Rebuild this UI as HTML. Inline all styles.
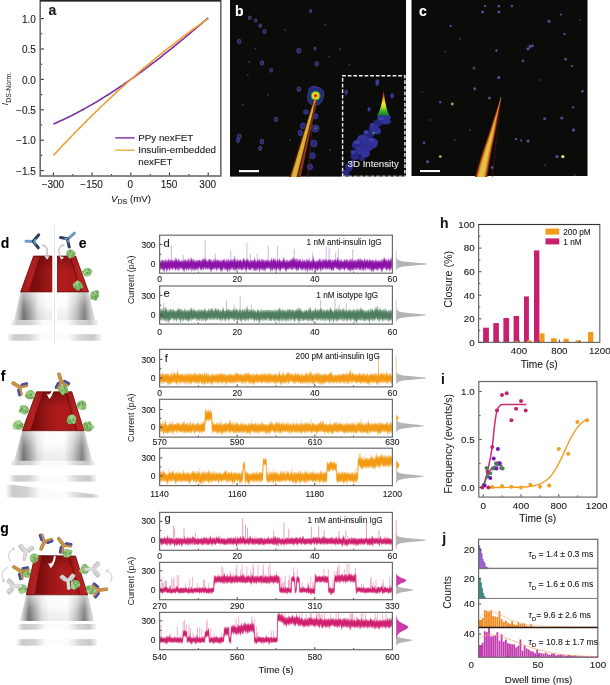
<!DOCTYPE html>
<html><head><meta charset="utf-8"><style>
html,body{margin:0;padding:0;background:#fff;}
svg{display:block;font-family:"Liberation Sans", sans-serif;filter:blur(0.35px);}
</style></head><body>
<svg width="610" height="685" viewBox="0 0 610 685">
<rect width="610" height="685" fill="#fff"/>
<polyline points="53.4,124.0 54.7,123.4 56.0,122.9 57.3,122.3 58.6,121.7 59.9,121.1 61.1,120.6 62.4,120.0 63.7,119.4 65.0,118.8 66.3,118.1 67.6,117.5 68.9,116.9 70.2,116.3 71.5,115.6 72.8,115.0 74.0,114.3 75.3,113.6 76.6,113.0 77.9,112.3 79.2,111.6 80.5,110.9 81.8,110.2 83.1,109.5 84.4,108.8 85.7,108.1 86.9,107.4 88.2,106.6 89.5,105.9 90.8,105.2 92.1,104.4 93.4,103.7 94.7,102.9 96.0,102.2 97.3,101.4 98.6,100.6 99.8,99.8 101.1,99.0 102.4,98.2 103.7,97.4 105.0,96.6 106.3,95.8 107.6,95.0 108.9,94.2 110.2,93.4 111.5,92.5 112.7,91.7 114.0,90.8 115.3,90.0 116.6,89.1 117.9,88.3 119.2,87.4 120.5,86.5 121.8,85.7 123.1,84.8 124.4,83.9 125.6,83.0 126.9,82.1 128.2,81.2 129.5,80.3 130.8,79.4 132.1,78.5 133.4,77.6 134.7,76.6 136.0,75.7 137.2,74.8 138.5,73.8 139.8,72.9 141.1,72.0 142.4,71.0 143.7,70.1 145.0,69.1 146.3,68.1 147.6,67.2 148.9,66.2 150.2,65.2 151.4,64.2 152.7,63.2 154.0,62.3 155.3,61.3 156.6,60.3 157.9,59.3 159.2,58.3 160.5,57.3 161.8,56.3 163.1,55.2 164.3,54.2 165.6,53.2 166.9,52.2 168.2,51.1 169.5,50.1 170.8,49.1 172.1,48.0 173.4,47.0 174.7,46.0 176.0,44.9 177.2,43.9 178.5,42.8 179.8,41.7 181.1,40.7 182.4,39.6 183.7,38.6 185.0,37.5 186.3,36.4 187.6,35.3 188.9,34.3 190.1,33.2 191.4,32.1 192.7,31.0 194.0,29.9 195.3,28.8 196.6,27.7 197.9,26.6 199.2,25.6 200.5,24.5 201.8,23.3 203.0,22.2 204.3,21.1 205.6,20.0 206.9,18.9 208.2,17.8" fill="none" stroke="#7b2ca6" stroke-width="1.6"/>
<polyline points="53.4,155.4 54.7,154.0 56.0,152.6 57.3,151.2 58.6,149.9 59.9,148.5 61.1,147.1 62.4,145.8 63.7,144.4 65.0,143.0 66.3,141.7 67.6,140.3 68.9,139.0 70.2,137.6 71.5,136.3 72.8,135.0 74.0,133.6 75.3,132.3 76.6,131.0 77.9,129.7 79.2,128.4 80.5,127.1 81.8,125.8 83.1,124.5 84.4,123.2 85.7,121.9 86.9,120.6 88.2,119.3 89.5,118.0 90.8,116.8 92.1,115.5 93.4,114.2 94.7,113.0 96.0,111.7 97.3,110.5 98.6,109.2 99.8,108.0 101.1,106.7 102.4,105.5 103.7,104.3 105.0,103.0 106.3,101.8 107.6,100.6 108.9,99.4 110.2,98.2 111.5,97.0 112.7,95.8 114.0,94.6 115.3,93.4 116.6,92.2 117.9,91.0 119.2,89.8 120.5,88.7 121.8,87.5 123.1,86.3 124.4,85.2 125.6,84.0 126.9,82.8 128.2,81.7 129.5,80.5 130.8,79.4 132.1,78.3 133.4,77.1 134.7,76.0 136.0,74.9 137.2,73.8 138.5,72.6 139.8,71.5 141.1,70.4 142.4,69.3 143.7,68.2 145.0,67.1 146.3,66.0 147.6,64.9 148.9,63.9 150.2,62.8 151.4,61.7 152.7,60.6 154.0,59.6 155.3,58.5 156.6,57.4 157.9,56.4 159.2,55.3 160.5,54.3 161.8,53.3 163.1,52.2 164.3,51.2 165.6,50.2 166.9,49.1 168.2,48.1 169.5,47.1 170.8,46.1 172.1,45.1 173.4,44.1 174.7,43.1 176.0,42.1 177.2,41.1 178.5,40.1 179.8,39.1 181.1,38.2 182.4,37.2 183.7,36.2 185.0,35.2 186.3,34.3 187.6,33.3 188.9,32.4 190.1,31.4 191.4,30.5 192.7,29.5 194.0,28.6 195.3,27.7 196.6,26.8 197.9,25.8 199.2,24.9 200.5,24.0 201.8,23.1 203.0,22.2 204.3,21.3 205.6,20.4 206.9,19.5 208.2,18.6" fill="none" stroke="#eaa030" stroke-width="1.6"/>
<rect x="40.2" y="0.6" width="180.6" height="175.4" fill="none" stroke="#6a6a6a" stroke-width="1.6" />
<line x1="40.2" y1="0.6" x2="220.8" y2="0.6" stroke="#222" stroke-width="1.6" />
<line x1="41" y1="170.6" x2="43.8" y2="170.6" stroke="#333" stroke-width="1.1" />
<text x="35.8" y="174.7" font-size="10" text-anchor="end" font-weight="normal" fill="#1a1a1a" stroke="#1a1a1a" stroke-width="0.1" >−1.5</text>
<line x1="41" y1="155.4" x2="42.2" y2="155.4" stroke="#333" stroke-width="1.1" />
<line x1="41" y1="140.2" x2="43.8" y2="140.2" stroke="#333" stroke-width="1.1" />
<text x="35.8" y="144.3" font-size="10" text-anchor="end" font-weight="normal" fill="#1a1a1a" stroke="#1a1a1a" stroke-width="0.1" >−1.0</text>
<line x1="41" y1="125" x2="42.2" y2="125" stroke="#333" stroke-width="1.1" />
<line x1="41" y1="109.8" x2="43.8" y2="109.8" stroke="#333" stroke-width="1.1" />
<text x="35.8" y="113.9" font-size="10" text-anchor="end" font-weight="normal" fill="#1a1a1a" stroke="#1a1a1a" stroke-width="0.1" >−0.5</text>
<line x1="41" y1="94.6" x2="42.2" y2="94.6" stroke="#333" stroke-width="1.1" />
<line x1="41" y1="79.4" x2="43.8" y2="79.4" stroke="#333" stroke-width="1.1" />
<text x="35.8" y="83.5" font-size="10" text-anchor="end" font-weight="normal" fill="#1a1a1a" stroke="#1a1a1a" stroke-width="0.1" >0.0</text>
<line x1="41" y1="64.2" x2="42.2" y2="64.2" stroke="#333" stroke-width="1.1" />
<line x1="41" y1="49" x2="43.8" y2="49" stroke="#333" stroke-width="1.1" />
<text x="35.8" y="53.1" font-size="10" text-anchor="end" font-weight="normal" fill="#1a1a1a" stroke="#1a1a1a" stroke-width="0.1" >0.5</text>
<line x1="41" y1="33.8" x2="42.2" y2="33.8" stroke="#333" stroke-width="1.1" />
<line x1="41" y1="18.6" x2="43.8" y2="18.6" stroke="#333" stroke-width="1.1" />
<text x="35.8" y="22.7" font-size="10" text-anchor="end" font-weight="normal" fill="#1a1a1a" stroke="#1a1a1a" stroke-width="0.1" >1.0</text>
<line x1="53.4" y1="175.2" x2="53.4" y2="172.4" stroke="#333" stroke-width="1.1" />
<text x="52.9" y="188.2" font-size="10" text-anchor="middle" font-weight="normal" fill="#1a1a1a" stroke="#1a1a1a" stroke-width="0.1" >−300</text>
<line x1="72.8" y1="175.2" x2="72.8" y2="174" stroke="#333" stroke-width="1.1" />
<line x1="92.1" y1="175.2" x2="92.1" y2="172.4" stroke="#333" stroke-width="1.1" />
<text x="91.6" y="188.2" font-size="10" text-anchor="middle" font-weight="normal" fill="#1a1a1a" stroke="#1a1a1a" stroke-width="0.1" >−150</text>
<line x1="111.5" y1="175.2" x2="111.5" y2="174" stroke="#333" stroke-width="1.1" />
<line x1="130.8" y1="175.2" x2="130.8" y2="172.4" stroke="#333" stroke-width="1.1" />
<text x="130.3" y="188.2" font-size="10" text-anchor="middle" font-weight="normal" fill="#1a1a1a" stroke="#1a1a1a" stroke-width="0.1" >0</text>
<line x1="150.2" y1="175.2" x2="150.2" y2="174" stroke="#333" stroke-width="1.1" />
<line x1="169.5" y1="175.2" x2="169.5" y2="172.4" stroke="#333" stroke-width="1.1" />
<text x="169" y="188.2" font-size="10" text-anchor="middle" font-weight="normal" fill="#1a1a1a" stroke="#1a1a1a" stroke-width="0.1" >150</text>
<line x1="188.9" y1="175.2" x2="188.9" y2="174" stroke="#333" stroke-width="1.1" />
<line x1="208.2" y1="175.2" x2="208.2" y2="172.4" stroke="#333" stroke-width="1.1" />
<text x="207.7" y="188.2" font-size="10" text-anchor="middle" font-weight="normal" fill="#1a1a1a" stroke="#1a1a1a" stroke-width="0.1" >300</text>
<text x="131" y="202" font-size="9.7" text-anchor="middle" font-weight="normal" fill="#1a1a1a" stroke="#1a1a1a" stroke-width="0.1" ><tspan font-style="italic">V</tspan><tspan font-size="7" dy="2">DS</tspan><tspan dy="-2"> (mV)</tspan></text>
<g transform="translate(7.6,88.6) rotate(-90)"><text x="0" y="0" font-size="9.7" text-anchor="middle" fill="#1a1a1a"><tspan font-style="italic">I</tspan><tspan font-size="7" dy="3.3">DS-Norm.</tspan></text></g>
<text x="48.6" y="14.8" font-size="14" text-anchor="start" font-weight="bold" fill="#1a1a1a" stroke="#1a1a1a" stroke-width="0.1" >a</text>
<line x1="115.3" y1="137.9" x2="134.5" y2="137.9" stroke="#7b2ca6" stroke-width="1.4" />
<line x1="115.3" y1="150.2" x2="134.5" y2="150.2" stroke="#eda334" stroke-width="1.3" />
<text x="138.2" y="141.2" font-size="9.8" text-anchor="start" font-weight="normal" fill="#1a1a1a" stroke="#1a1a1a" stroke-width="0.1" >PPy nexFET</text>
<text x="138.2" y="153.4" font-size="9.8" text-anchor="start" font-weight="normal" fill="#1a1a1a" stroke="#1a1a1a" stroke-width="0.1" >Insulin-embedded</text>
<text x="138.2" y="165.3" font-size="9.8" text-anchor="start" font-weight="normal" fill="#1a1a1a" stroke="#1a1a1a" stroke-width="0.1" >nexFET</text>
<defs><linearGradient id="cone3d" x1="0" y1="1" x2="0" y2="0"><stop offset="0" stop-color="#107a30"/><stop offset="0.18" stop-color="#38b030"/><stop offset="0.35" stop-color="#c8e020"/><stop offset="0.5" stop-color="#f6e81a"/><stop offset="0.68" stop-color="#f49018"/><stop offset="0.85" stop-color="#e82838"/><stop offset="1" stop-color="#e0308a"/></linearGradient><radialGradient id="bdot"><stop offset="0" stop-color="#6a6aa6"/><stop offset="0.5" stop-color="#424282"/><stop offset="1" stop-color="#222244" stop-opacity="0"/></radialGradient><radialGradient id="bdot2"><stop offset="0" stop-color="#4a4ab8"/><stop offset="0.7" stop-color="#3a3aa8"/><stop offset="1" stop-color="#2a2a80" stop-opacity="0"/></radialGradient><filter id="blur04" x="-20%" y="-20%" width="140%" height="140%"><feGaussianBlur stdDeviation="0.5"/></filter><filter id="blur08" x="-30%" y="-30%" width="160%" height="160%"><feGaussianBlur stdDeviation="0.8"/></filter></defs>
<rect x="230" y="0" width="176" height="176.6" fill="#0b0b09" stroke="none" stroke-width="1" />
<rect x="411.5" y="0" width="176" height="176" fill="#0b0b09" stroke="none" stroke-width="1" />
<ellipse cx="249.7" cy="17.8" rx="1.4" ry="1.8" fill="#24245e" stroke="#5656a6" stroke-width="0.7"/>
<ellipse cx="255.7" cy="20.5" rx="1.4" ry="1.7" fill="#24245e" stroke="#5656a6" stroke-width="0.7"/>
<ellipse cx="260.2" cy="25.7" rx="1.4" ry="1.8" fill="#24245e" stroke="#5656a6" stroke-width="0.7"/>
<ellipse cx="264.6" cy="31.5" rx="1.6" ry="2.1" fill="#24245e" stroke="#5656a6" stroke-width="0.7"/>
<ellipse cx="239.2" cy="41.5" rx="1.8" ry="2.3" fill="#24245e" stroke="#5656a6" stroke-width="0.7"/>
<ellipse cx="298.8" cy="50.7" rx="2.0" ry="2.5" fill="#24245e" stroke="#5656a6" stroke-width="0.7"/>
<ellipse cx="310.6" cy="11" rx="1.2" ry="1.5" fill="#24245e" stroke="#5656a6" stroke-width="0.7"/>
<ellipse cx="262" cy="63" rx="1.7" ry="2.2" fill="#24245e" stroke="#5656a6" stroke-width="0.7"/>
<ellipse cx="271.2" cy="70.3" rx="1.4" ry="1.8" fill="#24245e" stroke="#5656a6" stroke-width="0.7"/>
<ellipse cx="316.6" cy="63.8" rx="1.8" ry="2.3" fill="#24245e" stroke="#5656a6" stroke-width="0.7"/>
<ellipse cx="315" cy="48.6" rx="1.2" ry="1.5" fill="#24245e" stroke="#5656a6" stroke-width="0.7"/>
<ellipse cx="298.8" cy="89.2" rx="1.8" ry="2.3" fill="#24245e" stroke="#5656a6" stroke-width="0.7"/>
<ellipse cx="275.9" cy="119.4" rx="1.7" ry="2.2" fill="#24245e" stroke="#5656a6" stroke-width="0.7"/>
<ellipse cx="239.2" cy="136.5" rx="1.9" ry="2.4" fill="#24245e" stroke="#5656a6" stroke-width="0.7"/>
<ellipse cx="237.9" cy="140.4" rx="1.6" ry="2.1" fill="#24245e" stroke="#5656a6" stroke-width="0.7"/>
<ellipse cx="262" cy="141.7" rx="1.9" ry="2.4" fill="#24245e" stroke="#5656a6" stroke-width="0.7"/>
<ellipse cx="260.2" cy="148.3" rx="1.6" ry="2.1" fill="#24245e" stroke="#5656a6" stroke-width="0.7"/>
<ellipse cx="346.2" cy="91.8" rx="1.3" ry="1.6" fill="#24245e" stroke="#5656a6" stroke-width="0.7"/>
<ellipse cx="377.4" cy="81.3" rx="1.4" ry="1.8" fill="#24245e" stroke="#5656a6" stroke-width="0.7"/>
<circle cx="255.5" cy="48.6" r="0.9" fill="#3a3a5a"/>
<circle cx="248.9" cy="61.9" r="0.9" fill="#3a3a5a"/>
<circle cx="247.8" cy="74.8" r="0.9" fill="#3a3a5a"/>
<circle cx="329.2" cy="56.4" r="0.9" fill="#3a3a5a"/>
<circle cx="339.7" cy="49.2" r="0.9" fill="#3a3a5a"/>
<circle cx="349.5" cy="64.6" r="0.9" fill="#3a3a5a"/>
<circle cx="285" cy="30" r="0.9" fill="#3a3a5a"/>
<circle cx="325" cy="25" r="0.9" fill="#3a3a5a"/>
<circle cx="290" cy="140" r="0.9" fill="#3a3a5a"/>
<circle cx="243" cy="105" r="0.9" fill="#3a3a5a"/>
<circle cx="330" cy="150" r="0.9" fill="#3a3a5a"/>
<circle cx="268" cy="95" r="0.9" fill="#3a3a5a"/>
<ellipse cx="314.6" cy="116.3" rx="3.40" ry="2.72" fill="#28287a" stroke="#4444a8" stroke-width="0.7"/>
<ellipse cx="315.3" cy="128.5" rx="3.82" ry="3.57" fill="#28287a" stroke="#4444a8" stroke-width="0.7"/>
<ellipse cx="314" cy="143.4" rx="3.06" ry="3.40" fill="#28287a" stroke="#4444a8" stroke-width="0.7"/>
<ellipse cx="312.6" cy="155.7" rx="2.72" ry="3.06" fill="#28287a" stroke="#4444a8" stroke-width="0.7"/>
<ellipse cx="303" cy="125.8" rx="2.55" ry="2.98" fill="#28287a" stroke="#4444a8" stroke-width="0.7"/>
<ellipse cx="300.4" cy="133" rx="2.21" ry="3.06" fill="#28287a" stroke="#4444a8" stroke-width="0.7"/>
<ellipse cx="310" cy="167" rx="2.55" ry="2.98" fill="#28287a" stroke="#4444a8" stroke-width="0.7"/>
<ellipse cx="306" cy="112" rx="2.55" ry="2.12" fill="#28287a" stroke="#4444a8" stroke-width="0.7"/>
<circle cx="315.6" cy="128.3" r="1.1" fill="#3a9a40"/>
<path d="M309,92 C308,86 314,85.5 318,87.5 C323,88 325,93 323,98 C322,103 318,106 313,105 C308,104 306,98 309,92 Z" fill="#28287a" stroke="#4848b0" stroke-width="0.8"/>
<circle cx="315.6" cy="95.8" r="5" fill="#2aa040"/>
<circle cx="315.6" cy="95.8" r="3.7" fill="#e8e020"/>
<circle cx="315.6" cy="95.8" r="2.0" fill="#f08020"/>
<circle cx="315.6" cy="95.8" r="1.3" fill="#e8102a"/>
<path d="M289.0,177 L313.8,99.2 L317.0,100.6 L300.8,177 Z" fill="#4a1408"/>
<path d="M298.0,177 L316.2,100.4 L316.9,101 L300.6,177 Z" fill="#8a3a20"/>
<path d="M290.8,177 L314.3,99.6 L315.8,100.2 L296.8,177 Z" fill="#c89a28"/>
<path d="M292.0,177 L314.6,100.4 L315.4,100.8 L295.8,177 Z" fill="#dcb436"/>
<line x1="314.2" y1="103" x2="307.8" y2="177" stroke="#6a1a10" stroke-width="0.7"/>
<g filter="url(#blur04)"><ellipse cx="384" cy="117.5" rx="7.0" ry="3.6" fill="#32329a"/><ellipse cx="378" cy="123" rx="5" ry="3.5" fill="#282882"/><ellipse cx="374" cy="128" rx="5" ry="4" fill="#2e2e92"/><ellipse cx="369" cy="134" rx="5.5" ry="4" fill="#26267e"/><ellipse cx="363" cy="139" rx="6" ry="4.5" fill="#303096"/><ellipse cx="358" cy="145" rx="6" ry="5" fill="#2c2c8e"/><ellipse cx="360" cy="151" rx="5" ry="4" fill="#32329a"/><ellipse cx="355" cy="156" rx="4.5" ry="4" fill="#282884"/><ellipse cx="362" cy="158.5" rx="3" ry="2.5" fill="#282882"/><ellipse cx="349" cy="167" rx="4" ry="4.5" fill="#2a2a8a"/><ellipse cx="346" cy="173" rx="3.5" ry="3.5" fill="#282882"/><ellipse cx="353" cy="162" rx="2.5" ry="2.5" fill="#26267e"/><ellipse cx="366" cy="132" rx="2.5" ry="1.8" fill="#4040aa"/><ellipse cx="357" cy="142" rx="3" ry="2" fill="#3c3ca6"/><ellipse cx="381" cy="119" rx="3" ry="1.6" fill="#4242ae"/><ellipse cx="353" cy="152" rx="2.5" ry="2" fill="#3a3aa2"/><ellipse cx="372" cy="124.5" rx="2" ry="1.5" fill="#3e3eaa"/><ellipse cx="372" cy="143" rx="6" ry="5.5" fill="#303096"/><ellipse cx="367" cy="147" rx="6" ry="5" fill="#2e2e92"/><ellipse cx="386" cy="121.5" rx="5" ry="3" fill="#32329a"/><ellipse cx="377" cy="131" rx="4" ry="3.5" fill="#303096"/><ellipse cx="365" cy="153.5" rx="5" ry="4" fill="#32329c"/><ellipse cx="371" cy="140" rx="2.5" ry="2" fill="#4040aa"/></g>
<circle cx="373.5" cy="133" r="1.3" fill="#2a9a40"/>
<path d="M376.8,115.6 C380.6,111 382.6,100 383.6,90.4 C384.6,100 386.6,111 389.6,115.6 Z" fill="url(#cone3d)"/>
<ellipse cx="377.2" cy="83.2" rx="1.8" ry="2.6" fill="#3838aa"/>
<ellipse cx="392.1" cy="95.8" rx="1.8" ry="2.6" fill="#3838aa"/>
<ellipse cx="369" cy="109.3" rx="1.5" ry="2.2" fill="#3838aa"/>
<ellipse cx="346" cy="93.6" rx="1.1" ry="1.7" fill="#3838aa"/>
<path d="M342.6,177 L342.6,75.8 L404.9,75.8 L404.9,177" fill="none" stroke="#f2f2f2" stroke-width="1.4" stroke-dasharray="3.7,1.9"/>
<line x1="342.6" y1="176.2" x2="405.5" y2="176.2" stroke="#f2f2f2" stroke-width="0.9" stroke-dasharray="3.7,1.9"/>
<text x="347.6" y="167" font-size="9.7" text-anchor="start" font-weight="normal" fill="#e4e4e4" stroke="#e4e4e4" stroke-width="0.1" >3D Intensity</text>
<rect x="239" y="170" width="20" height="2.2" fill="#f4f4f4" stroke="none" stroke-width="1" />
<text x="235" y="15.5" font-size="14" text-anchor="start" font-weight="bold" fill="#ffffff" stroke="#ffffff" stroke-width="0.1" >b</text>
<circle cx="485" cy="5.9" r="1.8" fill="url(#bdot)"/>
<circle cx="498.8" cy="6.2" r="2.0" fill="url(#bdot)"/>
<circle cx="511.9" cy="6.2" r="1.9" fill="url(#bdot)"/>
<circle cx="482.6" cy="12" r="2.1" fill="url(#bdot)"/>
<circle cx="498.8" cy="12" r="2.1" fill="url(#bdot)"/>
<circle cx="450.6" cy="25.8" r="1.7" fill="url(#bdot)"/>
<circle cx="560.8" cy="14.5" r="1.6" fill="url(#bdot)"/>
<circle cx="549" cy="21.3" r="2.3" fill="url(#bdot)"/>
<circle cx="564.5" cy="34.1" r="1.8" fill="url(#bdot)"/>
<circle cx="496.4" cy="50.6" r="1.8" fill="url(#bdot)"/>
<circle cx="530.1" cy="46.5" r="2.4" fill="url(#bdot)"/>
<circle cx="532.5" cy="45.8" r="2.0" fill="url(#bdot)"/>
<circle cx="528" cy="48.9" r="2.3" fill="url(#bdot)"/>
<circle cx="522.9" cy="60.9" r="2.0" fill="url(#bdot)"/>
<circle cx="565.6" cy="59.2" r="2.1" fill="url(#bdot)"/>
<circle cx="572.1" cy="66.1" r="1.7" fill="url(#bdot)"/>
<circle cx="474" cy="68.2" r="2.1" fill="url(#bdot)"/>
<circle cx="498.8" cy="77.5" r="2.3" fill="url(#bdot)"/>
<circle cx="582.4" cy="91.2" r="2.0" fill="url(#bdot)"/>
<circle cx="474.7" cy="88.8" r="2.2" fill="url(#bdot)"/>
<circle cx="489.5" cy="98.1" r="2.1" fill="url(#bdot)"/>
<circle cx="573.2" cy="107.4" r="1.7" fill="url(#bdot)"/>
<circle cx="561.8" cy="118.1" r="2.2" fill="url(#bdot)"/>
<circle cx="544.6" cy="118.8" r="2.1" fill="url(#bdot)"/>
<circle cx="516" cy="139.1" r="1.8" fill="url(#bdot)"/>
<circle cx="521.2" cy="140.4" r="1.6" fill="url(#bdot)"/>
<circle cx="528.1" cy="141.1" r="2.3" fill="url(#bdot)"/>
<circle cx="424.1" cy="142.9" r="2.0" fill="url(#bdot)"/>
<circle cx="427.5" cy="161.8" r="2.2" fill="url(#bdot)"/>
<circle cx="557" cy="156.6" r="2.3" fill="url(#bdot)"/>
<circle cx="492.3" cy="167.6" r="2.2" fill="url(#bdot)"/>
<circle cx="573.5" cy="130.1" r="2.3" fill="url(#bdot)"/>
<circle cx="440.3" cy="102.2" r="1.9" fill="url(#bdot)"/>
<circle cx="444.8" cy="51.6" r="1.0" fill="#33334a"/>
<circle cx="460.2" cy="38.9" r="1.0" fill="#33334a"/>
<circle cx="422.4" cy="92.3" r="1.0" fill="#33334a"/>
<circle cx="473.8" cy="68.6" r="1.0" fill="#33334a"/>
<circle cx="580" cy="20" r="1.0" fill="#33334a"/>
<circle cx="540" cy="80" r="1.0" fill="#33334a"/>
<circle cx="430" cy="120" r="1.0" fill="#33334a"/>
<circle cx="470" cy="130" r="1.0" fill="#33334a"/>
<circle cx="545" cy="165" r="1.0" fill="#33334a"/>
<circle cx="575" cy="175" r="1.0" fill="#33334a"/>
<circle cx="455" cy="140" r="1.0" fill="#33334a"/>
<circle cx="562.8" cy="156.6" r="1.7" fill="#d8d860"/>
<circle cx="562.8" cy="156.6" r="0.8" fill="#f4f4b0"/>
<circle cx="452.3" cy="104" r="1.4" fill="#80b860"/>
<circle cx="440.3" cy="156.6" r="1.4" fill="#a0c060"/>
<path d="M475.0,177.0 L479.0,163.0 L483.1,150.0 L487.6,137.0 L491.9,123.8 L495.8,112.0 L499.2,101.9 L501.0,97.0 L501.2,97.0 L500.7,101.9 L499.0,112.0 L497.0,123.8 L494.6,137.0 L491.9,150.0 L489.6,163.0 L487.2,177.0 Z" fill="#6a1a08"/>
<path d="M476.0,177.0 L479.9,163.0 L483.9,150.0 L488.4,137.0 L492.6,123.8 L496.4,112.0 L499.7,101.9 L501.0,97.0 L501.2,97.0 L500.2,101.9 L498.4,112.0 L496.3,123.8 L493.8,137.0 L491.1,150.0 L488.7,163.0 L486.2,177.0 Z" fill="#c0561a"/>
<path d="M477.3,177.0 L481.1,163.0 L485.0,150.0 L489.3,137.0 L493.5,123.8 L497.2,112.0 L499.8,101.9 L501.0,97.0 L501.2,97.0 L500.1,101.9 L497.6,112.0 L495.4,123.8 L492.9,137.0 L490.0,150.0 L487.5,163.0 L484.9,177.0 Z" fill="#d6a432"/>
<path d="M478.6,177.0 L482.3,163.0 L486.1,150.0 L490.3,137.0 L494.3,123.8 L497.2,112.0 L499.8,101.9 L501.0,97.0 L501.2,97.0 L500.1,101.9 L497.5,112.0 L494.6,123.8 L491.9,137.0 L488.9,150.0 L486.3,163.0 L483.6,177.0 Z" fill="#e6c248"/>
<path d="M492.5,177 C495,152 497.5,126 500.4,104" fill="none" stroke="#5a1a10" stroke-width="0.6"/>
<rect x="420" y="170" width="20" height="2.1" fill="#f4f4f4" stroke="none" stroke-width="1" />
<text x="419" y="15.5" font-size="14" text-anchor="start" font-weight="bold" fill="#ffffff" stroke="#ffffff" stroke-width="0.1" >c</text>
<line x1="264.9" y1="262.2" x2="264.9" y2="260.1" stroke="#d9a6e4" stroke-width="0.6" />
<line x1="374.8" y1="262.2" x2="374.8" y2="260.3" stroke="#d9a6e4" stroke-width="0.6" />
<line x1="277.8" y1="262.2" x2="277.8" y2="260" stroke="#d9a6e4" stroke-width="0.6" />
<line x1="202.6" y1="262.2" x2="202.6" y2="260.2" stroke="#d9a6e4" stroke-width="0.6" />
<line x1="306.2" y1="262.2" x2="306.2" y2="259.5" stroke="#d9a6e4" stroke-width="0.6" />
<line x1="181.5" y1="262.2" x2="181.5" y2="260.8" stroke="#d9a6e4" stroke-width="0.6" />
<line x1="171.4" y1="262.2" x2="171.4" y2="245.8" stroke="#c490d4" stroke-width="0.7" />
<line x1="183.2" y1="262.2" x2="183.2" y2="254.7" stroke="#c490d4" stroke-width="0.7" />
<line x1="205.2" y1="262.2" x2="205.2" y2="239.9" stroke="#c490d4" stroke-width="0.7" />
<line x1="215.1" y1="262.2" x2="215.1" y2="253.7" stroke="#c490d4" stroke-width="0.7" />
<line x1="230.8" y1="262.2" x2="230.8" y2="250.7" stroke="#c490d4" stroke-width="0.7" />
<line x1="246.9" y1="262.2" x2="246.9" y2="242.9" stroke="#c490d4" stroke-width="0.7" />
<line x1="250.5" y1="262.2" x2="250.5" y2="253.7" stroke="#c490d4" stroke-width="0.7" />
<line x1="257.3" y1="262.2" x2="257.3" y2="253.7" stroke="#c490d4" stroke-width="0.7" />
<line x1="268.2" y1="262.2" x2="268.2" y2="245.8" stroke="#c490d4" stroke-width="0.7" />
<line x1="277.4" y1="262.2" x2="277.4" y2="245.8" stroke="#c490d4" stroke-width="0.7" />
<line x1="294.3" y1="262.2" x2="294.3" y2="248.8" stroke="#c490d4" stroke-width="0.7" />
<line x1="312.4" y1="262.2" x2="312.4" y2="252.7" stroke="#c490d4" stroke-width="0.7" />
<line x1="326.2" y1="262.2" x2="326.2" y2="246.8" stroke="#c490d4" stroke-width="0.7" />
<line x1="329.1" y1="262.2" x2="329.1" y2="247.8" stroke="#c490d4" stroke-width="0.7" />
<line x1="335.6" y1="262.2" x2="335.6" y2="252.7" stroke="#c490d4" stroke-width="0.7" />
<line x1="338.3" y1="262.2" x2="338.3" y2="248.8" stroke="#c490d4" stroke-width="0.7" />
<line x1="352.7" y1="262.2" x2="352.7" y2="249.3" stroke="#c490d4" stroke-width="0.7" />
<polygon points="160.2,261.6 160.7,260.9 161.2,260.7 161.7,259.8 162.2,261.5 162.7,259.6 163.2,260.5 163.7,260.7 164.2,260.2 164.7,260.9 165.2,261.1 165.7,259.1 166.2,261.0 166.7,261.7 167.2,259.6 167.7,260.9 168.2,261.0 168.7,258.3 169.2,261.1 169.7,260.1 170.2,260.5 170.7,260.1 171.2,259.6 171.7,260.2 172.2,260.9 172.7,259.5 173.2,260.9 173.7,260.5 174.2,261.1 174.7,259.4 175.2,261.5 175.7,257.4 176.2,259.4 176.7,258.6 177.2,260.5 177.7,261.3 178.2,260.4 178.7,258.7 179.2,261.0 179.7,260.1 180.2,261.1 180.7,261.1 181.2,261.0 181.7,260.8 182.2,260.3 182.7,261.2 183.2,261.6 183.7,260.1 184.2,259.5 184.7,261.0 185.2,259.8 185.7,259.3 186.2,261.0 186.7,261.1 187.2,259.7 187.7,261.4 188.2,258.2 188.7,261.2 189.2,261.7 189.7,259.3 190.2,259.5 190.7,261.5 191.2,257.2 191.7,259.8 192.2,259.3 192.7,260.7 193.2,259.2 193.7,260.4 194.2,261.4 194.7,259.3 195.2,261.3 195.7,261.5 196.2,261.0 196.7,259.9 197.2,260.6 197.7,259.9 198.2,260.5 198.7,260.4 199.2,259.9 199.7,259.7 200.2,260.3 200.7,260.9 201.2,260.2 201.7,260.8 202.2,260.1 202.7,258.8 203.2,261.2 203.7,257.9 204.2,259.2 204.7,259.7 205.2,258.4 205.7,258.8 206.2,260.8 206.7,260.2 207.2,260.8 207.7,261.9 208.2,259.0 208.7,261.4 209.2,258.8 209.7,259.0 210.2,259.7 210.7,259.6 211.2,259.6 211.7,261.1 212.2,260.5 212.7,261.7 213.2,260.6 213.7,259.4 214.2,261.0 214.7,261.3 215.2,258.6 215.7,260.6 216.2,260.1 216.7,261.1 217.2,258.7 217.7,261.2 218.2,259.8 218.7,260.4 219.2,260.0 219.7,260.6 220.2,260.9 220.7,261.2 221.2,259.5 221.7,261.2 222.2,260.6 222.7,260.3 223.2,259.7 223.7,259.8 224.2,258.8 224.7,261.6 225.2,261.2 225.7,261.1 226.2,259.2 226.7,260.4 227.2,260.9 227.7,260.3 228.2,258.2 228.7,260.9 229.2,260.0 229.7,261.2 230.2,260.9 230.7,259.7 231.2,260.2 231.7,259.4 232.2,259.5 232.7,260.3 233.2,260.7 233.7,259.1 234.2,260.1 234.7,256.1 235.2,262.1 235.7,259.4 236.2,260.6 236.7,261.0 237.2,258.8 237.7,260.7 238.2,261.9 238.7,259.6 239.2,260.7 239.7,259.9 240.2,259.6 240.7,259.7 241.2,260.6 241.7,261.1 242.2,261.1 242.7,260.3 243.2,258.6 243.7,258.0 244.2,260.2 244.7,259.0 245.2,261.6 245.7,260.4 246.2,259.9 246.7,259.8 247.2,258.5 247.7,260.1 248.2,259.3 248.7,261.0 249.2,261.3 249.7,260.7 250.2,260.4 250.7,260.3 251.2,260.8 251.7,260.5 252.2,260.3 252.7,260.3 253.2,260.5 253.7,260.2 254.2,261.3 254.7,257.3 255.2,260.2 255.7,261.1 256.2,260.4 256.7,261.8 257.2,260.8 257.7,259.8 258.2,259.5 258.7,260.4 259.2,259.8 259.7,258.5 260.2,261.2 260.7,261.5 261.2,259.6 261.7,259.5 262.2,260.9 262.7,259.1 263.2,260.1 263.7,260.0 264.2,260.0 264.7,262.0 265.2,260.3 265.7,261.0 266.2,259.5 266.7,261.4 267.2,259.7 267.7,260.9 268.2,260.8 268.7,260.0 269.2,261.4 269.7,260.8 270.2,260.2 270.7,261.5 271.2,259.4 271.7,257.9 272.2,260.7 272.7,260.9 273.2,258.6 273.7,258.6 274.2,259.1 274.7,260.8 275.2,258.7 275.7,259.6 276.2,261.8 276.7,261.6 277.2,259.7 277.7,259.5 278.2,259.8 278.7,261.5 279.2,260.0 279.7,258.1 280.2,261.2 280.7,260.5 281.2,261.5 281.7,260.9 282.2,259.9 282.7,262.1 283.2,260.4 283.7,257.0 284.2,259.0 284.7,261.2 285.2,260.3 285.7,261.2 286.2,261.5 286.7,259.4 287.2,259.8 287.7,261.2 288.2,261.0 288.7,261.5 289.2,260.0 289.7,260.5 290.2,260.4 290.7,259.5 291.2,259.0 291.7,260.3 292.2,258.8 292.7,258.7 293.2,257.1 293.7,258.9 294.2,261.0 294.7,257.9 295.2,259.3 295.7,260.1 296.2,258.5 296.7,260.8 297.2,258.5 297.7,260.8 298.2,262.0 298.7,259.1 299.2,260.0 299.7,259.7 300.2,258.9 300.7,260.2 301.2,261.3 301.7,261.4 302.2,261.7 302.7,258.8 303.2,260.8 303.7,261.4 304.2,259.6 304.7,260.7 305.2,261.5 305.7,261.5 306.2,259.4 306.7,261.1 307.2,259.1 307.7,261.6 308.2,259.9 308.7,261.1 309.2,258.1 309.7,261.6 310.2,261.3 310.7,261.8 311.2,260.4 311.7,260.6 312.2,261.1 312.7,261.6 313.2,256.2 313.7,259.6 314.2,260.0 314.7,261.3 315.2,261.5 315.7,261.2 316.2,260.8 316.7,261.1 317.2,260.9 317.7,259.9 318.2,260.7 318.7,261.3 319.2,258.4 319.7,260.0 320.2,258.4 320.7,261.6 321.2,260.7 321.7,260.4 322.2,259.0 322.7,260.7 323.2,261.8 323.7,258.8 324.2,259.5 324.7,260.8 325.2,259.4 325.7,259.6 326.2,259.4 326.7,260.8 327.2,259.7 327.7,261.5 328.2,260.0 328.7,259.3 329.2,259.3 329.7,259.9 330.2,260.3 330.7,258.8 331.2,262.7 331.7,260.3 332.2,260.0 332.7,259.7 333.2,261.9 333.7,259.9 334.2,260.0 334.7,259.5 335.2,260.2 335.7,259.6 336.2,260.6 336.7,260.6 337.2,259.6 337.7,257.3 338.2,260.1 338.7,261.4 339.2,259.3 339.7,261.6 340.2,261.0 340.7,260.3 341.2,258.8 341.7,261.3 342.2,261.2 342.7,261.0 343.2,261.5 343.7,260.8 344.2,259.2 344.7,260.1 345.2,261.1 345.7,259.6 346.2,260.0 346.7,259.7 347.2,259.2 347.7,260.2 348.2,261.5 348.7,261.1 349.2,259.7 349.7,259.5 350.2,261.5 350.7,259.1 351.2,259.3 351.7,261.0 352.2,258.5 352.7,261.5 353.2,260.7 353.7,260.8 354.2,259.7 354.7,260.7 355.2,259.7 355.7,260.4 356.2,262.0 356.7,259.5 357.2,259.8 357.7,261.0 358.2,258.2 358.7,260.1 359.2,259.2 359.7,260.9 360.2,258.1 360.7,261.2 361.2,259.0 361.7,260.0 362.2,260.1 362.7,260.3 363.2,261.2 363.7,260.4 364.2,260.4 364.7,258.0 365.2,260.4 365.7,260.7 366.2,259.9 366.7,260.4 367.2,258.9 367.7,259.5 368.2,261.3 368.7,261.0 369.2,260.2 369.7,258.7 370.2,260.2 370.7,260.0 371.2,260.5 371.7,260.9 372.2,259.9 372.7,260.0 373.2,259.9 373.7,260.9 374.2,261.6 374.7,260.6 375.2,261.9 375.7,259.1 376.2,261.9 376.7,259.7 377.2,261.3 377.7,260.9 378.2,260.5 378.7,260.2 379.2,261.8 379.7,261.1 380.2,260.4 380.7,260.2 381.2,261.2 381.7,259.4 382.2,260.6 382.7,260.0 383.2,258.6 383.7,261.0 384.2,256.9 384.7,259.3 385.2,259.1 385.7,259.2 386.2,261.9 386.7,259.1 387.2,260.8 387.7,260.3 388.2,260.2 388.7,258.4 389.2,260.7 389.7,260.8 390.2,258.3 390.7,261.1 391.2,259.9 391.7,257.3 391.7,267.9 391.2,269.6 390.7,269.4 390.2,268.4 389.7,271.6 389.2,270.2 388.7,268.7 388.2,268.7 387.7,269.2 387.2,270.3 386.7,270.3 386.2,270.4 385.7,268.7 385.2,268.3 384.7,268.8 384.2,268.0 383.7,269.0 383.2,268.1 382.7,270.7 382.2,271.0 381.7,272.4 381.2,270.4 380.7,269.4 380.2,268.5 379.7,268.1 379.2,269.2 378.7,269.1 378.2,269.6 377.7,271.2 377.2,269.0 376.7,269.8 376.2,270.3 375.7,268.7 375.2,269.2 374.7,269.4 374.2,269.8 373.7,270.9 373.2,271.7 372.7,271.1 372.2,268.8 371.7,272.2 371.2,269.4 370.7,268.0 370.2,270.7 369.7,268.5 369.2,269.4 368.7,268.9 368.2,269.6 367.7,268.8 367.2,269.5 366.7,268.4 366.2,268.0 365.7,269.0 365.2,271.0 364.7,268.5 364.2,268.3 363.7,271.2 363.2,269.4 362.7,268.0 362.2,271.1 361.7,267.7 361.2,268.8 360.7,270.5 360.2,269.5 359.7,268.9 359.2,270.5 358.7,269.7 358.2,267.9 357.7,268.6 357.2,269.5 356.7,270.1 356.2,269.2 355.7,269.6 355.2,268.1 354.7,269.9 354.2,269.2 353.7,269.4 353.2,270.1 352.7,270.3 352.2,270.8 351.7,268.8 351.2,270.7 350.7,268.9 350.2,271.8 349.7,270.1 349.2,270.2 348.7,270.3 348.2,269.8 347.7,269.5 347.2,269.6 346.7,269.1 346.2,268.0 345.7,268.8 345.2,269.1 344.7,270.2 344.2,270.9 343.7,268.4 343.2,269.1 342.7,268.6 342.2,269.5 341.7,268.7 341.2,269.2 340.7,268.7 340.2,270.5 339.7,271.2 339.2,268.6 338.7,269.6 338.2,269.5 337.7,269.7 337.2,268.4 336.7,268.7 336.2,268.9 335.7,268.1 335.2,268.1 334.7,267.6 334.2,268.5 333.7,270.2 333.2,271.2 332.7,269.2 332.2,269.6 331.7,269.7 331.2,271.3 330.7,268.8 330.2,268.5 329.7,269.9 329.2,269.1 328.7,268.8 328.2,268.6 327.7,269.0 327.2,269.8 326.7,267.9 326.2,269.4 325.7,269.2 325.2,269.4 324.7,267.9 324.2,268.6 323.7,267.9 323.2,269.8 322.7,269.9 322.2,270.1 321.7,267.6 321.2,269.3 320.7,271.4 320.2,270.1 319.7,268.3 319.2,268.7 318.7,269.7 318.2,269.0 317.7,271.0 317.2,270.6 316.7,269.9 316.2,268.4 315.7,272.4 315.2,269.3 314.7,269.8 314.2,268.3 313.7,269.5 313.2,268.3 312.7,268.7 312.2,271.4 311.7,269.4 311.2,268.8 310.7,270.7 310.2,269.1 309.7,269.4 309.2,271.1 308.7,268.2 308.2,268.4 307.7,270.8 307.2,272.4 306.7,269.1 306.2,268.9 305.7,269.0 305.2,271.5 304.7,268.2 304.2,268.7 303.7,269.5 303.2,269.3 302.7,268.8 302.2,270.9 301.7,270.2 301.2,268.5 300.7,269.5 300.2,268.9 299.7,267.8 299.2,268.0 298.7,269.4 298.2,271.1 297.7,269.3 297.2,269.6 296.7,271.3 296.2,269.3 295.7,269.1 295.2,269.1 294.7,268.5 294.2,268.7 293.7,268.8 293.2,269.5 292.7,269.2 292.2,269.0 291.7,270.3 291.2,269.7 290.7,268.8 290.2,268.4 289.7,269.0 289.2,267.7 288.7,269.9 288.2,268.4 287.7,269.1 287.2,269.0 286.7,271.5 286.2,270.0 285.7,271.1 285.2,270.7 284.7,268.6 284.2,268.7 283.7,267.5 283.2,269.3 282.7,269.3 282.2,268.2 281.7,268.7 281.2,268.3 280.7,270.6 280.2,271.5 279.7,267.4 279.2,271.3 278.7,269.8 278.2,268.2 277.7,269.1 277.2,268.0 276.7,270.1 276.2,271.5 275.7,267.5 275.2,270.8 274.7,270.2 274.2,268.6 273.7,269.0 273.2,268.3 272.7,270.9 272.2,270.7 271.7,268.2 271.2,269.9 270.7,272.4 270.2,267.8 269.7,268.9 269.2,268.6 268.7,268.4 268.2,268.7 267.7,268.6 267.2,267.7 266.7,269.1 266.2,268.7 265.7,268.8 265.2,271.4 264.7,270.7 264.2,269.4 263.7,270.7 263.2,269.0 262.7,270.6 262.2,268.9 261.7,270.2 261.2,268.1 260.7,269.1 260.2,270.2 259.7,270.6 259.2,271.9 258.7,267.7 258.2,268.4 257.7,270.1 257.2,269.4 256.7,268.9 256.2,270.9 255.7,270.2 255.2,270.4 254.7,270.4 254.2,270.4 253.7,270.7 253.2,268.7 252.7,268.0 252.2,269.1 251.7,268.3 251.2,269.7 250.7,270.7 250.2,269.6 249.7,269.8 249.2,270.0 248.7,269.9 248.2,268.8 247.7,267.7 247.2,269.5 246.7,269.2 246.2,272.3 245.7,268.9 245.2,270.6 244.7,268.7 244.2,267.1 243.7,269.3 243.2,269.7 242.7,270.0 242.2,269.0 241.7,270.8 241.2,269.4 240.7,269.1 240.2,269.4 239.7,268.5 239.2,269.9 238.7,268.4 238.2,269.9 237.7,268.2 237.2,269.4 236.7,269.5 236.2,270.2 235.7,268.7 235.2,271.3 234.7,268.2 234.2,270.3 233.7,270.6 233.2,269.4 232.7,267.9 232.2,269.5 231.7,268.1 231.2,269.4 230.7,269.0 230.2,270.4 229.7,269.4 229.2,271.5 228.7,268.3 228.2,269.8 227.7,271.9 227.2,271.5 226.7,269.2 226.2,269.3 225.7,270.3 225.2,268.8 224.7,270.0 224.2,267.8 223.7,268.9 223.2,267.9 222.7,270.5 222.2,271.1 221.7,271.6 221.2,269.6 220.7,271.7 220.2,268.9 219.7,268.5 219.2,269.5 218.7,267.7 218.2,269.7 217.7,268.5 217.2,269.1 216.7,271.3 216.2,268.8 215.7,268.3 215.2,269.4 214.7,268.7 214.2,269.2 213.7,270.0 213.2,268.7 212.7,269.2 212.2,269.3 211.7,270.3 211.2,271.9 210.7,268.3 210.2,271.8 209.7,268.2 209.2,268.9 208.7,269.1 208.2,268.4 207.7,269.8 207.2,268.4 206.7,268.8 206.2,268.6 205.7,269.8 205.2,268.9 204.7,268.1 204.2,268.7 203.7,269.6 203.2,270.0 202.7,269.5 202.2,268.2 201.7,269.1 201.2,271.1 200.7,268.7 200.2,269.9 199.7,267.8 199.2,267.8 198.7,268.0 198.2,270.0 197.7,268.7 197.2,270.5 196.7,268.7 196.2,269.1 195.7,270.1 195.2,270.3 194.7,268.5 194.2,271.1 193.7,269.4 193.2,269.8 192.7,268.6 192.2,270.7 191.7,271.5 191.2,267.6 190.7,269.8 190.2,268.1 189.7,269.3 189.2,269.5 188.7,270.3 188.2,270.4 187.7,268.8 187.2,268.7 186.7,269.6 186.2,270.7 185.7,268.0 185.2,269.6 184.7,269.4 184.2,271.8 183.7,268.3 183.2,271.1 182.7,268.8 182.2,270.2 181.7,268.3 181.2,268.3 180.7,268.2 180.2,268.4 179.7,269.7 179.2,270.1 178.7,267.6 178.2,271.2 177.7,270.2 177.2,268.8 176.7,268.4 176.2,270.1 175.7,270.5 175.2,270.2 174.7,268.3 174.2,269.0 173.7,268.4 173.2,268.5 172.7,269.7 172.2,270.1 171.7,268.6 171.2,268.8 170.7,268.1 170.2,269.9 169.7,269.1 169.2,271.3 168.7,267.9 168.2,269.5 167.7,269.8 167.2,270.2 166.7,272.1 166.2,268.9 165.7,268.2 165.2,269.4 164.7,269.7 164.2,272.1 163.7,270.5 163.2,270.8 162.7,269.6 162.2,269.6 161.7,269.0 161.2,269.3 160.7,269.4 160.2,269.9" fill="#8a12a8" stroke="#8a12a8" stroke-width="0.3" opacity="0.7"/>
<polygon points="160.2,263.3 160.7,262.6 161.2,262.4 161.7,261.7 162.2,263.1 162.7,261.6 163.2,262.5 163.7,262.7 164.2,262.6 164.7,262.7 165.2,262.8 165.7,261.0 166.2,262.6 166.7,263.8 167.2,261.7 167.7,262.7 168.2,262.7 168.7,260.2 169.2,263.1 169.7,261.9 170.2,262.4 170.7,261.7 171.2,261.5 171.7,261.9 172.2,262.7 172.7,261.5 173.2,262.4 173.7,262.1 174.2,262.7 174.7,261.2 175.2,263.3 175.7,260.0 176.2,261.5 176.7,260.6 177.2,262.2 177.7,263.1 178.2,262.6 178.7,260.5 179.2,262.8 179.7,262.0 180.2,262.6 180.7,262.5 181.2,262.5 181.7,262.3 182.2,262.3 182.7,262.7 183.2,263.5 183.7,261.8 184.2,262.0 184.7,262.6 185.2,261.8 185.7,261.0 186.2,262.9 186.7,262.8 187.2,261.5 187.7,262.9 188.2,260.6 188.7,263.0 189.2,263.3 189.7,261.3 190.2,261.2 190.7,263.2 191.2,259.3 191.7,262.1 192.2,261.6 192.7,262.3 193.2,261.3 193.7,262.2 194.2,263.3 194.7,261.1 195.2,263.1 195.7,263.2 196.2,262.6 196.7,261.7 197.2,262.6 197.7,261.7 198.2,262.4 198.7,261.9 199.2,261.5 199.7,261.3 200.2,262.3 200.7,262.5 201.2,262.4 201.7,262.4 202.2,261.7 202.7,260.9 203.2,262.9 203.7,260.2 204.2,261.1 204.7,261.3 205.2,260.5 205.7,261.0 206.2,262.3 206.7,261.9 207.2,262.4 207.7,263.5 208.2,260.9 208.7,262.9 209.2,260.8 209.7,260.9 210.2,262.2 210.7,261.3 211.2,262.1 211.7,263.0 212.2,262.3 212.7,263.2 213.2,262.2 213.7,261.6 214.2,262.7 214.7,262.8 215.2,260.8 215.7,262.2 216.2,261.9 216.7,263.2 217.2,260.8 217.7,262.6 218.2,261.8 218.7,261.9 219.2,261.9 219.7,262.2 220.2,262.5 220.7,263.3 221.2,261.5 221.7,263.3 222.2,262.7 222.7,262.4 223.2,261.3 223.7,261.6 224.2,260.6 224.7,263.3 225.2,262.7 225.7,262.9 226.2,261.2 226.7,262.1 227.2,263.0 227.7,262.6 228.2,260.5 228.7,262.4 229.2,262.3 229.7,262.8 230.2,262.8 230.7,261.6 231.2,262.1 231.7,261.1 232.2,261.5 232.7,261.9 233.2,262.4 233.7,261.4 234.2,262.2 234.7,258.5 235.2,263.9 235.7,261.3 236.2,262.5 236.7,262.7 237.2,260.9 237.7,262.2 238.2,263.5 238.7,261.4 239.2,262.5 239.7,261.6 240.2,261.6 240.7,261.6 241.2,262.4 241.7,263.1 242.2,262.7 242.7,262.2 243.2,260.8 243.7,260.3 244.2,261.6 244.7,260.9 245.2,263.4 245.7,262.1 246.2,262.4 246.7,261.7 247.2,260.7 247.7,261.6 248.2,261.2 248.7,262.8 249.2,263.1 249.7,262.5 250.2,262.3 250.7,262.4 251.2,262.6 251.7,262.0 252.2,262.1 252.7,261.9 253.2,262.1 253.7,262.3 254.2,263.2 254.7,259.9 255.2,262.2 255.7,262.9 256.2,262.5 256.7,263.2 257.2,262.5 257.7,261.8 258.2,261.2 258.7,261.9 259.2,262.2 259.7,260.9 260.2,263.0 260.7,263.0 261.2,261.3 261.7,261.6 262.2,262.5 262.7,261.4 263.2,261.9 263.7,262.2 264.2,261.9 264.7,263.7 265.2,262.5 265.7,262.5 266.2,261.3 266.7,262.9 267.2,261.3 267.7,262.5 268.2,262.4 268.7,261.7 269.2,262.8 269.7,262.4 270.2,261.7 270.7,263.6 271.2,261.5 271.7,260.0 272.2,262.7 272.7,262.9 273.2,260.5 273.7,260.6 274.2,261.0 274.7,262.7 275.2,261.1 275.7,261.1 276.2,263.7 276.7,263.3 277.2,261.4 277.7,261.4 278.2,261.5 278.7,263.2 279.2,262.3 279.7,260.0 280.2,263.3 280.7,262.5 281.2,262.8 281.7,262.5 282.2,261.5 282.7,263.5 283.2,262.2 283.7,259.1 284.2,261.0 284.7,262.7 285.2,262.4 285.7,263.2 286.2,263.2 286.7,261.8 287.2,261.7 287.7,262.8 288.2,262.5 288.7,263.2 289.2,261.6 289.7,262.2 290.2,262.0 290.7,261.3 291.2,261.1 291.7,262.3 292.2,260.8 292.7,260.8 293.2,259.6 293.7,260.9 294.2,262.5 294.7,260.0 295.2,261.2 295.7,261.9 296.2,260.7 296.7,262.9 297.2,260.7 297.7,262.5 298.2,263.9 298.7,261.1 299.2,261.6 299.7,261.3 300.2,260.9 300.7,262.1 301.2,262.7 301.7,263.2 302.2,263.5 302.7,260.8 303.2,262.5 303.7,263.0 304.2,261.4 304.7,262.2 305.2,263.5 305.7,263.0 306.2,261.3 306.7,262.7 307.2,261.7 307.7,263.4 308.2,261.6 308.7,262.5 309.2,260.7 309.7,263.2 310.2,262.8 310.7,263.6 311.2,262.1 311.7,262.3 312.2,263.2 312.7,263.0 313.2,258.7 313.7,261.6 314.2,261.7 314.7,263.0 315.2,263.1 315.7,263.4 316.2,262.3 316.7,262.8 317.2,262.9 317.7,262.2 318.2,262.4 318.7,263.0 319.2,260.4 319.7,261.6 320.2,260.8 320.7,263.5 321.2,262.4 321.7,261.9 322.2,261.2 322.7,262.6 323.2,263.4 323.7,260.6 324.2,261.3 324.7,262.2 325.2,261.4 325.7,261.5 326.2,261.4 326.7,262.2 327.2,261.7 327.7,263.0 328.2,261.7 328.7,261.2 329.2,261.3 329.7,261.9 330.2,261.9 330.7,260.8 331.2,264.4 331.7,262.2 332.2,261.9 332.7,261.6 333.2,263.8 333.7,262.0 334.2,261.7 334.7,261.1 335.2,261.8 335.7,261.3 336.2,262.2 336.7,262.2 337.2,261.4 337.7,259.8 338.2,262.0 338.7,263.0 339.2,261.2 339.7,263.6 340.2,262.9 340.7,262.0 341.2,260.9 341.7,262.7 342.2,262.8 342.7,262.5 343.2,263.0 343.7,262.3 344.2,261.6 344.7,262.1 345.2,262.7 345.7,261.4 346.2,261.6 346.7,261.6 347.2,261.3 347.7,262.1 348.2,263.1 348.7,262.9 349.2,261.8 349.7,261.6 350.2,263.6 350.7,261.1 351.2,261.6 351.7,262.6 352.2,261.0 352.7,263.2 353.2,262.6 353.7,262.5 354.2,261.6 354.7,262.5 355.2,261.4 355.7,262.3 356.2,263.4 356.7,261.7 357.2,261.8 357.7,262.5 358.2,260.1 358.7,262.0 359.2,261.5 359.7,262.5 360.2,260.4 360.7,263.1 361.2,261.0 361.7,261.6 362.2,262.3 362.7,261.8 363.2,262.8 363.7,262.6 364.2,262.0 364.7,260.1 365.2,262.5 365.7,262.4 366.2,261.5 366.7,262.0 367.2,261.0 367.7,261.4 368.2,263.0 368.7,262.6 369.2,262.0 369.7,260.7 370.2,262.3 370.7,261.6 371.2,262.2 371.7,263.2 372.2,261.6 372.7,262.2 373.2,262.3 373.7,262.9 374.2,263.3 374.7,262.4 375.2,263.3 375.7,261.0 376.2,263.6 376.7,261.7 377.2,262.9 377.7,262.9 378.2,262.3 378.7,261.9 379.2,263.3 379.7,262.5 380.2,262.0 380.7,262.1 381.2,263.0 381.7,262.0 382.2,262.7 382.7,262.2 383.2,260.5 383.7,262.6 384.2,259.1 384.7,261.2 385.2,260.9 385.7,261.1 386.2,263.6 386.7,261.3 387.2,262.7 387.7,262.1 388.2,261.9 388.7,260.5 389.2,262.6 389.7,263.0 390.2,260.3 390.7,262.7 391.2,261.9 391.7,259.4 391.7,265.8 391.2,267.7 390.7,267.7 390.2,266.4 389.7,269.4 389.2,268.3 388.7,266.7 388.2,267.0 387.7,267.4 387.2,268.4 386.7,268.1 386.2,268.7 385.7,266.8 385.2,266.4 384.7,266.9 384.2,265.8 383.7,267.4 383.2,266.2 382.7,268.6 382.2,268.9 381.7,269.8 381.2,268.6 380.7,267.6 380.2,266.8 379.7,266.7 379.2,267.8 378.7,267.3 378.2,267.8 377.7,269.1 377.2,267.5 376.7,267.8 376.2,268.6 375.7,266.8 375.2,267.7 374.7,267.7 374.2,268.2 373.7,268.9 373.2,269.4 372.7,268.9 372.2,267.0 371.7,270.0 371.2,267.6 370.7,266.4 370.2,268.6 369.7,266.5 369.2,267.6 368.7,267.3 368.2,268.0 367.7,267.0 367.2,267.3 366.7,266.8 366.2,266.4 365.7,267.4 365.2,268.9 364.7,266.4 364.2,266.7 363.7,269.0 363.2,267.8 362.7,266.4 362.2,268.9 361.7,266.2 361.2,266.9 360.7,268.7 360.2,267.2 359.7,267.3 359.2,268.2 358.7,267.8 358.2,266.0 357.7,267.1 357.2,267.6 356.7,268.0 356.2,267.7 355.7,267.7 355.2,266.5 354.7,268.1 354.2,267.3 353.7,267.7 353.2,268.2 352.7,268.5 352.2,268.3 351.7,267.3 351.2,268.4 350.7,267.0 350.2,269.8 349.7,268.0 349.2,268.1 348.7,268.5 348.2,268.2 347.7,267.6 347.2,267.5 346.7,267.2 346.2,266.4 345.7,266.9 345.2,267.5 344.7,268.2 344.2,268.6 343.7,266.9 343.2,267.6 342.7,267.1 342.2,267.9 341.7,267.2 341.2,267.1 340.7,267.0 340.2,268.6 339.7,269.3 339.2,266.7 338.7,268.0 338.2,267.7 337.7,267.2 337.2,266.7 336.7,267.1 336.2,267.2 335.7,266.4 335.2,266.5 334.7,266.0 334.2,266.8 333.7,268.1 333.2,269.4 332.7,267.3 332.2,267.7 331.7,267.8 331.2,269.6 330.7,266.8 330.2,266.9 329.7,267.9 329.2,267.2 328.7,266.9 328.2,266.8 327.7,267.5 327.2,267.8 326.7,266.5 326.2,267.4 325.7,267.3 325.2,267.4 324.7,266.5 324.2,266.8 323.7,266.1 323.2,268.2 322.7,268.1 322.2,267.9 321.7,266.2 321.2,267.6 320.7,269.4 320.2,267.8 319.7,266.7 319.2,266.6 318.7,268.1 318.2,267.3 317.7,268.8 317.2,268.7 316.7,268.2 316.2,266.9 315.7,270.2 315.2,267.8 314.7,268.1 314.2,266.6 313.7,267.5 313.2,265.9 312.7,267.3 312.2,269.3 311.7,267.7 311.2,267.1 310.7,268.9 310.2,267.5 309.7,267.8 309.2,268.5 308.7,266.8 308.2,266.7 307.7,269.0 307.2,269.7 306.7,267.5 306.2,267.0 305.7,267.5 305.2,269.5 304.7,266.7 304.2,266.9 303.7,267.8 303.2,267.6 302.7,266.8 302.2,269.0 301.7,268.5 301.2,267.0 300.7,267.6 300.2,266.9 299.7,266.2 299.2,266.4 298.7,267.3 298.2,269.3 297.7,267.6 297.2,267.4 296.7,269.2 296.2,267.2 295.7,267.3 295.2,267.1 294.7,266.4 294.2,267.1 293.7,266.8 293.2,267.0 292.7,267.1 292.2,266.9 291.7,268.3 291.2,267.6 290.7,267.0 290.2,266.8 289.7,267.3 289.2,266.2 288.7,268.2 288.2,266.9 287.7,267.5 287.2,267.2 286.7,269.1 286.2,268.3 285.7,269.2 285.2,268.6 284.7,267.2 284.2,266.8 283.7,265.4 283.2,267.5 282.7,267.9 282.2,266.5 281.7,267.1 281.2,266.9 280.7,268.6 280.2,269.5 279.7,265.5 279.2,269.0 278.7,268.2 278.2,266.5 277.7,267.2 277.2,266.4 276.7,268.4 276.2,269.6 275.7,265.9 275.2,268.4 274.7,268.3 274.2,266.7 273.7,266.9 273.2,266.4 272.7,268.9 272.2,268.7 271.7,266.2 271.2,267.8 270.7,270.2 270.2,266.3 269.7,267.3 269.2,267.1 268.7,266.8 268.2,267.1 267.7,267.1 267.2,266.1 266.7,267.6 266.2,266.9 265.7,267.3 265.2,269.2 264.7,268.9 264.2,267.5 263.7,268.6 263.2,267.3 262.7,268.3 262.2,267.3 261.7,268.1 261.2,266.4 260.7,267.6 260.2,268.4 259.7,268.2 259.2,269.4 258.7,266.2 258.2,266.6 257.7,268.0 257.2,267.7 256.7,267.5 256.2,268.8 255.7,268.4 255.2,268.4 254.7,267.8 254.2,268.6 253.7,268.6 253.2,267.1 252.7,266.5 252.2,267.3 251.7,266.7 251.2,267.9 250.7,268.6 250.2,267.8 249.7,268.0 249.2,268.2 248.7,268.1 248.2,266.9 247.7,266.2 247.2,267.3 246.7,267.3 246.2,269.8 245.7,267.2 245.2,268.8 244.7,266.7 244.2,265.8 243.7,267.0 243.2,267.5 242.7,268.1 242.2,267.4 241.7,268.9 241.2,267.6 240.7,267.2 240.2,267.5 239.7,266.8 239.2,268.1 238.7,266.6 238.2,268.3 237.7,266.7 237.2,267.3 236.7,267.8 236.2,268.3 235.7,266.8 235.2,269.5 234.7,265.8 234.2,268.3 233.7,268.3 233.2,267.6 232.7,266.4 232.2,267.5 231.7,266.3 231.2,267.5 230.7,267.1 230.2,268.5 229.7,267.8 229.2,269.2 228.7,266.8 228.2,267.5 227.7,269.6 227.2,269.4 226.7,267.4 226.2,267.3 225.7,268.5 225.2,267.3 224.7,268.3 224.2,266.0 223.7,267.1 223.2,266.2 222.7,268.4 222.2,269.0 221.7,269.5 221.2,267.6 220.7,269.6 220.2,267.3 219.7,266.9 219.2,267.6 218.7,266.2 218.2,267.7 217.7,267.0 217.2,267.0 216.7,269.3 216.2,267.0 215.7,266.8 215.2,267.3 214.7,267.2 214.2,267.5 213.7,267.9 213.2,267.1 212.7,267.7 212.2,267.6 211.7,268.5 211.2,269.4 210.7,266.5 210.2,269.4 209.7,266.4 209.2,266.9 208.7,267.5 208.2,266.5 207.7,268.2 207.2,266.9 206.7,267.1 206.2,267.0 205.7,267.6 205.2,266.8 204.7,266.4 204.2,266.8 203.7,267.3 203.2,268.3 202.7,267.3 202.2,266.5 201.7,267.4 201.2,268.9 200.7,267.2 200.2,268.0 199.7,266.2 199.2,266.3 198.7,266.5 198.2,268.1 197.7,267.0 197.2,268.5 196.7,267.0 196.2,267.5 195.7,268.4 195.2,268.5 194.7,266.6 194.2,269.1 193.7,267.6 193.2,267.7 192.7,267.0 192.2,268.4 191.7,269.1 191.2,265.5 190.7,268.1 190.2,266.4 189.7,267.3 189.2,268.0 188.7,268.5 188.2,268.0 187.7,267.3 187.2,266.9 186.7,267.9 186.2,268.8 185.7,266.2 185.2,267.6 184.7,267.7 184.2,269.3 183.7,266.7 183.2,269.2 182.7,267.3 182.2,268.2 181.7,266.8 181.2,266.9 180.7,266.8 180.2,266.9 179.7,267.7 179.2,268.3 178.7,265.8 178.2,269.0 177.7,268.4 177.2,267.2 176.7,266.4 176.2,268.0 175.7,267.9 175.2,268.5 174.7,266.5 174.2,267.4 173.7,266.8 173.2,267.0 172.7,267.7 172.2,268.3 171.7,266.9 171.2,267.0 170.7,266.5 170.2,268.0 169.7,267.3 169.2,269.2 168.7,266.0 168.2,267.8 167.7,268.0 167.2,268.1 166.7,270.1 166.2,267.3 165.7,266.4 165.2,267.7 164.7,267.9 164.2,269.7 163.7,268.5 163.2,268.7 162.7,267.6 162.2,267.9 161.7,267.1 161.2,267.6 160.7,267.7 160.2,268.3" fill="#8a12a8" stroke="#8a12a8" stroke-width="0.3"/>
<rect x="159.6" y="235.2" width="232.8" height="38" fill="none" stroke="#6a6a6a" stroke-width="1.2" />
<line x1="160.1" y1="244.4" x2="162.4" y2="244.4" stroke="#333" stroke-width="0.9" />
<line x1="160.1" y1="264.2" x2="162.4" y2="264.2" stroke="#333" stroke-width="0.9" />
<line x1="160.1" y1="254.3" x2="161.4" y2="254.3" stroke="#333" stroke-width="0.9" />
<text x="155.6" y="247.5" font-size="8.5" text-anchor="end" font-weight="normal" fill="#1a1a1a" stroke="#1a1a1a" stroke-width="0.1" >300</text>
<text x="155.6" y="267.3" font-size="8.5" text-anchor="end" font-weight="normal" fill="#1a1a1a" stroke="#1a1a1a" stroke-width="0.1" >0</text>
<line x1="198.4" y1="272.7" x2="198.4" y2="271.6" stroke="#333" stroke-width="0.9" />
<line x1="237.2" y1="272.7" x2="237.2" y2="270.6" stroke="#333" stroke-width="0.9" />
<line x1="276" y1="272.7" x2="276" y2="271.6" stroke="#333" stroke-width="0.9" />
<line x1="314.8" y1="272.7" x2="314.8" y2="270.6" stroke="#333" stroke-width="0.9" />
<line x1="353.6" y1="272.7" x2="353.6" y2="271.6" stroke="#333" stroke-width="0.9" />
<text x="159.6" y="282.3" font-size="8.6" text-anchor="middle" font-weight="normal" fill="#1a1a1a" stroke="#1a1a1a" stroke-width="0.1" >0</text>
<text x="237.2" y="282.3" font-size="8.6" text-anchor="middle" font-weight="normal" fill="#1a1a1a" stroke="#1a1a1a" stroke-width="0.1" >20</text>
<text x="314.8" y="282.3" font-size="8.6" text-anchor="middle" font-weight="normal" fill="#1a1a1a" stroke="#1a1a1a" stroke-width="0.1" >40</text>
<text x="392.4" y="282.3" font-size="8.6" text-anchor="middle" font-weight="normal" fill="#1a1a1a" stroke="#1a1a1a" stroke-width="0.1" >60</text>
<path d="M396.2,258.0 L396.6,258.0 L396.7,258.4 L396.9,258.8 L397.1,259.1 L397.4,259.5 L397.8,259.9 L398.5,260.2 L399.5,260.6 L401.1,261.0 L403.4,261.4 L406.5,261.8 L410.4,262.1 L414.8,262.5 L419.4,262.9 L423.4,263.2 L426.2,263.6 L427.2,264.0 L426.2,264.4 L423.4,264.8 L419.4,265.1 L414.8,265.5 L410.4,265.9 L406.5,266.2 L403.4,266.6 L401.1,267.0 L399.5,267.4 L398.5,267.8 L397.8,268.1 L397.4,268.5 L397.1,268.9 L396.9,269.2 L396.7,269.6 L396.6,270.0 L396.2,270.0 Z" fill="#b4b4b4"/>
<line x1="396.2" y1="250" x2="396.2" y2="270" stroke="#c8c8c8" stroke-width="0.8" />
<text x="163.4" y="247.2" font-size="11.2" text-anchor="start" font-weight="normal" fill="#1a1a1a" stroke="#1a1a1a" stroke-width="0.1" >d</text>
<text x="306.6" y="245.2" font-size="8.2" text-anchor="start" font-weight="normal" fill="#1a1a1a" stroke="#1a1a1a" stroke-width="0.1" >1 nM anti-insulin IgG</text>
<line x1="270.1" y1="313" x2="270.1" y2="310.7" stroke="#a9c4b2" stroke-width="0.6" />
<line x1="314.7" y1="313" x2="314.7" y2="312" stroke="#a9c4b2" stroke-width="0.6" />
<line x1="162.1" y1="313" x2="162.1" y2="311.4" stroke="#a9c4b2" stroke-width="0.6" />
<line x1="223.4" y1="313" x2="223.4" y2="310.3" stroke="#a9c4b2" stroke-width="0.6" />
<line x1="320.4" y1="313" x2="320.4" y2="310.8" stroke="#a9c4b2" stroke-width="0.6" />
<line x1="289.5" y1="313" x2="289.5" y2="310.7" stroke="#a9c4b2" stroke-width="0.6" />
<line x1="226.5" y1="313" x2="226.5" y2="300.7" stroke="#9ab8a4" stroke-width="0.7" />
<line x1="240.2" y1="313" x2="240.2" y2="295.8" stroke="#9ab8a4" stroke-width="0.7" />
<line x1="234.3" y1="313" x2="234.3" y2="304.7" stroke="#9ab8a4" stroke-width="0.7" />
<line x1="163.9" y1="313" x2="163.9" y2="302.7" stroke="#9ab8a4" stroke-width="0.7" />
<line x1="251.4" y1="313" x2="251.4" y2="304.7" stroke="#9ab8a4" stroke-width="0.7" />
<line x1="320.6" y1="313" x2="320.6" y2="300.3" stroke="#9ab8a4" stroke-width="0.7" />
<line x1="335" y1="313" x2="335" y2="297.8" stroke="#9ab8a4" stroke-width="0.7" />
<line x1="346.2" y1="313" x2="346.2" y2="302.7" stroke="#9ab8a4" stroke-width="0.7" />
<line x1="339" y1="313" x2="339" y2="304.7" stroke="#9ab8a4" stroke-width="0.7" />
<polygon points="160.2,309.4 160.7,308.8 161.2,311.9 161.7,308.7 162.2,310.7 162.7,309.5 163.2,307.5 163.7,311.4 164.2,311.5 164.7,309.8 165.2,307.5 165.7,307.5 166.2,310.2 166.7,307.8 167.2,310.6 167.7,311.8 168.2,309.3 168.7,311.0 169.2,310.5 169.7,310.4 170.2,309.2 170.7,308.8 171.2,311.7 171.7,309.1 172.2,309.7 172.7,310.4 173.2,309.6 173.7,309.6 174.2,311.0 174.7,310.6 175.2,310.6 175.7,311.2 176.2,310.6 176.7,310.5 177.2,309.4 177.7,310.6 178.2,307.7 178.7,309.5 179.2,308.9 179.7,310.1 180.2,308.3 180.7,308.9 181.2,310.3 181.7,309.7 182.2,310.1 182.7,310.3 183.2,311.2 183.7,310.4 184.2,311.3 184.7,308.3 185.2,309.9 185.7,311.4 186.2,309.7 186.7,311.2 187.2,310.3 187.7,310.2 188.2,311.1 188.7,309.5 189.2,309.9 189.7,310.3 190.2,311.6 190.7,308.3 191.2,309.8 191.7,307.6 192.2,310.3 192.7,310.7 193.2,308.9 193.7,311.1 194.2,309.2 194.7,310.2 195.2,310.9 195.7,310.0 196.2,310.3 196.7,311.7 197.2,310.2 197.7,310.5 198.2,311.8 198.7,309.3 199.2,309.2 199.7,310.7 200.2,310.3 200.7,310.7 201.2,309.4 201.7,310.1 202.2,310.1 202.7,311.2 203.2,310.0 203.7,310.8 204.2,308.4 204.7,311.4 205.2,308.8 205.7,309.8 206.2,311.2 206.7,311.0 207.2,311.0 207.7,310.6 208.2,310.9 208.7,308.2 209.2,310.8 209.7,311.1 210.2,309.2 210.7,309.1 211.2,311.0 211.7,308.3 212.2,309.9 212.7,308.1 213.2,310.5 213.7,310.9 214.2,311.0 214.7,310.6 215.2,308.0 215.7,308.8 216.2,308.2 216.7,310.6 217.2,310.1 217.7,310.2 218.2,308.7 218.7,309.0 219.2,310.3 219.7,311.5 220.2,311.1 220.7,309.9 221.2,310.7 221.7,311.0 222.2,309.7 222.7,310.3 223.2,306.9 223.7,311.1 224.2,311.0 224.7,310.9 225.2,311.3 225.7,311.1 226.2,308.7 226.7,309.8 227.2,310.3 227.7,309.8 228.2,309.0 228.7,309.2 229.2,309.9 229.7,309.8 230.2,310.2 230.7,310.3 231.2,310.2 231.7,310.3 232.2,311.2 232.7,310.2 233.2,308.7 233.7,308.7 234.2,309.6 234.7,310.9 235.2,309.6 235.7,310.3 236.2,308.7 236.7,308.5 237.2,310.1 237.7,310.3 238.2,310.5 238.7,311.9 239.2,308.6 239.7,310.8 240.2,312.1 240.7,309.1 241.2,310.5 241.7,310.7 242.2,310.8 242.7,308.6 243.2,311.1 243.7,310.4 244.2,310.4 244.7,309.0 245.2,308.5 245.7,311.2 246.2,310.8 246.7,308.7 247.2,306.1 247.7,310.6 248.2,309.3 248.7,311.6 249.2,310.8 249.7,308.9 250.2,310.3 250.7,310.7 251.2,309.7 251.7,310.6 252.2,310.1 252.7,310.2 253.2,309.3 253.7,310.6 254.2,310.5 254.7,310.2 255.2,310.5 255.7,311.0 256.2,311.2 256.7,312.4 257.2,309.9 257.7,309.8 258.2,309.8 258.7,310.2 259.2,310.2 259.7,311.6 260.2,312.0 260.7,310.4 261.2,310.8 261.7,308.8 262.2,311.6 262.7,311.0 263.2,310.5 263.7,309.9 264.2,310.8 264.7,310.5 265.2,310.0 265.7,310.0 266.2,310.7 266.7,309.7 267.2,310.0 267.7,310.2 268.2,309.8 268.7,311.3 269.2,310.3 269.7,310.8 270.2,310.6 270.7,309.8 271.2,310.3 271.7,311.1 272.2,310.4 272.7,310.3 273.2,310.8 273.7,311.3 274.2,309.8 274.7,310.4 275.2,311.3 275.7,309.2 276.2,311.0 276.7,311.4 277.2,309.7 277.7,310.1 278.2,309.6 278.7,310.2 279.2,307.8 279.7,308.0 280.2,309.8 280.7,309.6 281.2,310.2 281.7,310.7 282.2,310.5 282.7,308.9 283.2,310.4 283.7,310.5 284.2,310.2 284.7,310.1 285.2,310.8 285.7,310.6 286.2,311.3 286.7,310.2 287.2,310.4 287.7,309.2 288.2,308.9 288.7,311.9 289.2,309.4 289.7,308.8 290.2,309.7 290.7,310.7 291.2,309.6 291.7,311.1 292.2,310.0 292.7,309.8 293.2,309.8 293.7,310.0 294.2,311.5 294.7,310.3 295.2,310.2 295.7,311.0 296.2,308.9 296.7,310.3 297.2,308.7 297.7,310.8 298.2,309.6 298.7,307.3 299.2,309.4 299.7,308.7 300.2,309.4 300.7,308.2 301.2,310.8 301.7,310.3 302.2,311.4 302.7,311.2 303.2,311.0 303.7,312.1 304.2,311.4 304.7,309.9 305.2,311.0 305.7,310.4 306.2,309.8 306.7,310.2 307.2,310.4 307.7,310.9 308.2,311.1 308.7,309.0 309.2,308.2 309.7,311.6 310.2,307.1 310.7,307.9 311.2,310.9 311.7,311.8 312.2,310.3 312.7,311.3 313.2,310.5 313.7,309.9 314.2,310.0 314.7,310.9 315.2,309.0 315.7,307.9 316.2,310.5 316.7,311.5 317.2,309.6 317.7,310.1 318.2,309.9 318.7,309.6 319.2,311.5 319.7,309.3 320.2,309.2 320.7,309.0 321.2,307.9 321.7,308.7 322.2,311.5 322.7,310.7 323.2,308.9 323.7,310.9 324.2,310.1 324.7,310.3 325.2,310.8 325.7,310.3 326.2,310.7 326.7,309.7 327.2,310.1 327.7,309.3 328.2,310.2 328.7,310.5 329.2,310.3 329.7,310.6 330.2,307.5 330.7,307.9 331.2,309.4 331.7,309.5 332.2,311.2 332.7,310.4 333.2,311.1 333.7,313.0 334.2,310.3 334.7,308.9 335.2,309.9 335.7,311.5 336.2,308.1 336.7,309.9 337.2,309.8 337.7,309.9 338.2,312.1 338.7,308.1 339.2,310.9 339.7,309.7 340.2,309.3 340.7,310.1 341.2,309.5 341.7,312.5 342.2,310.2 342.7,308.5 343.2,310.5 343.7,308.3 344.2,309.0 344.7,311.2 345.2,310.9 345.7,310.6 346.2,311.2 346.7,308.8 347.2,311.4 347.7,310.8 348.2,309.8 348.7,310.9 349.2,310.4 349.7,308.8 350.2,309.8 350.7,310.5 351.2,311.0 351.7,310.2 352.2,310.2 352.7,310.7 353.2,309.9 353.7,308.5 354.2,310.9 354.7,310.7 355.2,309.9 355.7,309.9 356.2,310.4 356.7,309.9 357.2,308.2 357.7,310.7 358.2,311.5 358.7,308.8 359.2,310.0 359.7,310.0 360.2,310.2 360.7,307.3 361.2,310.2 361.7,308.9 362.2,309.0 362.7,309.6 363.2,310.0 363.7,310.8 364.2,310.5 364.7,310.7 365.2,310.8 365.7,311.6 366.2,311.0 366.7,310.3 367.2,311.3 367.7,310.9 368.2,309.0 368.7,310.2 369.2,310.4 369.7,312.1 370.2,310.9 370.7,308.2 371.2,309.6 371.7,311.4 372.2,308.3 372.7,310.4 373.2,310.2 373.7,311.0 374.2,310.3 374.7,309.8 375.2,307.8 375.7,310.9 376.2,306.5 376.7,310.4 377.2,311.4 377.7,305.8 378.2,310.2 378.7,310.4 379.2,309.7 379.7,309.8 380.2,307.7 380.7,310.3 381.2,309.9 381.7,310.1 382.2,311.2 382.7,309.7 383.2,310.9 383.7,309.0 384.2,309.6 384.7,311.4 385.2,308.3 385.7,311.5 386.2,309.8 386.7,310.0 387.2,311.9 387.7,311.2 388.2,310.7 388.7,310.4 389.2,310.8 389.7,311.1 390.2,311.0 390.7,309.6 391.2,310.8 391.7,310.6 391.7,319.9 391.2,320.4 390.7,320.0 390.2,320.3 389.7,320.1 389.2,321.8 388.7,321.4 388.2,319.6 387.7,319.0 387.2,321.0 386.7,319.6 386.2,318.9 385.7,320.1 385.2,320.4 384.7,320.3 384.2,318.6 383.7,319.8 383.2,320.9 382.7,319.6 382.2,321.7 381.7,319.1 381.2,319.0 380.7,319.4 380.2,319.0 379.7,321.3 379.2,322.1 378.7,319.0 378.2,319.4 377.7,320.5 377.2,320.4 376.7,318.0 376.2,318.5 375.7,319.3 375.2,318.9 374.7,321.0 374.2,320.5 373.7,319.7 373.2,319.2 372.7,321.9 372.2,318.6 371.7,320.2 371.2,319.7 370.7,320.2 370.2,318.6 369.7,323.3 369.2,318.5 368.7,320.5 368.2,320.9 367.7,319.5 367.2,320.3 366.7,319.8 366.2,319.4 365.7,321.2 365.2,320.1 364.7,321.5 364.2,320.8 363.7,320.7 363.2,320.0 362.7,320.5 362.2,318.5 361.7,320.1 361.2,320.6 360.7,320.1 360.2,320.5 359.7,320.1 359.2,319.8 358.7,319.5 358.2,320.3 357.7,319.8 357.2,321.0 356.7,322.6 356.2,323.3 355.7,318.9 355.2,321.5 354.7,321.9 354.2,320.5 353.7,318.7 353.2,320.4 352.7,318.5 352.2,319.8 351.7,319.3 351.2,320.5 350.7,321.7 350.2,318.8 349.7,320.3 349.2,320.1 348.7,318.3 348.2,319.9 347.7,321.2 347.2,318.9 346.7,320.9 346.2,320.9 345.7,318.2 345.2,320.1 344.7,320.8 344.2,319.8 343.7,319.0 343.2,321.4 342.7,318.8 342.2,318.8 341.7,321.1 341.2,319.3 340.7,319.6 340.2,319.4 339.7,318.5 339.2,320.3 338.7,319.5 338.2,320.4 337.7,320.4 337.2,321.2 336.7,321.7 336.2,319.5 335.7,320.5 335.2,319.3 334.7,319.5 334.2,319.1 333.7,323.3 333.2,320.2 332.7,319.3 332.2,319.5 331.7,319.5 331.2,321.4 330.7,318.7 330.2,319.4 329.7,323.0 329.2,320.9 328.7,320.3 328.2,318.7 327.7,319.7 327.2,320.5 326.7,318.5 326.2,319.9 325.7,321.4 325.2,320.6 324.7,319.4 324.2,318.5 323.7,320.8 323.2,319.8 322.7,321.0 322.2,319.1 321.7,320.1 321.2,318.8 320.7,319.6 320.2,321.1 319.7,319.4 319.2,319.6 318.7,319.2 318.2,320.4 317.7,320.2 317.2,319.4 316.7,321.0 316.2,319.4 315.7,318.9 315.2,319.3 314.7,319.2 314.2,319.6 313.7,319.6 313.2,322.2 312.7,321.6 312.2,319.5 311.7,321.0 311.2,319.6 310.7,321.4 310.2,319.5 309.7,320.5 309.2,318.5 308.7,320.2 308.2,321.2 307.7,320.3 307.2,320.9 306.7,320.3 306.2,318.8 305.7,320.1 305.2,320.1 304.7,320.2 304.2,319.6 303.7,320.9 303.2,319.5 302.7,321.0 302.2,320.9 301.7,318.5 301.2,318.8 300.7,321.3 300.2,318.9 299.7,321.0 299.2,321.3 298.7,323.3 298.2,318.8 297.7,320.4 297.2,319.9 296.7,319.3 296.2,318.1 295.7,319.3 295.2,321.3 294.7,321.7 294.2,321.3 293.7,318.6 293.2,320.4 292.7,319.1 292.2,318.7 291.7,320.3 291.2,318.8 290.7,321.6 290.2,319.6 289.7,318.7 289.2,319.3 288.7,321.3 288.2,318.6 287.7,320.0 287.2,321.6 286.7,318.7 286.2,320.6 285.7,318.7 285.2,322.3 284.7,319.8 284.2,319.4 283.7,320.7 283.2,318.0 282.7,318.7 282.2,322.2 281.7,320.2 281.2,320.7 280.7,319.5 280.2,318.8 279.7,322.7 279.2,319.0 278.7,321.4 278.2,320.0 277.7,320.4 277.2,319.9 276.7,321.4 276.2,320.0 275.7,318.8 275.2,320.3 274.7,321.9 274.2,319.3 273.7,320.7 273.2,319.4 272.7,319.2 272.2,319.0 271.7,321.3 271.2,320.7 270.7,319.1 270.2,321.1 269.7,320.5 269.2,320.3 268.7,320.9 268.2,317.8 267.7,318.6 267.2,319.3 266.7,320.3 266.2,320.4 265.7,320.7 265.2,320.1 264.7,320.2 264.2,319.6 263.7,318.0 263.2,321.4 262.7,320.1 262.2,320.4 261.7,320.3 261.2,318.8 260.7,318.8 260.2,322.1 259.7,319.3 259.2,322.9 258.7,323.0 258.2,318.4 257.7,319.5 257.2,320.0 256.7,321.3 256.2,320.2 255.7,319.6 255.2,319.4 254.7,321.9 254.2,321.1 253.7,319.3 253.2,319.7 252.7,318.2 252.2,320.0 251.7,319.5 251.2,318.6 250.7,319.7 250.2,319.3 249.7,319.0 249.2,319.1 248.7,319.4 248.2,321.1 247.7,320.2 247.2,319.6 246.7,318.7 246.2,321.0 245.7,318.9 245.2,321.7 244.7,320.3 244.2,320.0 243.7,319.6 243.2,320.0 242.7,319.1 242.2,319.4 241.7,321.8 241.2,322.2 240.7,318.8 240.2,321.1 239.7,319.3 239.2,318.8 238.7,320.5 238.2,319.8 237.7,319.4 237.2,322.4 236.7,318.5 236.2,319.7 235.7,319.9 235.2,318.9 234.7,318.9 234.2,321.4 233.7,320.3 233.2,319.1 232.7,318.8 232.2,319.8 231.7,318.9 231.2,318.6 230.7,318.8 230.2,319.3 229.7,320.1 229.2,319.0 228.7,321.1 228.2,319.7 227.7,319.3 227.2,319.0 226.7,318.7 226.2,319.6 225.7,321.7 225.2,319.7 224.7,318.7 224.2,320.7 223.7,319.0 223.2,318.2 222.7,320.6 222.2,320.0 221.7,319.1 221.2,319.6 220.7,321.2 220.2,320.2 219.7,319.3 219.2,319.4 218.7,318.8 218.2,319.4 217.7,319.8 217.2,319.6 216.7,318.5 216.2,320.2 215.7,319.5 215.2,318.5 214.7,318.6 214.2,319.5 213.7,320.6 213.2,318.8 212.7,318.2 212.2,319.7 211.7,318.3 211.2,319.8 210.7,318.9 210.2,319.7 209.7,319.8 209.2,319.6 208.7,318.9 208.2,318.4 207.7,319.6 207.2,319.4 206.7,320.8 206.2,320.2 205.7,321.6 205.2,319.4 204.7,319.7 204.2,318.4 203.7,321.2 203.2,320.1 202.7,319.5 202.2,318.6 201.7,321.4 201.2,318.5 200.7,319.7 200.2,318.7 199.7,320.9 199.2,319.7 198.7,319.0 198.2,320.7 197.7,319.8 197.2,320.4 196.7,321.0 196.2,318.5 195.7,318.6 195.2,318.8 194.7,319.5 194.2,319.3 193.7,319.3 193.2,319.2 192.7,319.6 192.2,319.8 191.7,318.2 191.2,321.1 190.7,319.2 190.2,319.0 189.7,319.8 189.2,321.1 188.7,320.8 188.2,322.1 187.7,319.0 187.2,320.7 186.7,320.3 186.2,319.4 185.7,320.6 185.2,319.9 184.7,319.2 184.2,319.4 183.7,319.9 183.2,320.9 182.7,321.4 182.2,318.4 181.7,319.1 181.2,319.9 180.7,322.7 180.2,321.8 179.7,319.0 179.2,320.0 178.7,318.6 178.2,319.0 177.7,319.5 177.2,319.4 176.7,321.8 176.2,319.2 175.7,319.8 175.2,319.2 174.7,319.4 174.2,321.1 173.7,320.0 173.2,319.8 172.7,318.3 172.2,318.9 171.7,318.9 171.2,319.5 170.7,319.5 170.2,320.3 169.7,319.9 169.2,321.6 168.7,318.8 168.2,323.3 167.7,319.8 167.2,319.2 166.7,322.0 166.2,319.6 165.7,320.7 165.2,321.3 164.7,320.1 164.2,320.1 163.7,319.7 163.2,320.7 162.7,319.3 162.2,318.7 161.7,320.6 161.2,320.2 160.7,319.4 160.2,320.2" fill="#4f7d5f" stroke="#4f7d5f" stroke-width="0.3" opacity="0.7"/>
<polygon points="160.2,311.5 160.7,310.9 161.2,313.5 161.7,311.1 162.2,312.3 162.7,311.4 163.2,310.2 163.7,313.0 164.2,313.2 164.7,311.8 165.2,310.2 165.7,310.1 166.2,312.1 166.7,310.6 167.2,312.3 167.7,313.4 168.2,312.1 168.7,312.5 169.2,312.7 169.7,312.3 170.2,311.4 170.7,310.9 171.2,313.2 171.7,311.1 172.2,311.5 172.7,312.0 173.2,311.6 173.7,311.7 174.2,313.0 174.7,312.4 175.2,312.3 175.7,312.9 176.2,312.3 176.7,312.8 177.2,311.4 177.7,312.3 178.2,310.0 178.7,311.3 179.2,311.1 179.7,311.9 180.2,311.0 180.7,311.6 181.2,312.3 181.7,311.6 182.2,311.8 182.7,312.5 183.2,313.1 183.7,312.3 184.2,312.9 184.7,310.5 185.2,311.9 185.7,313.2 186.2,311.6 186.7,313.0 187.2,312.4 187.7,311.9 188.2,313.3 188.7,311.8 189.2,312.2 189.7,312.2 190.2,313.1 190.7,310.5 191.2,312.0 191.7,309.7 192.2,312.2 192.7,312.5 193.2,311.0 193.7,312.7 194.2,311.2 194.7,312.0 195.2,312.5 195.7,311.7 196.2,311.9 196.7,313.5 197.2,312.2 197.7,312.4 198.2,313.6 198.7,311.2 199.2,311.3 199.7,312.8 200.2,312.0 200.7,312.5 201.2,311.2 201.7,312.4 202.2,311.8 202.7,312.9 203.2,312.0 203.7,312.9 204.2,310.4 204.7,313.1 205.2,310.9 205.7,312.1 206.2,313.0 206.7,312.9 207.2,312.7 207.7,312.4 208.2,312.4 208.7,310.3 209.2,312.6 209.7,312.8 210.2,311.3 210.7,311.1 211.2,312.7 211.7,310.3 212.2,311.9 212.7,310.2 213.2,312.2 213.7,312.8 214.2,312.7 214.7,312.2 215.2,310.1 215.7,310.9 216.2,310.6 216.7,312.2 217.2,312.0 217.7,312.1 218.2,310.8 218.7,311.0 219.2,312.1 219.7,313.1 220.2,313.0 220.7,312.1 221.2,312.5 221.7,312.6 222.2,311.8 222.7,312.3 223.2,309.2 223.7,312.7 224.2,312.9 224.7,312.4 225.2,313.0 225.7,313.2 226.2,310.9 226.7,311.6 227.2,312.1 227.7,311.7 228.2,311.1 228.7,311.6 229.2,311.7 229.7,311.9 230.2,312.0 230.7,312.0 231.2,311.9 231.7,312.0 232.2,312.9 232.7,311.9 233.2,310.8 233.7,311.0 234.2,311.9 234.7,312.5 235.2,311.5 235.7,312.2 236.2,310.9 236.7,310.5 237.2,312.6 237.7,312.1 238.2,312.4 238.7,313.6 239.2,310.7 239.7,312.5 240.2,313.9 240.7,311.0 241.2,312.9 241.7,312.9 242.2,312.6 242.7,310.7 243.2,312.9 243.7,312.2 244.2,312.3 244.7,311.3 245.2,311.2 245.7,312.7 246.2,312.8 246.7,310.7 247.2,308.8 247.7,312.5 248.2,311.7 248.7,313.1 249.2,312.5 249.7,311.0 250.2,312.1 250.7,312.5 251.2,311.5 251.7,312.4 252.2,312.1 252.7,311.8 253.2,311.4 253.7,312.4 254.2,312.6 254.7,312.5 255.2,312.3 255.7,312.8 256.2,313.0 256.7,314.2 257.2,311.9 257.7,311.7 258.2,311.5 258.7,312.8 259.2,312.8 259.7,313.1 260.2,314.0 260.7,312.1 261.2,312.4 261.7,311.1 262.2,313.3 262.7,312.8 263.2,312.7 263.7,311.5 264.2,312.6 264.7,312.5 265.2,312.0 265.7,312.2 266.2,312.6 266.7,311.8 267.2,311.9 267.7,311.9 268.2,311.4 268.7,313.3 269.2,312.3 269.7,312.7 270.2,312.7 270.7,311.7 271.2,312.4 271.7,313.2 272.2,312.1 272.7,312.0 273.2,312.5 273.7,313.2 274.2,311.7 274.7,312.7 275.2,313.1 275.7,311.2 276.2,312.8 276.7,313.4 277.2,311.8 277.7,312.2 278.2,311.7 278.7,312.4 279.2,310.0 279.7,310.9 280.2,311.6 280.7,311.6 281.2,312.3 281.7,312.6 282.2,312.8 282.7,310.8 283.2,311.9 283.7,312.6 284.2,312.0 284.7,312.0 285.2,313.1 285.7,312.2 286.2,313.2 286.7,311.9 287.2,312.6 287.7,311.4 288.2,310.8 288.7,313.8 289.2,311.4 289.7,310.8 290.2,311.7 290.7,312.9 291.2,311.5 291.7,312.9 292.2,311.7 292.7,311.7 293.2,311.9 293.7,311.7 294.2,313.5 294.7,312.6 295.2,312.4 295.7,312.6 296.2,310.7 296.7,312.1 297.2,310.9 297.7,312.7 298.2,311.5 298.7,310.5 299.2,311.8 299.7,311.2 300.2,311.3 300.7,310.8 301.2,312.4 301.7,311.9 302.2,313.3 302.7,313.1 303.2,312.7 303.7,313.8 304.2,313.1 304.7,311.9 305.2,312.8 305.7,312.4 306.2,311.6 306.7,312.3 307.2,312.5 307.7,312.8 308.2,313.1 308.7,311.2 309.2,310.2 309.7,313.4 310.2,309.6 310.7,310.6 311.2,312.6 311.7,313.7 312.2,312.1 312.7,313.3 313.2,312.9 313.7,311.8 314.2,311.9 314.7,312.5 315.2,311.0 315.7,310.1 316.2,312.3 316.7,313.4 317.2,311.5 317.7,312.1 318.2,312.0 318.7,311.6 319.2,313.1 319.7,311.3 320.2,311.6 320.7,311.1 321.2,310.1 321.7,311.0 322.2,313.0 322.7,312.7 323.2,311.1 323.7,312.9 324.2,311.8 324.7,312.1 325.2,312.7 325.7,312.5 326.2,312.6 326.7,311.4 327.2,312.1 327.7,311.4 328.2,311.9 328.7,312.5 329.2,312.4 329.7,313.0 330.2,309.9 330.7,310.1 331.2,311.8 331.7,311.5 332.2,312.8 332.7,312.2 333.2,312.9 333.7,315.1 334.2,312.1 334.7,311.0 335.2,311.8 335.7,313.3 336.2,310.4 336.7,312.2 337.2,312.0 337.7,312.0 338.2,313.7 338.7,310.4 339.2,312.8 339.7,311.4 340.2,311.3 340.7,312.0 341.2,311.4 341.7,314.2 342.2,312.0 342.7,310.6 343.2,312.7 343.7,310.4 344.2,311.2 344.7,313.1 345.2,312.8 345.7,312.1 346.2,313.2 346.7,311.2 347.2,312.9 347.7,312.9 348.2,311.8 348.7,312.4 349.2,312.3 349.7,311.1 350.2,311.6 350.7,312.7 351.2,312.9 351.7,312.0 352.2,312.1 352.7,312.2 353.2,312.0 353.7,310.6 354.2,312.8 354.7,313.0 355.2,312.2 355.7,311.7 356.2,312.9 356.7,312.5 357.2,310.7 357.7,312.5 358.2,313.3 358.7,310.9 359.2,312.0 359.7,312.0 360.2,312.2 360.7,309.8 361.2,312.3 361.7,311.1 362.2,310.9 362.7,311.8 363.2,312.0 363.7,312.8 364.2,312.5 364.7,312.9 365.2,312.7 365.7,313.5 366.2,312.7 366.7,312.2 367.2,313.1 367.7,312.6 368.2,311.4 368.7,312.3 369.2,312.0 369.7,314.3 370.2,312.4 370.7,310.6 371.2,311.6 371.7,313.2 372.2,310.3 372.7,312.7 373.2,312.0 373.7,312.7 374.2,312.3 374.7,312.1 375.2,310.0 375.7,312.6 376.2,308.9 376.7,311.9 377.2,313.2 377.7,308.7 378.2,312.1 378.7,312.1 379.2,312.2 379.7,312.1 380.2,310.0 380.7,312.1 381.2,311.7 381.7,311.9 382.2,313.3 382.7,311.7 383.2,312.9 383.7,311.1 384.2,311.4 384.7,313.2 385.2,310.7 385.7,313.2 386.2,311.7 386.7,311.9 387.2,313.7 387.7,312.8 388.2,312.5 388.7,312.6 389.2,313.0 389.7,312.9 390.2,312.9 390.7,311.7 391.2,312.8 391.7,312.5 391.7,318.1 391.2,318.5 390.7,317.9 390.2,318.4 389.7,318.3 389.2,319.6 388.7,319.2 388.2,317.8 387.7,317.5 387.2,319.2 386.7,317.7 386.2,317.1 385.7,318.4 385.2,318.0 384.7,318.5 384.2,316.8 383.7,317.7 383.2,318.9 382.7,317.6 382.2,319.6 381.7,317.3 381.2,317.2 380.7,317.5 380.2,316.8 379.7,319.0 379.2,319.7 378.7,317.3 378.2,317.6 377.7,317.5 377.2,318.6 376.7,316.5 376.2,316.1 375.7,317.6 375.2,316.7 374.7,318.8 374.2,318.4 373.7,318.0 373.2,317.4 372.7,319.6 372.2,316.5 371.7,318.4 371.2,317.6 370.7,317.8 370.2,317.1 369.7,321.1 369.2,316.9 368.7,318.5 368.2,318.6 367.7,317.8 367.2,318.5 366.7,317.9 366.2,317.7 365.7,319.3 365.2,318.3 364.7,319.3 364.2,318.7 363.7,318.7 363.2,318.0 362.7,318.3 362.2,316.6 361.7,317.9 361.2,318.6 360.7,317.5 360.2,318.4 359.7,318.1 359.2,317.8 358.7,317.4 358.2,318.5 357.7,318.0 357.2,318.4 356.7,320.0 356.2,320.7 355.7,317.1 355.2,319.2 354.7,319.6 354.2,318.6 353.7,316.7 353.2,318.3 352.7,316.9 352.2,317.9 351.7,317.5 351.2,318.6 350.7,319.5 350.2,317.0 349.7,318.0 349.2,318.1 348.7,316.9 348.2,317.9 347.7,319.1 347.2,317.4 346.7,318.5 346.2,318.9 345.7,316.7 345.2,318.2 344.7,318.9 344.2,317.6 343.7,316.8 343.2,319.2 342.7,316.7 342.2,317.1 341.7,319.3 341.2,317.3 340.7,317.7 340.2,317.4 339.7,316.7 339.2,318.4 338.7,317.2 338.2,318.8 337.7,318.3 337.2,318.9 336.7,319.3 336.2,317.2 335.7,318.7 335.2,317.5 334.7,317.4 334.2,317.4 333.7,321.2 333.2,318.3 332.7,317.5 332.2,317.9 331.7,317.5 331.2,319.0 330.7,316.6 330.2,317.0 329.7,320.5 329.2,318.8 328.7,318.3 328.2,317.0 327.7,317.7 327.2,318.4 326.7,316.7 326.2,318.1 325.7,319.2 325.2,318.6 324.7,317.6 324.2,316.8 323.7,318.8 323.2,317.6 322.7,318.9 322.2,317.6 321.7,317.9 321.2,316.6 320.7,317.5 320.2,318.7 319.7,317.4 319.2,318.0 318.7,317.3 318.2,318.3 317.7,318.2 317.2,317.5 316.7,319.1 316.2,317.6 315.7,316.7 315.2,317.2 314.7,317.5 314.2,317.7 313.7,317.6 313.2,319.8 312.7,319.6 312.2,317.7 311.7,319.2 311.2,317.9 310.7,318.7 310.2,317.1 309.7,318.7 309.2,316.4 308.7,318.0 308.2,319.2 307.7,318.4 307.2,318.8 306.7,318.3 306.2,317.0 305.7,318.2 305.2,318.3 304.7,318.1 304.2,318.0 303.7,319.2 303.2,317.8 302.7,319.0 302.2,319.0 301.7,316.9 301.2,317.2 300.7,318.6 300.2,317.0 299.7,318.5 299.2,318.9 298.7,320.1 298.2,317.0 297.7,318.5 297.2,317.7 296.7,317.5 296.2,316.3 295.7,317.6 295.2,319.0 294.7,319.4 294.2,319.3 293.7,316.9 293.2,318.3 292.7,317.2 292.2,317.0 291.7,318.5 291.2,317.0 290.7,319.4 290.2,317.7 289.7,316.8 289.2,317.3 288.7,319.4 288.2,316.7 287.7,317.9 287.2,319.4 286.7,317.0 286.2,318.8 285.7,317.1 285.2,320.0 284.7,317.8 284.2,317.6 283.7,318.7 283.2,316.5 282.7,316.8 282.2,319.8 281.7,318.3 281.2,318.6 280.7,317.5 280.2,317.0 279.7,319.8 279.2,316.7 278.7,319.1 278.2,317.9 277.7,318.4 277.2,317.8 276.7,319.4 276.2,318.2 275.7,316.9 275.2,318.5 274.7,319.6 274.2,317.4 273.7,318.8 273.2,317.7 272.7,317.4 272.2,317.3 271.7,319.3 271.2,318.6 270.7,317.2 270.2,319.0 269.7,318.6 269.2,318.3 268.7,319.0 268.2,316.2 267.7,316.9 267.2,317.4 266.7,318.2 266.2,318.5 265.7,318.5 265.2,318.0 264.7,318.3 264.2,317.9 263.7,316.4 263.2,319.2 262.7,318.3 262.2,318.6 261.7,318.0 261.2,317.2 260.7,317.1 260.2,320.1 259.7,317.7 259.2,320.3 258.7,320.5 258.2,316.7 257.7,317.5 257.2,318.0 256.7,319.5 256.2,318.4 255.7,317.9 255.2,317.6 254.7,319.6 254.2,318.9 253.7,317.6 253.2,317.6 252.7,316.6 252.2,318.0 251.7,317.7 251.2,316.8 250.7,317.9 250.2,317.5 249.7,317.0 249.2,317.5 248.7,317.8 248.2,318.7 247.7,318.3 247.2,316.9 246.7,316.7 246.2,319.0 245.7,317.3 245.2,319.1 244.7,318.1 244.2,318.0 243.7,317.8 243.2,318.2 242.7,317.0 242.2,317.7 241.7,319.6 241.2,319.9 240.7,316.8 240.2,319.3 239.7,317.6 239.2,316.8 238.7,318.8 238.2,318.0 237.7,317.6 237.2,320.0 236.7,316.5 236.2,317.5 235.7,318.0 235.2,317.0 234.7,317.3 234.2,319.0 233.7,318.0 233.2,317.1 232.7,317.1 232.2,318.1 231.7,317.2 231.2,316.9 230.7,317.1 230.2,317.5 229.7,318.0 229.2,317.2 228.7,318.7 228.2,317.5 227.7,317.4 227.2,317.3 226.7,316.9 226.2,317.5 225.7,319.6 225.2,318.0 224.7,317.1 224.2,318.8 223.7,317.4 223.2,316.0 222.7,318.5 222.2,318.0 221.7,317.5 221.2,317.9 220.7,318.9 220.2,318.4 219.7,317.7 219.2,317.5 218.7,316.9 218.2,317.2 217.7,317.8 217.2,317.7 216.7,316.9 216.2,317.8 215.7,317.4 215.2,316.4 214.7,317.0 214.2,317.8 213.7,318.7 213.2,317.1 212.7,316.2 212.2,317.7 211.7,316.3 211.2,318.0 210.7,316.9 210.2,317.6 209.7,318.0 209.2,317.8 208.7,316.8 208.2,316.9 207.7,317.8 207.2,317.7 206.7,318.8 206.2,318.4 205.7,319.2 205.2,317.3 204.7,318.0 204.2,316.4 203.7,319.1 203.2,318.0 202.7,317.9 202.2,316.9 201.7,319.2 201.2,316.7 200.7,317.9 200.2,317.0 199.7,318.9 199.2,317.6 198.7,317.0 198.2,318.9 197.7,318.0 197.2,318.4 196.7,319.1 196.2,316.9 195.7,316.8 195.2,317.2 194.7,317.6 194.2,317.3 193.7,317.6 193.2,317.2 192.7,317.9 192.2,317.9 191.7,316.1 191.2,318.8 190.7,317.0 190.2,317.5 189.7,317.9 189.2,318.8 188.7,318.6 188.2,319.9 187.7,317.2 187.2,318.6 186.7,318.5 186.2,317.5 185.7,318.7 185.2,317.9 184.7,317.0 184.2,317.8 183.7,318.0 183.2,319.0 182.7,319.2 182.2,316.8 181.7,317.2 181.2,318.0 180.7,319.9 180.2,319.1 179.7,317.2 179.2,317.8 178.7,316.8 178.2,316.8 177.7,317.7 177.2,317.4 176.7,319.5 176.2,317.5 175.7,318.1 175.2,317.5 174.7,317.7 174.2,319.0 173.7,317.9 173.2,317.8 172.7,316.7 172.2,317.1 171.7,316.9 171.2,317.9 170.7,317.3 170.2,318.1 169.7,318.0 169.2,319.4 168.7,317.3 168.2,320.5 167.7,318.2 167.2,317.5 166.7,319.1 166.2,317.7 165.7,318.0 165.2,318.5 164.7,318.0 164.2,318.4 163.7,318.0 163.2,318.1 162.7,317.4 162.2,317.1 161.7,318.2 161.2,318.5 160.7,317.3 160.2,318.0" fill="#4f7d5f" stroke="#4f7d5f" stroke-width="0.3"/>
<rect x="159.6" y="286" width="232.8" height="38.1" fill="none" stroke="#6a6a6a" stroke-width="1.2" />
<line x1="160.1" y1="295.4" x2="162.4" y2="295.4" stroke="#333" stroke-width="0.9" />
<line x1="160.1" y1="315" x2="162.4" y2="315" stroke="#333" stroke-width="0.9" />
<line x1="160.1" y1="305.2" x2="161.4" y2="305.2" stroke="#333" stroke-width="0.9" />
<text x="155.6" y="298.5" font-size="8.5" text-anchor="end" font-weight="normal" fill="#1a1a1a" stroke="#1a1a1a" stroke-width="0.1" >300</text>
<text x="155.6" y="318.1" font-size="8.5" text-anchor="end" font-weight="normal" fill="#1a1a1a" stroke="#1a1a1a" stroke-width="0.1" >0</text>
<line x1="198.4" y1="323.6" x2="198.4" y2="322.5" stroke="#333" stroke-width="0.9" />
<line x1="237.2" y1="323.6" x2="237.2" y2="321.5" stroke="#333" stroke-width="0.9" />
<line x1="276" y1="323.6" x2="276" y2="322.5" stroke="#333" stroke-width="0.9" />
<line x1="314.8" y1="323.6" x2="314.8" y2="321.5" stroke="#333" stroke-width="0.9" />
<line x1="353.6" y1="323.6" x2="353.6" y2="322.5" stroke="#333" stroke-width="0.9" />
<text x="159.6" y="335.2" font-size="8.6" text-anchor="middle" font-weight="normal" fill="#1a1a1a" stroke="#1a1a1a" stroke-width="0.1" >0</text>
<text x="237.2" y="335.2" font-size="8.6" text-anchor="middle" font-weight="normal" fill="#1a1a1a" stroke="#1a1a1a" stroke-width="0.1" >20</text>
<text x="314.8" y="335.2" font-size="8.6" text-anchor="middle" font-weight="normal" fill="#1a1a1a" stroke="#1a1a1a" stroke-width="0.1" >40</text>
<text x="392.4" y="335.2" font-size="8.6" text-anchor="middle" font-weight="normal" fill="#1a1a1a" stroke="#1a1a1a" stroke-width="0.1" >60</text>
<path d="M396.2,308.5 L396.6,308.5 L396.7,308.9 L396.8,309.3 L397.0,309.7 L397.3,310.1 L397.6,310.5 L398.1,310.9 L398.9,311.3 L400.1,311.8 L402.0,312.2 L404.8,312.6 L408.4,313.0 L412.9,313.4 L417.7,313.8 L422.0,314.2 L425.1,314.6 L426.2,315.0 L425.1,315.4 L422.0,315.8 L417.7,316.2 L412.9,316.6 L408.4,317.0 L404.8,317.4 L402.0,317.8 L400.1,318.2 L398.9,318.7 L398.1,319.1 L397.6,319.5 L397.3,319.9 L397.0,320.3 L396.8,320.7 L396.7,321.1 L396.6,321.5 L396.2,321.5 Z" fill="#b4b4b4"/>
<line x1="396.2" y1="300" x2="396.2" y2="322" stroke="#c8c8c8" stroke-width="0.8" />
<text x="163.4" y="297" font-size="11.2" text-anchor="start" font-weight="normal" fill="#1a1a1a" stroke="#1a1a1a" stroke-width="0.1" >e</text>
<text x="316.3" y="298" font-size="8.2" text-anchor="start" font-weight="normal" fill="#1a1a1a" stroke="#1a1a1a" stroke-width="0.1" >1 nM isotype IgG</text>
<g transform="translate(133.8,279.8) rotate(-90)"><text x="0" y="0" font-size="8.8" text-anchor="middle" fill="#1a1a1a">Current (pA)</text></g>
<line x1="219.9" y1="376" x2="219.9" y2="374.9" stroke="#f8c67a" stroke-width="0.6" />
<line x1="318.9" y1="376" x2="318.9" y2="374.6" stroke="#f8c67a" stroke-width="0.6" />
<line x1="202.8" y1="376" x2="202.8" y2="375.7" stroke="#f8c67a" stroke-width="0.6" />
<line x1="193.9" y1="376" x2="193.9" y2="375.7" stroke="#f8c67a" stroke-width="0.6" />
<line x1="330.5" y1="376" x2="330.5" y2="375.9" stroke="#f8c67a" stroke-width="0.6" />
<line x1="283.3" y1="376" x2="283.3" y2="375.7" stroke="#f8c67a" stroke-width="0.6" />
<line x1="378.5" y1="376" x2="378.5" y2="355.9" stroke="#f0a030" stroke-width="0.7" />
<polygon points="160.2,374.9 160.7,373.5 161.2,374.8 161.7,374.5 162.2,373.4 162.7,372.9 163.2,375.2 163.7,373.6 164.2,374.9 164.7,375.0 165.2,373.7 165.7,374.8 166.2,373.2 166.7,375.2 167.2,374.3 167.7,373.3 168.2,375.8 168.7,373.5 169.2,375.0 169.7,375.2 170.2,374.4 170.7,374.6 171.2,375.1 171.7,372.0 172.2,375.2 172.7,375.3 173.2,374.6 173.7,371.4 174.2,373.0 174.7,372.8 175.2,372.9 175.7,374.4 176.2,375.0 176.7,372.8 177.2,374.1 177.7,369.8 178.2,373.6 178.7,374.5 179.2,374.6 179.7,374.3 180.2,373.9 180.7,374.3 181.2,374.0 181.7,374.2 182.2,375.0 182.7,373.1 183.2,374.9 183.7,375.5 184.2,374.5 184.7,374.1 185.2,373.5 185.7,375.6 186.2,375.0 186.7,374.4 187.2,375.1 187.7,372.6 188.2,374.3 188.7,374.7 189.2,374.2 189.7,373.5 190.2,373.0 190.7,374.9 191.2,373.5 191.7,375.0 192.2,374.2 192.7,374.9 193.2,375.2 193.7,373.1 194.2,374.4 194.7,372.1 195.2,375.1 195.7,374.4 196.2,373.4 196.7,374.4 197.2,373.8 197.7,375.5 198.2,374.1 198.7,375.1 199.2,373.8 199.7,373.5 200.2,373.0 200.7,373.9 201.2,375.2 201.7,374.2 202.2,373.5 202.7,373.5 203.2,375.1 203.7,375.3 204.2,374.8 204.7,372.0 205.2,375.1 205.7,375.9 206.2,372.4 206.7,374.0 207.2,376.2 207.7,373.5 208.2,373.8 208.7,374.0 209.2,375.1 209.7,375.9 210.2,375.7 210.7,375.9 211.2,373.1 211.7,376.1 212.2,376.0 212.7,373.4 213.2,375.5 213.7,374.5 214.2,374.7 214.7,374.0 215.2,373.9 215.7,375.4 216.2,375.7 216.7,373.6 217.2,374.8 217.7,373.2 218.2,375.0 218.7,374.3 219.2,373.5 219.7,374.7 220.2,373.4 220.7,372.8 221.2,374.5 221.7,374.1 222.2,374.3 222.7,372.5 223.2,374.8 223.7,374.6 224.2,375.1 224.7,375.2 225.2,373.1 225.7,375.5 226.2,375.5 226.7,374.8 227.2,374.1 227.7,375.6 228.2,374.9 228.7,375.2 229.2,373.2 229.7,374.6 230.2,374.1 230.7,375.2 231.2,374.3 231.7,374.4 232.2,374.4 232.7,375.1 233.2,374.8 233.7,374.7 234.2,375.0 234.7,375.4 235.2,373.4 235.7,372.3 236.2,373.9 236.7,373.5 237.2,373.3 237.7,372.7 238.2,373.9 238.7,373.5 239.2,374.7 239.7,374.2 240.2,375.1 240.7,373.2 241.2,374.4 241.7,374.5 242.2,374.2 242.7,375.4 243.2,373.9 243.7,375.4 244.2,373.9 244.7,373.6 245.2,373.2 245.7,374.0 246.2,374.1 246.7,373.7 247.2,373.2 247.7,373.8 248.2,372.7 248.7,372.5 249.2,375.0 249.7,374.6 250.2,375.3 250.7,373.6 251.2,375.3 251.7,374.4 252.2,375.4 252.7,375.3 253.2,372.8 253.7,375.7 254.2,374.5 254.7,375.1 255.2,374.5 255.7,375.1 256.2,373.0 256.7,373.7 257.2,374.9 257.7,373.9 258.2,374.5 258.7,375.1 259.2,374.0 259.7,374.7 260.2,375.1 260.7,374.5 261.2,373.7 261.7,375.4 262.2,373.1 262.7,373.6 263.2,375.2 263.7,373.7 264.2,375.4 264.7,373.0 265.2,374.4 265.7,373.5 266.2,375.4 266.7,373.4 267.2,374.9 267.7,373.5 268.2,374.4 268.7,373.7 269.2,372.3 269.7,375.0 270.2,374.5 270.7,373.7 271.2,374.3 271.7,373.9 272.2,375.0 272.7,374.8 273.2,374.8 273.7,374.2 274.2,374.0 274.7,374.8 275.2,374.0 275.7,373.2 276.2,374.4 276.7,374.7 277.2,375.3 277.7,375.4 278.2,372.9 278.7,374.0 279.2,374.2 279.7,371.1 280.2,375.0 280.7,374.9 281.2,375.4 281.7,373.8 282.2,374.7 282.7,374.8 283.2,371.2 283.7,375.9 284.2,374.9 284.7,374.6 285.2,374.6 285.7,375.1 286.2,373.9 286.7,373.4 287.2,372.6 287.7,372.8 288.2,374.8 288.7,372.0 289.2,372.7 289.7,373.6 290.2,373.9 290.7,374.6 291.2,374.4 291.7,373.0 292.2,374.6 292.7,374.5 293.2,374.3 293.7,375.5 294.2,373.5 294.7,374.0 295.2,375.7 295.7,372.4 296.2,373.7 296.7,374.9 297.2,373.8 297.7,375.4 298.2,372.7 298.7,376.2 299.2,374.8 299.7,373.6 300.2,375.7 300.7,376.9 301.2,373.5 301.7,375.3 302.2,374.7 302.7,374.3 303.2,375.3 303.7,374.6 304.2,375.7 304.7,374.6 305.2,374.4 305.7,373.3 306.2,372.1 306.7,374.0 307.2,373.8 307.7,375.3 308.2,374.3 308.7,374.7 309.2,371.4 309.7,374.2 310.2,373.9 310.7,372.2 311.2,371.2 311.7,375.7 312.2,374.8 312.7,374.9 313.2,373.6 313.7,374.0 314.2,376.1 314.7,375.1 315.2,373.1 315.7,373.6 316.2,373.1 316.7,374.6 317.2,373.4 317.7,374.5 318.2,371.7 318.7,375.3 319.2,375.5 319.7,373.4 320.2,374.7 320.7,375.4 321.2,373.8 321.7,374.1 322.2,375.1 322.7,374.6 323.2,374.7 323.7,374.4 324.2,374.2 324.7,372.7 325.2,374.0 325.7,374.3 326.2,374.5 326.7,375.3 327.2,374.7 327.7,374.1 328.2,374.0 328.7,375.0 329.2,373.1 329.7,373.2 330.2,373.2 330.7,372.8 331.2,371.6 331.7,372.8 332.2,374.4 332.7,374.9 333.2,375.9 333.7,375.4 334.2,375.3 334.7,375.4 335.2,375.0 335.7,374.4 336.2,374.6 336.7,376.0 337.2,375.1 337.7,374.6 338.2,374.6 338.7,374.0 339.2,374.7 339.7,374.7 340.2,374.6 340.7,374.9 341.2,374.3 341.7,374.2 342.2,373.8 342.7,374.4 343.2,374.1 343.7,373.4 344.2,373.6 344.7,374.6 345.2,375.0 345.7,373.7 346.2,374.9 346.7,372.1 347.2,375.4 347.7,373.7 348.2,374.2 348.7,374.5 349.2,371.5 349.7,372.9 350.2,375.1 350.7,369.5 351.2,375.2 351.7,374.5 352.2,372.4 352.7,372.4 353.2,374.0 353.7,374.5 354.2,373.6 354.7,373.9 355.2,375.1 355.7,373.7 356.2,374.1 356.7,374.7 357.2,374.3 357.7,374.6 358.2,374.6 358.7,374.3 359.2,373.7 359.7,372.4 360.2,375.3 360.7,373.7 361.2,375.0 361.7,374.5 362.2,373.9 362.7,373.6 363.2,374.5 363.7,373.0 364.2,373.8 364.7,375.2 365.2,374.6 365.7,375.0 366.2,373.9 366.7,375.9 367.2,372.8 367.7,374.5 368.2,375.0 368.7,375.7 369.2,374.2 369.7,375.4 370.2,373.2 370.7,375.1 371.2,374.5 371.7,374.2 372.2,374.4 372.7,373.6 373.2,375.4 373.7,373.0 374.2,375.1 374.7,374.4 375.2,373.7 375.7,372.8 376.2,374.4 376.7,374.1 377.2,375.7 377.7,374.3 378.2,372.1 378.7,373.9 379.2,375.3 379.7,374.8 380.2,373.7 380.7,373.2 381.2,373.7 381.7,372.2 382.2,373.8 382.7,374.2 383.2,374.0 383.7,373.0 384.2,373.0 384.7,374.4 385.2,374.1 385.7,374.8 386.2,374.5 386.7,371.3 387.2,372.8 387.7,374.8 388.2,374.4 388.7,374.4 389.2,374.6 389.7,375.2 390.2,373.1 390.7,374.3 391.2,373.9 391.7,375.3 391.7,384.1 391.2,383.7 390.7,383.3 390.2,382.1 389.7,381.8 389.2,381.8 388.7,382.5 388.2,382.0 387.7,383.4 387.2,383.4 386.7,382.6 386.2,382.5 385.7,383.7 385.2,382.3 384.7,381.9 384.2,381.9 383.7,383.1 383.2,381.0 382.7,383.3 382.2,381.2 381.7,382.5 381.2,382.2 380.7,382.6 380.2,383.4 379.7,382.5 379.2,383.4 378.7,382.6 378.2,383.3 377.7,384.6 377.2,382.9 376.7,384.7 376.2,382.4 375.7,383.1 375.2,382.5 374.7,382.6 374.2,382.2 373.7,381.6 373.2,383.7 372.7,380.9 372.2,383.5 371.7,382.8 371.2,382.3 370.7,381.9 370.2,382.0 369.7,384.8 369.2,383.0 368.7,381.9 368.2,385.1 367.7,382.7 367.2,384.2 366.7,382.8 366.2,383.5 365.7,382.2 365.2,382.2 364.7,382.4 364.2,383.4 363.7,381.4 363.2,383.3 362.7,383.4 362.2,382.3 361.7,383.3 361.2,381.8 360.7,384.0 360.2,383.1 359.7,383.0 359.2,382.0 358.7,382.7 358.2,382.2 357.7,383.1 357.2,381.9 356.7,382.8 356.2,383.7 355.7,382.6 355.2,382.2 354.7,381.7 354.2,382.3 353.7,381.6 353.2,382.1 352.7,382.1 352.2,382.8 351.7,383.6 351.2,381.7 350.7,381.9 350.2,383.1 349.7,381.2 349.2,381.0 348.7,382.8 348.2,383.7 347.7,382.6 347.2,384.5 346.7,381.8 346.2,382.3 345.7,381.5 345.2,383.0 344.7,383.9 344.2,381.7 343.7,381.9 343.2,383.8 342.7,381.7 342.2,381.8 341.7,382.8 341.2,382.2 340.7,382.2 340.2,383.5 339.7,383.3 339.2,383.6 338.7,381.8 338.2,382.4 337.7,382.4 337.2,381.8 336.7,383.7 336.2,382.0 335.7,382.6 335.2,382.7 334.7,382.1 334.2,382.2 333.7,383.9 333.2,382.6 332.7,383.5 332.2,382.0 331.7,382.1 331.2,382.4 330.7,381.9 330.2,384.9 329.7,382.1 329.2,382.0 328.7,383.3 328.2,382.9 327.7,381.3 327.2,382.2 326.7,382.5 326.2,381.9 325.7,383.3 325.2,382.9 324.7,382.9 324.2,383.4 323.7,384.4 323.2,383.2 322.7,383.3 322.2,383.3 321.7,384.6 321.2,382.9 320.7,384.9 320.2,381.6 319.7,382.7 319.2,383.9 318.7,381.8 318.2,384.2 317.7,382.1 317.2,382.3 316.7,382.5 316.2,382.7 315.7,382.4 315.2,381.4 314.7,382.6 314.2,385.3 313.7,382.8 313.2,382.9 312.7,384.3 312.2,382.9 311.7,383.1 311.2,382.3 310.7,383.6 310.2,383.5 309.7,381.3 309.2,381.2 308.7,384.5 308.2,381.9 307.7,383.2 307.2,383.1 306.7,382.0 306.2,384.0 305.7,381.8 305.2,383.4 304.7,382.4 304.2,383.2 303.7,382.4 303.2,383.0 302.7,383.9 302.2,383.8 301.7,382.7 301.2,382.5 300.7,383.4 300.2,384.2 299.7,381.8 299.2,382.1 298.7,383.1 298.2,382.0 297.7,383.0 297.2,381.6 296.7,382.1 296.2,382.0 295.7,381.5 295.2,383.9 294.7,382.1 294.2,384.1 293.7,383.2 293.2,382.5 292.7,381.7 292.2,381.7 291.7,381.9 291.2,382.1 290.7,381.3 290.2,381.4 289.7,382.1 289.2,382.6 288.7,383.4 288.2,384.0 287.7,382.3 287.2,382.2 286.7,381.7 286.2,382.9 285.7,383.9 285.2,382.5 284.7,383.0 284.2,383.0 283.7,383.3 283.2,381.8 282.7,384.3 282.2,383.1 281.7,382.3 281.2,383.9 280.7,382.9 280.2,385.9 279.7,381.3 279.2,382.5 278.7,382.6 278.2,382.3 277.7,382.6 277.2,383.0 276.7,383.8 276.2,382.2 275.7,381.9 275.2,384.9 274.7,383.5 274.2,382.7 273.7,382.7 273.2,381.8 272.7,382.8 272.2,382.8 271.7,381.6 271.2,383.1 270.7,382.0 270.2,382.9 269.7,383.8 269.2,382.6 268.7,383.0 268.2,382.5 267.7,383.4 267.2,382.4 266.7,383.5 266.2,383.3 265.7,381.1 265.2,381.7 264.7,383.2 264.2,382.7 263.7,381.4 263.2,382.2 262.7,382.4 262.2,383.0 261.7,384.1 261.2,381.8 260.7,382.3 260.2,381.7 259.7,382.2 259.2,381.8 258.7,383.5 258.2,382.4 257.7,382.8 257.2,381.7 256.7,383.1 256.2,381.9 255.7,383.3 255.2,381.7 254.7,381.8 254.2,385.1 253.7,384.2 253.2,382.3 252.7,384.5 252.2,383.4 251.7,381.8 251.2,383.4 250.7,383.2 250.2,383.1 249.7,383.3 249.2,384.5 248.7,382.2 248.2,382.3 247.7,381.5 247.2,382.3 246.7,381.3 246.2,381.9 245.7,382.9 245.2,384.4 244.7,381.7 244.2,383.2 243.7,382.2 243.2,382.1 242.7,383.7 242.2,384.0 241.7,383.5 241.2,381.8 240.7,382.1 240.2,382.0 239.7,382.3 239.2,382.7 238.7,381.2 238.2,382.2 237.7,382.7 237.2,382.5 236.7,382.5 236.2,382.3 235.7,381.9 235.2,382.6 234.7,383.5 234.2,381.9 233.7,383.8 233.2,381.5 232.7,382.9 232.2,382.3 231.7,383.5 231.2,381.9 230.7,383.3 230.2,382.3 229.7,383.0 229.2,382.9 228.7,383.3 228.2,381.8 227.7,383.1 227.2,382.3 226.7,383.9 226.2,382.2 225.7,385.6 225.2,381.3 224.7,382.2 224.2,382.1 223.7,382.1 223.2,382.8 222.7,383.2 222.2,382.6 221.7,384.4 221.2,382.9 220.7,382.9 220.2,382.0 219.7,382.0 219.2,382.5 218.7,381.5 218.2,384.8 217.7,382.3 217.2,383.3 216.7,381.3 216.2,383.0 215.7,383.3 215.2,382.7 214.7,381.5 214.2,381.4 213.7,381.7 213.2,383.3 212.7,383.8 212.2,385.1 211.7,382.8 211.2,383.5 210.7,384.4 210.2,382.1 209.7,382.8 209.2,382.6 208.7,383.5 208.2,382.7 207.7,383.4 207.2,383.8 206.7,382.8 206.2,380.6 205.7,383.8 205.2,383.3 204.7,382.9 204.2,385.9 203.7,382.2 203.2,384.1 202.7,382.1 202.2,384.5 201.7,384.2 201.2,382.3 200.7,381.7 200.2,381.9 199.7,381.9 199.2,384.0 198.7,382.4 198.2,383.7 197.7,383.1 197.2,382.8 196.7,383.5 196.2,384.3 195.7,381.8 195.2,383.0 194.7,382.6 194.2,382.5 193.7,383.2 193.2,382.5 192.7,381.8 192.2,381.9 191.7,383.5 191.2,384.3 190.7,384.1 190.2,382.0 189.7,382.5 189.2,384.1 188.7,384.1 188.2,381.8 187.7,383.4 187.2,383.2 186.7,381.6 186.2,381.6 185.7,385.3 185.2,382.6 184.7,383.6 184.2,381.5 183.7,381.9 183.2,383.1 182.7,382.6 182.2,382.4 181.7,382.7 181.2,382.4 180.7,382.1 180.2,384.4 179.7,383.1 179.2,381.5 178.7,382.4 178.2,383.3 177.7,381.4 177.2,384.1 176.7,384.1 176.2,384.9 175.7,382.0 175.2,382.8 174.7,383.2 174.2,381.3 173.7,383.2 173.2,382.3 172.7,381.9 172.2,382.5 171.7,383.9 171.2,382.0 170.7,383.7 170.2,383.7 169.7,384.7 169.2,384.6 168.7,383.3 168.2,384.4 167.7,384.3 167.2,382.4 166.7,382.7 166.2,382.0 165.7,382.3 165.2,382.8 164.7,381.8 164.2,382.4 163.7,382.3 163.2,384.0 162.7,382.0 162.2,381.8 161.7,384.1 161.2,381.6 160.7,383.1 160.2,382.4" fill="#f39a12" stroke="#f39a12" stroke-width="0.3" opacity="0.7"/>
<polygon points="160.2,376.4 160.7,375.4 161.2,376.2 161.7,376.4 162.2,375.1 162.7,374.7 163.2,377.0 163.7,375.3 164.2,376.4 164.7,376.4 165.2,375.5 165.7,376.3 166.2,374.9 166.7,376.7 167.2,375.9 167.7,375.5 168.2,377.5 168.7,375.4 169.2,376.9 169.7,377.1 170.2,376.3 170.7,376.4 171.2,376.5 171.7,374.4 172.2,376.6 172.7,376.6 173.2,376.2 173.7,373.8 174.2,374.6 174.7,374.9 175.2,374.9 175.7,375.9 176.2,377.0 176.7,375.1 177.2,376.1 177.7,372.1 178.2,375.5 178.7,376.0 179.2,376.0 179.7,376.0 180.2,376.0 180.7,375.8 181.2,375.6 181.7,375.9 182.2,376.5 182.7,375.0 183.2,376.6 183.7,376.8 184.2,375.9 184.7,376.0 185.2,375.3 185.7,377.5 186.2,376.3 186.7,375.8 187.2,376.7 187.7,374.8 188.2,375.8 188.7,376.6 189.2,376.2 189.7,375.3 190.2,374.8 190.7,376.7 191.2,375.6 191.7,376.7 192.2,375.8 192.7,376.3 193.2,376.7 193.7,375.1 194.2,376.0 194.7,374.2 195.2,376.7 195.7,375.9 196.2,375.6 196.7,376.2 197.2,375.6 197.7,377.0 198.2,376.0 198.7,376.6 199.2,375.9 199.7,375.1 200.2,374.7 200.7,375.5 201.2,376.6 201.7,376.2 202.2,375.7 202.7,375.2 203.2,376.9 203.7,376.7 204.2,377.0 204.7,374.2 205.2,376.7 205.7,377.5 206.2,374.0 206.7,375.7 207.2,377.7 207.7,375.5 208.2,375.6 208.7,375.9 209.2,376.6 209.7,377.3 210.2,377.0 210.7,377.6 211.2,375.2 211.7,377.4 212.2,377.8 212.7,375.5 213.2,377.0 213.7,376.0 214.2,376.0 214.7,375.5 215.2,375.7 215.7,377.0 216.2,377.1 216.7,375.2 217.2,376.5 217.7,375.0 218.2,377.0 218.7,375.7 219.2,375.3 219.7,376.2 220.2,375.1 220.7,374.8 221.2,376.2 221.7,376.2 222.2,375.9 222.7,374.7 223.2,376.4 223.7,376.1 224.2,376.5 224.7,376.6 225.2,374.8 225.7,377.5 226.2,376.9 226.7,376.6 227.2,375.8 227.7,377.1 228.2,376.3 228.7,376.8 229.2,375.1 229.7,376.3 230.2,375.7 230.7,376.8 231.2,375.8 231.7,376.2 232.2,376.0 232.7,376.7 233.2,376.2 233.7,376.5 234.2,376.3 234.7,377.0 235.2,375.2 235.7,374.2 236.2,375.6 236.7,375.3 237.2,375.1 237.7,374.7 238.2,375.6 238.7,375.0 239.2,376.3 239.7,375.9 240.2,376.4 240.7,375.0 241.2,375.9 241.7,376.3 242.2,376.2 242.7,377.0 243.2,375.6 243.7,376.8 244.2,375.8 244.7,375.2 245.2,375.4 245.7,375.8 246.2,375.7 246.7,375.2 247.2,375.0 247.7,375.3 248.2,374.6 248.7,374.5 249.2,376.9 249.7,376.3 250.2,376.9 250.7,375.5 251.2,376.9 251.7,375.8 252.2,377.0 252.7,377.1 253.2,374.7 253.7,377.4 254.2,376.7 254.7,376.5 255.2,376.0 255.7,376.7 256.2,374.8 256.7,375.6 257.2,376.2 257.7,375.7 258.2,376.1 258.7,376.8 259.2,375.5 259.7,376.2 260.2,376.4 260.7,376.0 261.2,375.3 261.7,377.2 262.2,375.0 262.7,375.4 263.2,376.6 263.7,375.2 264.2,376.9 264.7,375.0 265.2,375.9 265.7,375.0 266.2,377.0 266.7,375.5 267.2,376.4 267.7,375.5 268.2,376.0 268.7,375.6 269.2,374.4 269.7,376.8 270.2,376.2 270.7,375.4 271.2,376.1 271.7,375.4 272.2,376.6 272.7,376.4 273.2,376.2 273.7,375.9 274.2,375.8 274.7,376.6 275.2,376.2 275.7,374.9 276.2,375.9 276.7,376.5 277.2,376.8 277.7,376.8 278.2,374.8 278.7,375.7 279.2,375.8 279.7,373.2 280.2,377.2 280.7,376.5 281.2,377.1 281.7,375.5 282.2,376.4 282.7,376.7 283.2,373.4 283.7,377.4 284.2,376.5 284.7,376.3 285.2,376.1 285.7,376.9 286.2,375.7 286.7,375.0 287.2,374.5 287.7,374.7 288.2,376.6 288.7,374.3 289.2,374.7 289.7,375.3 290.2,375.4 290.7,375.9 291.2,376.0 291.7,374.8 292.2,376.0 292.7,375.9 293.2,376.0 293.7,377.0 294.2,375.6 294.7,375.6 295.2,377.4 295.7,374.2 296.2,375.4 296.7,376.3 297.2,375.3 297.7,376.9 298.2,374.6 298.7,377.6 299.2,376.3 299.7,375.3 300.2,377.4 300.7,378.2 301.2,375.3 301.7,376.8 302.2,376.5 302.7,376.2 303.2,376.8 303.7,376.1 304.2,377.2 304.7,376.2 305.2,376.2 305.7,375.0 306.2,374.4 306.7,375.6 307.2,375.6 307.7,376.9 308.2,375.9 308.7,376.7 309.2,373.4 309.7,375.6 310.2,375.8 310.7,374.5 311.2,373.4 311.7,377.2 312.2,376.4 312.7,376.8 313.2,375.5 313.7,375.7 314.2,377.9 314.7,376.6 315.2,374.7 315.7,375.4 316.2,375.0 316.7,376.2 317.2,375.2 317.7,376.0 318.2,374.2 318.7,376.6 319.2,377.2 319.7,375.3 320.2,376.1 320.7,377.3 321.2,375.6 321.7,376.2 322.2,376.7 322.7,376.3 323.2,376.4 323.7,376.4 324.2,376.0 324.7,374.7 325.2,375.8 325.7,376.1 326.2,376.0 326.7,376.8 327.2,376.2 327.7,375.6 328.2,375.8 328.7,376.7 329.2,374.9 329.7,375.0 330.2,375.5 330.7,374.7 331.2,373.7 331.7,374.7 332.2,375.9 332.7,376.6 333.2,377.2 333.7,377.1 334.2,376.7 334.7,376.8 335.2,376.6 335.7,376.1 336.2,376.1 336.7,377.5 337.2,376.5 337.7,376.1 338.2,376.2 338.7,375.6 339.2,376.5 339.7,376.4 340.2,376.4 340.7,376.4 341.2,375.9 341.7,375.9 342.2,375.4 342.7,375.9 343.2,376.1 343.7,375.1 344.2,375.2 344.7,376.4 345.2,376.6 345.7,375.3 346.2,376.4 346.7,374.1 347.2,377.2 347.7,375.5 348.2,376.1 348.7,376.2 349.2,373.4 349.7,374.5 350.2,376.7 350.7,372.0 351.2,376.5 351.7,376.3 352.2,374.4 352.7,374.3 353.2,375.6 353.7,375.9 354.2,375.4 354.7,375.5 355.2,376.6 355.7,375.5 356.2,376.0 356.7,376.4 357.2,375.8 357.7,376.3 358.2,376.2 358.7,375.9 359.2,375.3 359.7,374.5 360.2,376.9 360.7,375.8 361.2,376.3 361.7,376.3 362.2,375.6 362.7,375.6 363.2,376.3 363.7,374.7 364.2,375.7 364.7,376.7 365.2,376.1 365.7,376.4 366.2,375.8 366.7,377.3 367.2,375.1 367.7,376.2 368.2,377.0 368.7,376.9 369.2,376.0 369.7,377.2 370.2,375.0 370.7,376.4 371.2,376.0 371.7,375.9 372.2,376.3 372.7,375.1 373.2,377.0 373.7,374.8 374.2,376.6 374.7,376.0 375.2,375.5 375.7,374.8 376.2,376.0 376.7,376.2 377.2,377.2 377.7,376.4 378.2,374.4 378.7,375.6 379.2,376.9 379.7,376.4 380.2,375.7 380.7,375.1 381.2,375.4 381.7,374.2 382.2,375.3 382.7,376.0 383.2,375.4 383.7,375.0 384.2,374.8 384.7,375.9 385.2,375.8 385.7,376.6 386.2,376.1 386.7,373.6 387.2,374.9 387.7,376.5 388.2,375.9 388.7,376.0 389.2,376.1 389.7,376.5 390.2,374.9 390.7,376.1 391.2,375.9 391.7,377.1 391.7,382.3 391.2,381.8 390.7,381.5 390.2,380.3 389.7,380.5 389.2,380.4 388.7,380.8 388.2,380.5 387.7,381.7 387.2,381.3 386.7,380.3 386.2,380.9 385.7,381.9 385.2,380.7 384.7,380.4 384.2,380.1 383.7,381.1 383.2,379.6 382.7,381.5 382.2,379.8 381.7,380.4 381.2,380.5 380.7,380.7 380.2,381.5 379.7,381.0 379.2,381.8 378.7,380.8 378.2,381.1 377.7,382.6 377.2,381.5 376.7,382.6 376.2,380.8 375.7,381.0 375.2,380.7 374.7,380.9 374.2,380.8 373.7,379.9 373.2,382.0 372.7,379.5 372.2,381.7 371.7,381.0 371.2,380.7 370.7,380.5 370.2,380.3 369.7,382.9 369.2,381.3 368.7,380.7 368.2,383.1 367.7,381.1 367.2,381.9 366.7,381.4 366.2,381.6 365.7,380.8 365.2,380.7 364.7,381.0 364.2,381.5 363.7,379.7 363.2,381.6 362.7,381.5 362.2,380.6 361.7,381.6 361.2,380.4 360.7,381.9 360.2,381.6 359.7,380.9 359.2,380.4 358.7,381.0 358.2,380.7 357.7,381.4 357.2,380.4 356.7,381.2 356.2,381.7 355.7,380.9 355.2,380.8 354.7,380.2 354.2,380.5 353.7,380.2 353.2,380.5 352.7,380.1 352.2,380.7 351.7,381.8 351.2,380.4 350.7,379.4 350.2,381.5 349.7,379.5 349.2,379.1 348.7,381.2 348.2,381.8 347.7,380.9 347.2,382.7 346.7,379.9 346.2,380.8 345.7,380.0 345.2,381.4 344.7,382.1 344.2,380.1 343.7,380.2 343.2,381.9 342.7,380.2 342.2,380.2 341.7,381.0 341.2,380.6 340.7,380.8 340.2,381.7 339.7,381.5 339.2,381.8 338.7,380.3 338.2,380.8 337.7,380.8 337.2,380.5 336.7,382.2 336.2,380.5 335.7,380.9 335.2,381.2 334.7,380.8 334.2,380.8 333.7,382.2 333.2,381.2 332.7,381.8 332.2,380.5 331.7,380.3 331.2,380.2 330.7,380.1 330.2,382.6 329.7,380.3 329.2,380.2 328.7,381.6 328.2,381.1 327.7,379.9 327.2,380.7 326.7,381.1 326.2,380.4 325.7,381.5 325.2,381.1 324.7,380.9 324.2,381.5 323.7,382.4 323.2,381.5 322.7,381.5 322.2,381.7 321.7,382.5 321.2,381.1 320.7,383.0 320.2,380.2 319.7,380.9 319.2,382.2 318.7,380.5 318.2,381.7 317.7,380.6 317.2,380.5 316.7,380.9 316.2,380.8 315.7,380.7 315.2,379.7 314.7,381.1 314.2,383.4 313.7,381.0 313.2,381.0 312.7,382.4 312.2,381.3 311.7,381.6 311.2,380.0 310.7,381.3 310.2,381.6 309.7,379.9 309.2,379.3 308.7,382.5 308.2,380.4 307.7,381.7 307.2,381.3 306.7,380.4 306.2,381.6 305.7,380.1 305.2,381.6 304.7,380.9 304.2,381.7 303.7,380.8 303.2,381.4 302.7,382.0 302.2,382.0 301.7,381.2 301.2,380.7 300.7,382.1 300.2,382.5 299.7,380.2 299.2,380.7 298.7,381.7 298.2,380.2 297.7,381.4 297.2,380.0 296.7,380.7 296.2,380.4 295.7,379.7 295.2,382.3 294.7,380.4 294.2,382.0 293.7,381.7 293.2,380.9 292.7,380.3 292.2,380.3 291.7,380.1 291.2,380.6 290.7,380.0 290.2,379.9 289.7,380.4 289.2,380.6 288.7,381.1 288.2,382.2 287.7,380.4 287.2,380.3 286.7,380.0 286.2,381.1 285.7,382.1 285.2,380.9 284.7,381.3 284.2,381.4 283.7,381.8 283.2,379.7 282.7,382.4 282.2,381.4 281.7,380.6 281.2,382.2 280.7,381.3 280.2,383.7 279.7,379.2 279.2,380.8 278.7,380.9 278.2,380.4 277.7,381.2 277.2,381.4 276.7,382.0 276.2,380.6 275.7,380.2 275.2,382.7 274.7,381.8 274.2,381.0 273.7,381.0 273.2,380.4 272.7,381.2 272.2,381.2 271.7,380.0 271.2,381.4 270.7,380.3 270.2,381.3 269.7,382.1 269.2,380.5 268.7,381.1 268.2,380.8 267.7,381.4 267.2,380.9 266.7,381.5 266.2,381.7 265.7,379.6 265.2,380.2 264.7,381.1 264.2,381.3 263.7,379.8 263.2,380.8 262.7,380.7 262.2,381.0 261.7,382.3 261.2,380.2 260.7,380.7 260.2,380.4 259.7,380.7 259.2,380.2 258.7,381.8 258.2,380.9 257.7,381.0 257.2,380.3 256.7,381.2 256.2,380.2 255.7,381.6 255.2,380.3 254.7,380.5 254.2,383.0 253.7,382.5 253.2,380.4 252.7,382.7 252.2,381.8 251.7,380.3 251.2,381.8 250.7,381.3 250.2,381.6 249.7,381.6 249.2,382.6 248.7,380.2 248.2,380.4 247.7,379.9 247.2,380.5 246.7,379.8 246.2,380.4 245.7,381.1 245.2,382.2 244.7,380.1 244.2,381.3 243.7,380.8 243.2,380.5 242.7,382.0 242.2,382.0 241.7,381.7 241.2,380.3 240.7,380.3 240.2,380.6 239.7,380.7 239.2,381.1 238.7,379.7 238.2,380.5 237.7,380.7 237.2,380.6 236.7,380.7 236.2,380.6 235.7,380.0 235.2,380.7 234.7,381.9 234.2,380.5 233.7,382.0 233.2,380.1 232.7,381.4 232.2,380.7 231.7,381.7 231.2,380.4 230.7,381.7 230.2,380.7 229.7,381.3 229.2,380.9 228.7,381.7 228.2,380.4 227.7,381.6 227.2,380.7 226.7,382.1 226.2,380.8 225.7,383.6 225.2,379.6 224.7,380.8 224.2,380.7 223.7,380.6 223.2,381.2 222.7,381.1 222.2,380.9 221.7,382.3 221.2,381.2 220.7,380.9 220.2,380.3 219.7,380.6 219.2,380.7 218.7,380.0 218.2,382.8 217.7,380.5 217.2,381.6 216.7,379.8 216.2,381.6 215.7,381.7 215.2,380.9 214.7,380.0 214.2,380.0 213.7,380.3 213.2,381.7 212.7,381.7 212.2,383.3 211.7,381.4 211.2,381.4 210.7,382.7 210.2,380.8 209.7,381.5 209.2,381.1 208.7,381.6 208.2,381.0 207.7,381.5 207.2,382.2 206.7,381.0 206.2,379.0 205.7,382.2 205.2,381.6 204.7,380.7 204.2,383.7 203.7,380.8 203.2,382.3 202.7,380.4 202.2,382.3 201.7,382.2 201.2,380.9 200.7,380.2 200.2,380.1 199.7,380.2 199.2,381.9 198.7,381.0 198.2,381.8 197.7,381.6 197.2,381.0 196.7,381.7 196.2,382.1 195.7,380.4 195.2,381.4 194.7,380.5 194.2,380.9 193.7,381.2 193.2,381.1 192.7,380.4 192.2,380.4 191.7,381.8 191.2,382.2 190.7,382.2 190.2,380.2 189.7,380.7 189.2,382.1 188.7,382.2 188.2,380.3 187.7,381.2 187.2,381.6 186.7,380.2 186.2,380.3 185.7,383.4 185.2,380.8 184.7,381.7 184.2,380.1 183.7,380.6 183.2,381.5 182.7,380.7 182.2,380.9 181.7,381.0 181.2,380.7 180.7,380.6 180.2,382.3 179.7,381.4 179.2,380.1 178.7,380.8 178.2,381.3 177.7,379.1 177.2,382.1 176.7,381.9 176.2,382.9 175.7,380.5 175.2,380.8 174.7,381.2 174.2,379.6 173.7,380.8 173.2,380.8 172.7,380.6 172.2,381.0 171.7,381.5 171.2,380.6 170.7,381.9 170.2,381.8 169.7,382.8 169.2,382.7 168.7,381.3 168.2,382.7 167.7,382.1 167.2,380.8 166.7,381.2 166.2,380.2 165.7,380.8 165.2,381.0 164.7,380.4 164.2,380.9 163.7,380.5 163.2,382.3 162.7,380.2 162.2,380.1 161.7,382.2 161.2,380.3 160.7,381.2 160.2,380.9" fill="#f39a12" stroke="#f39a12" stroke-width="0.3"/>
<rect x="159.6" y="349.4" width="232.8" height="37.5" fill="none" stroke="#6a6a6a" stroke-width="1.2" />
<line x1="160.1" y1="359.4" x2="162.4" y2="359.4" stroke="#333" stroke-width="0.9" />
<line x1="160.1" y1="378" x2="162.4" y2="378" stroke="#333" stroke-width="0.9" />
<line x1="160.1" y1="368.7" x2="161.4" y2="368.7" stroke="#333" stroke-width="0.9" />
<text x="155.6" y="362.5" font-size="8.5" text-anchor="end" font-weight="normal" fill="#1a1a1a" stroke="#1a1a1a" stroke-width="0.1" >300</text>
<text x="155.6" y="381.1" font-size="8.5" text-anchor="end" font-weight="normal" fill="#1a1a1a" stroke="#1a1a1a" stroke-width="0.1" >0</text>
<line x1="198.4" y1="386.4" x2="198.4" y2="385.3" stroke="#333" stroke-width="0.9" />
<line x1="237.2" y1="386.4" x2="237.2" y2="384.3" stroke="#333" stroke-width="0.9" />
<line x1="276" y1="386.4" x2="276" y2="385.3" stroke="#333" stroke-width="0.9" />
<line x1="314.8" y1="386.4" x2="314.8" y2="384.3" stroke="#333" stroke-width="0.9" />
<line x1="353.6" y1="386.4" x2="353.6" y2="385.3" stroke="#333" stroke-width="0.9" />
<text x="159.6" y="396.4" font-size="8.6" text-anchor="middle" font-weight="normal" fill="#1a1a1a" stroke="#1a1a1a" stroke-width="0.1" >0</text>
<text x="237.2" y="396.4" font-size="8.6" text-anchor="middle" font-weight="normal" fill="#1a1a1a" stroke="#1a1a1a" stroke-width="0.1" >20</text>
<text x="314.8" y="396.4" font-size="8.6" text-anchor="middle" font-weight="normal" fill="#1a1a1a" stroke="#1a1a1a" stroke-width="0.1" >40</text>
<text x="392.4" y="396.4" font-size="8.6" text-anchor="middle" font-weight="normal" fill="#1a1a1a" stroke="#1a1a1a" stroke-width="0.1" >60</text>
<path d="M396.2,372.0 L396.6,372.0 L396.7,372.4 L396.9,372.8 L397.1,373.1 L397.4,373.5 L397.8,373.9 L398.5,374.2 L399.5,374.6 L401.0,375.0 L403.2,375.4 L406.2,375.8 L410.0,376.1 L414.3,376.5 L418.7,376.9 L422.6,377.2 L425.2,377.6 L426.2,378.0 L425.2,378.4 L422.6,378.8 L418.7,379.1 L414.3,379.5 L410.0,379.9 L406.2,380.2 L403.2,380.6 L401.0,381.0 L399.5,381.4 L398.5,381.8 L397.8,382.1 L397.4,382.5 L397.1,382.9 L396.9,383.2 L396.7,383.6 L396.6,384.0 L396.2,384.0 Z" fill="#b4b4b4"/>
<line x1="396.2" y1="356.6" x2="396.2" y2="380" stroke="#f5c070" stroke-width="0.8" />
<text x="164.8" y="362.4" font-size="11.2" text-anchor="start" font-weight="normal" fill="#1a1a1a" stroke="#1a1a1a" stroke-width="0.1" >f</text>
<text x="295.6" y="358.6" font-size="8.2" text-anchor="start" font-weight="normal" fill="#1a1a1a" stroke="#1a1a1a" stroke-width="0.1" >200 pM anti-insulin IgG</text>
<line x1="184.5" y1="425.3" x2="184.5" y2="420.3" stroke="#f8c67a" stroke-width="0.6" />
<line x1="311.4" y1="425.3" x2="311.4" y2="418.8" stroke="#f8c67a" stroke-width="0.6" />
<line x1="222.7" y1="425.3" x2="222.7" y2="423.3" stroke="#f8c67a" stroke-width="0.6" />
<line x1="330.5" y1="425.3" x2="330.5" y2="420.6" stroke="#f8c67a" stroke-width="0.6" />
<line x1="230.1" y1="425.3" x2="230.1" y2="420.5" stroke="#f8c67a" stroke-width="0.6" />
<line x1="251.9" y1="425.3" x2="251.9" y2="419.9" stroke="#f8c67a" stroke-width="0.6" />
<line x1="187.2" y1="425.3" x2="187.2" y2="423.5" stroke="#f8c67a" stroke-width="0.6" />
<line x1="369.5" y1="425.3" x2="369.5" y2="422.6" stroke="#f8c67a" stroke-width="0.6" />
<line x1="220.2" y1="425.3" x2="220.2" y2="419.7" stroke="#f8c67a" stroke-width="0.6" />
<line x1="306.7" y1="425.3" x2="306.7" y2="423.9" stroke="#f8c67a" stroke-width="0.6" />
<line x1="288" y1="425.3" x2="288" y2="420.6" stroke="#f8c67a" stroke-width="0.6" />
<line x1="198" y1="425.3" x2="198" y2="420.7" stroke="#f8c67a" stroke-width="0.6" />
<line x1="188.2" y1="425.3" x2="188.2" y2="422.7" stroke="#f8c67a" stroke-width="0.6" />
<line x1="179" y1="425.3" x2="179" y2="423.6" stroke="#f8c67a" stroke-width="0.6" />
<line x1="387.3" y1="425.3" x2="387.3" y2="422.3" stroke="#f8c67a" stroke-width="0.6" />
<line x1="390.2" y1="425.3" x2="390.2" y2="422.1" stroke="#f8c67a" stroke-width="0.6" />
<line x1="301" y1="425.3" x2="301" y2="419.2" stroke="#f8c67a" stroke-width="0.6" />
<line x1="319.5" y1="425.3" x2="319.5" y2="424.2" stroke="#f8c67a" stroke-width="0.6" />
<line x1="296.7" y1="425.3" x2="296.7" y2="420.8" stroke="#f8c67a" stroke-width="0.6" />
<line x1="201.8" y1="425.3" x2="201.8" y2="424.3" stroke="#f8c67a" stroke-width="0.6" />
<line x1="363.3" y1="425.3" x2="363.3" y2="421.6" stroke="#f8c67a" stroke-width="0.6" />
<line x1="204.7" y1="425.3" x2="204.7" y2="422" stroke="#f8c67a" stroke-width="0.6" />
<line x1="210.4" y1="412.8" x2="210.4" y2="407.3" stroke="#f8c67a" stroke-width="0.6" />
<line x1="276.1" y1="425.3" x2="276.1" y2="424.3" stroke="#f8c67a" stroke-width="0.6" />
<line x1="350.1" y1="425.3" x2="350.1" y2="424.3" stroke="#f8c67a" stroke-width="0.6" />
<line x1="224.9" y1="425.3" x2="224.9" y2="424.7" stroke="#f8c67a" stroke-width="0.6" />
<line x1="332" y1="425.3" x2="332" y2="424.2" stroke="#f8c67a" stroke-width="0.6" />
<line x1="282" y1="425.3" x2="282" y2="424.3" stroke="#f8c67a" stroke-width="0.6" />
<line x1="271.4" y1="425.3" x2="271.4" y2="420.5" stroke="#f8c67a" stroke-width="0.6" />
<line x1="284.1" y1="425.3" x2="284.1" y2="422" stroke="#f8c67a" stroke-width="0.6" />
<line x1="272.5" y1="425.3" x2="272.5" y2="422.1" stroke="#f8c67a" stroke-width="0.6" />
<line x1="298.2" y1="425.3" x2="298.2" y2="424.3" stroke="#f8c67a" stroke-width="0.6" />
<line x1="270.1" y1="425.3" x2="270.1" y2="423.4" stroke="#f8c67a" stroke-width="0.6" />
<line x1="361.1" y1="425.3" x2="361.1" y2="418.8" stroke="#f8c67a" stroke-width="0.6" />
<line x1="175.1" y1="425.3" x2="175.1" y2="424" stroke="#f8c67a" stroke-width="0.6" />
<line x1="323.4" y1="425.3" x2="323.4" y2="421.2" stroke="#f8c67a" stroke-width="0.6" />
<line x1="164" y1="425.3" x2="164" y2="420.3" stroke="#f8c67a" stroke-width="0.6" />
<line x1="379.3" y1="425.3" x2="379.3" y2="422.2" stroke="#f8c67a" stroke-width="0.6" />
<line x1="240.5" y1="425.3" x2="240.5" y2="421.2" stroke="#f8c67a" stroke-width="0.6" />
<line x1="378.2" y1="425.3" x2="378.2" y2="423.2" stroke="#f8c67a" stroke-width="0.6" />
<polygon points="160.2,422.8 160.7,422.3 161.2,424.8 161.7,424.1 162.2,424.2 162.7,421.9 163.2,425.7 163.7,425.3 164.2,424.6 164.7,422.8 165.2,422.3 165.7,419.5 166.2,425.0 166.7,424.6 167.2,425.0 167.7,425.5 168.2,425.0 168.7,424.0 169.2,424.6 169.7,421.7 170.2,423.2 170.7,424.2 171.2,423.9 171.7,424.1 172.2,421.6 172.7,423.7 173.2,424.2 173.7,424.6 174.2,424.3 174.7,424.1 175.2,423.9 175.7,424.4 176.2,423.4 176.7,422.9 177.2,423.2 177.7,422.9 178.2,423.9 178.7,422.4 179.2,423.2 179.7,424.3 180.2,425.1 180.7,424.8 181.2,423.2 181.7,424.5 182.2,424.6 182.7,421.8 183.2,423.4 183.7,421.7 184.2,425.0 184.7,423.4 185.2,423.9 185.7,424.0 186.2,424.0 186.7,423.6 187.2,422.6 187.7,424.8 188.2,425.3 188.7,424.6 189.2,424.3 189.7,425.5 190.2,421.0 190.7,422.7 191.2,424.7 191.7,425.4 192.2,424.2 192.7,422.4 193.2,422.9 193.7,425.0 194.2,425.7 194.7,423.2 195.2,424.9 195.7,424.0 196.2,425.0 196.7,423.2 197.2,424.5 197.7,423.2 198.2,424.3 198.7,422.8 199.2,424.4 199.7,424.6 200.2,424.7 200.7,424.4 201.2,422.3 201.7,424.6 202.2,423.6 202.7,422.4 203.2,424.4 203.7,421.3 204.2,423.6 204.7,424.1 205.2,410.9 205.7,409.0 206.2,409.7 206.7,411.7 207.2,411.8 207.7,411.4 208.2,409.6 208.7,411.4 209.2,410.6 209.7,411.9 210.2,410.8 210.7,411.1 211.2,412.1 211.7,411.4 212.2,423.1 212.7,422.6 213.2,421.8 213.7,424.6 214.2,424.1 214.7,423.5 215.2,424.5 215.7,424.3 216.2,424.4 216.7,422.4 217.2,422.4 217.7,425.0 218.2,423.3 218.7,422.9 219.2,424.0 219.7,425.0 220.2,423.4 220.7,423.3 221.2,421.9 221.7,424.2 222.2,425.3 222.7,425.0 223.2,424.0 223.7,424.2 224.2,423.9 224.7,424.3 225.2,422.1 225.7,423.6 226.2,425.2 226.7,422.9 227.2,423.2 227.7,423.4 228.2,423.2 228.7,423.9 229.2,421.4 229.7,423.8 230.2,420.1 230.7,423.2 231.2,424.4 231.7,423.7 232.2,422.2 232.7,424.0 233.2,423.5 233.7,424.9 234.2,425.1 234.7,423.1 235.2,424.9 235.7,422.0 236.2,424.0 236.7,424.1 237.2,422.4 237.7,421.7 238.2,424.9 238.7,424.2 239.2,424.2 239.7,425.0 240.2,424.3 240.7,424.2 241.2,423.4 241.7,424.1 242.2,424.9 242.7,422.9 243.2,423.9 243.7,423.3 244.2,425.3 244.7,424.4 245.2,423.6 245.7,424.1 246.2,423.8 246.7,424.1 247.2,425.8 247.7,425.0 248.2,424.7 248.7,423.1 249.2,424.5 249.7,423.4 250.2,424.3 250.7,423.3 251.2,424.1 251.7,422.8 252.2,424.8 252.7,424.4 253.2,423.8 253.7,423.9 254.2,424.8 254.7,423.6 255.2,422.1 255.7,424.6 256.2,424.7 256.7,425.1 257.2,422.3 257.7,424.4 258.2,424.4 258.7,424.5 259.2,424.4 259.7,423.7 260.2,424.9 260.7,423.4 261.2,423.9 261.7,423.8 262.2,421.6 262.7,423.5 263.2,424.1 263.7,423.8 264.2,424.5 264.7,424.4 265.2,424.6 265.7,424.3 266.2,423.9 266.7,425.2 267.2,424.9 267.7,424.2 268.2,424.5 268.7,425.1 269.2,425.0 269.7,422.0 270.2,423.2 270.7,423.7 271.2,422.3 271.7,423.5 272.2,424.6 272.7,424.0 273.2,424.3 273.7,423.2 274.2,424.3 274.7,424.7 275.2,423.3 275.7,423.6 276.2,421.9 276.7,422.2 277.2,423.5 277.7,422.2 278.2,424.0 278.7,423.4 279.2,421.8 279.7,423.2 280.2,425.6 280.7,423.8 281.2,423.5 281.7,422.5 282.2,424.1 282.7,424.2 283.2,422.2 283.7,424.8 284.2,424.4 284.7,424.9 285.2,424.3 285.7,424.0 286.2,423.9 286.7,422.2 287.2,423.4 287.7,425.3 288.2,424.4 288.7,423.9 289.2,425.6 289.7,423.4 290.2,423.4 290.7,423.7 291.2,424.3 291.7,425.5 292.2,423.5 292.7,425.6 293.2,421.9 293.7,424.1 294.2,424.8 294.7,424.4 295.2,425.0 295.7,423.0 296.2,423.2 296.7,424.4 297.2,423.9 297.7,424.6 298.2,423.6 298.7,424.6 299.2,424.9 299.7,423.8 300.2,423.2 300.7,423.5 301.2,423.9 301.7,423.5 302.2,422.8 302.7,423.8 303.2,423.6 303.7,424.6 304.2,423.9 304.7,422.9 305.2,423.2 305.7,424.8 306.2,421.8 306.7,423.1 307.2,424.0 307.7,423.9 308.2,423.7 308.7,422.9 309.2,424.6 309.7,422.6 310.2,423.5 310.7,423.8 311.2,425.4 311.7,424.9 312.2,424.2 312.7,422.8 313.2,424.0 313.7,422.8 314.2,423.2 314.7,424.9 315.2,424.5 315.7,423.9 316.2,424.9 316.7,425.0 317.2,424.2 317.7,423.3 318.2,425.1 318.7,423.2 319.2,422.7 319.7,422.5 320.2,423.9 320.7,420.5 321.2,425.0 321.7,423.8 322.2,421.3 322.7,421.3 323.2,423.4 323.7,422.8 324.2,424.7 324.7,423.7 325.2,424.2 325.7,423.9 326.2,424.3 326.7,423.3 327.2,424.4 327.7,425.5 328.2,424.0 328.7,424.2 329.2,423.3 329.7,424.6 330.2,424.2 330.7,424.8 331.2,425.7 331.7,423.6 332.2,425.6 332.7,424.6 333.2,424.4 333.7,422.3 334.2,423.0 334.7,423.9 335.2,424.5 335.7,421.9 336.2,421.7 336.7,423.6 337.2,425.1 337.7,424.5 338.2,423.0 338.7,424.2 339.2,423.9 339.7,421.8 340.2,424.1 340.7,424.0 341.2,423.7 341.7,423.3 342.2,423.3 342.7,424.5 343.2,424.9 343.7,424.4 344.2,424.0 344.7,424.3 345.2,423.6 345.7,425.6 346.2,424.0 346.7,423.0 347.2,422.6 347.7,424.9 348.2,423.8 348.7,423.3 349.2,423.2 349.7,424.1 350.2,425.6 350.7,424.2 351.2,423.3 351.7,423.2 352.2,423.5 352.7,424.2 353.2,422.6 353.7,422.7 354.2,423.2 354.7,424.9 355.2,424.7 355.7,425.2 356.2,425.2 356.7,424.0 357.2,421.8 357.7,424.8 358.2,424.8 358.7,422.3 359.2,423.1 359.7,422.2 360.2,423.6 360.7,425.4 361.2,421.4 361.7,423.8 362.2,424.2 362.7,423.7 363.2,424.6 363.7,424.6 364.2,423.7 364.7,425.6 365.2,424.8 365.7,422.9 366.2,423.5 366.7,423.2 367.2,425.2 367.7,422.6 368.2,420.3 368.7,422.7 369.2,423.6 369.7,423.9 370.2,424.4 370.7,425.0 371.2,423.6 371.7,423.2 372.2,423.2 372.7,424.6 373.2,424.1 373.7,423.9 374.2,422.1 374.7,423.8 375.2,423.8 375.7,423.2 376.2,423.3 376.7,424.1 377.2,423.8 377.7,424.0 378.2,423.6 378.7,425.4 379.2,424.3 379.7,421.8 380.2,424.9 380.7,422.8 381.2,423.1 381.7,423.3 382.2,422.7 382.7,423.3 383.2,424.4 383.7,423.7 384.2,424.0 384.7,424.1 385.2,424.2 385.7,423.8 386.2,423.0 386.7,423.2 387.2,422.6 387.7,422.1 388.2,423.9 388.7,425.1 389.2,423.9 389.7,424.3 390.2,422.5 390.7,421.8 391.2,423.4 391.7,424.5 391.7,432.5 391.2,432.6 390.7,433.0 390.2,431.6 389.7,431.8 389.2,433.9 388.7,433.0 388.2,432.0 387.7,434.7 387.2,430.7 386.7,432.3 386.2,430.3 385.7,432.4 385.2,432.1 384.7,432.0 384.2,431.8 383.7,430.6 383.2,432.5 382.7,430.9 382.2,431.5 381.7,431.4 381.2,432.8 380.7,433.5 380.2,434.3 379.7,433.8 379.2,432.8 378.7,433.4 378.2,432.0 377.7,434.9 377.2,431.8 376.7,431.8 376.2,431.6 375.7,431.9 375.2,432.4 374.7,431.1 374.2,432.1 373.7,430.9 373.2,432.4 372.7,432.0 372.2,430.8 371.7,431.3 371.2,433.2 370.7,432.2 370.2,431.2 369.7,431.8 369.2,434.6 368.7,431.3 368.2,430.1 367.7,433.6 367.2,433.9 366.7,433.5 366.2,431.9 365.7,433.1 365.2,431.8 364.7,432.6 364.2,432.3 363.7,432.0 363.2,432.8 362.7,434.2 362.2,431.2 361.7,432.2 361.2,432.4 360.7,433.1 360.2,432.8 359.7,431.5 359.2,430.9 358.7,431.3 358.2,432.9 357.7,431.1 357.2,430.9 356.7,433.6 356.2,433.9 355.7,432.7 355.2,432.6 354.7,433.0 354.2,431.0 353.7,432.9 353.2,432.6 352.7,432.6 352.2,431.8 351.7,432.1 351.2,433.6 350.7,432.0 350.2,432.3 349.7,432.7 349.2,431.7 348.7,432.6 348.2,432.1 347.7,433.0 347.2,433.5 346.7,431.8 346.2,431.2 345.7,433.1 345.2,432.3 344.7,434.0 344.2,432.0 343.7,432.7 343.2,432.5 342.7,431.8 342.2,432.1 341.7,431.8 341.2,431.2 340.7,430.8 340.2,431.2 339.7,432.1 339.2,431.2 338.7,433.3 338.2,430.8 337.7,432.2 337.2,432.1 336.7,432.2 336.2,432.4 335.7,431.3 335.2,431.8 334.7,431.1 334.2,431.1 333.7,433.1 333.2,433.1 332.7,434.1 332.2,432.5 331.7,431.7 331.2,433.9 330.7,432.5 330.2,432.3 329.7,431.6 329.2,430.8 328.7,434.0 328.2,432.5 327.7,433.6 327.2,432.3 326.7,431.9 326.2,431.8 325.7,432.3 325.2,432.2 324.7,434.0 324.2,432.2 323.7,430.9 323.2,432.3 322.7,432.0 322.2,431.7 321.7,431.1 321.2,431.7 320.7,432.4 320.2,430.6 319.7,431.7 319.2,431.3 318.7,432.1 318.2,432.4 317.7,432.4 317.2,431.8 316.7,434.7 316.2,433.5 315.7,431.4 315.2,431.5 314.7,432.2 314.2,431.1 313.7,432.0 313.2,432.5 312.7,432.0 312.2,432.3 311.7,433.7 311.2,431.8 310.7,432.6 310.2,431.8 309.7,431.6 309.2,431.9 308.7,430.6 308.2,432.0 307.7,433.1 307.2,431.8 306.7,431.6 306.2,432.1 305.7,432.8 305.2,432.1 304.7,433.5 304.2,430.3 303.7,432.2 303.2,431.7 302.7,431.9 302.2,432.3 301.7,433.6 301.2,433.7 300.7,431.8 300.2,432.6 299.7,431.9 299.2,433.0 298.7,431.2 298.2,432.5 297.7,431.8 297.2,433.5 296.7,432.8 296.2,431.2 295.7,433.1 295.2,431.9 294.7,432.1 294.2,431.9 293.7,431.4 293.2,430.8 292.7,432.7 292.2,432.3 291.7,434.1 291.2,432.1 290.7,430.9 290.2,431.7 289.7,431.3 289.2,434.4 288.7,430.9 288.2,432.1 287.7,432.5 287.2,431.5 286.7,431.2 286.2,431.9 285.7,432.0 285.2,432.1 284.7,432.6 284.2,431.1 283.7,431.6 283.2,431.2 282.7,432.6 282.2,432.9 281.7,431.4 281.2,431.4 280.7,432.9 280.2,433.9 279.7,432.2 279.2,432.2 278.7,431.7 278.2,434.0 277.7,430.6 277.2,432.0 276.7,431.8 276.2,431.4 275.7,433.7 275.2,433.4 274.7,431.7 274.2,432.1 273.7,431.8 273.2,431.9 272.7,431.3 272.2,430.8 271.7,431.5 271.2,431.5 270.7,431.8 270.2,432.6 269.7,433.8 269.2,433.6 268.7,432.2 268.2,434.2 267.7,431.5 267.2,431.6 266.7,432.7 266.2,435.1 265.7,431.9 265.2,432.9 264.7,431.4 264.2,432.5 263.7,431.6 263.2,432.2 262.7,432.3 262.2,431.3 261.7,432.1 261.2,431.2 260.7,432.2 260.2,433.3 259.7,430.7 259.2,431.3 258.7,432.9 258.2,434.0 257.7,433.7 257.2,432.1 256.7,432.5 256.2,432.1 255.7,433.1 255.2,430.9 254.7,431.9 254.2,433.5 253.7,431.9 253.2,432.0 252.7,431.1 252.2,431.4 251.7,431.8 251.2,431.6 250.7,432.3 250.2,435.0 249.7,431.1 249.2,434.3 248.7,432.2 248.2,433.2 247.7,433.7 247.2,433.1 246.7,431.4 246.2,433.0 245.7,430.7 245.2,433.8 244.7,432.8 244.2,432.3 243.7,431.9 243.2,431.4 242.7,433.6 242.2,432.9 241.7,432.1 241.2,431.7 240.7,432.0 240.2,432.4 239.7,431.9 239.2,433.2 238.7,432.3 238.2,432.6 237.7,433.0 237.2,431.8 236.7,433.0 236.2,432.2 235.7,432.6 235.2,433.5 234.7,432.1 234.2,433.2 233.7,433.3 233.2,432.6 232.7,432.5 232.2,431.4 231.7,431.2 231.2,431.7 230.7,433.5 230.2,432.6 229.7,431.4 229.2,432.3 228.7,432.6 228.2,430.9 227.7,430.9 227.2,431.3 226.7,431.9 226.2,432.8 225.7,431.0 225.2,433.8 224.7,431.8 224.2,432.3 223.7,433.1 223.2,431.8 222.7,432.2 222.2,434.7 221.7,432.3 221.2,434.9 220.7,431.7 220.2,433.3 219.7,431.9 219.2,430.9 218.7,433.8 218.2,431.7 217.7,433.4 217.2,431.6 216.7,433.4 216.2,431.9 215.7,432.2 215.2,431.5 214.7,432.1 214.2,431.8 213.7,432.5 213.2,431.6 212.7,430.8 212.2,433.6 211.7,419.2 211.2,420.2 210.7,419.7 210.2,419.1 209.7,419.9 209.2,421.1 208.7,421.4 208.2,419.7 207.7,420.4 207.2,419.3 206.7,421.6 206.2,422.6 205.7,420.2 205.2,419.8 204.7,432.2 204.2,431.4 203.7,431.6 203.2,431.9 202.7,430.7 202.2,433.3 201.7,433.4 201.2,432.0 200.7,431.9 200.2,431.3 199.7,433.8 199.2,431.4 198.7,432.2 198.2,430.8 197.7,431.9 197.2,431.3 196.7,431.9 196.2,432.0 195.7,431.1 195.2,432.5 194.7,432.1 194.2,434.5 193.7,431.6 193.2,431.3 192.7,430.6 192.2,431.4 191.7,432.3 191.2,433.7 190.7,431.8 190.2,431.5 189.7,433.6 189.2,431.3 188.7,431.5 188.2,432.8 187.7,432.3 187.2,433.1 186.7,432.5 186.2,432.4 185.7,431.7 185.2,432.6 184.7,433.7 184.2,432.6 183.7,432.4 183.2,432.0 182.7,432.8 182.2,431.6 181.7,432.4 181.2,432.7 180.7,432.2 180.2,431.8 179.7,431.9 179.2,431.4 178.7,431.4 178.2,430.9 177.7,430.1 177.2,433.2 176.7,432.3 176.2,431.8 175.7,430.9 175.2,430.8 174.7,431.7 174.2,432.1 173.7,431.6 173.2,435.0 172.7,431.7 172.2,431.6 171.7,431.3 171.2,433.6 170.7,430.9 170.2,432.0 169.7,433.0 169.2,432.5 168.7,432.6 168.2,432.4 167.7,434.2 167.2,432.7 166.7,431.9 166.2,433.3 165.7,432.6 165.2,432.1 164.7,433.2 164.2,432.1 163.7,435.6 163.2,433.1 162.7,431.0 162.2,431.5 161.7,431.4 161.2,432.4 160.7,430.3 160.2,431.5" fill="#f39a12" stroke="#f39a12" stroke-width="0.3" opacity="0.7"/>
<polygon points="160.2,424.6 160.7,423.9 161.2,426.3 161.7,425.6 162.2,425.7 162.7,423.7 163.2,427.2 163.7,427.4 164.2,426.1 164.7,424.9 165.2,424.2 165.7,422.1 166.2,426.7 166.7,426.1 167.2,426.5 167.7,427.2 168.2,426.5 168.7,425.7 169.2,426.2 169.7,424.0 170.2,425.0 170.7,425.5 171.2,425.9 171.7,425.5 172.2,423.6 172.7,425.3 173.2,426.4 173.7,426.0 174.2,425.9 174.7,425.6 175.2,425.3 175.7,425.7 176.2,425.1 176.7,424.8 177.2,425.2 177.7,424.3 178.2,425.3 178.7,424.2 179.2,424.8 179.7,425.8 180.2,426.5 180.7,426.3 181.2,425.1 181.7,426.1 182.2,426.0 182.7,424.0 183.2,425.2 183.7,423.8 184.2,426.5 184.7,425.5 185.2,425.7 185.7,425.6 186.2,425.7 186.7,425.3 187.2,424.7 187.7,426.3 188.2,426.8 188.7,426.0 189.2,425.7 189.7,427.1 190.2,423.1 190.7,424.5 191.2,426.5 191.7,426.7 192.2,425.6 192.7,424.0 193.2,424.6 193.7,426.3 194.2,427.5 194.7,425.0 195.2,426.4 195.7,425.4 196.2,426.4 196.7,425.0 197.2,425.9 197.7,425.0 198.2,425.6 198.7,424.7 199.2,425.8 199.7,426.4 200.2,426.0 200.7,425.9 201.2,424.3 201.7,426.3 202.2,425.6 202.7,424.1 203.2,425.9 203.7,423.4 204.2,425.2 204.7,425.7 205.2,412.7 205.7,411.2 206.2,412.3 206.7,413.7 207.2,413.3 207.7,413.2 208.2,411.6 208.7,413.4 209.2,412.7 209.7,413.5 210.2,412.4 210.7,412.9 211.2,413.7 211.7,413.0 212.2,425.2 212.7,424.3 213.2,423.8 213.7,426.2 214.2,425.6 214.7,425.2 215.2,425.9 215.7,425.9 216.2,425.9 216.7,424.6 217.2,424.2 217.7,426.7 218.2,425.0 218.7,425.1 219.2,425.4 219.7,426.4 220.2,425.4 220.7,425.0 221.2,424.5 221.7,425.8 222.2,427.1 222.7,426.4 223.2,425.5 223.7,426.0 224.2,425.6 224.7,425.8 225.2,424.4 225.7,425.1 226.2,426.7 226.7,424.7 227.2,424.8 227.7,424.9 228.2,424.7 228.7,425.6 229.2,423.5 229.7,425.3 230.2,422.6 230.7,425.2 231.2,425.8 231.7,425.2 232.2,424.0 232.7,425.7 233.2,425.3 233.7,426.6 234.2,426.7 234.7,424.9 235.2,426.6 235.7,424.1 236.2,425.6 236.7,425.9 237.2,424.3 237.7,424.0 238.2,426.5 238.7,425.8 239.2,426.0 239.7,426.4 240.2,425.9 240.7,425.8 241.2,425.1 241.7,425.7 242.2,426.5 242.7,425.0 243.2,425.4 243.7,425.0 244.2,426.7 244.7,426.1 245.2,425.7 245.7,425.4 246.2,425.7 246.7,425.6 247.2,427.3 247.7,426.8 248.2,426.4 248.7,425.0 249.2,426.4 249.7,425.0 250.2,426.4 250.7,425.1 251.2,425.6 251.7,424.6 252.2,426.1 252.7,425.7 253.2,425.5 253.7,425.5 254.2,426.6 254.7,425.3 255.2,423.9 255.7,426.3 256.2,426.2 256.7,426.6 257.2,424.3 257.7,426.3 258.2,426.4 258.7,426.2 259.2,425.8 259.7,425.1 260.2,426.6 260.7,425.1 261.2,425.4 261.7,425.4 262.2,423.5 262.7,425.2 263.2,425.7 263.7,425.4 264.2,426.1 264.7,425.8 265.2,426.3 265.7,425.8 266.2,426.1 266.7,426.7 267.2,426.2 267.7,425.7 268.2,426.4 268.7,426.5 269.2,426.7 269.7,424.3 270.2,425.1 270.7,425.3 271.2,424.2 271.7,425.1 272.2,425.8 272.7,425.5 273.2,425.8 273.7,424.9 274.2,425.9 274.7,426.1 275.2,425.3 275.7,425.7 276.2,423.8 276.7,424.1 277.2,425.2 277.7,423.9 278.2,426.0 278.7,425.0 279.2,423.9 279.7,425.0 280.2,427.3 280.7,425.6 281.2,425.1 281.7,424.3 282.2,425.9 282.7,425.9 283.2,424.0 283.7,426.1 284.2,425.7 284.7,426.4 285.2,425.9 285.7,425.6 286.2,425.5 286.7,424.0 287.2,425.0 287.7,426.7 288.2,425.9 288.7,425.3 289.2,427.3 289.7,425.0 290.2,425.1 290.7,425.1 291.2,425.8 291.7,427.2 292.2,425.3 292.7,427.0 293.2,423.7 293.7,425.6 294.2,426.2 294.7,425.9 295.2,426.4 295.7,425.0 296.2,424.8 296.7,426.1 297.2,425.8 297.7,426.0 298.2,425.4 298.7,425.9 299.2,426.5 299.7,425.5 300.2,425.1 300.7,425.2 301.2,425.9 301.7,425.5 302.2,424.7 302.7,425.4 303.2,425.2 303.7,426.1 304.2,425.2 304.7,425.0 305.2,425.0 305.7,426.4 306.2,423.9 306.7,424.8 307.2,425.6 307.7,425.8 308.2,425.3 308.7,424.4 309.2,426.0 309.7,424.4 310.2,425.2 310.7,425.5 311.2,426.7 311.7,426.7 312.2,425.8 312.7,424.6 313.2,425.7 313.7,424.7 314.2,424.8 314.7,426.4 315.2,425.9 315.7,425.4 316.2,426.6 316.7,427.0 317.2,425.7 317.7,425.1 318.2,426.6 318.7,425.0 319.2,424.4 319.7,424.3 320.2,425.2 320.7,422.9 321.2,426.4 321.7,425.2 322.2,423.4 322.7,423.4 323.2,425.2 323.7,424.4 324.2,426.2 324.7,425.8 325.2,425.8 325.7,425.6 326.2,425.8 326.7,425.0 327.2,426.0 327.7,427.1 328.2,425.7 328.7,426.2 329.2,424.8 329.7,426.0 330.2,425.8 330.7,426.3 331.2,427.3 331.7,425.2 332.2,427.0 332.7,426.5 333.2,426.2 333.7,424.5 334.2,424.6 334.7,425.4 335.2,426.0 335.7,423.7 336.2,423.8 336.7,425.3 337.2,426.5 337.7,426.0 338.2,424.6 338.7,426.0 339.2,425.3 339.7,423.9 340.2,425.5 340.7,425.4 341.2,425.2 341.7,425.0 342.2,425.0 342.7,425.9 343.2,426.4 343.7,426.1 344.2,425.6 344.7,426.2 345.2,425.3 345.7,427.1 346.2,425.5 346.7,424.8 347.2,424.8 347.7,426.5 348.2,425.5 348.7,425.2 349.2,424.9 349.7,425.8 350.2,427.0 350.7,425.7 351.2,425.4 351.7,425.0 352.2,425.2 352.7,425.9 353.2,424.6 353.7,424.8 354.2,424.8 354.7,426.5 355.2,426.3 355.7,426.7 356.2,427.0 356.7,426.0 357.2,423.6 357.7,426.0 358.2,426.4 358.7,424.1 359.2,424.7 359.7,424.1 360.2,425.4 360.7,426.9 361.2,423.6 361.7,425.5 362.2,425.6 362.7,425.8 363.2,426.2 363.7,426.1 364.2,425.5 364.7,427.0 365.2,426.2 365.7,424.9 366.2,425.1 366.7,425.3 367.2,426.9 367.7,424.8 368.2,422.3 368.7,424.4 369.2,425.8 369.7,425.4 370.2,425.7 370.7,426.4 371.2,425.5 371.7,424.8 372.2,424.7 372.7,426.1 373.2,425.8 373.7,425.3 374.2,424.1 374.7,425.2 375.2,425.5 375.7,424.9 376.2,425.0 376.7,425.7 377.2,425.4 377.7,426.2 378.2,425.3 378.7,427.0 379.2,426.0 379.7,424.2 380.2,426.8 380.7,424.9 381.2,425.0 381.7,424.9 382.2,424.4 382.7,424.8 383.2,426.0 383.7,425.1 384.2,425.6 384.7,425.6 385.2,425.8 385.7,425.5 386.2,424.4 386.7,425.1 387.2,424.2 387.7,424.6 388.2,425.5 388.7,426.7 389.2,425.9 389.7,425.8 390.2,424.4 390.7,424.1 391.2,425.3 391.7,426.1 391.7,430.9 391.2,430.8 390.7,430.7 390.2,429.8 389.7,430.3 389.2,431.9 388.7,431.4 388.2,430.4 387.7,432.2 387.2,429.1 386.7,430.5 386.2,428.8 385.7,430.7 385.2,430.6 384.7,430.4 384.2,430.3 383.7,429.2 383.2,430.9 382.7,429.4 382.2,429.7 381.7,429.8 381.2,430.8 380.7,431.3 380.2,432.4 379.7,431.4 379.2,431.1 378.7,431.8 378.2,430.3 377.7,432.7 377.2,430.2 376.7,430.2 376.2,429.9 375.7,430.1 375.2,430.7 374.7,429.6 374.2,430.1 373.7,429.5 373.2,430.7 372.7,430.5 372.2,429.3 371.7,429.7 371.2,431.3 370.7,430.8 370.2,429.8 369.7,430.2 369.2,432.4 368.7,429.5 368.2,428.1 367.7,431.4 367.2,432.2 366.7,431.4 366.2,430.2 365.7,431.1 365.2,430.4 364.7,431.2 364.2,430.6 363.7,430.5 363.2,431.2 362.7,432.1 362.2,429.8 361.7,430.5 361.2,430.2 360.7,431.5 360.2,431.0 359.7,429.6 359.2,429.4 358.7,429.5 358.2,431.3 357.7,429.8 357.2,429.1 356.7,431.7 356.2,432.2 355.7,431.2 355.2,431.0 354.7,431.4 354.2,429.5 353.7,430.9 353.2,430.6 352.7,430.9 352.2,430.2 351.7,430.3 351.2,431.6 350.7,430.5 350.2,431.0 349.7,431.0 349.2,430.0 348.7,430.8 348.2,430.5 347.7,431.4 347.2,431.4 346.7,430.1 346.2,429.7 345.7,431.6 345.2,430.5 344.7,432.1 344.2,430.4 343.7,431.0 343.2,431.0 342.7,430.3 342.2,430.4 341.7,430.1 341.2,429.7 340.7,429.5 340.2,429.8 339.7,430.1 339.2,429.8 338.7,431.5 338.2,429.3 337.7,430.7 337.2,430.7 336.7,430.5 336.2,430.2 335.7,429.4 335.2,430.4 334.7,429.7 334.2,429.5 333.7,430.9 333.2,431.4 332.7,432.2 332.2,431.1 331.7,430.1 331.2,432.3 330.7,430.9 330.2,430.7 329.7,430.2 329.2,429.3 328.7,432.1 328.2,430.8 327.7,432.0 327.2,430.7 326.7,430.2 326.2,430.3 325.7,430.6 325.2,430.6 324.7,432.0 324.2,430.7 323.7,429.3 323.2,430.5 322.7,429.9 322.2,429.6 321.7,429.6 321.2,430.4 320.7,430.0 320.2,429.2 319.7,429.9 319.2,429.6 318.7,430.3 318.2,431.0 317.7,430.5 317.2,430.3 316.7,432.8 316.2,431.8 315.7,429.9 315.2,430.1 314.7,430.7 314.2,429.5 313.7,430.2 313.2,430.8 312.7,430.1 312.2,430.7 311.7,432.0 311.2,430.5 310.7,430.8 310.2,430.1 309.7,429.8 309.2,430.4 308.7,429.1 308.2,430.4 307.7,431.3 307.2,430.3 306.7,429.9 306.2,430.1 305.7,431.2 305.2,430.3 304.7,431.4 304.2,429.0 303.7,430.7 303.2,430.1 302.7,430.3 302.2,430.4 301.7,431.6 301.2,431.7 300.7,430.2 300.2,430.7 299.7,430.3 299.2,431.4 298.7,429.9 298.2,430.7 297.7,430.3 297.2,431.6 296.7,431.1 296.2,429.6 295.7,431.1 295.2,430.5 294.7,430.6 294.2,430.5 293.7,429.9 293.2,429.0 292.7,431.3 292.2,430.6 291.7,432.4 291.2,430.5 290.7,429.4 290.2,430.1 289.7,429.8 289.2,432.6 288.7,429.5 288.2,430.5 287.7,431.1 287.2,429.9 286.7,429.4 286.2,430.3 285.7,430.4 285.2,430.5 284.7,431.1 284.2,429.7 283.7,430.3 283.2,429.4 282.7,430.9 282.2,431.1 281.7,429.6 281.2,429.8 280.7,431.1 280.2,432.3 279.7,430.4 279.2,430.1 278.7,430.0 278.2,432.0 277.7,428.9 277.2,430.3 276.7,429.8 276.2,429.5 275.7,431.7 275.2,431.4 274.7,430.3 274.2,430.5 273.7,430.1 273.2,430.4 272.7,429.8 272.2,429.6 271.7,429.9 271.2,429.7 270.7,430.2 270.2,430.7 269.7,431.4 269.2,431.9 268.7,430.8 268.2,432.2 267.7,430.1 267.2,430.3 266.7,431.2 266.2,432.8 265.7,430.4 265.2,431.2 264.7,430.0 264.2,430.9 263.7,430.0 263.2,430.6 262.7,430.5 262.2,429.3 261.7,430.5 261.2,429.8 260.7,430.5 260.2,431.6 259.7,429.3 259.2,430.0 258.7,431.2 258.2,432.1 257.7,431.8 257.2,430.1 256.7,431.1 256.2,430.6 255.7,431.4 255.2,429.1 254.7,430.2 254.2,431.8 253.7,430.3 253.2,430.4 252.7,429.8 252.2,430.1 251.7,430.0 251.2,430.1 250.7,430.5 250.2,432.8 249.7,429.6 249.2,432.3 248.7,430.4 248.2,431.5 247.7,432.0 247.2,431.6 246.7,430.0 246.2,431.2 245.7,429.4 245.2,431.7 244.7,431.1 244.2,430.9 243.7,430.1 243.2,429.9 242.7,431.5 242.2,431.3 241.7,430.5 241.2,430.1 240.7,430.5 240.2,430.8 239.7,430.5 239.2,431.4 238.7,430.7 238.2,431.1 237.7,430.7 237.2,430.0 236.7,431.2 236.2,430.6 235.7,430.5 235.2,431.8 234.7,430.3 234.2,431.6 233.7,431.6 233.2,430.8 232.7,430.8 232.2,429.6 231.7,429.7 231.2,430.2 230.7,431.4 230.2,430.1 229.7,429.8 229.2,430.1 228.7,430.8 228.2,429.4 227.7,429.4 227.2,429.7 226.7,430.1 226.2,431.3 225.7,429.6 225.2,431.5 224.7,430.3 224.2,430.6 223.7,431.3 223.2,430.3 222.7,430.8 222.2,432.8 221.7,430.6 221.2,432.3 220.7,430.0 220.2,431.4 219.7,430.5 219.2,429.5 218.7,431.6 218.2,430.0 217.7,431.8 217.2,429.8 216.7,431.2 216.2,430.4 215.7,430.6 215.2,430.1 214.7,430.4 214.2,430.2 213.7,430.9 213.2,429.6 212.7,429.2 212.2,431.5 211.7,417.7 211.2,418.6 210.7,418.0 210.2,417.4 209.7,418.3 209.2,419.0 208.7,419.4 208.2,417.6 207.7,418.6 207.2,417.8 206.7,419.6 206.2,420.0 205.7,418.0 205.2,418.0 204.7,430.6 204.2,429.9 203.7,429.5 203.2,430.4 202.7,429.0 202.2,431.4 201.7,431.6 201.2,430.0 200.7,430.4 200.2,430.0 199.7,432.0 199.2,430.0 198.7,430.4 198.2,429.5 197.7,430.1 197.2,430.0 196.7,430.2 196.2,430.6 195.7,429.6 195.2,431.0 194.7,430.4 194.2,432.8 193.7,430.3 193.2,429.6 192.7,429.0 192.2,430.0 191.7,430.9 191.2,431.9 190.7,430.0 190.2,429.4 189.7,432.0 189.2,429.9 188.7,430.2 188.2,431.3 187.7,430.8 187.2,431.0 186.7,430.7 186.2,430.7 185.7,430.2 185.2,430.9 184.7,431.7 184.2,431.1 183.7,430.2 183.2,430.3 182.7,430.6 182.2,430.2 181.7,430.8 181.2,430.8 180.7,430.7 180.2,430.5 179.7,430.4 179.2,429.7 178.7,429.6 178.2,429.5 177.7,428.7 177.2,431.2 176.7,430.4 176.2,430.1 175.7,429.6 175.2,429.4 174.7,430.2 174.2,430.5 173.7,430.2 173.2,432.8 172.7,430.1 172.2,429.6 171.7,429.9 171.2,431.7 170.7,429.6 170.2,430.2 169.7,430.8 169.2,431.0 168.7,430.9 168.2,430.9 167.7,432.4 167.2,431.1 166.7,430.5 166.2,431.6 165.7,430.0 165.2,430.1 164.7,431.1 164.2,430.6 163.7,433.5 163.2,431.6 162.7,429.2 162.2,430.0 161.7,429.9 161.2,430.9 160.7,428.7 160.2,429.8" fill="#f39a12" stroke="#f39a12" stroke-width="0.3"/>
<rect x="159.6" y="399.3" width="232.8" height="37.8" fill="none" stroke="#6a6a6a" stroke-width="1.2" />
<line x1="160.1" y1="409.5" x2="162.4" y2="409.5" stroke="#333" stroke-width="0.9" />
<line x1="160.1" y1="427.3" x2="162.4" y2="427.3" stroke="#333" stroke-width="0.9" />
<line x1="160.1" y1="418.4" x2="161.4" y2="418.4" stroke="#333" stroke-width="0.9" />
<text x="155.6" y="412.6" font-size="8.5" text-anchor="end" font-weight="normal" fill="#1a1a1a" stroke="#1a1a1a" stroke-width="0.1" >300</text>
<text x="155.6" y="430.4" font-size="8.5" text-anchor="end" font-weight="normal" fill="#1a1a1a" stroke="#1a1a1a" stroke-width="0.1" >0</text>
<line x1="198.4" y1="436.6" x2="198.4" y2="435.5" stroke="#333" stroke-width="0.9" />
<line x1="237.2" y1="436.6" x2="237.2" y2="434.5" stroke="#333" stroke-width="0.9" />
<line x1="276" y1="436.6" x2="276" y2="435.5" stroke="#333" stroke-width="0.9" />
<line x1="314.8" y1="436.6" x2="314.8" y2="434.5" stroke="#333" stroke-width="0.9" />
<line x1="353.6" y1="436.6" x2="353.6" y2="435.5" stroke="#333" stroke-width="0.9" />
<text x="159.6" y="445.4" font-size="8.6" text-anchor="middle" font-weight="normal" fill="#1a1a1a" stroke="#1a1a1a" stroke-width="0.1" >570</text>
<text x="237.2" y="445.4" font-size="8.6" text-anchor="middle" font-weight="normal" fill="#1a1a1a" stroke="#1a1a1a" stroke-width="0.1" >590</text>
<text x="314.8" y="445.4" font-size="8.6" text-anchor="middle" font-weight="normal" fill="#1a1a1a" stroke="#1a1a1a" stroke-width="0.1" >610</text>
<text x="392.4" y="445.4" font-size="8.6" text-anchor="middle" font-weight="normal" fill="#1a1a1a" stroke="#1a1a1a" stroke-width="0.1" >630</text>
<path d="M396.2,418.8 L396.6,418.8 L396.7,419.2 L396.8,419.7 L397.0,420.1 L397.2,420.6 L397.5,421.0 L397.9,421.4 L398.5,421.9 L399.4,422.3 L400.9,422.7 L403.2,423.2 L406.4,423.6 L410.6,424.1 L415.3,424.5 L419.8,424.9 L423.0,425.4 L424.2,425.8 L423.0,426.2 L419.8,426.7 L415.3,427.1 L410.6,427.6 L406.4,428.0 L403.2,428.4 L400.9,428.9 L399.4,429.3 L398.5,429.7 L397.9,430.2 L397.5,430.6 L397.2,431.1 L397.0,431.5 L396.8,431.9 L396.7,432.4 L396.6,432.8 L396.2,432.8 Z" fill="#b4b4b4"/>
<path d="M396.2,414.0 L396.3,414.0 L396.4,414.2 L396.5,414.5 L396.5,414.8 L396.7,415.0 L396.8,415.2 L397.0,415.5 L397.2,415.8 L397.4,416.0 L397.6,416.2 L397.8,416.5 L398.0,416.8 L398.3,417.0 L398.4,417.2 L398.6,417.5 L398.7,417.8 L398.7,418.0 L398.7,418.2 L398.6,418.5 L398.4,418.8 L398.3,419.0 L398.0,419.2 L397.8,419.5 L397.6,419.8 L397.4,420.0 L397.2,420.2 L397.0,420.5 L396.8,420.8 L396.7,421.0 L396.5,421.2 L396.5,421.5 L396.4,421.8 L396.3,422.0 L396.2,422.0 Z" fill="#f5a630"/>
<line x1="384.3" y1="457.7" x2="384.3" y2="457.2" stroke="#f8c67a" stroke-width="0.6" />
<line x1="330.9" y1="463.1" x2="330.9" y2="461.8" stroke="#f8c67a" stroke-width="0.6" />
<line x1="389.2" y1="457.7" x2="389.2" y2="457.2" stroke="#f8c67a" stroke-width="0.6" />
<line x1="364.3" y1="459.5" x2="364.3" y2="455" stroke="#f8c67a" stroke-width="0.6" />
<line x1="359.2" y1="459.5" x2="359.2" y2="453.1" stroke="#f8c67a" stroke-width="0.6" />
<line x1="215.4" y1="474" x2="215.4" y2="471.5" stroke="#f8c67a" stroke-width="0.6" />
<line x1="324.5" y1="474" x2="324.5" y2="471.9" stroke="#f8c67a" stroke-width="0.6" />
<line x1="220.9" y1="474" x2="220.9" y2="472.2" stroke="#f8c67a" stroke-width="0.6" />
<line x1="359.3" y1="459.5" x2="359.3" y2="453.8" stroke="#f8c67a" stroke-width="0.6" />
<line x1="345.3" y1="474" x2="345.3" y2="472.2" stroke="#f8c67a" stroke-width="0.6" />
<line x1="374.9" y1="459.5" x2="374.9" y2="456" stroke="#f8c67a" stroke-width="0.6" />
<line x1="213.5" y1="474" x2="213.5" y2="470.8" stroke="#f8c67a" stroke-width="0.6" />
<line x1="257.3" y1="474" x2="257.3" y2="473.1" stroke="#f8c67a" stroke-width="0.6" />
<line x1="291.1" y1="474" x2="291.1" y2="471.4" stroke="#f8c67a" stroke-width="0.6" />
<line x1="292.2" y1="474" x2="292.2" y2="468" stroke="#f8c67a" stroke-width="0.6" />
<line x1="309.9" y1="474" x2="309.9" y2="471.1" stroke="#f8c67a" stroke-width="0.6" />
<line x1="360.6" y1="459.5" x2="360.6" y2="453.1" stroke="#f8c67a" stroke-width="0.6" />
<line x1="273.7" y1="474" x2="273.7" y2="467.9" stroke="#f8c67a" stroke-width="0.6" />
<line x1="164" y1="474" x2="164" y2="472.7" stroke="#f8c67a" stroke-width="0.6" />
<line x1="199.7" y1="474" x2="199.7" y2="467.9" stroke="#f8c67a" stroke-width="0.6" />
<line x1="320.3" y1="474" x2="320.3" y2="469.2" stroke="#f8c67a" stroke-width="0.6" />
<line x1="226.3" y1="474" x2="226.3" y2="470.6" stroke="#f8c67a" stroke-width="0.6" />
<line x1="366.1" y1="459.5" x2="366.1" y2="458.5" stroke="#f8c67a" stroke-width="0.6" />
<line x1="186.7" y1="474" x2="186.7" y2="473.3" stroke="#f8c67a" stroke-width="0.6" />
<line x1="268.7" y1="474" x2="268.7" y2="468.5" stroke="#f8c67a" stroke-width="0.6" />
<line x1="288.8" y1="474" x2="288.8" y2="471.2" stroke="#f8c67a" stroke-width="0.6" />
<line x1="276.5" y1="474" x2="276.5" y2="472.5" stroke="#f8c67a" stroke-width="0.6" />
<line x1="380.3" y1="457.7" x2="380.3" y2="455.2" stroke="#f8c67a" stroke-width="0.6" />
<line x1="214.4" y1="474" x2="214.4" y2="471.7" stroke="#f8c67a" stroke-width="0.6" />
<line x1="351.6" y1="474" x2="351.6" y2="471.7" stroke="#f8c67a" stroke-width="0.6" />
<line x1="370.2" y1="459.5" x2="370.2" y2="457.1" stroke="#f8c67a" stroke-width="0.6" />
<line x1="262.4" y1="474" x2="262.4" y2="473.1" stroke="#f8c67a" stroke-width="0.6" />
<line x1="370.9" y1="459.5" x2="370.9" y2="454.3" stroke="#f8c67a" stroke-width="0.6" />
<line x1="270.1" y1="474" x2="270.1" y2="472.9" stroke="#f8c67a" stroke-width="0.6" />
<line x1="274.3" y1="474" x2="274.3" y2="471.3" stroke="#f8c67a" stroke-width="0.6" />
<line x1="355.2" y1="474" x2="355.2" y2="468" stroke="#f8c67a" stroke-width="0.6" />
<line x1="332.1" y1="463.1" x2="332.1" y2="461" stroke="#f8c67a" stroke-width="0.6" />
<line x1="169.2" y1="474" x2="169.2" y2="468.2" stroke="#f8c67a" stroke-width="0.6" />
<line x1="379.5" y1="457.7" x2="379.5" y2="456.3" stroke="#f8c67a" stroke-width="0.6" />
<line x1="276" y1="474" x2="276" y2="470.7" stroke="#f8c67a" stroke-width="0.6" />
<polygon points="160.2,470.0 160.7,474.1 161.2,472.2 161.7,472.1 162.2,471.3 162.7,473.7 163.2,470.5 163.7,471.2 164.2,471.4 164.7,473.5 165.2,473.7 165.7,473.1 166.2,474.8 166.7,473.7 167.2,474.3 167.7,474.4 168.2,473.6 168.7,472.9 169.2,471.7 169.7,473.1 170.2,472.7 170.7,472.9 171.2,473.1 171.7,472.0 172.2,471.3 172.7,471.8 173.2,470.8 173.7,472.9 174.2,473.5 174.7,473.8 175.2,473.4 175.7,472.5 176.2,473.4 176.7,471.6 177.2,472.7 177.7,473.8 178.2,473.5 178.7,471.8 179.2,474.2 179.7,472.2 180.2,473.4 180.7,472.4 181.2,473.4 181.7,474.3 182.2,473.3 182.7,474.3 183.2,469.8 183.7,473.4 184.2,472.8 184.7,472.6 185.2,474.4 185.7,473.3 186.2,472.7 186.7,472.2 187.2,472.9 187.7,474.0 188.2,472.1 188.7,472.5 189.2,472.7 189.7,474.1 190.2,475.0 190.7,473.7 191.2,472.6 191.7,473.0 192.2,471.5 192.7,470.8 193.2,472.9 193.7,471.3 194.2,472.3 194.7,472.0 195.2,473.4 195.7,471.2 196.2,475.0 196.7,472.9 197.2,473.3 197.7,470.8 198.2,473.3 198.7,471.1 199.2,473.4 199.7,472.4 200.2,475.1 200.7,474.1 201.2,473.3 201.7,471.8 202.2,473.6 202.7,473.7 203.2,470.5 203.7,472.7 204.2,474.6 204.7,471.5 205.2,473.8 205.7,472.0 206.2,472.1 206.7,473.6 207.2,472.5 207.7,473.0 208.2,470.4 208.7,473.8 209.2,469.8 209.7,473.1 210.2,474.0 210.7,473.2 211.2,471.8 211.7,472.9 212.2,472.8 212.7,474.3 213.2,473.5 213.7,472.8 214.2,472.4 214.7,473.4 215.2,473.6 215.7,473.9 216.2,472.9 216.7,472.9 217.2,472.8 217.7,472.6 218.2,473.2 218.7,473.9 219.2,472.7 219.7,472.3 220.2,473.8 220.7,472.7 221.2,474.5 221.7,473.9 222.2,473.8 222.7,473.0 223.2,473.6 223.7,472.7 224.2,471.8 224.7,472.3 225.2,470.1 225.7,473.0 226.2,470.7 226.7,473.7 227.2,474.5 227.7,473.0 228.2,472.4 228.7,471.8 229.2,472.3 229.7,473.7 230.2,472.1 230.7,473.9 231.2,472.3 231.7,471.3 232.2,474.5 232.7,473.2 233.2,473.4 233.7,472.1 234.2,472.0 234.7,473.9 235.2,472.2 235.7,473.3 236.2,473.0 236.7,473.2 237.2,472.7 237.7,473.1 238.2,473.2 238.7,473.3 239.2,472.2 239.7,473.2 240.2,473.9 240.7,473.9 241.2,474.6 241.7,470.4 242.2,471.7 242.7,473.6 243.2,463.4 243.7,463.9 244.2,460.9 244.7,464.2 245.2,472.9 245.7,474.2 246.2,471.3 246.7,472.6 247.2,474.1 247.7,471.6 248.2,474.1 248.7,473.1 249.2,474.4 249.7,474.0 250.2,473.3 250.7,474.4 251.2,473.2 251.7,473.7 252.2,472.5 252.7,473.9 253.2,473.8 253.7,472.3 254.2,472.8 254.7,473.1 255.2,472.5 255.7,474.4 256.2,473.9 256.7,471.2 257.2,474.5 257.7,473.7 258.2,474.2 258.7,472.7 259.2,472.7 259.7,471.7 260.2,471.8 260.7,473.1 261.2,472.3 261.7,472.8 262.2,472.8 262.7,471.8 263.2,460.1 263.7,458.0 264.2,459.2 264.7,459.9 265.2,457.9 265.7,459.0 266.2,458.6 266.7,473.1 267.2,472.0 267.7,474.0 268.2,474.8 268.7,474.9 269.2,474.6 269.7,473.0 270.2,471.3 270.7,472.0 271.2,473.1 271.7,473.2 272.2,471.5 272.7,473.3 273.2,473.5 273.7,472.2 274.2,473.4 274.7,472.5 275.2,473.5 275.7,472.8 276.2,471.6 276.7,473.5 277.2,474.6 277.7,473.0 278.2,472.7 278.7,474.0 279.2,474.3 279.7,474.1 280.2,473.5 280.7,470.5 281.2,473.8 281.7,473.8 282.2,470.8 282.7,472.7 283.2,472.5 283.7,473.8 284.2,470.8 284.7,473.2 285.2,474.1 285.7,473.0 286.2,473.3 286.7,474.1 287.2,470.4 287.7,473.2 288.2,471.9 288.7,473.1 289.2,474.0 289.7,473.4 290.2,473.6 290.7,474.2 291.2,470.7 291.7,472.2 292.2,473.0 292.7,473.8 293.2,473.0 293.7,474.5 294.2,471.8 294.7,472.5 295.2,474.0 295.7,472.1 296.2,473.4 296.7,472.9 297.2,472.1 297.7,473.9 298.2,473.4 298.7,470.5 299.2,472.4 299.7,475.3 300.2,471.4 300.7,471.1 301.2,472.8 301.7,474.2 302.2,472.2 302.7,472.9 303.2,473.6 303.7,474.0 304.2,472.2 304.7,472.5 305.2,471.0 305.7,474.4 306.2,473.7 306.7,471.1 307.2,472.3 307.7,473.4 308.2,473.9 308.7,473.1 309.2,474.3 309.7,473.3 310.2,472.4 310.7,472.5 311.2,472.9 311.7,472.7 312.2,471.9 312.7,472.8 313.2,473.7 313.7,470.4 314.2,473.2 314.7,473.5 315.2,473.2 315.7,473.8 316.2,473.0 316.7,472.4 317.2,473.5 317.7,473.7 318.2,472.6 318.7,473.0 319.2,473.5 319.7,473.8 320.2,472.1 320.7,473.5 321.2,471.6 321.7,470.9 322.2,473.2 322.7,473.1 323.2,472.4 323.7,473.6 324.2,473.3 324.7,472.5 325.2,472.2 325.7,471.9 326.2,474.3 326.7,474.1 327.2,461.2 327.7,463.3 328.2,463.1 328.7,463.5 329.2,463.5 329.7,462.5 330.2,461.8 330.7,462.1 331.2,462.1 331.7,461.5 332.2,462.3 332.7,463.6 333.2,462.9 333.7,461.9 334.2,461.5 334.7,463.1 335.2,463.3 335.7,464.0 336.2,462.5 336.7,474.1 337.2,474.3 337.7,473.7 338.2,471.1 338.7,473.6 339.2,474.2 339.7,472.4 340.2,472.1 340.7,474.5 341.2,474.3 341.7,472.5 342.2,471.2 342.7,472.4 343.2,474.0 343.7,472.9 344.2,471.7 344.7,473.2 345.2,472.8 345.7,472.2 346.2,474.0 346.7,473.9 347.2,471.8 347.7,473.5 348.2,473.0 348.7,472.5 349.2,473.0 349.7,474.0 350.2,472.6 350.7,473.7 351.2,474.4 351.7,473.2 352.2,474.0 352.7,471.8 353.2,474.4 353.7,474.2 354.2,472.5 354.7,474.3 355.2,474.8 355.7,472.3 356.2,473.8 356.7,472.1 357.2,472.0 357.7,472.1 358.2,457.7 358.7,459.8 359.2,457.2 359.7,459.0 360.2,456.9 360.7,459.1 361.2,457.0 361.7,459.4 362.2,457.2 362.7,458.8 363.2,458.8 363.7,459.2 364.2,459.9 364.7,459.4 365.2,458.0 365.7,458.0 366.2,459.3 366.7,457.9 367.2,459.2 367.7,457.8 368.2,458.8 368.7,459.4 369.2,458.5 369.7,458.8 370.2,458.2 370.7,457.4 371.2,459.1 371.7,455.1 372.2,459.2 372.7,456.4 373.2,458.3 373.7,458.1 374.2,458.2 374.7,459.2 375.2,457.8 375.7,458.9 376.2,452.9 376.7,455.5 377.2,457.2 377.7,456.4 378.2,455.7 378.7,457.3 379.2,456.9 379.7,456.0 380.2,455.5 380.7,455.7 381.2,457.1 381.7,454.9 382.2,454.3 382.7,455.3 383.2,456.2 383.7,456.9 384.2,457.1 384.7,455.5 385.2,455.3 385.7,456.9 386.2,455.5 386.7,457.1 387.2,457.1 387.7,456.6 388.2,457.8 388.7,454.2 389.2,457.3 389.7,455.8 390.2,457.0 390.7,455.3 391.2,456.5 391.7,456.3 391.7,465.2 391.2,466.2 390.7,466.6 390.2,464.4 389.7,466.5 389.2,465.6 388.7,466.0 388.2,468.1 387.7,464.8 387.2,466.2 386.7,465.2 386.2,466.3 385.7,467.3 385.2,465.5 384.7,466.2 384.2,467.1 383.7,466.7 383.2,467.0 382.7,465.5 382.2,465.7 381.7,464.0 381.2,465.0 380.7,466.6 380.2,467.8 379.7,466.8 379.2,466.3 378.7,468.4 378.2,465.5 377.7,467.3 377.2,464.9 376.7,466.3 376.2,467.1 375.7,468.5 375.2,466.7 374.7,468.0 374.2,469.2 373.7,468.7 373.2,467.7 372.7,467.2 372.2,467.8 371.7,468.4 371.2,467.9 370.7,466.3 370.2,465.8 369.7,468.0 369.2,466.5 368.7,467.5 368.2,468.2 367.7,467.0 367.2,467.6 366.7,466.5 366.2,468.5 365.7,468.6 365.2,467.2 364.7,467.1 364.2,467.3 363.7,466.5 363.2,468.7 362.7,469.9 362.2,468.6 361.7,468.4 361.2,467.9 360.7,468.5 360.2,466.9 359.7,466.3 359.2,465.3 358.7,466.6 358.2,466.1 357.7,480.3 357.2,480.7 356.7,481.4 356.2,482.6 355.7,479.5 355.2,481.1 354.7,482.9 354.2,480.9 353.7,482.2 353.2,483.0 352.7,480.0 352.2,482.0 351.7,481.2 351.2,480.8 350.7,481.9 350.2,481.3 349.7,482.2 349.2,480.1 348.7,481.1 348.2,479.7 347.7,480.5 347.2,484.1 346.7,481.9 346.2,480.7 345.7,481.5 345.2,482.4 344.7,481.8 344.2,482.2 343.7,483.9 343.2,482.6 342.7,482.5 342.2,480.0 341.7,481.2 341.2,480.9 340.7,482.1 340.2,482.1 339.7,482.3 339.2,481.5 338.7,482.0 338.2,482.1 337.7,483.0 337.2,481.4 336.7,481.8 336.2,470.2 335.7,471.0 335.2,470.2 334.7,470.2 334.2,468.9 333.7,470.6 333.2,470.8 332.7,470.1 332.2,470.9 331.7,469.8 331.2,469.6 330.7,468.8 330.2,470.4 329.7,471.2 329.2,472.2 328.7,472.4 328.2,470.5 327.7,470.4 327.2,470.2 326.7,482.3 326.2,480.9 325.7,482.3 325.2,482.1 324.7,481.5 324.2,482.0 323.7,483.7 323.2,480.4 322.7,481.5 322.2,481.6 321.7,480.9 321.2,481.8 320.7,482.2 320.2,480.5 319.7,483.9 319.2,481.4 318.7,480.8 318.2,480.4 317.7,482.1 317.2,481.1 316.7,479.6 316.2,481.7 315.7,481.3 315.2,482.6 314.7,481.7 314.2,480.0 313.7,482.0 313.2,480.8 312.7,482.4 312.2,481.6 311.7,480.1 311.2,481.5 310.7,480.1 310.2,479.8 309.7,481.4 309.2,481.0 308.7,480.1 308.2,481.9 307.7,480.2 307.2,482.9 306.7,480.6 306.2,481.7 305.7,483.6 305.2,480.7 304.7,483.4 304.2,480.1 303.7,481.4 303.2,481.8 302.7,481.2 302.2,481.5 301.7,481.5 301.2,481.0 300.7,483.4 300.2,481.9 299.7,483.3 299.2,480.9 298.7,481.4 298.2,481.3 297.7,480.6 297.2,481.7 296.7,483.4 296.2,482.2 295.7,484.8 295.2,482.9 294.7,480.7 294.2,481.4 293.7,483.2 293.2,482.7 292.7,482.9 292.2,482.1 291.7,480.3 291.2,480.2 290.7,481.3 290.2,481.9 289.7,481.0 289.2,481.6 288.7,480.6 288.2,480.9 287.7,480.2 287.2,480.1 286.7,480.4 286.2,481.5 285.7,480.2 285.2,482.3 284.7,480.8 284.2,480.7 283.7,480.8 283.2,481.2 282.7,481.9 282.2,480.5 281.7,481.5 281.2,481.6 280.7,481.8 280.2,481.5 279.7,481.0 279.2,482.5 278.7,480.9 278.2,482.1 277.7,480.2 277.2,481.9 276.7,480.2 276.2,479.7 275.7,483.7 275.2,482.4 274.7,480.3 274.2,480.9 273.7,481.4 273.2,483.7 272.7,480.8 272.2,482.4 271.7,481.4 271.2,480.3 270.7,482.2 270.2,482.1 269.7,481.7 269.2,482.2 268.7,482.4 268.2,481.8 267.7,483.1 267.2,480.8 266.7,481.3 266.2,464.4 265.7,465.8 265.2,464.2 264.7,464.9 264.2,465.0 263.7,464.5 263.2,465.0 262.7,481.4 262.2,481.4 261.7,479.7 261.2,482.1 260.7,482.5 260.2,480.7 259.7,482.9 259.2,480.7 258.7,480.7 258.2,480.9 257.7,480.3 257.2,482.2 256.7,480.2 256.2,481.8 255.7,481.8 255.2,480.3 254.7,480.9 254.2,481.6 253.7,480.4 253.2,482.9 252.7,481.2 252.2,480.3 251.7,480.3 251.2,480.8 250.7,481.6 250.2,481.3 249.7,480.4 249.2,484.8 248.7,484.3 248.2,483.0 247.7,482.9 247.2,481.7 246.7,481.8 246.2,481.1 245.7,480.9 245.2,484.8 244.7,469.5 244.2,467.6 243.7,469.0 243.2,467.6 242.7,481.2 242.2,481.6 241.7,481.2 241.2,483.2 240.7,482.2 240.2,483.2 239.7,483.9 239.2,480.2 238.7,480.2 238.2,480.4 237.7,482.0 237.2,481.0 236.7,480.2 236.2,480.2 235.7,480.7 235.2,481.3 234.7,483.5 234.2,483.6 233.7,480.2 233.2,480.8 232.7,484.5 232.2,482.6 231.7,480.3 231.2,481.6 230.7,481.7 230.2,481.2 229.7,481.1 229.2,480.8 228.7,482.2 228.2,481.0 227.7,480.3 227.2,482.5 226.7,482.0 226.2,482.3 225.7,479.9 225.2,480.1 224.7,480.6 224.2,480.5 223.7,480.5 223.2,480.6 222.7,481.6 222.2,480.3 221.7,482.2 221.2,481.4 220.7,481.3 220.2,480.7 219.7,479.9 219.2,481.1 218.7,484.0 218.2,482.1 217.7,480.5 217.2,480.3 216.7,481.4 216.2,480.5 215.7,481.3 215.2,481.6 214.7,480.7 214.2,480.8 213.7,480.8 213.2,481.2 212.7,481.4 212.2,480.7 211.7,483.0 211.2,480.0 210.7,480.5 210.2,482.1 209.7,481.0 209.2,482.0 208.7,484.0 208.2,481.4 207.7,481.8 207.2,481.1 206.7,481.0 206.2,481.0 205.7,481.1 205.2,481.3 204.7,480.6 204.2,483.3 203.7,481.3 203.2,481.7 202.7,480.5 202.2,484.8 201.7,481.3 201.2,482.9 200.7,482.8 200.2,484.8 199.7,480.9 199.2,483.2 198.7,481.2 198.2,480.6 197.7,482.3 197.2,480.9 196.7,480.1 196.2,483.6 195.7,480.1 195.2,482.3 194.7,481.6 194.2,481.4 193.7,481.4 193.2,482.1 192.7,480.2 192.2,479.8 191.7,480.5 191.2,480.9 190.7,481.1 190.2,482.8 189.7,481.5 189.2,484.3 188.7,481.3 188.2,482.7 187.7,481.4 187.2,480.9 186.7,481.6 186.2,481.2 185.7,481.5 185.2,481.1 184.7,481.9 184.2,481.0 183.7,481.3 183.2,480.8 182.7,482.1 182.2,480.6 181.7,482.6 181.2,481.6 180.7,480.9 180.2,481.8 179.7,481.1 179.2,480.9 178.7,481.5 178.2,482.0 177.7,481.2 177.2,480.8 176.7,482.5 176.2,482.4 175.7,482.4 175.2,483.8 174.7,481.1 174.2,480.8 173.7,481.1 173.2,479.8 172.7,480.8 172.2,480.7 171.7,479.9 171.2,482.4 170.7,479.9 170.2,481.7 169.7,480.8 169.2,480.4 168.7,480.9 168.2,481.9 167.7,484.5 167.2,482.5 166.7,481.6 166.2,482.4 165.7,480.7 165.2,480.7 164.7,482.0 164.2,480.3 163.7,481.4 163.2,480.8 162.7,480.7 162.2,480.2 161.7,481.4 161.2,482.0 160.7,481.7 160.2,481.6" fill="#f39a12" stroke="#f39a12" stroke-width="0.3" opacity="0.7"/>
<polygon points="160.2,472.4 160.7,475.6 161.2,474.2 161.7,473.9 162.2,473.1 162.7,475.1 163.2,472.6 163.7,473.2 164.2,473.2 164.7,475.2 165.2,475.1 165.7,474.6 166.2,476.3 166.7,475.3 167.2,475.9 167.7,476.4 168.2,475.2 168.7,474.5 169.2,473.4 169.7,474.7 170.2,474.5 170.7,474.3 171.2,475.0 171.7,473.6 172.2,473.2 172.7,473.6 173.2,472.6 173.7,474.5 174.2,474.9 174.7,475.2 175.2,475.5 175.7,474.5 176.2,475.2 176.7,473.8 177.2,474.3 177.7,475.2 178.2,475.2 178.7,473.7 179.2,475.6 179.7,474.0 180.2,475.1 180.7,474.1 181.2,475.1 181.7,476.0 182.2,474.8 182.7,475.8 183.2,472.0 183.7,475.0 184.2,474.4 184.7,474.4 185.2,475.7 185.7,475.0 186.2,474.4 186.7,474.1 187.2,474.5 187.7,475.5 188.2,474.2 188.7,474.3 189.2,475.0 189.7,475.6 190.2,476.6 190.7,475.2 191.2,474.2 191.7,474.5 192.2,473.1 192.7,472.7 193.2,474.7 193.7,473.4 194.2,474.1 194.7,473.9 195.2,475.2 195.7,473.0 196.2,476.7 196.7,474.3 197.2,474.8 197.7,473.1 198.2,474.7 198.7,473.1 199.2,475.4 199.7,474.1 200.2,477.0 200.7,475.8 201.2,475.2 201.7,473.7 202.2,475.9 202.7,475.1 203.2,472.8 203.7,474.4 204.2,476.4 204.7,473.3 205.2,475.3 205.7,473.9 206.2,473.9 206.7,475.1 207.2,474.2 207.7,474.8 208.2,472.6 208.7,475.9 209.2,472.3 209.7,474.7 210.2,475.6 210.7,474.7 211.2,473.4 211.7,474.9 212.2,474.4 212.7,475.7 213.2,475.1 213.7,474.4 214.2,474.1 214.7,474.9 215.2,475.2 215.7,475.4 216.2,474.4 216.7,474.6 217.2,474.3 217.7,474.2 218.2,475.0 218.7,476.0 219.2,474.4 219.7,473.8 220.2,475.2 220.7,474.4 221.2,475.9 221.7,475.6 222.2,475.1 222.7,474.7 223.2,475.0 223.7,474.2 224.2,473.6 224.7,473.9 225.2,472.1 225.7,474.4 226.2,473.0 226.7,475.4 227.2,476.1 227.7,474.5 228.2,474.1 228.7,473.9 229.2,474.0 229.7,475.1 230.2,473.9 230.7,475.4 231.2,474.2 231.7,473.1 232.2,476.1 232.7,475.4 233.2,474.9 233.7,473.7 234.2,474.3 234.7,475.8 235.2,474.0 235.7,474.8 236.2,474.4 236.7,474.6 237.2,474.4 237.7,474.9 238.2,474.6 238.7,474.7 239.2,473.8 239.7,475.4 240.2,475.7 240.7,475.6 241.2,476.4 241.7,472.6 242.2,473.7 242.7,475.1 243.2,464.2 243.7,464.9 244.2,462.2 244.7,465.3 245.2,475.3 245.7,475.5 246.2,473.2 246.7,474.4 247.2,475.6 247.7,473.8 248.2,475.9 248.7,475.3 249.2,476.5 249.7,475.3 250.2,474.9 250.7,475.9 251.2,474.7 251.7,475.0 252.2,474.1 252.7,475.4 253.2,475.6 253.7,473.9 254.2,474.5 254.7,474.6 255.2,474.1 255.7,475.8 256.2,475.5 256.7,473.0 257.2,476.0 257.7,475.0 258.2,475.6 258.7,474.3 259.2,474.3 259.7,473.9 260.2,473.6 260.7,475.0 261.2,474.3 261.7,474.2 262.2,474.5 262.7,473.7 263.2,461.1 263.7,459.3 264.2,460.3 264.7,460.9 265.2,459.1 265.7,460.4 266.2,459.8 266.7,474.8 267.2,473.7 267.7,475.8 268.2,476.2 268.7,476.4 269.2,476.1 269.7,474.8 270.2,473.5 270.7,474.0 271.2,474.5 271.7,474.9 272.2,473.7 272.7,474.8 273.2,475.6 273.7,474.0 274.2,474.9 274.7,474.1 275.2,475.3 275.7,475.0 276.2,473.3 276.7,474.8 277.2,476.1 277.7,474.4 278.2,474.6 278.7,475.4 279.2,475.9 279.7,475.5 280.2,475.1 280.7,472.7 281.2,475.3 281.7,475.3 282.2,472.8 282.7,474.5 283.2,474.2 283.7,475.2 284.2,472.8 284.7,474.7 285.2,475.7 285.7,474.4 286.2,475.0 286.7,475.4 287.2,472.4 287.7,474.6 288.2,473.7 288.7,474.6 289.2,475.5 289.7,474.9 290.2,475.3 290.7,475.6 291.2,472.6 291.7,473.9 292.2,474.8 292.7,475.7 293.2,475.0 293.7,476.2 294.2,473.7 294.7,474.1 295.2,475.8 295.7,474.7 296.2,475.2 296.7,475.0 297.2,474.0 297.7,475.3 298.2,475.0 298.7,472.7 299.2,474.1 299.7,476.9 300.2,473.5 300.7,473.5 301.2,474.4 301.7,475.7 302.2,474.1 302.7,474.6 303.2,475.2 303.7,475.5 304.2,473.8 304.7,474.7 305.2,472.9 305.7,476.3 306.2,475.3 306.7,473.0 307.2,474.4 307.7,474.7 308.2,475.5 308.7,474.5 309.2,475.6 309.7,474.9 310.2,473.9 310.7,474.0 311.2,474.7 311.7,474.2 312.2,473.9 312.7,474.7 313.2,475.1 313.7,472.7 314.2,474.5 314.7,475.1 315.2,475.1 315.7,475.3 316.2,474.7 316.7,473.9 317.2,475.0 317.7,475.4 318.2,474.1 318.7,474.5 319.2,475.1 319.7,475.8 320.2,473.8 320.7,475.3 321.2,473.6 321.7,472.9 322.2,474.9 322.7,474.8 323.2,474.0 323.7,475.7 324.2,475.0 324.7,474.3 325.2,474.2 325.7,473.9 326.2,475.6 326.7,475.8 327.2,463.0 327.7,464.7 328.2,464.6 328.7,465.2 329.2,465.3 329.7,464.3 330.2,463.5 330.7,463.5 331.2,463.6 331.7,463.1 332.2,464.0 332.7,464.9 333.2,464.5 333.7,463.6 334.2,463.0 334.7,464.5 335.2,464.7 335.7,465.4 336.2,464.0 336.7,475.7 337.2,475.7 337.7,475.6 338.2,473.3 338.7,475.3 339.2,475.7 339.7,474.4 340.2,474.1 340.7,476.1 341.2,475.6 341.7,474.3 342.2,472.9 342.7,474.4 343.2,475.7 343.7,475.1 344.2,473.8 344.7,474.9 345.2,474.7 345.7,474.0 346.2,475.3 346.7,475.5 347.2,474.2 347.7,474.9 348.2,474.3 348.7,474.2 349.2,474.4 349.7,475.7 350.2,474.4 350.7,475.3 351.2,475.7 351.7,474.8 352.2,475.6 352.7,473.5 353.2,476.1 353.7,475.8 354.2,474.2 354.7,476.0 355.2,476.0 355.7,473.7 356.2,475.5 356.7,474.0 357.2,473.7 357.7,473.8 358.2,459.4 358.7,461.1 359.2,458.8 359.7,460.4 360.2,458.9 360.7,461.0 361.2,459.2 361.7,461.2 362.2,459.5 362.7,461.0 363.2,460.8 363.7,460.6 364.2,461.4 364.7,460.9 365.2,459.8 365.7,460.1 366.2,461.1 366.7,459.6 367.2,460.9 367.7,459.6 368.2,460.7 368.7,461.0 369.2,460.1 369.7,460.7 370.2,459.7 370.7,459.2 371.2,460.8 371.7,457.8 372.2,460.9 372.7,458.5 373.2,460.1 373.7,460.2 374.2,460.4 374.7,461.0 375.2,459.6 375.7,460.8 376.2,455.7 376.7,457.7 377.2,458.7 377.7,458.5 378.2,457.7 378.7,459.5 379.2,458.8 379.7,458.1 380.2,458.0 380.7,457.9 381.2,458.7 381.7,456.7 382.2,456.6 382.7,457.3 383.2,458.4 383.7,458.9 384.2,459.1 384.7,457.7 385.2,457.4 385.7,459.0 386.2,457.7 386.7,458.8 387.2,458.9 387.7,458.2 388.2,459.8 388.7,456.6 389.2,458.9 389.7,457.9 390.2,458.5 390.7,457.6 391.2,458.4 391.7,458.1 391.7,463.4 391.2,464.2 390.7,464.4 390.2,463.0 389.7,464.3 389.2,463.9 388.7,463.7 388.2,466.0 387.7,463.2 387.2,464.4 386.7,463.6 386.2,464.2 385.7,465.2 385.2,463.5 384.7,464.1 384.2,465.1 383.7,464.8 383.2,464.9 382.7,463.5 382.2,463.4 381.7,462.2 381.2,463.4 380.7,464.4 380.2,465.3 379.7,464.6 379.2,464.4 378.7,466.2 378.2,463.6 377.7,465.1 377.2,463.3 376.7,464.2 376.2,464.2 375.7,466.6 375.2,464.9 374.7,466.3 374.2,467.0 373.7,466.5 373.2,465.8 372.7,465.1 372.2,466.1 371.7,465.8 371.2,466.2 370.7,464.5 370.2,464.3 369.7,466.2 369.2,464.9 368.7,465.9 368.2,466.4 367.7,465.1 367.2,466.0 366.7,464.8 366.2,466.7 365.7,466.5 365.2,465.4 364.7,465.6 364.2,465.8 363.7,465.0 363.2,466.7 362.7,467.7 362.2,466.3 361.7,466.6 361.2,465.7 360.7,466.6 360.2,464.9 359.7,464.8 359.2,463.7 358.7,465.2 358.2,464.4 357.7,478.6 357.2,478.9 356.7,479.5 356.2,480.8 355.7,478.1 355.2,479.8 354.7,481.2 354.2,479.2 353.7,480.6 353.2,481.3 352.7,478.4 352.2,480.4 351.7,479.6 351.2,479.5 350.7,480.3 350.2,479.6 349.7,480.6 349.2,478.7 348.7,479.4 348.2,478.4 347.7,479.1 347.2,481.6 346.7,480.3 346.2,479.4 345.7,479.7 345.2,480.5 344.7,480.1 344.2,480.1 343.7,481.7 343.2,480.9 342.7,480.5 342.2,478.3 341.7,479.5 341.2,479.6 340.7,480.6 340.2,480.1 339.7,480.3 339.2,480.0 338.7,480.3 338.2,479.9 337.7,481.2 337.2,480.0 336.7,480.3 336.2,468.6 335.7,469.6 335.2,468.8 334.7,468.7 334.2,467.4 333.7,468.8 333.2,469.2 332.7,468.8 332.2,469.1 331.7,468.1 331.2,468.1 330.7,467.5 330.2,468.7 329.7,469.5 329.2,470.5 328.7,470.6 328.2,469.1 327.7,469.0 327.2,468.4 326.7,480.7 326.2,479.5 325.7,480.2 325.2,480.1 324.7,479.7 324.2,480.2 323.7,481.7 323.2,478.8 322.7,479.8 322.2,479.9 321.7,478.9 321.2,479.7 320.7,480.4 320.2,478.8 319.7,481.9 319.2,479.8 318.7,479.3 318.2,478.8 317.7,480.4 317.2,479.5 316.7,478.2 316.2,480.0 315.7,479.8 315.2,480.8 314.7,480.1 314.2,478.6 313.7,479.7 313.2,479.4 312.7,480.5 312.2,479.7 311.7,478.6 311.2,479.8 310.7,478.6 310.2,478.3 309.7,479.8 309.2,479.6 308.7,478.7 308.2,480.3 307.7,478.8 307.2,480.8 306.7,478.7 306.2,480.1 305.7,481.8 305.2,478.8 304.7,481.2 304.2,478.6 303.7,479.9 303.2,480.2 302.7,479.6 302.2,479.6 301.7,480.0 301.2,479.4 300.7,480.9 300.2,479.8 299.7,481.7 299.2,479.2 298.7,479.2 298.2,479.7 297.7,479.3 297.2,479.8 296.7,481.3 296.2,480.4 295.7,482.3 295.2,481.2 294.7,479.0 294.2,479.4 293.7,481.5 293.2,480.8 292.7,481.1 292.2,480.3 291.7,478.7 291.2,478.3 290.7,479.9 290.2,480.2 289.7,479.5 289.2,480.1 288.7,479.1 288.2,479.1 287.7,478.8 287.2,478.2 286.7,479.2 286.2,479.9 285.7,478.7 285.2,480.6 284.7,479.3 284.2,478.7 283.7,479.4 283.2,479.4 282.7,480.0 282.2,478.6 281.7,480.0 281.2,480.0 280.7,479.5 280.2,479.9 279.7,479.6 279.2,480.9 278.7,479.6 278.2,480.2 277.7,478.8 277.2,480.4 276.7,478.9 276.2,478.1 275.7,481.5 275.2,480.6 274.7,478.8 274.2,479.4 273.7,479.5 273.2,481.7 272.7,479.3 272.2,480.2 271.7,479.8 271.2,478.9 270.7,480.1 270.2,479.9 269.7,480.0 269.2,480.7 268.7,480.9 268.2,480.4 267.7,481.3 267.2,479.0 266.7,479.7 266.2,463.2 265.7,464.4 265.2,463.0 264.7,463.9 264.2,463.8 263.7,463.2 263.2,464.0 262.7,479.5 262.2,479.7 261.7,478.3 261.2,480.1 260.7,480.6 260.2,478.9 259.7,480.7 259.2,479.1 258.7,479.1 258.2,479.6 257.7,479.0 257.2,480.7 256.7,478.4 256.2,480.2 255.7,480.3 255.2,478.8 254.7,479.3 254.2,479.8 253.7,478.8 253.2,481.1 252.7,479.7 252.2,478.7 251.7,479.0 251.2,479.3 250.7,480.2 250.2,479.7 249.7,479.1 249.2,482.7 248.7,482.0 248.2,481.2 247.7,480.6 247.2,480.2 246.7,480.0 246.2,479.1 245.7,479.5 245.2,482.4 244.7,468.4 244.2,466.2 243.7,468.0 243.2,466.7 242.7,479.7 242.2,479.6 241.7,479.1 241.2,481.5 240.7,480.6 240.2,481.4 239.7,481.8 239.2,478.6 238.7,478.8 238.2,479.0 237.7,480.2 237.2,479.3 236.7,478.8 236.2,478.8 235.7,479.2 235.2,479.5 234.7,481.6 234.2,481.3 233.7,478.6 233.2,479.3 232.7,482.2 232.2,481.0 231.7,478.5 231.2,479.7 230.7,480.1 230.2,479.4 229.7,479.6 229.2,479.1 228.7,480.1 228.2,479.3 227.7,478.8 227.2,480.9 226.7,480.3 226.2,480.0 225.7,478.5 225.2,478.1 224.7,478.9 224.2,478.7 223.7,478.9 223.2,479.2 222.7,479.9 222.2,479.0 221.7,480.5 221.2,480.0 220.7,479.6 220.2,479.3 219.7,478.4 219.2,479.4 218.7,482.0 218.2,480.3 217.7,478.9 217.2,478.8 216.7,479.7 216.2,479.0 215.7,479.8 215.2,480.0 214.7,479.3 214.2,479.2 213.7,479.2 213.2,479.7 212.7,480.0 212.2,479.1 211.7,480.9 211.2,478.3 210.7,479.1 210.2,480.5 209.7,479.4 209.2,479.6 208.7,482.0 208.2,479.2 207.7,480.1 207.2,479.4 206.7,479.5 206.2,479.2 205.7,479.3 205.2,479.8 204.7,478.8 204.2,481.6 203.7,479.6 203.2,479.4 202.7,479.1 202.2,482.6 201.7,479.4 201.2,481.0 200.7,481.0 200.2,482.9 199.7,479.2 199.2,481.3 198.7,479.2 198.2,479.1 197.7,480.0 197.2,479.4 196.7,478.6 196.2,481.9 195.7,478.3 195.2,480.6 194.7,479.7 194.2,479.6 193.7,479.4 193.2,480.3 192.7,478.3 192.2,478.2 191.7,479.0 191.2,479.2 190.7,479.6 190.2,481.3 189.7,480.0 189.2,482.0 188.7,479.6 188.2,480.6 187.7,479.9 187.2,479.3 186.7,479.7 186.2,479.5 185.7,479.8 185.2,479.8 184.7,480.0 184.2,479.4 183.7,479.7 183.2,478.6 182.7,480.5 182.2,479.2 181.7,480.9 181.2,480.0 180.7,479.2 180.2,480.1 179.7,479.3 179.2,479.6 178.7,479.6 178.2,480.3 177.7,479.7 177.2,479.2 176.7,480.3 176.2,480.6 175.7,480.4 175.2,481.7 174.7,479.6 174.2,479.3 173.7,479.5 173.2,478.0 172.7,479.0 172.2,478.8 171.7,478.3 171.2,480.6 170.7,478.5 170.2,479.9 169.7,479.3 169.2,478.7 168.7,479.3 168.2,480.3 167.7,482.5 167.2,480.8 166.7,480.0 166.2,480.9 165.7,479.1 165.2,479.3 164.7,480.3 164.2,478.6 163.7,479.3 163.2,478.7 162.7,479.3 162.2,478.4 161.7,479.6 161.2,480.1 160.7,480.1 160.2,479.3" fill="#f39a12" stroke="#f39a12" stroke-width="0.3"/>
<rect x="159.6" y="448.2" width="232.8" height="37.4" fill="none" stroke="#6a6a6a" stroke-width="1.2" />
<line x1="160.1" y1="457.9" x2="162.4" y2="457.9" stroke="#333" stroke-width="0.9" />
<line x1="160.1" y1="476" x2="162.4" y2="476" stroke="#333" stroke-width="0.9" />
<line x1="160.1" y1="466.9" x2="161.4" y2="466.9" stroke="#333" stroke-width="0.9" />
<text x="155.6" y="461" font-size="8.5" text-anchor="end" font-weight="normal" fill="#1a1a1a" stroke="#1a1a1a" stroke-width="0.1" >300</text>
<text x="155.6" y="479.1" font-size="8.5" text-anchor="end" font-weight="normal" fill="#1a1a1a" stroke="#1a1a1a" stroke-width="0.1" >0</text>
<line x1="198.4" y1="485.1" x2="198.4" y2="484" stroke="#333" stroke-width="0.9" />
<line x1="237.2" y1="485.1" x2="237.2" y2="483" stroke="#333" stroke-width="0.9" />
<line x1="276" y1="485.1" x2="276" y2="484" stroke="#333" stroke-width="0.9" />
<line x1="314.8" y1="485.1" x2="314.8" y2="483" stroke="#333" stroke-width="0.9" />
<line x1="353.6" y1="485.1" x2="353.6" y2="484" stroke="#333" stroke-width="0.9" />
<text x="159.6" y="496.7" font-size="8.6" text-anchor="middle" font-weight="normal" fill="#1a1a1a" stroke="#1a1a1a" stroke-width="0.1" >1140</text>
<text x="237.2" y="496.7" font-size="8.6" text-anchor="middle" font-weight="normal" fill="#1a1a1a" stroke="#1a1a1a" stroke-width="0.1" >1160</text>
<text x="314.8" y="496.7" font-size="8.6" text-anchor="middle" font-weight="normal" fill="#1a1a1a" stroke="#1a1a1a" stroke-width="0.1" >1180</text>
<text x="392.4" y="496.7" font-size="8.6" text-anchor="middle" font-weight="normal" fill="#1a1a1a" stroke="#1a1a1a" stroke-width="0.1" >1200</text>
<path d="M396.2,469.4 L396.6,469.4 L396.7,469.8 L396.8,470.3 L397.0,470.7 L397.2,471.1 L397.5,471.6 L397.9,472.0 L398.5,472.5 L399.4,472.9 L400.9,473.3 L403.2,473.8 L406.4,474.2 L410.6,474.6 L415.3,475.1 L419.8,475.5 L423.0,476.0 L424.2,476.4 L423.0,476.8 L419.8,477.3 L415.3,477.7 L410.6,478.1 L406.4,478.6 L403.2,479.0 L400.9,479.5 L399.4,479.9 L398.5,480.3 L397.9,480.8 L397.5,481.2 L397.2,481.6 L397.0,482.1 L396.8,482.5 L396.7,483.0 L396.6,483.4 L396.2,483.4 Z" fill="#b4b4b4"/>
<path d="M396.2,459.2 L396.3,459.2 L396.4,459.6 L396.5,459.9 L396.5,460.3 L396.7,460.7 L396.8,461.1 L397.0,461.4 L397.2,461.8 L397.5,462.2 L397.8,462.6 L398.1,462.9 L398.4,463.3 L398.7,463.7 L399.0,464.1 L399.2,464.4 L399.4,464.8 L399.4,465.2 L399.4,465.6 L399.2,465.9 L399.0,466.3 L398.7,466.7 L398.4,467.1 L398.1,467.4 L397.8,467.8 L397.5,468.2 L397.2,468.6 L397.0,468.9 L396.8,469.3 L396.7,469.7 L396.5,470.1 L396.5,470.4 L396.4,470.8 L396.3,471.2 L396.2,471.2 Z" fill="#f39a20"/>
<g transform="translate(133.8,417.7) rotate(-90)"><text x="0" y="0" font-size="8.8" text-anchor="middle" fill="#1a1a1a">Current (pA)</text></g>
<line x1="243.8" y1="538" x2="243.8" y2="536.6" stroke="#e486b2" stroke-width="0.6" />
<line x1="256.7" y1="538" x2="256.7" y2="536.7" stroke="#e486b2" stroke-width="0.6" />
<line x1="254.9" y1="538" x2="254.9" y2="536.1" stroke="#e486b2" stroke-width="0.6" />
<line x1="219.9" y1="538" x2="219.9" y2="536.2" stroke="#e486b2" stroke-width="0.6" />
<line x1="162" y1="538" x2="162" y2="537.2" stroke="#e486b2" stroke-width="0.6" />
<line x1="237.6" y1="538" x2="237.6" y2="537.7" stroke="#e486b2" stroke-width="0.6" />
<line x1="332.7" y1="538" x2="332.7" y2="537.2" stroke="#e486b2" stroke-width="0.6" />
<line x1="343.3" y1="538" x2="343.3" y2="535.1" stroke="#e486b2" stroke-width="0.6" />
<line x1="218.6" y1="538" x2="218.6" y2="535.3" stroke="#e486b2" stroke-width="0.6" />
<line x1="347.6" y1="538" x2="347.6" y2="536" stroke="#e486b2" stroke-width="0.6" />
<line x1="173.7" y1="538" x2="173.7" y2="525.8" stroke="#dc7aa6" stroke-width="0.7" />
<line x1="174.3" y1="538" x2="174.3" y2="528.7" stroke="#dc7aa6" stroke-width="0.7" />
<line x1="184" y1="538" x2="184" y2="527.7" stroke="#dc7aa6" stroke-width="0.7" />
<line x1="195.4" y1="538" x2="195.4" y2="532.6" stroke="#dc7aa6" stroke-width="0.7" />
<line x1="242.6" y1="538" x2="242.6" y2="518.5" stroke="#dc7aa6" stroke-width="0.7" />
<line x1="245.5" y1="538" x2="245.5" y2="524.8" stroke="#dc7aa6" stroke-width="0.7" />
<line x1="247.5" y1="538" x2="247.5" y2="527.7" stroke="#dc7aa6" stroke-width="0.7" />
<line x1="273.7" y1="538" x2="273.7" y2="530.7" stroke="#dc7aa6" stroke-width="0.7" />
<line x1="283.9" y1="538" x2="283.9" y2="522.8" stroke="#dc7aa6" stroke-width="0.7" />
<line x1="288.8" y1="538" x2="288.8" y2="528.7" stroke="#dc7aa6" stroke-width="0.7" />
<line x1="311.4" y1="538" x2="311.4" y2="526.7" stroke="#dc7aa6" stroke-width="0.7" />
<line x1="318.7" y1="538" x2="318.7" y2="525.8" stroke="#dc7aa6" stroke-width="0.7" />
<line x1="324.2" y1="538" x2="324.2" y2="529.7" stroke="#dc7aa6" stroke-width="0.7" />
<line x1="339" y1="538" x2="339" y2="530.7" stroke="#dc7aa6" stroke-width="0.7" />
<line x1="345.8" y1="538" x2="345.8" y2="530.7" stroke="#dc7aa6" stroke-width="0.7" />
<line x1="366.5" y1="538" x2="366.5" y2="521.8" stroke="#dc7aa6" stroke-width="0.7" />
<line x1="378.9" y1="538" x2="378.9" y2="530.7" stroke="#dc7aa6" stroke-width="0.7" />
<polygon points="160.2,538.4 160.7,537.8 161.2,539.1 161.7,537.8 162.2,539.1 162.7,538.1 163.2,538.0 163.7,538.6 164.2,538.4 164.7,536.4 165.2,539.2 165.7,538.1 166.2,538.8 166.7,537.2 167.2,539.2 167.7,535.3 168.2,538.9 168.7,538.5 169.2,538.5 169.7,536.9 170.2,538.4 170.7,538.3 171.2,538.2 171.7,537.7 172.2,538.8 172.7,538.1 173.2,538.8 173.7,538.0 174.2,539.6 174.7,538.9 175.2,538.7 175.7,538.0 176.2,538.0 176.7,537.8 177.2,537.9 177.7,539.5 178.2,537.2 178.7,538.9 179.2,538.7 179.7,538.0 180.2,538.6 180.7,537.8 181.2,538.7 181.7,538.7 182.2,538.6 182.7,538.2 183.2,538.4 183.7,539.0 184.2,538.1 184.7,536.2 185.2,539.9 185.7,539.0 186.2,538.8 186.7,537.9 187.2,537.8 187.7,536.7 188.2,539.1 188.7,537.9 189.2,539.1 189.7,537.7 190.2,536.9 190.7,538.8 191.2,538.4 191.7,538.1 192.2,539.3 192.7,536.1 193.2,537.1 193.7,537.3 194.2,537.9 194.7,537.9 195.2,538.4 195.7,538.0 196.2,539.2 196.7,538.8 197.2,539.7 197.7,537.5 198.2,538.5 198.7,538.3 199.2,538.7 199.7,539.0 200.2,538.2 200.7,538.7 201.2,538.5 201.7,537.8 202.2,539.4 202.7,539.2 203.2,537.3 203.7,537.8 204.2,537.8 204.7,537.3 205.2,538.2 205.7,538.1 206.2,538.3 206.7,536.8 207.2,538.0 207.7,539.2 208.2,539.4 208.7,538.4 209.2,536.8 209.7,539.0 210.2,538.4 210.7,535.4 211.2,539.4 211.7,538.9 212.2,538.3 212.7,537.6 213.2,538.4 213.7,537.8 214.2,539.1 214.7,537.5 215.2,538.7 215.7,539.6 216.2,536.4 216.7,537.3 217.2,537.9 217.7,537.9 218.2,537.3 218.7,538.1 219.2,537.3 219.7,538.5 220.2,538.6 220.7,539.4 221.2,538.1 221.7,537.8 222.2,538.3 222.7,539.2 223.2,538.8 223.7,538.2 224.2,538.9 224.7,538.0 225.2,539.5 225.7,539.6 226.2,538.9 226.7,538.8 227.2,539.4 227.7,537.2 228.2,537.9 228.7,538.9 229.2,537.7 229.7,537.8 230.2,538.3 230.7,537.6 231.2,538.4 231.7,537.4 232.2,540.2 232.7,537.9 233.2,538.4 233.7,537.3 234.2,537.8 234.7,538.6 235.2,539.4 235.7,536.3 236.2,538.9 236.7,540.1 237.2,539.0 237.7,536.7 238.2,538.0 238.7,538.2 239.2,538.0 239.7,538.8 240.2,536.0 240.7,537.1 241.2,538.1 241.7,538.3 242.2,538.2 242.7,537.6 243.2,536.0 243.7,538.6 244.2,537.8 244.7,537.9 245.2,538.6 245.7,538.8 246.2,538.7 246.7,538.9 247.2,538.3 247.7,537.5 248.2,538.2 248.7,538.8 249.2,537.7 249.7,537.2 250.2,535.5 250.7,538.8 251.2,538.7 251.7,537.9 252.2,538.2 252.7,537.4 253.2,538.1 253.7,539.3 254.2,538.5 254.7,538.3 255.2,538.7 255.7,537.9 256.2,538.9 256.7,538.4 257.2,538.9 257.7,537.8 258.2,538.0 258.7,538.0 259.2,538.6 259.7,538.1 260.2,537.2 260.7,539.2 261.2,537.9 261.7,537.8 262.2,538.6 262.7,537.7 263.2,539.7 263.7,538.8 264.2,538.0 264.7,538.0 265.2,539.2 265.7,539.2 266.2,539.1 266.7,538.1 267.2,538.7 267.7,537.6 268.2,538.9 268.7,536.4 269.2,539.0 269.7,538.9 270.2,538.7 270.7,538.3 271.2,538.6 271.7,537.4 272.2,538.9 272.7,538.3 273.2,537.6 273.7,537.6 274.2,536.7 274.7,538.5 275.2,536.0 275.7,537.8 276.2,537.9 276.7,538.8 277.2,537.5 277.7,537.1 278.2,539.2 278.7,538.2 279.2,537.1 279.7,538.7 280.2,539.3 280.7,538.7 281.2,539.4 281.7,538.7 282.2,538.6 282.7,537.9 283.2,538.2 283.7,539.7 284.2,538.7 284.7,538.8 285.2,538.9 285.7,538.0 286.2,538.0 286.7,538.4 287.2,537.3 287.7,538.8 288.2,538.4 288.7,538.1 289.2,538.3 289.7,538.2 290.2,538.0 290.7,539.5 291.2,537.8 291.7,537.3 292.2,537.6 292.7,539.0 293.2,537.9 293.7,539.4 294.2,538.1 294.7,538.1 295.2,537.5 295.7,538.1 296.2,537.9 296.7,537.0 297.2,537.4 297.7,538.6 298.2,538.0 298.7,538.7 299.2,538.6 299.7,537.5 300.2,537.1 300.7,537.2 301.2,538.1 301.7,539.4 302.2,537.8 302.7,537.0 303.2,535.8 303.7,539.0 304.2,538.2 304.7,538.9 305.2,538.7 305.7,538.7 306.2,538.3 306.7,538.8 307.2,539.0 307.7,538.1 308.2,539.0 308.7,538.2 309.2,537.8 309.7,538.6 310.2,538.4 310.7,538.8 311.2,537.8 311.7,538.6 312.2,538.8 312.7,538.0 313.2,537.6 313.7,536.9 314.2,537.8 314.7,537.6 315.2,537.1 315.7,537.7 316.2,539.1 316.7,537.1 317.2,536.8 317.7,538.6 318.2,538.5 318.7,537.5 319.2,538.8 319.7,537.1 320.2,538.6 320.7,538.7 321.2,537.9 321.7,537.7 322.2,537.5 322.7,537.1 323.2,539.3 323.7,536.3 324.2,537.2 324.7,538.3 325.2,537.3 325.7,538.1 326.2,537.9 326.7,538.6 327.2,537.8 327.7,538.5 328.2,537.8 328.7,538.6 329.2,538.6 329.7,538.0 330.2,538.6 330.7,537.2 331.2,538.6 331.7,537.3 332.2,538.8 332.7,537.5 333.2,539.0 333.7,538.7 334.2,538.0 334.7,539.1 335.2,538.7 335.7,537.2 336.2,536.8 336.7,538.0 337.2,538.7 337.7,539.2 338.2,539.2 338.7,537.2 339.2,537.0 339.7,537.7 340.2,538.8 340.7,538.9 341.2,539.0 341.7,538.8 342.2,538.3 342.7,538.4 343.2,536.1 343.7,537.3 344.2,537.2 344.7,539.5 345.2,538.9 345.7,538.6 346.2,539.2 346.7,538.5 347.2,539.9 347.7,538.7 348.2,538.9 348.7,538.6 349.2,538.0 349.7,537.7 350.2,540.0 350.7,539.3 351.2,538.9 351.7,537.1 352.2,538.7 352.7,538.2 353.2,537.6 353.7,538.2 354.2,539.2 354.7,537.6 355.2,538.9 355.7,537.7 356.2,539.1 356.7,538.7 357.2,538.5 357.7,539.0 358.2,537.9 358.7,539.2 359.2,538.6 359.7,538.6 360.2,538.6 360.7,538.4 361.2,538.0 361.7,538.2 362.2,538.7 362.7,538.4 363.2,538.7 363.7,538.7 364.2,538.6 364.7,539.1 365.2,538.0 365.7,538.2 366.2,537.7 366.7,538.1 367.2,538.2 367.7,539.0 368.2,538.5 368.7,538.8 369.2,538.6 369.7,537.4 370.2,539.6 370.7,538.2 371.2,538.7 371.7,537.6 372.2,535.6 372.7,538.4 373.2,538.6 373.7,537.7 374.2,538.7 374.7,538.3 375.2,538.3 375.7,537.8 376.2,538.4 376.7,538.1 377.2,538.9 377.7,537.4 378.2,538.1 378.7,538.6 379.2,539.4 379.7,538.4 380.2,536.7 380.7,536.3 381.2,538.3 381.7,540.0 382.2,539.3 382.7,538.7 383.2,538.2 383.7,539.0 384.2,539.0 384.7,538.6 385.2,536.4 385.7,539.7 386.2,538.8 386.7,539.0 387.2,537.3 387.7,539.2 388.2,537.4 388.7,539.3 389.2,538.5 389.7,538.1 390.2,539.5 390.7,538.4 391.2,538.4 391.7,539.5 391.7,544.2 391.2,544.7 390.7,543.7 390.2,544.6 389.7,545.1 389.2,544.1 388.7,544.1 388.2,544.0 387.7,544.1 387.2,544.3 386.7,544.0 386.2,544.4 385.7,544.7 385.2,543.1 384.7,543.7 384.2,543.9 383.7,544.5 383.2,543.4 382.7,543.5 382.2,544.2 381.7,544.9 381.2,544.0 380.7,543.0 380.2,543.3 379.7,543.0 379.2,546.5 378.7,544.1 378.2,543.6 377.7,544.2 377.2,544.1 376.7,543.1 376.2,543.7 375.7,544.1 375.2,543.5 374.7,544.1 374.2,543.6 373.7,542.8 373.2,544.8 372.7,546.3 372.2,542.8 371.7,545.4 371.2,543.8 370.7,543.8 370.2,545.4 369.7,543.9 369.2,545.6 368.7,544.3 368.2,544.3 367.7,545.6 367.2,544.2 366.7,543.7 366.2,543.0 365.7,542.7 365.2,543.7 364.7,545.0 364.2,544.5 363.7,544.0 363.2,544.6 362.7,544.7 362.2,544.6 361.7,544.5 361.2,543.5 360.7,543.6 360.2,545.1 359.7,544.1 359.2,544.1 358.7,544.2 358.2,545.5 357.7,544.7 357.2,545.5 356.7,545.6 356.2,544.0 355.7,543.9 355.2,545.9 354.7,543.9 354.2,544.5 353.7,545.0 353.2,543.5 352.7,544.3 352.2,544.6 351.7,544.1 351.2,544.4 350.7,543.9 350.2,544.8 349.7,543.2 349.2,543.2 348.7,545.0 348.2,544.4 347.7,544.3 347.2,546.4 346.7,545.4 346.2,545.4 345.7,545.1 345.2,544.7 344.7,545.5 344.2,542.6 343.7,543.5 343.2,544.7 342.7,545.2 342.2,546.9 341.7,544.4 341.2,543.9 340.7,544.0 340.2,544.1 339.7,544.0 339.2,544.2 338.7,544.0 338.2,544.7 337.7,543.9 337.2,544.7 336.7,543.5 336.2,543.8 335.7,545.5 335.2,544.4 334.7,543.7 334.2,543.7 333.7,544.3 333.2,544.3 332.7,544.3 332.2,543.5 331.7,543.7 331.2,544.4 330.7,543.7 330.2,544.3 329.7,543.0 329.2,543.7 328.7,544.2 328.2,543.8 327.7,544.6 327.2,543.9 326.7,543.7 326.2,544.4 325.7,544.2 325.2,542.8 324.7,544.6 324.2,543.5 323.7,542.7 323.2,545.1 322.7,543.6 322.2,543.6 321.7,543.9 321.2,544.2 320.7,543.5 320.2,545.2 319.7,543.3 319.2,543.6 318.7,543.5 318.2,543.7 317.7,544.3 317.2,543.5 316.7,545.4 316.2,543.8 315.7,543.1 315.2,543.0 314.7,544.0 314.2,545.1 313.7,543.4 313.2,543.3 312.7,542.4 312.2,543.7 311.7,544.0 311.2,544.7 310.7,545.3 310.2,544.3 309.7,544.2 309.2,543.8 308.7,543.6 308.2,544.1 307.7,543.7 307.2,544.0 306.7,544.7 306.2,544.0 305.7,544.1 305.2,544.4 304.7,545.1 304.2,544.6 303.7,543.7 303.2,544.1 302.7,543.6 302.2,543.2 301.7,544.6 301.2,544.9 300.7,544.1 300.2,543.2 299.7,542.7 299.2,543.7 298.7,543.8 298.2,543.3 297.7,545.3 297.2,544.7 296.7,544.6 296.2,544.0 295.7,543.9 295.2,543.2 294.7,544.3 294.2,543.6 293.7,545.5 293.2,543.5 292.7,545.0 292.2,543.2 291.7,543.8 291.2,543.9 290.7,544.2 290.2,543.8 289.7,543.8 289.2,544.7 288.7,543.3 288.2,544.0 287.7,544.6 287.2,543.4 286.7,543.9 286.2,545.0 285.7,543.9 285.2,543.7 284.7,544.4 284.2,545.4 283.7,544.8 283.2,544.6 282.7,543.4 282.2,544.1 281.7,543.9 281.2,545.4 280.7,544.4 280.2,544.1 279.7,543.7 279.2,543.3 278.7,542.9 278.2,546.3 277.7,543.9 277.2,543.6 276.7,544.8 276.2,546.0 275.7,544.1 275.2,544.5 274.7,545.0 274.2,543.3 273.7,545.2 273.2,543.3 272.7,544.7 272.2,544.5 271.7,543.6 271.2,544.1 270.7,543.7 270.2,544.5 269.7,543.4 269.2,544.4 268.7,543.6 268.2,544.1 267.7,544.7 267.2,543.8 266.7,544.2 266.2,543.7 265.7,544.2 265.2,544.3 264.7,543.8 264.2,545.4 263.7,544.3 263.2,545.4 262.7,543.7 262.2,544.8 261.7,544.0 261.2,543.4 260.7,545.1 260.2,544.0 259.7,544.8 259.2,544.6 258.7,545.0 258.2,544.5 257.7,543.8 257.2,543.9 256.7,544.0 256.2,544.1 255.7,543.6 255.2,545.1 254.7,544.8 254.2,543.2 253.7,544.5 253.2,544.0 252.7,544.6 252.2,545.3 251.7,544.1 251.2,543.3 250.7,543.7 250.2,543.1 249.7,543.7 249.2,544.9 248.7,544.7 248.2,544.4 247.7,543.5 247.2,543.6 246.7,544.1 246.2,543.6 245.7,545.0 245.2,543.8 244.7,543.7 244.2,544.7 243.7,543.4 243.2,542.8 242.7,544.7 242.2,543.0 241.7,543.3 241.2,544.5 240.7,543.0 240.2,544.8 239.7,543.5 239.2,543.2 238.7,544.7 238.2,543.4 237.7,544.0 237.2,544.2 236.7,547.1 236.2,544.1 235.7,543.4 235.2,544.5 234.7,543.7 234.2,544.0 233.7,545.1 233.2,544.0 232.7,543.9 232.2,544.8 231.7,544.6 231.2,543.6 230.7,543.9 230.2,544.5 229.7,544.4 229.2,543.7 228.7,544.3 228.2,543.2 227.7,544.6 227.2,544.9 226.7,543.3 226.2,544.8 225.7,545.0 225.2,544.4 224.7,544.6 224.2,545.0 223.7,545.0 223.2,543.8 222.7,543.8 222.2,544.2 221.7,543.5 221.2,543.8 220.7,544.7 220.2,543.3 219.7,543.5 219.2,544.3 218.7,543.6 218.2,543.9 217.7,542.9 217.2,543.3 216.7,543.2 216.2,543.8 215.7,544.7 215.2,544.8 214.7,543.1 214.2,544.7 213.7,543.7 213.2,543.5 212.7,544.0 212.2,546.0 211.7,544.0 211.2,544.0 210.7,543.7 210.2,543.3 209.7,545.3 209.2,543.8 208.7,544.7 208.2,544.7 207.7,545.2 207.2,544.1 206.7,542.9 206.2,544.6 205.7,543.0 205.2,544.8 204.7,542.9 204.2,545.0 203.7,544.3 203.2,543.6 202.7,544.9 202.2,545.5 201.7,543.4 201.2,544.9 200.7,544.0 200.2,543.2 199.7,543.8 199.2,543.5 198.7,544.6 198.2,545.1 197.7,544.4 197.2,544.8 196.7,544.6 196.2,544.0 195.7,543.1 195.2,545.0 194.7,544.8 194.2,545.2 193.7,543.6 193.2,542.7 192.7,542.5 192.2,545.3 191.7,543.4 191.2,543.5 190.7,544.6 190.2,544.5 189.7,542.8 189.2,544.5 188.7,543.6 188.2,545.9 187.7,543.6 187.2,544.4 186.7,544.4 186.2,543.9 185.7,544.9 185.2,544.8 184.7,543.3 184.2,543.5 183.7,544.0 183.2,543.6 182.7,543.9 182.2,545.7 181.7,546.6 181.2,544.7 180.7,543.5 180.2,543.3 179.7,545.2 179.2,545.5 178.7,543.9 178.2,544.6 177.7,544.7 177.2,544.4 176.7,545.8 176.2,545.4 175.7,544.5 175.2,543.3 174.7,547.1 174.2,544.3 173.7,543.6 173.2,544.2 172.7,543.7 172.2,544.3 171.7,544.4 171.2,542.8 170.7,544.3 170.2,545.8 169.7,544.7 169.2,544.6 168.7,543.4 168.2,543.5 167.7,543.0 167.2,545.9 166.7,544.7 166.2,544.1 165.7,544.1 165.2,545.0 164.7,542.9 164.2,543.4 163.7,544.2 163.2,543.4 162.7,544.7 162.2,544.0 161.7,545.5 161.2,545.2 160.7,543.6 160.2,543.4" fill="#d01f6e" stroke="#d01f6e" stroke-width="0.3" opacity="0.7"/>
<polygon points="160.2,539.4 160.7,539.0 161.2,540.3 161.7,539.4 162.2,540.1 162.7,539.4 163.2,539.1 163.7,539.7 164.2,539.4 164.7,537.7 165.2,540.4 165.7,539.3 166.2,539.8 166.7,538.7 167.2,540.5 167.7,536.8 168.2,539.9 168.7,539.5 169.2,539.7 169.7,538.5 170.2,539.9 170.7,539.5 171.2,539.1 171.7,539.0 172.2,539.9 172.7,539.3 173.2,539.9 173.7,539.1 174.2,540.5 174.7,540.5 175.2,539.6 175.7,539.3 176.2,539.5 176.7,539.4 177.2,539.2 177.7,540.5 178.2,538.7 178.7,539.9 179.2,540.1 179.7,539.5 180.2,539.6 180.7,539.0 181.2,539.9 181.7,540.3 182.2,540.0 182.7,539.4 183.2,539.5 183.7,540.0 184.2,539.2 184.7,537.6 185.2,540.9 185.7,540.2 186.2,539.8 186.7,539.2 187.2,539.2 187.7,538.1 188.2,540.5 188.7,539.0 189.2,540.2 189.7,538.7 190.2,538.5 190.7,540.0 191.2,539.4 191.7,539.1 192.2,540.5 192.7,537.4 193.2,538.2 193.7,538.6 194.2,539.4 194.7,539.3 195.2,539.7 195.7,539.0 196.2,540.1 196.7,540.0 197.2,540.7 197.7,538.9 198.2,539.8 198.7,539.5 199.2,539.6 199.7,539.9 200.2,539.2 200.7,539.8 201.2,539.8 201.7,539.0 202.2,540.6 202.7,540.3 203.2,538.6 203.7,539.1 204.2,539.3 204.7,538.5 205.2,539.5 205.7,539.0 206.2,539.6 206.7,538.0 207.2,539.2 207.7,540.4 208.2,540.5 208.7,539.7 209.2,538.2 209.7,540.2 210.2,539.4 210.7,537.1 211.2,540.3 211.7,539.9 212.2,539.9 212.7,538.9 213.2,539.4 213.7,539.0 214.2,540.2 214.7,538.6 215.2,539.9 215.7,540.6 216.2,537.9 216.7,538.5 217.2,539.0 217.7,538.9 218.2,538.6 218.7,539.2 219.2,538.7 219.7,539.5 220.2,539.5 220.7,540.5 221.2,539.2 221.7,539.0 222.2,539.4 222.7,540.1 223.2,539.8 223.7,539.5 224.2,540.1 224.7,539.3 225.2,540.5 225.7,540.7 226.2,540.1 226.7,539.7 227.2,540.5 227.7,538.7 228.2,539.0 228.7,540.0 229.2,538.9 229.7,539.1 230.2,539.5 230.7,538.9 231.2,539.4 231.7,538.8 232.2,541.1 232.7,539.1 233.2,539.5 233.7,538.8 234.2,539.1 234.7,539.6 235.2,540.4 235.7,537.7 236.2,539.9 236.7,541.5 237.2,540.0 237.7,538.2 238.2,539.1 238.7,539.5 239.2,539.1 239.7,539.8 240.2,537.8 240.7,538.3 241.2,539.4 241.7,539.3 242.2,539.2 242.7,539.0 243.2,537.3 243.7,539.5 244.2,539.2 244.7,539.1 245.2,539.7 245.7,540.0 246.2,539.7 246.7,539.9 247.2,539.4 247.7,538.7 248.2,539.4 248.7,540.0 249.2,539.1 249.7,538.5 250.2,537.0 250.7,539.7 251.2,539.7 251.7,539.1 252.2,539.6 252.7,538.8 253.2,539.3 253.7,540.3 254.2,539.5 254.7,539.6 255.2,540.0 255.7,539.1 256.2,539.9 256.7,539.6 257.2,539.9 257.7,539.0 258.2,539.3 258.7,539.4 259.2,539.8 259.7,539.4 260.2,538.6 260.7,540.4 261.2,539.0 261.7,539.1 262.2,539.9 262.7,538.9 263.2,540.8 263.7,539.9 264.2,539.5 264.7,539.2 265.2,540.2 265.7,540.2 266.2,540.0 266.7,539.3 267.2,539.7 267.7,539.1 268.2,539.9 268.7,537.9 269.2,540.1 269.7,539.8 270.2,539.9 270.7,539.4 271.2,539.7 271.7,538.7 272.2,540.0 272.7,539.6 273.2,538.7 273.7,539.1 274.2,538.0 274.7,539.8 275.2,537.7 275.7,539.1 276.2,539.5 276.7,540.0 277.2,538.7 277.7,538.5 278.2,540.6 278.7,539.2 279.2,538.3 279.7,539.7 280.2,540.3 280.7,539.8 281.2,540.6 281.7,539.7 282.2,539.7 282.7,539.0 283.2,539.5 283.7,540.7 284.2,540.1 284.7,540.0 285.2,539.9 285.7,539.2 286.2,539.4 286.7,539.5 287.2,538.5 287.7,539.9 288.2,539.6 288.7,539.1 289.2,539.6 289.7,539.3 290.2,539.1 290.7,540.5 291.2,539.0 291.7,538.6 292.2,538.7 292.7,540.2 293.2,539.0 293.7,540.6 294.2,539.2 294.7,539.3 295.2,538.7 295.7,539.3 296.2,539.1 296.7,538.5 297.2,538.8 297.7,539.9 298.2,539.1 298.7,539.7 299.2,539.6 299.7,538.5 300.2,538.3 300.7,538.6 301.2,539.4 301.7,540.5 302.2,538.9 302.7,538.3 303.2,537.5 303.7,539.9 304.2,539.5 304.7,540.1 305.2,539.8 305.7,539.8 306.2,539.5 306.7,540.0 307.2,540.0 307.7,539.2 308.2,540.1 308.7,539.3 309.2,539.0 309.7,539.7 310.2,539.6 310.7,540.1 311.2,539.2 311.7,539.7 312.2,539.8 312.7,538.9 313.2,538.7 313.7,538.2 314.2,539.3 314.7,538.9 315.2,538.3 315.7,538.8 316.2,540.0 316.7,538.7 317.2,538.1 317.7,539.7 318.2,539.5 318.7,538.7 319.2,539.8 319.7,538.3 320.2,539.9 320.7,539.7 321.2,539.2 321.7,539.0 322.2,538.7 322.7,538.4 323.2,540.5 323.7,537.6 324.2,538.5 324.7,539.5 325.2,538.4 325.7,539.3 326.2,539.2 326.7,539.6 327.2,539.0 327.7,539.7 328.2,539.0 328.7,539.7 329.2,539.6 329.7,539.0 330.2,539.7 330.7,538.5 331.2,539.8 331.7,538.6 332.2,539.7 332.7,538.9 333.2,540.1 333.7,539.8 334.2,539.1 334.7,540.0 335.2,539.9 335.7,538.9 336.2,538.2 336.7,539.1 337.2,539.9 337.7,540.2 338.2,540.3 338.7,538.6 339.2,538.5 339.7,539.0 340.2,539.8 340.7,539.9 341.2,540.0 341.7,539.9 342.2,540.0 342.7,539.8 343.2,537.8 343.7,538.5 344.2,538.3 344.7,540.7 345.2,540.1 345.7,539.9 346.2,540.4 346.7,539.9 347.2,541.2 347.7,539.9 348.2,540.0 348.7,539.9 349.2,539.1 349.7,538.8 350.2,541.0 350.7,540.2 351.2,540.0 351.7,538.5 352.2,539.9 352.7,539.4 353.2,538.8 353.7,539.6 354.2,540.3 354.7,538.9 355.2,540.3 355.7,538.9 356.2,540.1 356.7,540.0 357.2,539.9 357.7,540.2 358.2,539.4 358.7,540.2 359.2,539.7 359.7,539.7 360.2,539.9 360.7,539.4 361.2,539.1 361.7,539.5 362.2,539.9 362.7,539.6 363.2,539.9 363.7,539.8 364.2,539.8 364.7,540.3 365.2,539.1 365.7,539.1 366.2,538.8 366.7,539.2 367.2,539.4 367.7,540.3 368.2,539.6 368.7,539.9 369.2,540.0 369.7,538.7 370.2,540.8 370.7,539.3 371.2,539.8 371.7,539.2 372.2,537.0 372.7,540.0 373.2,539.8 373.7,538.7 374.2,539.7 374.7,539.5 375.2,539.4 375.7,539.0 376.2,539.5 376.7,539.1 377.2,540.0 377.7,538.8 378.2,539.2 378.7,539.7 379.2,540.8 379.7,539.3 380.2,538.0 380.7,537.7 381.2,539.4 381.7,541.0 382.2,540.3 382.7,539.6 383.2,539.3 383.7,540.1 384.2,540.0 384.7,539.6 385.2,537.8 385.7,540.7 386.2,539.9 386.7,540.0 387.2,538.7 387.7,540.2 388.2,538.8 388.7,540.3 389.2,539.6 389.7,539.5 390.2,540.5 390.7,539.5 391.2,539.7 391.7,540.4 391.7,543.2 391.2,543.5 390.7,542.6 390.2,543.6 389.7,543.7 389.2,543.0 388.7,543.2 388.2,542.7 387.7,543.1 387.2,542.9 386.7,543.0 386.2,543.3 385.7,543.7 385.2,541.7 384.7,542.7 384.2,542.9 383.7,543.4 383.2,542.4 382.7,542.5 382.2,543.2 381.7,543.9 381.2,542.9 380.7,541.7 380.2,542.0 379.7,542.1 379.2,545.0 378.7,543.0 378.2,542.5 377.7,542.9 377.2,543.1 376.7,542.1 376.2,542.6 375.7,542.8 375.2,542.5 374.7,542.9 374.2,542.6 373.7,541.7 373.2,543.6 372.7,544.7 372.2,541.4 371.7,543.9 371.2,542.8 370.7,542.7 370.2,544.3 369.7,542.6 369.2,544.2 368.7,543.2 368.2,543.1 367.7,544.3 367.2,543.0 366.7,542.6 366.2,541.9 365.7,541.8 365.2,542.6 364.7,543.8 364.2,543.3 363.7,542.9 363.2,543.4 362.7,543.5 362.2,543.5 361.7,543.3 361.2,542.4 360.7,542.6 360.2,543.8 359.7,543.0 359.2,543.0 358.7,543.2 358.2,544.0 357.7,543.6 357.2,544.1 356.7,544.2 356.2,543.1 355.7,542.6 355.2,544.5 354.7,542.6 354.2,543.5 353.7,543.7 353.2,542.3 352.7,543.1 352.2,543.4 351.7,542.7 351.2,543.3 350.7,543.0 350.2,543.8 349.7,542.1 349.2,542.2 348.7,543.7 348.2,543.3 347.7,543.2 347.2,545.1 346.7,544.0 346.2,544.1 345.7,543.8 345.2,543.6 344.7,544.3 344.2,541.5 343.7,542.2 343.2,543.0 342.7,543.9 342.2,545.2 341.7,543.3 341.2,542.9 340.7,543.0 340.2,543.0 339.7,542.7 339.2,542.8 338.7,542.6 338.2,543.6 337.7,543.0 337.2,543.5 336.7,542.4 336.2,542.4 335.7,543.8 335.2,543.3 334.7,542.8 334.2,542.5 333.7,543.2 333.2,543.2 332.7,543.0 332.2,542.6 331.7,542.5 331.2,543.3 330.7,542.4 330.2,543.2 329.7,542.0 329.2,542.7 328.7,543.1 328.2,542.6 327.7,543.4 327.2,542.7 326.7,542.7 326.2,543.1 325.7,543.0 325.2,541.7 324.7,543.4 324.2,542.2 323.7,541.4 323.2,544.0 322.7,542.3 322.2,542.4 321.7,542.7 321.2,542.9 320.7,542.6 320.2,543.9 319.7,542.0 319.2,542.7 318.7,542.3 318.2,542.6 317.7,543.2 317.2,542.1 316.7,543.7 316.2,542.8 315.7,542.0 315.2,541.8 314.7,542.7 314.2,543.6 313.7,542.1 313.2,542.2 312.7,541.5 312.2,542.7 311.7,542.9 311.2,543.3 310.7,544.0 310.2,543.1 309.7,543.1 309.2,542.6 308.7,542.5 308.2,543.1 307.7,542.6 307.2,543.0 306.7,543.5 306.2,542.9 305.7,543.0 305.2,543.2 304.7,543.8 304.2,543.4 303.7,542.8 303.2,542.4 302.7,542.3 302.2,542.1 301.7,543.6 301.2,543.5 300.7,542.8 300.2,542.0 299.7,541.7 299.2,542.7 298.7,542.8 298.2,542.2 297.7,544.0 297.2,543.2 296.7,543.0 296.2,542.7 295.7,542.8 295.2,542.0 294.7,543.0 294.2,542.5 293.7,544.3 293.2,542.4 292.7,543.8 292.2,542.1 291.7,542.5 291.2,542.7 290.7,543.3 290.2,542.6 289.7,542.7 289.2,543.5 288.7,542.3 288.2,542.9 287.7,543.4 287.2,542.2 286.7,542.8 286.2,543.6 285.7,542.8 285.2,542.7 284.7,543.3 284.2,544.1 283.7,543.8 283.2,543.4 282.7,542.3 282.2,543.0 281.7,542.8 281.2,544.2 280.7,543.3 280.2,543.1 279.7,542.7 279.2,542.0 278.7,542.0 278.2,544.8 277.7,542.6 277.2,542.4 276.7,543.6 276.2,544.4 275.7,542.9 275.2,542.8 274.7,543.7 274.2,542.0 273.7,543.7 273.2,542.1 272.7,543.4 272.2,543.4 271.7,542.4 271.2,543.0 270.7,542.6 270.2,543.3 269.7,542.5 269.2,543.4 268.7,542.2 268.2,543.1 267.7,543.3 267.2,542.7 266.7,543.0 266.2,542.8 265.7,543.2 265.2,543.3 264.7,542.6 264.2,543.9 263.7,543.2 263.2,544.3 262.7,542.5 262.2,543.5 261.7,542.8 261.2,542.3 260.7,544.0 260.2,542.6 259.7,543.4 259.2,543.4 258.7,543.6 258.2,543.2 257.7,542.6 257.2,542.9 256.7,542.9 256.2,543.0 255.7,542.5 255.2,543.8 254.7,543.5 254.2,542.3 253.7,543.4 253.2,542.8 252.7,543.2 252.2,543.9 251.7,542.8 251.2,542.4 250.7,542.7 250.2,541.5 249.7,542.4 249.2,543.5 248.7,543.5 248.2,543.2 247.7,542.3 247.2,542.5 246.7,543.1 246.2,542.6 245.7,543.7 245.2,542.8 244.7,542.5 244.2,543.4 243.7,542.4 243.2,541.4 242.7,543.2 242.2,542.0 241.7,542.3 241.2,543.2 240.7,541.8 240.2,543.1 239.7,542.6 239.2,542.2 238.7,543.4 238.2,542.3 237.7,542.5 237.2,543.1 236.7,545.7 236.2,543.0 235.7,542.0 235.2,543.5 234.7,542.7 234.2,542.8 233.7,543.5 233.2,542.9 232.7,542.7 232.2,543.9 231.7,543.1 231.2,542.6 230.7,542.6 230.2,543.2 229.7,543.1 229.2,542.5 228.7,543.2 228.2,542.1 227.7,543.1 227.2,543.8 226.7,542.4 226.2,543.6 225.7,543.9 225.2,543.4 224.7,543.2 224.2,543.8 223.7,543.7 223.2,542.8 222.7,542.9 222.2,543.0 221.7,542.4 221.2,542.6 220.7,543.7 220.2,542.3 219.7,542.5 219.2,542.9 218.7,542.5 218.2,542.5 217.7,541.9 217.2,542.2 216.7,542.0 216.2,542.3 215.7,543.7 215.2,543.6 214.7,542.0 214.2,543.6 213.7,542.5 213.2,542.5 212.7,542.7 212.2,544.5 211.7,543.0 211.2,543.1 210.7,542.1 210.2,542.3 209.7,544.0 209.2,542.4 208.7,543.4 208.2,543.7 207.7,544.0 207.2,542.9 206.7,541.7 206.2,543.4 205.7,542.0 205.2,543.5 204.7,541.8 204.2,543.6 203.7,543.0 203.2,542.4 202.7,543.8 202.2,544.3 201.7,542.3 201.2,543.6 200.7,543.0 200.2,542.2 199.7,542.9 199.2,542.5 198.7,543.4 198.2,543.8 197.7,543.0 197.2,543.7 196.7,543.5 196.2,543.0 195.7,542.1 195.2,543.7 194.7,543.4 194.2,543.7 193.7,542.4 193.2,541.6 192.7,541.2 192.2,544.1 191.7,542.3 191.2,542.5 190.7,543.4 190.2,543.0 189.7,541.8 189.2,543.4 188.7,542.5 188.2,544.5 187.7,542.2 187.2,543.1 186.7,543.1 186.2,542.9 185.7,543.7 185.2,543.8 184.7,541.9 184.2,542.5 183.7,543.0 183.2,542.6 182.7,542.8 182.2,544.2 181.7,545.0 181.2,543.5 180.7,542.4 180.2,542.3 179.7,543.8 179.2,544.2 178.7,542.9 178.2,543.1 177.7,543.7 177.2,543.1 176.7,544.2 176.2,543.9 175.7,543.2 175.2,542.4 174.7,545.5 174.2,543.4 173.7,542.5 173.2,543.1 172.7,542.6 172.2,543.2 171.7,543.1 171.2,541.9 170.7,543.1 170.2,544.3 169.7,543.1 169.2,543.4 168.7,542.4 168.2,542.6 167.7,541.5 167.2,544.6 166.7,543.2 166.2,543.0 165.7,542.9 165.2,543.9 164.7,541.6 164.2,542.4 163.7,543.1 163.2,542.3 162.7,543.4 162.2,543.0 161.7,543.9 161.2,543.9 160.7,542.5 160.2,542.4" fill="#d01f6e" stroke="#d01f6e" stroke-width="0.3"/>
<rect x="159.6" y="512.4" width="232.8" height="37.9" fill="none" stroke="#6a6a6a" stroke-width="1.2" />
<line x1="160.1" y1="521.3" x2="162.4" y2="521.3" stroke="#333" stroke-width="0.9" />
<line x1="160.1" y1="540" x2="162.4" y2="540" stroke="#333" stroke-width="0.9" />
<line x1="160.1" y1="530.6" x2="161.4" y2="530.6" stroke="#333" stroke-width="0.9" />
<text x="155.6" y="524.4" font-size="8.5" text-anchor="end" font-weight="normal" fill="#1a1a1a" stroke="#1a1a1a" stroke-width="0.1" >300</text>
<text x="155.6" y="543.1" font-size="8.5" text-anchor="end" font-weight="normal" fill="#1a1a1a" stroke="#1a1a1a" stroke-width="0.1" >0</text>
<line x1="198.4" y1="549.8" x2="198.4" y2="548.7" stroke="#333" stroke-width="0.9" />
<line x1="237.2" y1="549.8" x2="237.2" y2="547.7" stroke="#333" stroke-width="0.9" />
<line x1="276" y1="549.8" x2="276" y2="548.7" stroke="#333" stroke-width="0.9" />
<line x1="314.8" y1="549.8" x2="314.8" y2="547.7" stroke="#333" stroke-width="0.9" />
<line x1="353.6" y1="549.8" x2="353.6" y2="548.7" stroke="#333" stroke-width="0.9" />
<text x="159.6" y="558.7" font-size="8.6" text-anchor="middle" font-weight="normal" fill="#1a1a1a" stroke="#1a1a1a" stroke-width="0.1" >0</text>
<text x="237.2" y="558.7" font-size="8.6" text-anchor="middle" font-weight="normal" fill="#1a1a1a" stroke="#1a1a1a" stroke-width="0.1" >20</text>
<text x="314.8" y="558.7" font-size="8.6" text-anchor="middle" font-weight="normal" fill="#1a1a1a" stroke="#1a1a1a" stroke-width="0.1" >40</text>
<text x="392.4" y="558.7" font-size="8.6" text-anchor="middle" font-weight="normal" fill="#1a1a1a" stroke="#1a1a1a" stroke-width="0.1" >60</text>
<path d="M396.2,534.2 L396.6,534.2 L396.7,534.6 L396.9,535.0 L397.1,535.3 L397.4,535.7 L397.8,536.1 L398.5,536.5 L399.5,536.8 L401.0,537.2 L403.2,537.6 L406.2,538.0 L410.0,538.3 L414.3,538.7 L418.7,539.1 L422.6,539.5 L425.2,539.8 L426.2,540.2 L425.2,540.6 L422.6,541.0 L418.7,541.3 L414.3,541.7 L410.0,542.1 L406.2,542.5 L403.2,542.8 L401.0,543.2 L399.5,543.6 L398.5,544.0 L397.8,544.3 L397.4,544.7 L397.1,545.1 L396.9,545.5 L396.7,545.8 L396.6,546.2 L396.2,546.2 Z" fill="#b4b4b4"/>
<line x1="396.2" y1="520" x2="396.2" y2="549" stroke="#e090b8" stroke-width="0.8" />
<text x="164.6" y="521.6" font-size="11.2" text-anchor="start" font-weight="normal" fill="#1a1a1a" stroke="#1a1a1a" stroke-width="0.1" >g</text>
<text x="307.6" y="523.4" font-size="8.2" text-anchor="start" font-weight="normal" fill="#1a1a1a" stroke="#1a1a1a" stroke-width="0.1" >1 nM anti-insulin IgG</text>
<line x1="281.1" y1="588" x2="281.1" y2="576.9" stroke="#e486b2" stroke-width="0.6" />
<line x1="383.2" y1="588" x2="383.2" y2="582.8" stroke="#e486b2" stroke-width="0.6" />
<line x1="337.9" y1="576.2" x2="337.9" y2="566.2" stroke="#e486b2" stroke-width="0.6" />
<line x1="313.6" y1="588" x2="313.6" y2="584.9" stroke="#e486b2" stroke-width="0.6" />
<line x1="165.9" y1="588" x2="165.9" y2="581.7" stroke="#e486b2" stroke-width="0.6" />
<line x1="333.4" y1="588" x2="333.4" y2="583.3" stroke="#e486b2" stroke-width="0.6" />
<line x1="276.4" y1="577.1" x2="276.4" y2="571.6" stroke="#e486b2" stroke-width="0.6" />
<line x1="356.6" y1="588" x2="356.6" y2="575.3" stroke="#e486b2" stroke-width="0.6" />
<line x1="253.1" y1="577.1" x2="253.1" y2="563.8" stroke="#e486b2" stroke-width="0.6" />
<line x1="174.1" y1="588" x2="174.1" y2="576.8" stroke="#e486b2" stroke-width="0.6" />
<line x1="363.4" y1="588" x2="363.4" y2="584.4" stroke="#e486b2" stroke-width="0.6" />
<line x1="323.9" y1="576.8" x2="323.9" y2="568.5" stroke="#e486b2" stroke-width="0.6" />
<line x1="382" y1="588" x2="382" y2="583.7" stroke="#e486b2" stroke-width="0.6" />
<line x1="285.3" y1="588" x2="285.3" y2="576" stroke="#e486b2" stroke-width="0.6" />
<line x1="308.3" y1="588" x2="308.3" y2="582.6" stroke="#e486b2" stroke-width="0.6" />
<line x1="178.7" y1="588" x2="178.7" y2="575.3" stroke="#e486b2" stroke-width="0.6" />
<line x1="270" y1="577.1" x2="270" y2="563.8" stroke="#e486b2" stroke-width="0.6" />
<line x1="192.6" y1="588" x2="192.6" y2="576.8" stroke="#e486b2" stroke-width="0.6" />
<line x1="349" y1="576.2" x2="349" y2="563.7" stroke="#e486b2" stroke-width="0.6" />
<line x1="163.8" y1="588" x2="163.8" y2="581.9" stroke="#e486b2" stroke-width="0.6" />
<line x1="171.6" y1="588" x2="171.6" y2="577.5" stroke="#e486b2" stroke-width="0.6" />
<line x1="242.2" y1="577.1" x2="242.2" y2="564.2" stroke="#e486b2" stroke-width="0.6" />
<line x1="246.9" y1="577.1" x2="246.9" y2="566.4" stroke="#e486b2" stroke-width="0.6" />
<line x1="361.6" y1="588" x2="361.6" y2="583.4" stroke="#e486b2" stroke-width="0.6" />
<line x1="289.2" y1="588" x2="289.2" y2="575.1" stroke="#e486b2" stroke-width="0.6" />
<line x1="282.3" y1="588" x2="282.3" y2="582" stroke="#e486b2" stroke-width="0.6" />
<line x1="221.8" y1="577.1" x2="221.8" y2="566.2" stroke="#e486b2" stroke-width="0.6" />
<line x1="204.5" y1="588" x2="204.5" y2="579.2" stroke="#e486b2" stroke-width="0.6" />
<line x1="288.9" y1="588" x2="288.9" y2="579.8" stroke="#e486b2" stroke-width="0.6" />
<line x1="189.7" y1="588" x2="189.7" y2="578.6" stroke="#e486b2" stroke-width="0.6" />
<line x1="373" y1="588" x2="373" y2="582.5" stroke="#e486b2" stroke-width="0.6" />
<line x1="236.9" y1="577.1" x2="236.9" y2="564.8" stroke="#e486b2" stroke-width="0.6" />
<line x1="294.2" y1="577.1" x2="294.2" y2="572.1" stroke="#e486b2" stroke-width="0.6" />
<line x1="161.9" y1="588" x2="161.9" y2="577.5" stroke="#e486b2" stroke-width="0.6" />
<line x1="240.6" y1="577.1" x2="240.6" y2="569.9" stroke="#e486b2" stroke-width="0.6" />
<line x1="223" y1="577.1" x2="223" y2="568" stroke="#e486b2" stroke-width="0.6" />
<line x1="329.3" y1="588" x2="329.3" y2="582.6" stroke="#e486b2" stroke-width="0.6" />
<line x1="177.1" y1="588" x2="177.1" y2="574.8" stroke="#e486b2" stroke-width="0.6" />
<line x1="371.5" y1="588" x2="371.5" y2="585.9" stroke="#e486b2" stroke-width="0.6" />
<line x1="290.9" y1="588" x2="290.9" y2="578.3" stroke="#e486b2" stroke-width="0.6" />
<line x1="253.4" y1="577.1" x2="253.4" y2="566.9" stroke="#e486b2" stroke-width="0.6" />
<line x1="383" y1="588" x2="383" y2="579.4" stroke="#e486b2" stroke-width="0.6" />
<line x1="250.8" y1="577.1" x2="250.8" y2="573" stroke="#e486b2" stroke-width="0.6" />
<line x1="218.1" y1="577.1" x2="218.1" y2="573.5" stroke="#e486b2" stroke-width="0.6" />
<line x1="185.3" y1="588" x2="185.3" y2="583.7" stroke="#e486b2" stroke-width="0.6" />
<line x1="355.6" y1="576.2" x2="355.6" y2="568.1" stroke="#e486b2" stroke-width="0.6" />
<line x1="347" y1="576.2" x2="347" y2="563.7" stroke="#e486b2" stroke-width="0.6" />
<line x1="348.4" y1="576.2" x2="348.4" y2="573.8" stroke="#e486b2" stroke-width="0.6" />
<line x1="375.2" y1="588" x2="375.2" y2="585.1" stroke="#e486b2" stroke-width="0.6" />
<line x1="339.1" y1="576.2" x2="339.1" y2="564.7" stroke="#e486b2" stroke-width="0.6" />
<line x1="312.7" y1="588" x2="312.7" y2="581.5" stroke="#e486b2" stroke-width="0.6" />
<line x1="177.1" y1="588" x2="177.1" y2="585.2" stroke="#e486b2" stroke-width="0.6" />
<line x1="307.8" y1="588" x2="307.8" y2="583.4" stroke="#e486b2" stroke-width="0.6" />
<line x1="283.5" y1="588" x2="283.5" y2="583.1" stroke="#e486b2" stroke-width="0.6" />
<line x1="197.6" y1="588" x2="197.6" y2="582.8" stroke="#e486b2" stroke-width="0.6" />
<line x1="328.3" y1="576.8" x2="328.3" y2="569.4" stroke="#e486b2" stroke-width="0.6" />
<line x1="251" y1="577.1" x2="251" y2="569.7" stroke="#e486b2" stroke-width="0.6" />
<line x1="288.6" y1="588" x2="288.6" y2="580.2" stroke="#e486b2" stroke-width="0.6" />
<line x1="263.2" y1="577.1" x2="263.2" y2="564.1" stroke="#e486b2" stroke-width="0.6" />
<line x1="334.6" y1="576.2" x2="334.6" y2="571.7" stroke="#e486b2" stroke-width="0.6" />
<line x1="233.7" y1="577.1" x2="233.7" y2="573.1" stroke="#e486b2" stroke-width="0.6" />
<line x1="244.4" y1="577.1" x2="244.4" y2="575" stroke="#e486b2" stroke-width="0.6" />
<line x1="332.9" y1="588" x2="332.9" y2="579.6" stroke="#e486b2" stroke-width="0.6" />
<line x1="258" y1="577.1" x2="258" y2="565" stroke="#e486b2" stroke-width="0.6" />
<line x1="236.1" y1="577.1" x2="236.1" y2="568.6" stroke="#e486b2" stroke-width="0.6" />
<line x1="376" y1="588" x2="376" y2="579.8" stroke="#e486b2" stroke-width="0.6" />
<line x1="302.3" y1="588" x2="302.3" y2="581.9" stroke="#e486b2" stroke-width="0.6" />
<line x1="392" y1="588" x2="392" y2="577.5" stroke="#e486b2" stroke-width="0.6" />
<line x1="230.2" y1="577.1" x2="230.2" y2="571.2" stroke="#e486b2" stroke-width="0.6" />
<line x1="297.3" y1="577.1" x2="297.3" y2="569.3" stroke="#e486b2" stroke-width="0.6" />
<line x1="281.4" y1="588" x2="281.4" y2="583.9" stroke="#e486b2" stroke-width="0.6" />
<line x1="293.6" y1="577.1" x2="293.6" y2="567.2" stroke="#e486b2" stroke-width="0.6" />
<line x1="337.7" y1="576.2" x2="337.7" y2="569.1" stroke="#e486b2" stroke-width="0.6" />
<line x1="263.3" y1="577.1" x2="263.3" y2="569.5" stroke="#e486b2" stroke-width="0.6" />
<line x1="284.4" y1="588" x2="284.4" y2="580.7" stroke="#e486b2" stroke-width="0.6" />
<line x1="162.4" y1="588" x2="162.4" y2="583.1" stroke="#e486b2" stroke-width="0.6" />
<line x1="389.6" y1="588" x2="389.6" y2="576.6" stroke="#e486b2" stroke-width="0.6" />
<line x1="268.4" y1="577.1" x2="268.4" y2="566.6" stroke="#e486b2" stroke-width="0.6" />
<line x1="208.8" y1="588" x2="208.8" y2="583.1" stroke="#e486b2" stroke-width="0.6" />
<line x1="280.1" y1="588" x2="280.1" y2="578.1" stroke="#e486b2" stroke-width="0.6" />
<line x1="166" y1="588" x2="166" y2="580.7" stroke="#e486b2" stroke-width="0.6" />
<line x1="370.5" y1="588" x2="370.5" y2="579.1" stroke="#e486b2" stroke-width="0.6" />
<line x1="390.8" y1="588" x2="390.8" y2="585" stroke="#e486b2" stroke-width="0.6" />
<line x1="371.1" y1="588" x2="371.1" y2="576.5" stroke="#e486b2" stroke-width="0.6" />
<line x1="165.7" y1="588" x2="165.7" y2="580" stroke="#e486b2" stroke-width="0.6" />
<line x1="336.4" y1="576.2" x2="336.4" y2="571.8" stroke="#e486b2" stroke-width="0.6" />
<line x1="310.8" y1="588" x2="310.8" y2="576.4" stroke="#e486b2" stroke-width="0.6" />
<line x1="344.4" y1="576.2" x2="344.4" y2="569.4" stroke="#e486b2" stroke-width="0.6" />
<line x1="173.2" y1="588" x2="173.2" y2="579.9" stroke="#e486b2" stroke-width="0.6" />
<line x1="203.4" y1="588" x2="203.4" y2="580" stroke="#e486b2" stroke-width="0.6" />
<polygon points="160.2,586.9 160.7,588.7 161.2,587.8 161.7,588.9 162.2,588.2 162.7,589.4 163.2,587.9 163.7,587.4 164.2,587.3 164.7,587.5 165.2,586.5 165.7,587.2 166.2,586.6 166.7,588.3 167.2,588.2 167.7,587.2 168.2,588.2 168.7,588.6 169.2,588.5 169.7,588.3 170.2,585.2 170.7,589.5 171.2,589.2 171.7,589.1 172.2,588.4 172.7,588.5 173.2,588.2 173.7,588.6 174.2,588.6 174.7,587.9 175.2,589.3 175.7,588.1 176.2,586.5 176.7,588.0 177.2,586.4 177.7,587.6 178.2,588.0 178.7,588.7 179.2,587.8 179.7,588.9 180.2,587.8 180.7,588.0 181.2,587.5 181.7,587.9 182.2,588.2 182.7,588.0 183.2,588.4 183.7,587.5 184.2,587.9 184.7,588.8 185.2,587.7 185.7,587.8 186.2,587.4 186.7,588.0 187.2,589.7 187.7,588.9 188.2,587.7 188.7,587.6 189.2,588.2 189.7,588.9 190.2,588.8 190.7,589.0 191.2,586.5 191.7,589.1 192.2,588.1 192.7,588.7 193.2,589.0 193.7,588.3 194.2,588.1 194.7,588.0 195.2,587.8 195.7,588.2 196.2,588.3 196.7,587.8 197.2,587.4 197.7,588.6 198.2,588.7 198.7,587.9 199.2,588.0 199.7,586.8 200.2,588.3 200.7,587.7 201.2,589.5 201.7,587.7 202.2,587.3 202.7,588.1 203.2,587.7 203.7,588.2 204.2,588.2 204.7,588.0 205.2,586.7 205.7,587.1 206.2,588.3 206.7,589.0 207.2,588.9 207.7,588.2 208.2,588.2 208.7,587.3 209.2,588.9 209.7,588.3 210.2,588.1 210.7,588.1 211.2,587.8 211.7,588.3 212.2,587.6 212.7,588.4 213.2,587.8 213.7,587.6 214.2,575.1 214.7,577.1 215.2,575.7 215.7,576.1 216.2,576.7 216.7,577.0 217.2,576.2 217.7,576.2 218.2,576.5 218.7,575.4 219.2,575.9 219.7,576.3 220.2,576.9 220.7,575.7 221.2,575.7 221.7,576.7 222.2,576.5 222.7,575.7 223.2,576.0 223.7,575.4 224.2,573.1 224.7,574.4 225.2,576.9 225.7,576.0 226.2,576.0 226.7,576.8 227.2,573.9 227.7,575.8 228.2,577.6 228.7,575.6 229.2,575.9 229.7,576.9 230.2,575.9 230.7,573.7 231.2,576.5 231.7,576.7 232.2,576.9 232.7,575.4 233.2,576.4 233.7,576.2 234.2,576.0 234.7,576.9 235.2,576.0 235.7,574.7 236.2,575.9 236.7,575.1 237.2,575.7 237.7,576.8 238.2,576.7 238.7,576.1 239.2,576.5 239.7,576.1 240.2,576.6 240.7,575.1 241.2,576.3 241.7,575.7 242.2,574.4 242.7,576.4 243.2,573.7 243.7,576.2 244.2,576.9 244.7,576.4 245.2,577.3 245.7,577.2 246.2,576.4 246.7,575.6 247.2,575.9 247.7,576.2 248.2,575.6 248.7,575.3 249.2,576.5 249.7,576.5 250.2,576.2 250.7,577.5 251.2,575.5 251.7,577.0 252.2,574.6 252.7,575.1 253.2,576.6 253.7,576.5 254.2,577.6 254.7,575.7 255.2,575.9 255.7,576.7 256.2,575.6 256.7,576.5 257.2,576.2 257.7,575.9 258.2,576.9 258.7,577.2 259.2,575.6 259.7,576.7 260.2,575.8 260.7,576.0 261.2,575.9 261.7,574.7 262.2,577.0 262.7,577.0 263.2,576.0 263.7,577.3 264.2,576.9 264.7,577.0 265.2,574.7 265.7,576.3 266.2,576.7 266.7,575.8 267.2,578.0 267.7,576.0 268.2,577.0 268.7,576.6 269.2,576.9 269.7,575.8 270.2,576.6 270.7,574.6 271.2,575.7 271.7,576.1 272.2,576.6 272.7,575.4 273.2,576.3 273.7,576.7 274.2,575.3 274.7,575.0 275.2,576.4 275.7,575.2 276.2,574.8 276.7,574.6 277.2,575.5 277.7,576.1 278.2,575.5 278.7,576.5 279.2,576.2 279.7,587.1 280.2,588.8 280.7,587.5 281.2,587.0 281.7,587.2 282.2,588.0 282.7,588.3 283.2,587.5 283.7,587.0 284.2,589.2 284.7,588.7 285.2,586.7 285.7,589.5 286.2,587.2 286.7,589.2 287.2,588.1 287.7,587.0 288.2,587.8 288.7,587.8 289.2,588.8 289.7,588.6 290.2,588.0 290.7,587.9 291.2,588.5 291.7,577.2 292.2,576.7 292.7,576.2 293.2,577.0 293.7,575.8 294.2,578.0 294.7,577.2 295.2,589.7 295.7,588.3 296.2,585.9 296.7,577.9 297.2,576.1 297.7,577.2 298.2,576.6 298.7,576.9 299.2,577.8 299.7,588.2 300.2,588.6 300.7,588.6 301.2,586.4 301.7,588.7 302.2,587.8 302.7,587.7 303.2,588.4 303.7,586.4 304.2,588.6 304.7,587.7 305.2,588.0 305.7,588.2 306.2,588.8 306.7,587.9 307.2,588.0 307.7,587.3 308.2,589.1 308.7,584.6 309.2,588.2 309.7,588.7 310.2,587.8 310.7,588.2 311.2,589.0 311.7,588.0 312.2,588.0 312.7,588.8 313.2,588.9 313.7,586.8 314.2,588.7 314.7,588.3 315.2,573.3 315.7,575.3 316.2,574.9 316.7,577.5 317.2,577.5 317.7,576.1 318.2,576.2 318.7,576.4 319.2,576.0 319.7,575.4 320.2,576.2 320.7,576.4 321.2,576.9 321.7,576.3 322.2,576.3 322.7,575.5 323.2,576.4 323.7,576.5 324.2,577.5 324.7,575.4 325.2,575.9 325.7,575.9 326.2,575.8 326.7,577.4 327.2,576.3 327.7,577.0 328.2,576.3 328.7,588.8 329.2,588.1 329.7,587.5 330.2,588.4 330.7,587.1 331.2,589.0 331.7,588.0 332.2,588.5 332.7,588.4 333.2,587.5 333.7,588.7 334.2,588.7 334.7,576.7 335.2,575.0 335.7,575.7 336.2,575.8 336.7,575.9 337.2,575.0 337.7,575.2 338.2,574.9 338.7,575.8 339.2,575.3 339.7,574.6 340.2,574.9 340.7,575.2 341.2,575.5 341.7,574.1 342.2,573.6 342.7,575.2 343.2,576.3 343.7,575.9 344.2,574.9 344.7,575.6 345.2,573.8 345.7,576.0 346.2,574.2 346.7,575.2 347.2,575.7 347.7,575.8 348.2,574.6 348.7,575.9 349.2,574.1 349.7,573.5 350.2,575.0 350.7,574.7 351.2,573.4 351.7,574.6 352.2,575.7 352.7,575.3 353.2,575.1 353.7,576.1 354.2,573.9 354.7,575.9 355.2,573.1 355.7,575.9 356.2,588.5 356.7,589.0 357.2,587.0 357.7,587.2 358.2,587.5 358.7,587.8 359.2,586.8 359.7,587.6 360.2,587.7 360.7,588.0 361.2,586.9 361.7,588.5 362.2,588.5 362.7,587.5 363.2,588.2 363.7,586.7 364.2,587.8 364.7,588.5 365.2,588.0 365.7,588.4 366.2,588.1 366.7,587.8 367.2,588.3 367.7,587.3 368.2,588.6 368.7,587.3 369.2,588.5 369.7,588.1 370.2,587.4 370.7,588.9 371.2,588.1 371.7,588.6 372.2,588.1 372.7,585.7 373.2,587.5 373.7,587.9 374.2,587.6 374.7,586.4 375.2,589.0 375.7,589.0 376.2,587.8 376.7,589.1 377.2,587.3 377.7,588.1 378.2,586.2 378.7,587.7 379.2,587.1 379.7,587.8 380.2,587.3 380.7,587.9 381.2,586.6 381.7,586.1 382.2,586.7 382.7,589.2 383.2,588.3 383.7,588.3 384.2,586.7 384.7,587.5 385.2,586.6 385.7,587.8 386.2,588.6 386.7,587.9 387.2,587.4 387.7,588.0 388.2,588.3 388.7,588.9 389.2,587.8 389.7,586.8 390.2,587.8 390.7,588.1 391.2,587.4 391.7,587.0 391.7,592.6 391.2,591.7 390.7,592.2 390.2,593.8 389.7,591.9 389.2,592.0 388.7,593.6 388.2,593.3 387.7,592.2 387.2,592.9 386.7,591.7 386.2,592.4 385.7,591.9 385.2,592.0 384.7,592.8 384.2,593.1 383.7,593.6 383.2,591.8 382.7,594.2 382.2,592.1 381.7,590.5 381.2,592.2 380.7,591.7 380.2,591.8 379.7,593.5 379.2,592.3 378.7,592.4 378.2,591.5 377.7,593.9 377.2,592.2 376.7,593.6 376.2,593.3 375.7,592.9 375.2,593.4 374.7,592.5 374.2,591.8 373.7,591.9 373.2,593.6 372.7,592.9 372.2,592.3 371.7,592.3 371.2,593.0 370.7,592.8 370.2,591.3 369.7,592.6 369.2,592.9 368.7,592.5 368.2,592.7 367.7,592.8 367.2,593.1 366.7,591.6 366.2,593.4 365.7,593.1 365.2,592.6 364.7,593.4 364.2,592.9 363.7,590.9 363.2,592.6 362.7,592.3 362.2,593.1 361.7,592.5 361.2,591.5 360.7,592.4 360.2,592.2 359.7,591.9 359.2,591.6 358.7,591.8 358.2,591.7 357.7,591.9 357.2,591.7 356.7,594.2 356.2,593.0 355.7,582.4 355.2,581.2 354.7,582.1 354.2,582.6 353.7,582.9 353.2,581.0 352.7,582.5 352.2,581.4 351.7,581.2 351.2,582.4 350.7,582.1 350.2,581.4 349.7,581.4 349.2,580.4 348.7,581.3 348.2,580.9 347.7,582.4 347.2,581.1 346.7,581.4 346.2,581.7 345.7,583.7 345.2,581.4 344.7,581.3 344.2,581.1 343.7,582.1 343.2,582.7 342.7,581.0 342.2,581.1 341.7,580.7 341.2,582.2 340.7,582.4 340.2,580.7 339.7,581.3 339.2,583.5 338.7,582.1 338.2,580.7 337.7,582.1 337.2,581.3 336.7,583.2 336.2,581.3 335.7,582.6 335.2,581.8 334.7,582.4 334.2,592.7 333.7,593.3 333.2,591.1 332.7,593.5 332.2,593.3 331.7,592.5 331.2,595.5 330.7,593.1 330.2,594.3 329.7,591.8 329.2,593.0 328.7,592.7 328.2,581.5 327.7,582.4 327.2,582.9 326.7,583.1 326.2,582.4 325.7,581.3 325.2,583.2 324.7,581.7 324.2,582.7 323.7,581.5 323.2,582.3 322.7,581.1 322.2,582.0 321.7,582.3 321.2,582.0 320.7,581.9 320.2,583.0 319.7,582.6 319.2,581.5 318.7,582.0 318.2,581.1 317.7,581.7 317.2,582.7 316.7,582.5 316.2,582.5 315.7,581.8 315.2,581.7 314.7,594.5 314.2,592.7 313.7,594.2 313.2,593.0 312.7,593.4 312.2,593.6 311.7,592.7 311.2,594.7 310.7,594.2 310.2,593.0 309.7,592.6 309.2,592.9 308.7,592.4 308.2,594.0 307.7,592.0 307.2,591.7 306.7,593.3 306.2,592.7 305.7,592.4 305.2,591.8 304.7,592.3 304.2,592.4 303.7,591.5 303.2,592.2 302.7,593.2 302.2,591.9 301.7,592.5 301.2,592.7 300.7,592.4 300.2,592.5 299.7,593.0 299.2,583.3 298.7,583.4 298.2,581.3 297.7,582.4 297.2,581.4 296.7,584.6 296.2,592.2 295.7,592.4 295.2,593.4 294.7,582.1 294.2,582.7 293.7,581.5 293.2,581.9 292.7,581.2 292.2,581.3 291.7,582.3 291.2,593.0 290.7,592.1 290.2,593.5 289.7,592.5 289.2,592.7 288.7,592.0 288.2,592.2 287.7,592.2 287.2,594.3 286.7,593.5 286.2,591.3 285.7,593.3 285.2,591.4 284.7,592.3 284.2,593.4 283.7,592.4 283.2,592.3 282.7,592.5 282.2,593.5 281.7,592.3 281.2,592.7 280.7,592.7 280.2,592.6 279.7,591.9 279.2,582.4 278.7,583.0 278.2,583.5 277.7,583.9 277.2,582.5 276.7,581.3 276.2,583.5 275.7,583.1 275.2,582.6 274.7,582.4 274.2,582.5 273.7,582.9 273.2,584.4 272.7,582.4 272.2,582.1 271.7,582.8 271.2,582.4 270.7,581.7 270.2,582.3 269.7,584.6 269.2,582.4 268.7,582.2 268.2,583.4 267.7,582.0 267.2,583.7 266.7,582.2 266.2,583.9 265.7,583.1 265.2,582.9 264.7,583.2 264.2,582.6 263.7,582.7 263.2,583.4 262.7,583.1 262.2,582.3 261.7,581.1 261.2,584.5 260.7,582.0 260.2,582.1 259.7,583.0 259.2,582.1 258.7,582.9 258.2,582.2 257.7,582.4 257.2,581.6 256.7,582.8 256.2,584.3 255.7,582.8 255.2,581.7 254.7,582.3 254.2,583.7 253.7,582.7 253.2,583.0 252.7,582.5 252.2,581.3 251.7,583.8 251.2,584.8 250.7,583.7 250.2,582.6 249.7,583.0 249.2,582.6 248.7,582.2 248.2,581.5 247.7,582.6 247.2,583.0 246.7,582.8 246.2,583.0 245.7,582.5 245.2,583.8 244.7,581.7 244.2,583.0 243.7,582.1 243.2,582.8 242.7,583.6 242.2,582.0 241.7,582.8 241.2,581.9 240.7,582.7 240.2,582.4 239.7,581.7 239.2,582.7 238.7,581.8 238.2,582.4 237.7,582.6 237.2,583.2 236.7,582.1 236.2,582.8 235.7,582.0 235.2,582.5 234.7,583.5 234.2,582.5 233.7,582.1 233.2,582.0 232.7,582.7 232.2,583.4 231.7,581.6 231.2,584.3 230.7,582.7 230.2,582.5 229.7,582.4 229.2,582.7 228.7,582.2 228.2,582.6 227.7,582.7 227.2,583.8 226.7,582.3 226.2,583.5 225.7,582.3 225.2,582.5 224.7,584.0 224.2,581.7 223.7,582.3 223.2,584.1 222.7,582.2 222.2,583.1 221.7,582.6 221.2,582.8 220.7,583.3 220.2,582.2 219.7,582.3 219.2,581.6 218.7,582.1 218.2,583.2 217.7,582.0 217.2,582.2 216.7,582.2 216.2,583.5 215.7,582.2 215.2,581.9 214.7,584.7 214.2,583.0 213.7,592.1 213.2,592.3 212.7,592.4 212.2,592.5 211.7,593.3 211.2,594.0 210.7,592.6 210.2,591.9 209.7,592.2 209.2,593.4 208.7,593.6 208.2,593.4 207.7,593.4 207.2,592.3 206.7,593.7 206.2,592.4 205.7,591.1 205.2,592.9 204.7,592.4 204.2,593.8 203.7,592.1 203.2,592.5 202.7,592.2 202.2,591.9 201.7,592.5 201.2,593.4 200.7,592.0 200.2,592.3 199.7,593.7 199.2,592.7 198.7,592.0 198.2,592.8 197.7,592.6 197.2,592.4 196.7,592.1 196.2,592.7 195.7,593.0 195.2,592.3 194.7,592.3 194.2,592.3 193.7,592.5 193.2,593.5 192.7,592.3 192.2,593.8 191.7,592.9 191.2,591.8 190.7,592.9 190.2,592.6 189.7,593.4 189.2,592.7 188.7,593.7 188.2,592.5 187.7,592.6 187.2,593.6 186.7,592.3 186.2,591.7 185.7,592.9 185.2,591.6 184.7,593.0 184.2,592.2 183.7,592.7 183.2,593.2 182.7,592.8 182.2,593.4 181.7,593.1 181.2,593.0 180.7,592.7 180.2,592.9 179.7,593.5 179.2,593.0 178.7,592.9 178.2,592.8 177.7,592.6 177.2,591.5 176.7,592.1 176.2,591.7 175.7,592.2 175.2,593.7 174.7,592.3 174.2,593.1 173.7,592.2 173.2,592.4 172.7,592.9 172.2,592.8 171.7,593.7 171.2,593.5 170.7,593.2 170.2,592.4 169.7,592.7 169.2,593.3 168.7,592.8 168.2,592.3 167.7,593.3 167.2,592.8 166.7,592.7 166.2,591.3 165.7,591.7 165.2,592.1 164.7,592.7 164.2,591.7 163.7,591.9 163.2,592.1 162.7,594.3 162.2,591.9 161.7,592.9 161.2,591.9 160.7,592.5 160.2,593.0" fill="#d01f6e" stroke="#d01f6e" stroke-width="0.3" opacity="0.7"/>
<polygon points="160.2,588.1 160.7,589.4 161.2,588.6 161.7,589.7 162.2,588.9 162.7,590.4 163.2,588.7 163.7,588.3 164.2,588.2 164.7,588.5 165.2,587.6 165.7,588.1 166.2,587.5 166.7,589.2 167.2,589.1 167.7,588.4 168.2,589.0 168.7,589.4 169.2,589.5 169.7,589.2 170.2,586.6 170.7,590.2 171.2,590.1 171.7,590.0 172.2,589.3 172.7,589.4 173.2,589.0 173.7,589.3 174.2,589.5 174.7,588.8 175.2,590.1 175.7,588.9 176.2,587.5 176.7,588.8 177.2,587.4 177.7,588.6 178.2,588.9 178.7,589.5 179.2,588.8 179.7,589.8 180.2,588.8 180.7,589.0 181.2,588.6 181.7,589.0 182.2,589.3 182.7,588.9 183.2,589.3 183.7,588.5 184.2,588.7 184.7,589.7 185.2,588.5 185.7,588.8 186.2,588.3 186.7,588.8 187.2,590.5 187.7,589.7 188.2,588.7 188.7,588.8 189.2,589.1 189.7,589.8 190.2,589.5 190.7,589.8 191.2,587.5 191.7,589.9 192.2,589.3 192.7,589.4 193.2,589.9 193.7,589.1 194.2,588.9 194.7,588.9 195.2,588.7 195.7,589.2 196.2,589.2 196.7,588.7 197.2,588.4 197.7,589.4 198.2,589.5 198.7,588.7 199.2,589.0 199.7,588.2 200.2,589.1 200.7,588.6 201.2,590.3 201.7,588.6 202.2,588.2 202.7,588.9 203.2,588.6 203.7,589.0 204.2,589.3 204.7,588.9 205.2,587.9 205.7,587.9 206.2,589.1 206.7,590.0 207.2,589.6 207.7,589.3 208.2,589.2 208.7,588.6 209.2,589.8 209.7,589.1 210.2,588.9 210.7,589.0 211.2,589.0 211.7,589.3 212.2,588.5 212.7,589.2 213.2,588.7 213.7,588.5 214.2,576.6 214.7,578.6 215.2,576.9 215.7,577.3 216.2,578.1 216.7,578.1 217.2,577.4 217.7,577.3 218.2,577.9 218.7,576.7 219.2,577.1 219.7,577.5 220.2,578.0 220.7,577.2 221.2,577.1 221.7,577.9 222.2,577.8 222.7,577.0 223.2,577.6 223.7,576.8 224.2,574.8 224.7,576.3 225.2,578.0 225.7,577.3 226.2,577.5 226.7,577.9 227.2,575.9 227.7,577.2 228.2,578.6 228.7,576.9 229.2,577.3 229.7,578.0 230.2,577.2 230.7,575.5 231.2,578.1 231.7,577.7 232.2,578.2 232.7,576.9 233.2,577.5 233.7,577.4 234.2,577.3 234.7,578.2 235.2,577.3 235.7,576.1 236.2,577.3 236.7,576.5 237.2,577.2 237.7,578.0 238.2,577.8 238.7,577.3 239.2,577.7 239.7,577.2 240.2,577.8 240.7,576.6 241.2,577.4 241.7,577.2 242.2,575.9 242.7,577.8 243.2,575.5 243.7,577.4 244.2,578.1 244.7,577.4 245.2,578.6 245.7,578.2 246.2,577.7 246.7,577.0 247.2,577.3 247.7,577.5 248.2,576.8 248.7,576.7 249.2,577.8 249.7,577.8 250.2,577.5 250.7,578.8 251.2,577.4 251.7,578.4 252.2,576.0 252.7,576.6 253.2,577.9 253.7,577.7 254.2,578.8 254.7,577.0 255.2,577.1 255.7,577.9 256.2,577.4 256.7,577.7 257.2,577.3 257.7,577.2 258.2,578.0 258.7,578.3 259.2,576.9 259.7,578.0 260.2,577.0 260.7,577.2 261.2,577.6 261.7,576.0 262.2,578.1 262.7,578.2 263.2,577.5 263.7,578.4 264.2,578.0 264.7,578.2 265.2,576.3 265.7,577.7 266.2,578.1 266.7,577.1 267.2,579.2 267.7,577.2 268.2,578.3 268.7,577.7 269.2,578.0 269.7,577.6 270.2,577.7 270.7,576.0 271.2,577.0 271.7,577.5 272.2,577.7 272.7,576.8 273.2,577.9 273.7,578.0 274.2,576.8 274.7,576.4 275.2,577.6 275.7,576.8 276.2,576.6 276.7,575.9 277.2,576.9 277.7,577.6 278.2,577.1 278.7,577.8 279.2,577.5 279.7,588.1 280.2,589.5 280.7,588.5 281.2,588.1 281.7,588.2 282.2,589.1 282.7,589.1 283.2,588.5 283.7,588.0 284.2,590.0 284.7,589.4 285.2,587.6 285.7,590.3 286.2,588.0 286.7,590.0 287.2,589.4 287.7,588.1 288.2,588.7 288.7,588.6 289.2,589.6 289.7,589.4 290.2,589.1 290.7,588.8 291.2,589.4 291.7,578.2 292.2,577.6 292.7,577.2 293.2,578.0 293.7,576.9 294.2,578.9 294.7,578.2 295.2,590.5 295.7,589.1 296.2,587.1 296.7,579.2 297.2,577.2 297.7,578.2 298.2,577.6 298.7,578.2 299.2,578.9 299.7,589.2 300.2,589.4 300.7,589.4 301.2,587.6 301.7,589.4 302.2,588.7 302.7,588.8 303.2,589.2 303.7,587.4 304.2,589.4 304.7,588.7 305.2,588.7 305.7,589.0 306.2,589.6 306.7,589.0 307.2,588.7 307.7,588.2 308.2,590.1 308.7,586.2 309.2,589.2 309.7,589.5 310.2,588.8 310.7,589.4 311.2,590.1 311.7,588.9 312.2,589.1 312.7,589.7 313.2,589.7 313.7,588.3 314.2,589.5 314.7,589.5 315.2,575.0 315.7,576.6 316.2,576.4 316.7,578.5 317.2,578.5 317.7,577.2 318.2,577.2 318.7,577.5 319.2,577.1 319.7,576.9 320.2,577.6 320.7,577.5 321.2,577.9 321.7,577.5 322.2,577.4 322.7,576.6 323.2,577.5 323.7,577.5 324.2,578.5 324.7,576.7 325.2,577.3 325.7,577.0 326.2,577.1 326.7,578.5 327.2,577.7 327.7,578.0 328.2,577.3 328.7,589.6 329.2,589.1 329.7,588.3 330.2,589.6 330.7,588.3 331.2,590.3 331.7,588.9 332.2,589.4 332.7,589.4 333.2,588.2 333.7,589.6 334.2,589.5 334.7,577.8 335.2,576.3 335.7,577.1 336.2,576.9 336.7,577.4 337.2,576.2 337.7,576.6 338.2,576.0 338.7,577.1 339.2,577.0 339.7,575.9 340.2,576.0 340.7,576.7 341.2,576.9 341.7,575.4 342.2,575.1 342.7,576.4 343.2,577.6 343.7,577.1 344.2,576.1 344.7,576.8 345.2,575.3 345.7,577.6 346.2,575.7 346.7,576.5 347.2,576.8 347.7,577.2 348.2,575.8 348.7,577.0 349.2,575.3 349.7,575.1 350.2,576.3 350.7,576.2 351.2,575.2 351.7,576.0 352.2,576.8 352.7,576.7 353.2,576.3 353.7,577.5 354.2,575.6 354.7,577.2 355.2,574.7 355.7,577.2 356.2,589.4 356.7,590.1 357.2,587.9 357.7,588.2 358.2,588.3 358.7,588.6 359.2,587.8 359.7,588.5 360.2,588.6 360.7,588.9 361.2,587.8 361.7,589.3 362.2,589.4 362.7,588.5 363.2,589.1 363.7,587.6 364.2,588.8 364.7,589.5 365.2,588.9 365.7,589.3 366.2,589.1 366.7,588.6 367.2,589.3 367.7,588.4 368.2,589.4 368.7,588.3 369.2,589.4 369.7,589.0 370.2,588.2 370.7,589.7 371.2,589.1 371.7,589.4 372.2,588.9 372.7,587.2 373.2,588.7 373.7,588.7 374.2,588.4 374.7,587.6 375.2,589.9 375.7,589.8 376.2,588.9 376.7,590.0 377.2,588.2 377.7,589.3 378.2,587.2 378.7,588.7 379.2,588.2 379.7,588.9 380.2,588.2 380.7,588.7 381.2,587.7 381.7,587.0 382.2,587.8 382.7,590.2 383.2,589.0 383.7,589.4 384.2,588.0 384.7,588.6 385.2,587.7 385.7,588.6 386.2,589.4 386.7,588.7 387.2,588.5 387.7,588.8 388.2,589.3 388.7,589.8 389.2,588.6 389.7,587.9 390.2,589.0 390.7,588.9 391.2,588.3 391.7,588.1 391.7,591.5 391.2,590.9 390.7,591.4 390.2,592.6 389.7,590.9 389.2,591.1 388.7,592.7 388.2,592.3 387.7,591.3 387.2,591.8 386.7,591.0 386.2,591.6 385.7,591.1 385.2,590.9 384.7,591.7 384.2,591.9 383.7,592.5 383.2,591.1 382.7,593.2 382.2,591.0 381.7,589.6 381.2,591.1 380.7,591.0 380.2,590.9 379.7,592.4 379.2,591.2 378.7,591.5 378.2,590.5 377.7,592.7 377.2,591.2 376.7,592.7 376.2,592.2 375.7,592.1 375.2,592.5 374.7,591.3 374.2,591.0 373.7,591.1 373.2,592.4 372.7,591.5 372.2,591.5 371.7,591.6 371.2,592.0 370.7,592.0 370.2,590.5 369.7,591.7 369.2,592.0 368.7,591.5 368.2,591.9 367.7,591.7 367.2,592.2 366.7,590.9 366.2,592.3 365.7,592.2 365.2,591.7 364.7,592.4 364.2,591.9 363.7,590.1 363.2,591.7 362.7,591.3 362.2,592.2 361.7,591.7 361.2,590.6 360.7,591.5 360.2,591.3 359.7,591.0 359.2,590.7 358.7,591.0 358.2,590.8 357.7,591.0 357.2,590.7 356.7,593.2 356.2,592.1 355.7,581.1 355.2,579.6 354.7,580.9 354.2,580.8 353.7,581.6 353.2,579.8 352.7,581.1 352.2,580.2 351.7,579.9 351.2,580.6 350.7,580.7 350.2,580.1 349.7,579.9 349.2,579.1 348.7,580.2 348.2,579.6 347.7,581.1 347.2,580.0 346.7,580.2 346.2,580.2 345.7,582.1 345.2,579.9 344.7,580.1 344.2,579.8 343.7,580.9 343.2,581.4 342.7,579.9 342.2,579.6 341.7,579.4 341.2,580.9 340.7,581.0 340.2,579.5 339.7,579.9 339.2,581.9 338.7,580.8 338.2,579.5 337.7,580.7 337.2,580.1 336.7,581.8 336.2,580.2 335.7,581.2 335.2,580.4 334.7,581.3 334.2,591.9 333.7,592.4 333.2,590.4 332.7,592.5 332.2,592.3 331.7,591.6 331.2,594.2 330.7,591.9 330.2,593.1 329.7,590.9 329.2,592.0 328.7,591.9 328.2,580.4 327.7,581.3 327.2,581.6 326.7,581.9 326.2,581.0 325.7,580.3 325.2,581.7 324.7,580.4 324.2,581.7 323.7,580.5 323.2,581.1 322.7,579.9 322.2,580.9 321.7,581.1 321.2,581.0 320.7,580.8 320.2,581.7 319.7,581.2 319.2,580.4 318.7,580.9 318.2,580.1 317.7,580.6 317.2,581.6 316.7,581.5 316.2,581.0 315.7,580.5 315.2,580.0 314.7,593.3 314.2,591.9 313.7,592.7 313.2,592.2 312.7,592.4 312.2,592.5 311.7,591.8 311.2,593.6 310.7,593.0 310.2,591.9 309.7,591.8 309.2,592.0 308.7,590.9 308.2,593.0 307.7,591.0 307.2,591.0 306.7,592.3 306.2,591.9 305.7,591.6 305.2,591.1 304.7,591.4 304.2,591.7 303.7,590.5 303.2,591.5 302.7,592.1 302.2,591.1 301.7,591.8 301.2,591.5 300.7,591.7 300.2,591.7 299.7,592.1 299.2,582.2 298.7,582.1 298.2,580.3 297.7,581.3 297.2,580.3 296.7,583.2 296.2,590.9 295.7,591.6 295.2,592.7 294.7,581.1 294.2,581.7 293.7,580.4 293.2,580.9 292.7,580.2 292.2,580.3 291.7,581.3 291.2,592.1 290.7,591.3 290.2,592.4 289.7,591.7 289.2,592.0 288.7,591.2 288.2,591.3 287.7,591.2 287.2,593.1 286.7,592.6 286.2,590.5 285.7,592.6 285.2,590.4 284.7,591.6 284.2,592.5 283.7,591.3 283.2,591.4 282.7,591.6 282.2,592.4 281.7,591.3 281.2,591.5 280.7,591.6 280.2,591.8 279.7,590.9 279.2,581.2 278.7,581.7 278.2,581.9 277.7,582.3 277.2,581.1 276.7,580.0 276.2,581.8 275.7,581.5 275.2,581.4 274.7,580.9 274.2,581.0 273.7,581.7 273.2,582.8 272.7,581.0 272.2,581.0 271.7,581.5 271.2,581.0 270.7,580.3 270.2,581.2 269.7,582.9 269.2,581.3 268.7,581.1 268.2,582.2 267.7,580.8 267.2,582.6 266.7,580.9 266.2,582.4 265.7,581.8 265.2,581.3 264.7,581.9 264.2,581.4 263.7,581.6 263.2,582.0 262.7,581.9 262.2,581.3 261.7,579.8 261.2,582.8 260.7,580.8 260.2,580.8 259.7,581.7 259.2,580.8 258.7,581.7 258.2,581.2 257.7,581.1 257.2,580.5 256.7,581.5 256.2,582.6 255.7,581.6 255.2,580.6 254.7,580.9 254.2,582.4 253.7,581.5 253.2,581.7 252.7,581.0 252.2,579.9 251.7,582.5 251.2,582.9 250.7,582.5 250.2,581.3 249.7,581.7 249.2,581.4 248.7,580.8 248.2,580.3 247.7,581.3 247.2,581.6 246.7,581.4 246.2,581.6 245.7,581.4 245.2,582.5 244.7,580.6 244.2,581.8 243.7,581.0 243.2,581.0 242.7,582.2 242.2,580.5 241.7,581.4 241.2,580.7 240.7,581.2 240.2,581.3 239.7,580.6 239.2,581.4 238.7,580.7 238.2,581.3 237.7,581.5 237.2,581.7 236.7,580.7 236.2,581.4 235.7,580.6 235.2,581.2 234.7,582.2 234.2,581.2 233.7,580.9 233.2,580.9 232.7,581.2 232.2,582.1 231.7,580.7 231.2,582.7 230.7,580.9 230.2,581.2 229.7,581.3 229.2,581.4 228.7,580.9 228.2,581.6 227.7,581.3 227.2,581.8 226.7,581.2 226.2,582.0 225.7,581.0 225.2,581.4 224.7,582.1 224.2,580.0 223.7,580.9 223.2,582.5 222.7,580.9 222.2,581.8 221.7,581.4 221.2,581.4 220.7,581.8 220.2,581.1 219.7,581.1 219.2,580.5 218.7,580.8 218.2,581.9 217.7,580.8 217.2,581.0 216.7,581.1 216.2,582.1 215.7,581.0 215.2,580.6 214.7,583.2 214.2,581.4 213.7,591.2 213.2,591.4 212.7,591.6 212.2,591.5 211.7,592.3 211.2,592.8 210.7,591.7 210.2,591.1 209.7,591.4 209.2,592.5 208.7,592.3 208.2,592.4 207.7,592.4 207.2,591.7 206.7,592.7 206.2,591.6 205.7,590.3 205.2,591.7 204.7,591.5 204.2,592.7 203.7,591.3 203.2,591.6 202.7,591.4 202.2,591.0 201.7,591.5 201.2,592.7 200.7,591.2 200.2,591.5 199.7,592.4 199.2,591.8 198.7,591.2 198.2,591.9 197.7,591.8 197.2,591.4 196.7,591.3 196.2,591.8 195.7,592.1 195.2,591.4 194.7,591.4 194.2,591.5 193.7,591.6 193.2,592.6 192.7,591.6 192.2,592.7 191.7,592.2 191.2,590.8 190.7,592.1 190.2,591.8 189.7,592.5 189.2,591.8 188.7,592.5 188.2,591.5 187.7,591.8 187.2,592.8 186.7,591.4 186.2,590.8 185.7,591.9 185.2,590.9 184.7,592.2 184.2,591.4 183.7,591.7 183.2,592.3 182.7,591.8 182.2,592.3 181.7,592.1 181.2,591.9 180.7,591.8 180.2,591.9 179.7,592.6 179.2,591.9 178.7,592.1 178.2,591.8 177.7,591.6 177.2,590.5 176.7,591.3 176.2,590.7 175.7,591.3 175.2,592.8 174.7,591.4 174.2,592.2 173.7,591.5 173.2,591.5 172.7,592.0 172.2,591.9 171.7,592.8 171.2,592.7 170.7,592.4 170.2,591.0 169.7,591.8 169.2,592.4 168.7,592.0 168.2,591.5 167.7,592.0 167.2,591.9 166.7,591.8 166.2,590.4 165.7,590.8 165.2,591.0 164.7,591.6 164.2,590.8 163.7,591.0 163.2,591.2 162.7,593.3 162.2,591.2 161.7,592.1 161.2,591.1 160.7,591.8 160.2,591.8" fill="#d01f6e" stroke="#d01f6e" stroke-width="0.3"/>
<rect x="159.6" y="562.4" width="232.8" height="37.3" fill="none" stroke="#6a6a6a" stroke-width="1.2" />
<line x1="160.1" y1="570.8" x2="162.4" y2="570.8" stroke="#333" stroke-width="0.9" />
<line x1="160.1" y1="590" x2="162.4" y2="590" stroke="#333" stroke-width="0.9" />
<line x1="160.1" y1="580.4" x2="161.4" y2="580.4" stroke="#333" stroke-width="0.9" />
<text x="155.6" y="573.9" font-size="8.5" text-anchor="end" font-weight="normal" fill="#1a1a1a" stroke="#1a1a1a" stroke-width="0.1" >300</text>
<text x="155.6" y="593.1" font-size="8.5" text-anchor="end" font-weight="normal" fill="#1a1a1a" stroke="#1a1a1a" stroke-width="0.1" >0</text>
<line x1="198.4" y1="599.2" x2="198.4" y2="598.1" stroke="#333" stroke-width="0.9" />
<line x1="237.2" y1="599.2" x2="237.2" y2="597.1" stroke="#333" stroke-width="0.9" />
<line x1="276" y1="599.2" x2="276" y2="598.1" stroke="#333" stroke-width="0.9" />
<line x1="314.8" y1="599.2" x2="314.8" y2="597.1" stroke="#333" stroke-width="0.9" />
<line x1="353.6" y1="599.2" x2="353.6" y2="598.1" stroke="#333" stroke-width="0.9" />
<text x="159.6" y="608.7" font-size="8.6" text-anchor="middle" font-weight="normal" fill="#1a1a1a" stroke="#1a1a1a" stroke-width="0.1" >270</text>
<text x="237.2" y="608.7" font-size="8.6" text-anchor="middle" font-weight="normal" fill="#1a1a1a" stroke="#1a1a1a" stroke-width="0.1" >290</text>
<text x="314.8" y="608.7" font-size="8.6" text-anchor="middle" font-weight="normal" fill="#1a1a1a" stroke="#1a1a1a" stroke-width="0.1" >310</text>
<text x="392.4" y="608.7" font-size="8.6" text-anchor="middle" font-weight="normal" fill="#1a1a1a" stroke="#1a1a1a" stroke-width="0.1" >330</text>
<path d="M396.2,584.5 L396.5,584.5 L396.6,584.8 L396.7,585.2 L396.9,585.5 L397.2,585.9 L397.5,586.2 L398.1,586.6 L398.8,586.9 L399.9,587.2 L401.3,587.6 L403.1,587.9 L405.2,588.3 L407.4,588.6 L409.6,589.0 L411.5,589.3 L412.8,589.7 L413.2,590.0 L412.8,590.3 L411.5,590.7 L409.6,591.0 L407.4,591.4 L405.2,591.7 L403.1,592.1 L401.3,592.4 L399.9,592.8 L398.8,593.1 L398.1,593.4 L397.5,593.8 L397.2,594.1 L396.9,594.5 L396.7,594.8 L396.6,595.2 L396.5,595.5 L396.2,595.5 Z" fill="#b4b4b4"/>
<path d="M396.2,573.5 L396.5,573.5 L396.6,573.9 L396.8,574.4 L397.1,574.8 L397.4,575.2 L397.8,575.7 L398.3,576.1 L399.0,576.6 L399.8,577.0 L400.7,577.4 L401.8,577.9 L402.8,578.3 L403.9,578.8 L404.8,579.2 L405.6,579.6 L406.0,580.1 L406.2,580.5 L406.0,580.9 L405.6,581.4 L404.8,581.8 L403.9,582.2 L402.8,582.7 L401.8,583.1 L400.7,583.6 L399.8,584.0 L399.0,584.4 L398.3,584.9 L397.8,585.3 L397.4,585.8 L397.1,586.2 L396.8,586.6 L396.6,587.1 L396.5,587.5 L396.2,587.5 Z" fill="#cc3aa8"/>
<line x1="201.8" y1="638" x2="201.8" y2="628.5" stroke="#e486b2" stroke-width="0.6" />
<line x1="237.5" y1="627.8" x2="237.5" y2="623.6" stroke="#e486b2" stroke-width="0.6" />
<line x1="273.6" y1="638" x2="273.6" y2="630.5" stroke="#e486b2" stroke-width="0.6" />
<line x1="271.3" y1="638" x2="271.3" y2="630.9" stroke="#e486b2" stroke-width="0.6" />
<line x1="221.2" y1="638" x2="221.2" y2="633.2" stroke="#e486b2" stroke-width="0.6" />
<line x1="320.7" y1="620.4" x2="320.7" y2="614.8" stroke="#e486b2" stroke-width="0.6" />
<line x1="316.7" y1="620.4" x2="316.7" y2="613.4" stroke="#e486b2" stroke-width="0.6" />
<line x1="361.2" y1="621.7" x2="361.2" y2="613.4" stroke="#e486b2" stroke-width="0.6" />
<line x1="214.2" y1="638" x2="214.2" y2="633.4" stroke="#e486b2" stroke-width="0.6" />
<line x1="330.7" y1="621" x2="330.7" y2="613.4" stroke="#e486b2" stroke-width="0.6" />
<line x1="206.6" y1="631.6" x2="206.6" y2="622" stroke="#e486b2" stroke-width="0.6" />
<line x1="362.9" y1="621.7" x2="362.9" y2="613.4" stroke="#e486b2" stroke-width="0.6" />
<line x1="209.9" y1="638" x2="209.9" y2="632.7" stroke="#e486b2" stroke-width="0.6" />
<line x1="161.2" y1="638" x2="161.2" y2="624.9" stroke="#e486b2" stroke-width="0.6" />
<line x1="210.9" y1="638" x2="210.9" y2="627.8" stroke="#e486b2" stroke-width="0.6" />
<line x1="284.8" y1="618.8" x2="284.8" y2="613.4" stroke="#e486b2" stroke-width="0.6" />
<line x1="282.2" y1="616.2" x2="282.2" y2="613.4" stroke="#e486b2" stroke-width="0.6" />
<line x1="299.3" y1="618.8" x2="299.3" y2="613.5" stroke="#e486b2" stroke-width="0.6" />
<line x1="186.3" y1="631.6" x2="186.3" y2="624.3" stroke="#e486b2" stroke-width="0.6" />
<line x1="374.5" y1="621.7" x2="374.5" y2="618.2" stroke="#e486b2" stroke-width="0.6" />
<line x1="318.8" y1="620.4" x2="318.8" y2="613.4" stroke="#e486b2" stroke-width="0.6" />
<line x1="196.9" y1="638" x2="196.9" y2="633.8" stroke="#e486b2" stroke-width="0.6" />
<line x1="319.4" y1="620.4" x2="319.4" y2="613.5" stroke="#e486b2" stroke-width="0.6" />
<line x1="254.4" y1="626.2" x2="254.4" y2="618.8" stroke="#e486b2" stroke-width="0.6" />
<line x1="183.2" y1="631.6" x2="183.2" y2="621.6" stroke="#e486b2" stroke-width="0.6" />
<line x1="296.6" y1="618.8" x2="296.6" y2="613.4" stroke="#e486b2" stroke-width="0.6" />
<line x1="238.7" y1="627.8" x2="238.7" y2="616.6" stroke="#e486b2" stroke-width="0.6" />
<line x1="351.4" y1="621.7" x2="351.4" y2="613.6" stroke="#e486b2" stroke-width="0.6" />
<line x1="180.2" y1="638" x2="180.2" y2="634.5" stroke="#e486b2" stroke-width="0.6" />
<line x1="195" y1="638" x2="195" y2="635.3" stroke="#e486b2" stroke-width="0.6" />
<line x1="310.5" y1="620.4" x2="310.5" y2="613.4" stroke="#e486b2" stroke-width="0.6" />
<line x1="207.1" y1="631.6" x2="207.1" y2="619.3" stroke="#e486b2" stroke-width="0.6" />
<line x1="306.2" y1="620.4" x2="306.2" y2="613.4" stroke="#e486b2" stroke-width="0.6" />
<line x1="350" y1="621.7" x2="350" y2="613.4" stroke="#e486b2" stroke-width="0.6" />
<line x1="282.2" y1="616.2" x2="282.2" y2="613.4" stroke="#e486b2" stroke-width="0.6" />
<line x1="190.5" y1="638" x2="190.5" y2="628.2" stroke="#e486b2" stroke-width="0.6" />
<line x1="365.5" y1="621.7" x2="365.5" y2="614.3" stroke="#e486b2" stroke-width="0.6" />
<line x1="349.8" y1="621.7" x2="349.8" y2="617.8" stroke="#e486b2" stroke-width="0.6" />
<line x1="256.5" y1="638" x2="256.5" y2="633" stroke="#e486b2" stroke-width="0.6" />
<line x1="252" y1="626.2" x2="252" y2="616.2" stroke="#e486b2" stroke-width="0.6" />
<line x1="193" y1="638" x2="193" y2="632.3" stroke="#e486b2" stroke-width="0.6" />
<line x1="356.6" y1="621.7" x2="356.6" y2="616.4" stroke="#e486b2" stroke-width="0.6" />
<line x1="188.9" y1="638" x2="188.9" y2="624.7" stroke="#e486b2" stroke-width="0.6" />
<line x1="285.6" y1="618.8" x2="285.6" y2="616.8" stroke="#e486b2" stroke-width="0.6" />
<line x1="292.6" y1="618.8" x2="292.6" y2="615.3" stroke="#e486b2" stroke-width="0.6" />
<line x1="197.5" y1="638" x2="197.5" y2="627.6" stroke="#e486b2" stroke-width="0.6" />
<line x1="311.4" y1="620.4" x2="311.4" y2="613.6" stroke="#e486b2" stroke-width="0.6" />
<line x1="279.4" y1="616.2" x2="279.4" y2="613.4" stroke="#e486b2" stroke-width="0.6" />
<line x1="266.4" y1="638" x2="266.4" y2="635" stroke="#e486b2" stroke-width="0.6" />
<line x1="338.5" y1="621" x2="338.5" y2="613.4" stroke="#e486b2" stroke-width="0.6" />
<line x1="257.8" y1="638" x2="257.8" y2="631.5" stroke="#e486b2" stroke-width="0.6" />
<line x1="301.7" y1="620.4" x2="301.7" y2="613.4" stroke="#e486b2" stroke-width="0.6" />
<line x1="256.3" y1="638" x2="256.3" y2="626.1" stroke="#e486b2" stroke-width="0.6" />
<line x1="370.3" y1="621.7" x2="370.3" y2="618.1" stroke="#e486b2" stroke-width="0.6" />
<line x1="199.7" y1="638" x2="199.7" y2="627.1" stroke="#e486b2" stroke-width="0.6" />
<line x1="382.5" y1="621.7" x2="382.5" y2="613.4" stroke="#e486b2" stroke-width="0.6" />
<line x1="228.7" y1="629" x2="228.7" y2="626.5" stroke="#e486b2" stroke-width="0.6" />
<line x1="352.2" y1="621.7" x2="352.2" y2="613.4" stroke="#e486b2" stroke-width="0.6" />
<line x1="336.2" y1="621" x2="336.2" y2="613.4" stroke="#e486b2" stroke-width="0.6" />
<line x1="386.1" y1="621.7" x2="386.1" y2="613.8" stroke="#e486b2" stroke-width="0.6" />
<line x1="376.1" y1="621.7" x2="376.1" y2="616.8" stroke="#e486b2" stroke-width="0.6" />
<line x1="177.4" y1="638" x2="177.4" y2="626.5" stroke="#e486b2" stroke-width="0.6" />
<line x1="322.2" y1="620.4" x2="322.2" y2="613.4" stroke="#e486b2" stroke-width="0.6" />
<line x1="189.9" y1="638" x2="189.9" y2="632.7" stroke="#e486b2" stroke-width="0.6" />
<line x1="296.3" y1="618.8" x2="296.3" y2="616.2" stroke="#e486b2" stroke-width="0.6" />
<line x1="236.1" y1="627.8" x2="236.1" y2="619" stroke="#e486b2" stroke-width="0.6" />
<line x1="377.7" y1="621.7" x2="377.7" y2="613.4" stroke="#e486b2" stroke-width="0.6" />
<line x1="251.9" y1="626.2" x2="251.9" y2="619.6" stroke="#e486b2" stroke-width="0.6" />
<line x1="279" y1="616.2" x2="279" y2="613.4" stroke="#e486b2" stroke-width="0.6" />
<line x1="391.4" y1="621.7" x2="391.4" y2="619.7" stroke="#e486b2" stroke-width="0.6" />
<line x1="375.1" y1="621.7" x2="375.1" y2="613.4" stroke="#e486b2" stroke-width="0.6" />
<line x1="170.2" y1="638" x2="170.2" y2="633.2" stroke="#e486b2" stroke-width="0.6" />
<line x1="223.3" y1="638" x2="223.3" y2="633.7" stroke="#e486b2" stroke-width="0.6" />
<line x1="197.4" y1="638" x2="197.4" y2="634.6" stroke="#e486b2" stroke-width="0.6" />
<line x1="317" y1="620.4" x2="317" y2="613.5" stroke="#e486b2" stroke-width="0.6" />
<line x1="184.5" y1="631.6" x2="184.5" y2="620" stroke="#e486b2" stroke-width="0.6" />
<line x1="354" y1="621.7" x2="354" y2="616.8" stroke="#e486b2" stroke-width="0.6" />
<line x1="352.8" y1="621.7" x2="352.8" y2="613.4" stroke="#e486b2" stroke-width="0.6" />
<line x1="283" y1="618.8" x2="283" y2="615.9" stroke="#e486b2" stroke-width="0.6" />
<line x1="324.7" y1="621" x2="324.7" y2="613.4" stroke="#e486b2" stroke-width="0.6" />
<polygon points="160.2,636.0 160.7,638.0 161.2,636.7 161.7,637.7 162.2,637.5 162.7,637.8 163.2,637.6 163.7,637.1 164.2,638.2 164.7,638.0 165.2,638.3 165.7,638.0 166.2,635.9 166.7,638.1 167.2,635.9 167.7,638.4 168.2,636.3 168.7,637.8 169.2,637.6 169.7,635.1 170.2,637.4 170.7,638.2 171.2,636.8 171.7,638.5 172.2,638.0 172.7,637.6 173.2,638.1 173.7,637.5 174.2,637.4 174.7,636.2 175.2,638.2 175.7,637.5 176.2,638.4 176.7,637.2 177.2,638.4 177.7,637.1 178.2,637.9 178.7,637.3 179.2,638.6 179.7,637.3 180.2,637.1 180.7,638.1 181.2,639.3 181.7,637.9 182.2,637.7 182.7,637.3 183.2,630.3 183.7,631.8 184.2,630.7 184.7,629.9 185.2,630.7 185.7,630.5 186.2,630.8 186.7,631.4 187.2,637.6 187.7,638.4 188.2,636.6 188.7,636.8 189.2,636.4 189.7,635.5 190.2,638.0 190.7,637.4 191.2,637.3 191.7,637.4 192.2,638.6 192.7,637.6 193.2,637.5 193.7,637.5 194.2,637.7 194.7,638.3 195.2,636.8 195.7,637.6 196.2,638.6 196.7,636.5 197.2,636.7 197.7,636.5 198.2,637.8 198.7,638.3 199.2,637.9 199.7,636.7 200.2,637.8 200.7,637.4 201.2,638.5 201.7,638.3 202.2,636.3 202.7,638.0 203.2,638.3 203.7,636.5 204.2,638.9 204.7,636.6 205.2,631.6 205.7,630.7 206.2,632.2 206.7,630.4 207.2,630.5 207.7,630.9 208.2,628.2 208.7,628.6 209.2,638.1 209.7,637.9 210.2,638.4 210.7,637.7 211.2,637.1 211.7,637.3 212.2,637.9 212.7,637.6 213.2,636.7 213.7,637.8 214.2,637.7 214.7,636.8 215.2,637.0 215.7,637.2 216.2,636.7 216.7,636.2 217.2,636.9 217.7,637.3 218.2,638.5 218.7,638.3 219.2,637.1 219.7,637.0 220.2,637.5 220.7,637.5 221.2,637.0 221.7,636.8 222.2,637.1 222.7,637.4 223.2,638.0 223.7,637.4 224.2,627.5 224.7,628.2 225.2,626.5 225.7,627.6 226.2,629.2 226.7,626.8 227.2,628.6 227.7,627.3 228.2,626.7 228.7,627.2 229.2,638.0 229.7,637.0 230.2,637.7 230.7,637.8 231.2,625.5 231.7,626.9 232.2,626.1 232.7,624.8 233.2,625.8 233.7,626.8 234.2,624.3 234.7,626.2 235.2,626.3 235.7,626.7 236.2,627.2 236.7,626.7 237.2,626.9 237.7,627.0 238.2,624.9 238.7,625.8 239.2,625.3 239.7,625.7 240.2,625.6 240.7,625.9 241.2,622.9 241.7,624.9 242.2,625.3 242.7,625.3 243.2,626.3 243.7,623.1 244.2,624.7 244.7,623.0 245.2,622.1 245.7,624.9 246.2,624.1 246.7,625.1 247.2,623.8 247.7,623.7 248.2,623.6 248.7,623.4 249.2,624.5 249.7,624.2 250.2,623.6 250.7,624.0 251.2,624.9 251.7,623.5 252.2,622.4 252.7,624.1 253.2,623.9 253.7,623.6 254.2,625.2 254.7,635.4 255.2,637.2 255.7,637.5 256.2,639.2 256.7,638.2 257.2,636.8 257.7,637.7 258.2,637.8 258.7,636.3 259.2,636.5 259.7,637.4 260.2,637.9 260.7,636.5 261.2,637.1 261.7,638.1 262.2,638.0 262.7,636.8 263.2,636.9 263.7,637.6 264.2,638.1 264.7,638.2 265.2,637.6 265.7,636.7 266.2,637.4 266.7,636.4 267.2,637.1 267.7,637.6 268.2,636.9 268.7,636.9 269.2,638.6 269.7,637.9 270.2,636.9 270.7,637.2 271.2,638.0 271.7,636.9 272.2,638.0 272.7,637.8 273.2,638.3 273.7,636.7 274.2,638.0 274.7,637.8 275.2,637.0 275.7,637.8 276.2,636.8 276.7,637.9 277.2,637.0 277.7,613.8 278.2,613.9 278.7,613.8 279.2,613.4 279.7,614.6 280.2,615.1 280.7,614.5 281.2,614.0 281.7,615.2 282.2,616.6 282.7,615.7 283.2,616.0 283.7,615.7 284.2,617.5 284.7,618.1 285.2,617.7 285.7,617.9 286.2,617.0 286.7,618.6 287.2,616.9 287.7,618.5 288.2,618.4 288.7,615.8 289.2,616.1 289.7,616.8 290.2,618.4 290.7,617.0 291.2,617.5 291.7,616.5 292.2,615.3 292.7,615.6 293.2,616.8 293.7,618.0 294.2,616.8 294.7,616.8 295.2,616.7 295.7,617.5 296.2,617.4 296.7,614.8 297.2,617.1 297.7,616.8 298.2,617.3 298.7,617.5 299.2,616.5 299.7,618.4 300.2,619.2 300.7,618.4 301.2,617.3 301.7,618.6 302.2,618.3 302.7,619.2 303.2,620.1 303.7,619.6 304.2,620.5 304.7,618.1 305.2,618.1 305.7,619.2 306.2,619.2 306.7,619.8 307.2,620.3 307.7,617.5 308.2,618.7 308.7,619.4 309.2,617.0 309.7,618.6 310.2,617.5 310.7,618.1 311.2,618.5 311.7,618.0 312.2,617.5 312.7,619.9 313.2,619.1 313.7,618.8 314.2,617.8 314.7,618.6 315.2,619.2 315.7,618.7 316.2,616.6 316.7,617.9 317.2,619.1 317.7,619.6 318.2,619.1 318.7,619.2 319.2,619.0 319.7,619.3 320.2,619.1 320.7,618.2 321.2,617.9 321.7,618.9 322.2,619.9 322.7,619.6 323.2,619.8 323.7,619.9 324.2,618.8 324.7,618.5 325.2,620.4 325.7,618.7 326.2,619.5 326.7,618.6 327.2,619.2 327.7,619.6 328.2,619.2 328.7,618.1 329.2,619.8 329.7,619.1 330.2,619.6 330.7,619.3 331.2,618.1 331.7,619.9 332.2,618.5 332.7,619.0 333.2,618.5 333.7,618.3 334.2,619.5 334.7,620.4 335.2,618.8 335.7,619.0 336.2,619.2 336.7,619.4 337.2,619.0 337.7,619.6 338.2,619.4 338.7,618.5 339.2,619.1 339.7,618.6 340.2,618.7 340.7,618.3 341.2,620.0 341.7,620.5 342.2,618.9 342.7,619.4 343.2,618.0 343.7,621.1 344.2,618.0 344.7,618.7 345.2,618.2 345.7,618.9 346.2,621.0 346.7,619.1 347.2,617.9 347.7,620.2 348.2,620.0 348.7,618.9 349.2,620.3 349.7,620.9 350.2,621.4 350.7,619.3 351.2,619.6 351.7,619.3 352.2,620.2 352.7,619.8 353.2,620.7 353.7,620.1 354.2,620.3 354.7,619.1 355.2,620.6 355.7,620.7 356.2,621.1 356.7,620.5 357.2,617.6 357.7,620.2 358.2,618.6 358.7,619.8 359.2,620.3 359.7,618.9 360.2,620.5 360.7,620.9 361.2,619.1 361.7,617.9 362.2,619.6 362.7,621.2 363.2,620.2 363.7,619.9 364.2,619.9 364.7,619.3 365.2,620.2 365.7,620.4 366.2,620.1 366.7,619.0 367.2,619.7 367.7,620.3 368.2,620.8 368.7,620.1 369.2,620.3 369.7,621.0 370.2,619.7 370.7,617.8 371.2,619.3 371.7,619.8 372.2,620.2 372.7,619.8 373.2,619.5 373.7,620.3 374.2,621.3 374.7,620.6 375.2,621.5 375.7,621.1 376.2,619.9 376.7,620.1 377.2,620.7 377.7,620.7 378.2,621.6 378.7,620.5 379.2,619.4 379.7,621.0 380.2,619.5 380.7,621.0 381.2,621.0 381.7,619.9 382.2,621.0 382.7,620.8 383.2,620.4 383.7,619.3 384.2,620.5 384.7,619.7 385.2,620.3 385.7,619.4 386.2,620.1 386.7,620.2 387.2,620.5 387.7,617.3 388.2,621.2 388.7,620.3 389.2,619.2 389.7,618.1 390.2,620.3 390.7,620.3 391.2,618.0 391.7,620.2 391.7,626.0 391.2,626.9 390.7,627.2 390.2,627.5 389.7,626.9 389.2,629.0 388.7,626.6 388.2,628.2 387.7,626.6 387.2,627.3 386.7,626.9 386.2,628.3 385.7,627.4 385.2,628.4 384.7,626.7 384.2,627.6 383.7,626.4 383.2,626.6 382.7,627.4 382.2,628.5 381.7,626.4 381.2,627.2 380.7,626.8 380.2,627.5 379.7,629.6 379.2,627.9 378.7,627.5 378.2,629.1 377.7,628.2 377.2,626.6 376.7,627.0 376.2,628.3 375.7,629.2 375.2,627.2 374.7,626.8 374.2,629.4 373.7,626.8 373.2,626.7 372.7,628.0 372.2,627.2 371.7,627.3 371.2,628.2 370.7,625.2 370.2,626.8 369.7,628.3 369.2,626.7 368.7,626.9 368.2,627.4 367.7,628.7 367.2,626.8 366.7,627.2 366.2,627.9 365.7,626.4 365.2,626.6 364.7,628.4 364.2,627.3 363.7,627.3 363.2,627.8 362.7,627.7 362.2,626.1 361.7,626.5 361.2,628.1 360.7,629.2 360.2,626.7 359.7,626.1 359.2,629.0 358.7,626.2 358.2,625.4 357.7,628.2 357.2,627.7 356.7,627.2 356.2,627.1 355.7,627.2 355.2,627.4 354.7,628.5 354.2,626.5 353.7,627.5 353.2,626.8 352.7,627.2 352.2,626.7 351.7,627.9 351.2,627.0 350.7,625.6 350.2,630.6 349.7,628.3 349.2,627.4 348.7,626.0 348.2,627.1 347.7,628.0 347.2,626.5 346.7,626.4 346.2,627.8 345.7,625.9 345.2,627.2 344.7,626.0 344.2,627.0 343.7,627.8 343.2,626.0 342.7,626.9 342.2,626.4 341.7,630.2 341.2,626.7 340.7,625.7 340.2,625.0 339.7,626.6 339.2,627.3 338.7,626.4 338.2,626.0 337.7,627.4 337.2,628.0 336.7,625.7 336.2,627.2 335.7,626.8 335.2,626.5 334.7,627.2 334.2,626.3 333.7,626.5 333.2,625.7 332.7,625.5 332.2,625.1 331.7,625.8 331.2,625.8 330.7,626.3 330.2,626.6 329.7,625.8 329.2,629.1 328.7,626.0 328.2,626.2 327.7,626.1 327.2,627.7 326.7,626.0 326.2,627.5 325.7,626.5 325.2,628.2 324.7,625.3 324.2,626.0 323.7,626.8 323.2,626.7 322.7,628.9 322.2,626.0 321.7,627.9 321.2,625.1 320.7,624.6 320.2,625.7 319.7,628.4 319.2,627.0 318.7,627.2 318.2,624.9 317.7,626.0 317.2,626.3 316.7,624.8 316.2,624.7 315.7,627.1 315.2,625.7 314.7,626.6 314.2,627.4 313.7,625.6 313.2,626.1 312.7,625.5 312.2,624.9 311.7,626.1 311.2,625.5 310.7,625.1 310.2,624.7 309.7,626.7 309.2,625.4 308.7,625.8 308.2,627.0 307.7,624.3 307.2,627.0 306.7,626.2 306.2,625.4 305.7,625.9 305.2,626.6 304.7,626.5 304.2,627.4 303.7,627.6 303.2,626.2 302.7,625.6 302.2,626.1 301.7,625.0 301.2,625.4 300.7,625.0 300.2,626.6 299.7,625.6 299.2,624.4 298.7,626.9 298.2,625.3 297.7,625.3 297.2,623.0 296.7,624.4 296.2,623.8 295.7,625.3 295.2,626.4 294.7,624.7 294.2,626.0 293.7,624.7 293.2,624.1 292.7,623.5 292.2,622.7 291.7,624.2 291.2,624.8 290.7,622.6 290.2,624.1 289.7,624.1 289.2,626.2 288.7,624.3 288.2,625.0 287.7,624.4 287.2,623.6 286.7,624.8 286.2,627.6 285.7,624.2 285.2,625.2 284.7,624.6 284.2,625.4 283.7,624.0 283.2,622.8 282.7,623.2 282.2,622.3 281.7,622.7 281.2,620.9 280.7,621.8 280.2,621.6 279.7,621.5 279.2,621.1 278.7,620.7 278.2,621.8 277.7,622.7 277.2,642.1 276.7,642.5 276.2,642.2 275.7,642.9 275.2,642.3 274.7,642.2 274.2,642.1 273.7,641.9 273.2,642.8 272.7,642.5 272.2,641.9 271.7,643.2 271.2,642.2 270.7,641.3 270.2,642.6 269.7,643.1 269.2,644.7 268.7,642.7 268.2,641.1 267.7,642.5 267.2,641.6 266.7,642.5 266.2,642.4 265.7,641.5 265.2,642.8 264.7,642.4 264.2,643.2 263.7,641.4 263.2,643.8 262.7,641.6 262.2,642.3 261.7,642.4 261.2,643.9 260.7,642.0 260.2,642.0 259.7,641.7 259.2,642.5 258.7,641.6 258.2,642.1 257.7,642.9 257.2,642.0 256.7,642.7 256.2,644.3 255.7,641.8 255.2,642.9 254.7,643.7 254.2,634.7 253.7,632.8 253.2,632.2 252.7,630.8 252.2,631.2 251.7,632.0 251.2,631.6 250.7,630.4 250.2,631.4 249.7,632.9 249.2,632.1 248.7,631.4 248.2,633.0 247.7,633.3 247.2,633.7 246.7,631.2 246.2,630.9 245.7,633.9 245.2,630.4 244.7,631.2 244.2,631.4 243.7,631.5 243.2,634.0 242.7,634.1 242.2,633.1 241.7,632.4 241.2,633.0 240.7,635.9 240.2,633.8 239.7,631.9 239.2,634.2 238.7,634.7 238.2,633.8 237.7,633.7 237.2,633.2 236.7,635.5 236.2,635.0 235.7,634.6 235.2,632.6 234.7,633.2 234.2,633.5 233.7,633.7 233.2,634.1 232.7,632.2 232.2,632.5 231.7,633.8 231.2,634.9 230.7,643.8 230.2,643.0 229.7,642.6 229.2,642.1 228.7,635.7 228.2,635.0 227.7,635.3 227.2,635.5 226.7,633.5 226.2,636.0 225.7,635.2 225.2,634.4 224.7,635.7 224.2,636.0 223.7,641.9 223.2,642.1 222.7,642.5 222.2,641.8 221.7,643.0 221.2,641.5 220.7,642.5 220.2,644.4 219.7,642.4 219.2,643.3 218.7,643.5 218.2,642.8 217.7,641.9 217.2,642.8 216.7,641.7 216.2,642.9 215.7,642.5 215.2,642.8 214.7,642.0 214.2,643.5 213.7,641.9 213.2,644.2 212.7,642.4 212.2,642.8 211.7,642.0 211.2,641.5 210.7,643.1 210.2,642.9 209.7,642.9 209.2,641.9 208.7,636.2 208.2,635.8 207.7,636.4 207.2,636.2 206.7,636.6 206.2,637.5 205.7,636.2 205.2,638.2 204.7,641.9 204.2,643.0 203.7,641.7 203.2,642.7 202.7,642.4 202.2,641.5 201.7,642.6 201.2,642.4 200.7,643.1 200.2,642.9 199.7,642.4 199.2,642.4 198.7,643.0 198.2,642.5 197.7,642.2 197.2,641.9 196.7,642.1 196.2,644.3 195.7,642.3 195.2,644.1 194.7,642.6 194.2,642.1 193.7,641.4 193.2,641.9 192.7,641.7 192.2,643.2 191.7,644.8 191.2,641.7 190.7,643.4 190.2,643.2 189.7,641.9 189.2,641.8 188.7,641.6 188.2,642.0 187.7,643.1 187.2,642.6 186.7,636.5 186.2,635.7 185.7,636.4 185.2,637.0 184.7,636.2 184.2,636.2 183.7,636.6 183.2,636.7 182.7,641.9 182.2,643.5 181.7,642.1 181.2,643.5 180.7,641.9 180.2,641.7 179.7,642.4 179.2,643.4 178.7,642.7 178.2,642.3 177.7,642.5 177.2,643.1 176.7,642.1 176.2,642.6 175.7,642.2 175.2,642.6 174.7,641.1 174.2,642.4 173.7,642.9 173.2,643.1 172.7,642.1 172.2,642.3 171.7,642.7 171.2,642.1 170.7,642.8 170.2,641.1 169.7,642.8 169.2,642.2 168.7,641.6 168.2,642.0 167.7,643.5 167.2,641.6 166.7,644.6 166.2,641.8 165.7,642.1 165.2,643.9 164.7,641.8 164.2,642.4 163.7,642.9 163.2,642.1 162.7,642.4 162.2,641.9 161.7,642.7 161.2,642.5 160.7,643.1 160.2,642.4" fill="#d01f6e" stroke="#d01f6e" stroke-width="0.3" opacity="0.7"/>
<polygon points="160.2,637.3 160.7,639.1 161.2,637.9 161.7,638.7 162.2,638.4 162.7,638.7 163.2,638.5 163.7,638.3 164.2,639.0 164.7,638.8 165.2,639.5 165.7,638.8 166.2,637.1 166.7,639.4 167.2,637.1 167.7,639.4 168.2,637.4 168.7,638.5 169.2,638.5 169.7,636.7 170.2,638.1 170.7,639.1 171.2,637.8 171.7,639.4 172.2,638.9 172.7,638.5 173.2,639.1 173.7,638.6 174.2,638.4 174.7,637.2 175.2,639.1 175.7,638.4 176.2,639.3 176.7,638.2 177.2,639.3 177.7,638.1 178.2,638.8 178.7,638.4 179.2,639.6 179.7,638.3 180.2,638.0 180.7,638.9 181.2,640.1 181.7,638.7 182.2,638.9 182.7,638.2 183.2,631.6 183.7,632.8 184.2,631.8 184.7,631.2 185.2,632.0 185.7,631.7 186.2,631.8 186.7,632.4 187.2,638.6 187.7,639.3 188.2,637.7 188.7,637.8 189.2,637.5 189.7,636.8 190.2,639.0 190.7,638.6 191.2,638.2 191.7,638.9 192.2,639.5 192.7,638.4 193.2,638.4 193.7,638.3 194.2,638.6 194.7,639.2 195.2,638.2 195.7,638.5 196.2,639.7 196.7,637.6 197.2,637.7 197.7,637.6 198.2,638.7 198.7,639.3 199.2,638.8 199.7,637.8 200.2,638.8 200.7,638.5 201.2,639.3 201.7,639.2 202.2,637.4 202.7,638.9 203.2,639.2 203.7,637.6 204.2,639.7 204.7,637.7 205.2,632.9 205.7,631.8 206.2,633.3 206.7,631.6 207.2,631.6 207.7,632.0 208.2,629.7 208.7,630.1 209.2,638.8 209.7,638.9 210.2,639.3 210.7,638.8 211.2,638.0 211.7,638.3 212.2,638.9 212.7,638.6 213.2,638.2 213.7,638.6 214.2,638.9 214.7,637.9 215.2,638.1 215.7,638.3 216.2,638.0 216.7,637.3 217.2,638.1 217.7,638.2 218.2,639.4 218.7,639.3 219.2,638.3 219.7,638.1 220.2,638.9 220.7,638.5 221.2,637.9 221.7,638.0 222.2,638.1 222.7,638.4 223.2,638.8 223.7,638.3 224.2,629.2 224.7,629.7 225.2,628.1 225.7,629.1 226.2,630.6 226.7,628.2 227.2,630.0 227.7,628.9 228.2,628.3 228.7,628.9 229.2,638.8 229.7,638.1 230.2,638.8 230.7,639.0 231.2,627.4 231.7,628.3 232.2,627.4 232.7,626.3 233.2,627.4 233.7,628.2 234.2,626.1 234.7,627.6 235.2,627.5 235.7,628.3 236.2,628.7 236.7,628.4 237.2,628.1 237.7,628.4 238.2,626.7 238.7,627.6 239.2,627.1 239.7,626.9 240.2,627.3 240.7,627.9 241.2,625.0 241.7,626.4 242.2,626.9 242.7,627.1 243.2,627.8 243.7,624.8 244.2,626.1 244.7,624.7 245.2,623.8 245.7,626.7 246.2,625.5 246.7,626.3 247.2,625.7 247.7,625.6 248.2,625.5 248.7,625.0 249.2,626.0 249.7,626.0 250.2,625.1 250.7,625.3 251.2,626.2 251.7,625.2 252.2,624.2 252.7,625.4 253.2,625.6 253.7,625.5 254.2,627.1 254.7,637.0 255.2,638.3 255.7,638.3 256.2,640.2 256.7,639.1 257.2,637.8 257.7,638.8 258.2,638.7 258.7,637.4 259.2,637.7 259.7,638.2 260.2,638.7 260.7,637.6 261.2,638.5 261.7,638.9 262.2,638.9 262.7,637.7 263.2,638.3 263.7,638.4 264.2,639.1 264.7,639.0 265.2,638.6 265.7,637.6 266.2,638.4 266.7,637.6 267.2,638.0 267.7,638.6 268.2,637.7 268.7,638.1 269.2,639.8 269.7,639.0 270.2,638.1 270.7,638.0 271.2,638.8 271.7,638.1 272.2,638.8 272.7,638.8 273.2,639.2 273.7,637.7 274.2,638.9 274.7,638.6 275.2,638.1 275.7,638.8 276.2,637.9 276.7,638.8 277.2,638.0 277.7,615.6 278.2,615.5 278.7,615.2 279.2,615.0 279.7,616.0 280.2,616.4 280.7,616.0 281.2,615.4 281.7,616.7 282.2,617.7 282.7,617.2 283.2,617.3 283.7,617.4 284.2,619.1 284.7,619.4 285.2,619.2 285.7,619.1 286.2,619.1 286.7,619.9 287.2,618.3 287.7,619.7 288.2,619.7 288.7,617.5 289.2,618.1 289.7,618.3 290.2,619.6 290.7,618.1 291.2,619.0 291.7,618.0 292.2,616.8 292.7,617.2 293.2,618.2 293.7,619.3 294.2,618.6 294.7,618.4 295.2,618.7 295.7,619.0 296.2,618.7 296.7,616.7 297.2,618.3 297.7,618.5 298.2,618.9 298.7,619.4 299.2,618.1 299.7,619.8 300.2,620.7 300.7,619.7 301.2,619.0 301.7,619.9 302.2,619.8 302.7,620.5 303.2,621.4 303.7,621.2 304.2,621.9 304.7,619.8 305.2,619.8 305.7,620.5 306.2,620.4 306.7,621.1 307.2,621.6 307.7,618.8 308.2,620.3 308.7,620.7 309.2,618.7 309.7,620.2 310.2,619.0 310.7,619.5 311.2,619.9 311.7,619.7 312.2,619.0 312.7,621.0 313.2,620.5 313.7,620.2 314.2,619.7 314.7,620.2 315.2,620.5 315.7,620.4 316.2,618.2 316.7,619.3 317.2,620.5 317.7,620.9 318.2,620.3 318.7,620.8 319.2,620.6 319.7,621.1 320.2,620.4 320.7,619.5 321.2,619.4 321.7,620.7 322.2,621.2 322.7,621.5 323.2,621.2 323.7,621.2 324.2,620.2 324.7,619.8 325.2,622.0 325.7,620.3 326.2,621.1 326.7,620.1 327.2,620.9 327.7,620.9 328.2,620.6 328.7,619.7 329.2,621.7 329.7,620.4 330.2,621.0 330.7,620.7 331.2,619.6 331.7,621.1 332.2,619.8 332.7,620.3 333.2,619.9 333.7,620.0 334.2,620.8 334.7,621.8 335.2,620.3 335.7,620.6 336.2,620.8 336.7,620.7 337.2,620.8 337.7,621.2 338.2,620.7 338.7,620.1 339.2,620.8 339.7,620.2 340.2,620.0 340.7,619.8 341.2,621.4 341.7,622.4 342.2,620.4 342.7,620.9 343.2,619.6 343.7,622.4 344.2,619.8 344.7,620.2 345.2,620.0 345.7,620.3 346.2,622.3 346.7,620.5 347.2,619.6 347.7,621.7 348.2,621.4 348.7,620.3 349.2,621.7 349.7,622.4 350.2,623.2 350.7,620.6 351.2,621.1 351.7,621.1 352.2,621.5 352.7,621.3 353.2,621.9 353.7,621.6 354.2,621.6 354.7,621.0 355.2,622.0 355.7,622.0 356.2,622.3 356.7,621.8 357.2,619.6 357.7,621.8 358.2,620.0 358.7,621.1 359.2,622.0 359.7,620.3 360.2,621.7 360.7,622.6 361.2,620.9 361.7,619.6 362.2,620.9 362.7,622.5 363.2,621.7 363.7,621.3 364.2,621.4 364.7,621.1 365.2,621.5 365.7,621.6 366.2,621.6 366.7,620.6 367.2,621.2 367.7,622.0 368.2,622.1 368.7,621.5 369.2,621.5 369.7,622.4 370.2,621.1 370.7,619.3 371.2,621.1 371.7,621.3 372.2,621.6 372.7,621.5 373.2,620.9 373.7,621.6 374.2,622.9 374.7,621.8 375.2,622.7 375.7,622.7 376.2,621.6 376.7,621.4 377.2,621.8 377.7,622.2 378.2,623.1 378.7,621.9 379.2,621.1 379.7,622.7 380.2,621.1 380.7,622.2 381.2,622.3 381.7,621.2 382.2,622.5 382.7,622.2 383.2,621.7 383.7,620.7 384.2,621.9 384.7,621.1 385.2,621.9 385.7,621.0 386.2,621.7 386.7,621.5 387.2,621.8 387.7,619.2 388.2,622.6 388.7,621.6 389.2,621.1 389.7,619.9 390.2,621.7 390.7,621.7 391.2,619.8 391.7,621.3 391.7,624.8 391.2,625.1 390.7,625.8 390.2,626.1 389.7,625.2 389.2,627.0 388.7,625.3 388.2,626.8 387.7,624.8 387.2,626.0 386.7,625.5 386.2,626.6 385.7,625.8 385.2,626.8 384.7,625.3 384.2,626.2 383.7,625.0 383.2,625.3 382.7,626.1 382.2,627.0 381.7,625.1 381.2,626.0 380.7,625.7 380.2,625.9 379.7,627.9 379.2,626.2 378.7,626.1 378.2,627.6 377.7,626.7 377.2,625.4 376.7,625.6 376.2,626.6 375.7,627.6 375.2,626.1 374.7,625.6 374.2,627.8 373.7,625.5 373.2,625.2 372.7,626.4 372.2,625.8 371.7,625.8 371.2,626.4 370.7,623.7 370.2,625.4 369.7,626.8 369.2,625.4 368.7,625.6 368.2,626.1 367.7,627.1 367.2,625.4 366.7,625.5 366.2,626.3 365.7,625.2 365.2,625.3 364.7,626.6 364.2,625.8 363.7,625.8 363.2,626.3 362.7,626.4 362.2,624.8 361.7,624.8 361.2,626.3 360.7,627.6 360.2,625.4 359.7,624.6 359.2,627.3 358.7,624.9 358.2,624.1 357.7,626.6 357.2,625.7 356.7,625.8 356.2,625.9 355.7,625.9 355.2,626.0 354.7,626.6 354.2,625.3 353.7,626.0 353.2,625.6 352.7,625.7 352.2,625.4 351.7,626.2 351.2,625.5 350.7,624.3 350.2,628.7 349.7,626.8 349.2,626.0 348.7,624.6 348.2,625.7 347.7,626.5 347.2,624.8 346.7,624.9 346.2,626.4 345.7,624.5 345.2,625.4 344.7,624.6 344.2,625.2 343.7,626.4 343.2,624.4 342.7,625.4 342.2,624.9 341.7,628.3 341.2,625.4 340.7,624.2 340.2,623.8 339.7,625.0 339.2,625.7 338.7,624.9 338.2,624.7 337.7,625.8 337.2,626.2 336.7,624.4 336.2,625.6 335.7,625.3 335.2,624.9 334.7,625.8 334.2,625.0 333.7,624.9 333.2,624.3 332.7,624.2 332.2,623.8 331.7,624.6 331.2,624.3 330.7,624.9 330.2,625.2 329.7,624.5 329.2,627.3 328.7,624.5 328.2,624.8 327.7,624.8 327.2,626.0 326.7,624.5 326.2,625.9 325.7,625.0 325.2,626.7 324.7,624.0 324.2,624.5 323.7,625.4 323.2,625.3 322.7,627.1 322.2,624.8 321.7,626.1 321.2,623.7 320.7,623.3 320.2,624.3 319.7,626.5 319.2,625.4 318.7,625.6 318.2,623.7 317.7,624.7 317.2,624.8 316.7,623.4 316.2,623.1 315.7,625.4 315.2,624.4 314.7,625.0 314.2,625.5 313.7,624.2 313.2,624.7 312.7,624.4 312.2,623.4 311.7,624.5 311.2,624.1 310.7,623.7 310.2,623.3 309.7,625.1 309.2,623.7 308.7,624.5 308.2,625.3 307.7,622.9 307.2,625.7 306.7,624.9 306.2,624.1 305.7,624.6 305.2,624.9 304.7,624.8 304.2,626.0 303.7,626.0 303.2,625.0 302.7,624.4 302.2,624.5 301.7,623.7 301.2,623.8 300.7,623.7 300.2,625.1 299.7,624.2 299.2,622.9 298.7,625.0 298.2,623.7 297.7,623.6 297.2,621.9 296.7,622.5 296.2,622.6 295.7,623.7 295.2,624.5 294.7,623.1 294.2,624.1 293.7,623.3 293.2,622.6 292.7,621.9 292.2,621.3 291.7,622.6 291.2,623.4 290.7,621.5 290.2,622.9 289.7,622.6 289.2,624.1 288.7,622.6 288.2,623.7 287.7,623.2 287.2,622.2 286.7,623.6 286.2,625.5 285.7,622.9 285.2,623.7 284.7,623.3 284.2,623.8 283.7,622.3 283.2,621.4 282.7,621.7 282.2,621.2 281.7,621.2 281.2,619.5 280.7,620.3 280.2,620.3 279.7,620.2 279.2,619.6 278.7,619.3 278.2,620.2 277.7,621.0 277.2,641.1 276.7,641.6 276.2,641.1 275.7,641.8 275.2,641.2 274.7,641.3 274.2,641.3 273.7,640.9 273.2,641.9 272.7,641.6 272.2,641.1 271.7,641.9 271.2,641.3 270.7,640.5 270.2,641.5 269.7,642.1 269.2,643.5 268.7,641.6 268.2,640.2 267.7,641.5 267.2,640.7 266.7,641.3 266.2,641.4 265.7,640.5 265.2,641.7 264.7,641.6 264.2,642.2 263.7,640.7 263.2,642.4 262.7,640.6 262.2,641.5 261.7,641.6 261.2,642.6 260.7,640.9 260.2,641.2 259.7,640.8 259.2,641.3 258.7,640.6 258.2,641.3 257.7,641.9 257.2,641.0 256.7,641.8 256.2,643.2 255.7,640.9 255.2,641.8 254.7,642.0 254.2,632.8 253.7,631.0 253.2,630.5 252.7,629.4 252.2,629.5 251.7,630.3 251.2,630.2 250.7,629.1 250.2,629.8 249.7,631.2 249.2,630.6 248.7,629.8 248.2,631.1 247.7,631.4 247.2,631.7 246.7,630.0 246.2,629.6 245.7,632.1 245.2,628.7 244.7,629.6 244.2,630.1 243.7,629.8 243.2,632.5 242.7,632.4 242.2,631.5 241.7,630.9 241.2,631.0 240.7,633.9 240.2,632.2 239.7,630.7 239.2,632.4 238.7,632.9 238.2,632.0 237.7,632.4 237.2,631.9 236.7,633.7 236.2,633.4 235.7,633.0 235.2,631.3 234.7,631.8 234.2,631.6 233.7,632.3 233.2,632.5 232.7,630.7 232.2,631.2 231.7,632.4 231.2,633.0 230.7,642.6 230.2,642.0 229.7,641.5 229.2,641.3 228.7,634.0 228.2,633.3 227.7,633.7 227.2,634.1 226.7,632.2 226.2,634.7 225.7,633.7 225.2,632.8 224.7,634.2 224.2,634.3 223.7,641.0 223.2,641.3 222.7,641.5 222.2,640.9 221.7,641.8 221.2,640.6 220.7,641.5 220.2,643.0 219.7,641.3 219.2,642.0 218.7,642.4 218.2,641.9 217.7,641.0 217.2,641.7 216.7,640.6 216.2,641.7 215.7,641.5 215.2,641.6 214.7,641.0 214.2,642.3 213.7,641.1 213.2,642.7 212.7,641.5 212.2,641.8 211.7,641.1 211.2,640.6 210.7,642.0 210.2,642.0 209.7,641.9 209.2,641.1 208.7,634.7 208.2,634.3 207.7,635.3 207.2,635.1 206.7,635.4 206.2,636.4 205.7,635.1 205.2,636.9 204.7,640.9 204.2,642.2 203.7,640.7 203.2,641.8 202.7,641.6 202.2,640.5 201.7,641.7 201.2,641.7 200.7,642.0 200.2,641.9 199.7,641.3 199.2,641.5 198.7,642.1 198.2,641.6 197.7,641.1 197.2,640.8 196.7,641.0 196.2,643.1 195.7,641.3 195.2,642.6 194.7,641.8 194.2,641.2 193.7,640.7 193.2,641.0 192.7,640.9 192.2,642.3 191.7,643.4 191.2,640.8 190.7,642.2 190.2,642.2 189.7,640.6 189.2,640.7 188.7,640.6 188.2,640.9 187.7,642.1 187.2,641.6 186.7,635.5 186.2,634.7 185.7,635.2 185.2,635.7 184.7,634.9 184.2,635.1 183.7,635.6 183.2,635.4 182.7,641.0 182.2,642.3 181.7,641.3 181.2,642.6 180.7,641.1 180.2,640.7 179.7,641.3 179.2,642.4 178.7,641.6 178.2,641.4 177.7,641.4 177.2,642.2 176.7,641.1 176.2,641.8 175.7,641.3 175.2,641.7 174.7,640.1 174.2,641.4 173.7,641.8 173.2,642.1 172.7,641.2 172.2,641.4 171.7,641.9 171.2,641.0 170.7,641.9 170.2,640.3 169.7,641.3 169.2,641.3 168.7,640.8 168.2,640.9 167.7,642.4 167.2,640.4 166.7,643.3 166.2,640.6 165.7,641.3 165.2,642.8 164.7,641.0 164.2,641.5 163.7,641.8 163.2,641.2 162.7,641.5 162.2,641.0 161.7,641.7 161.2,641.3 160.7,642.1 160.2,641.1" fill="#d01f6e" stroke="#d01f6e" stroke-width="0.3"/>
<rect x="159.6" y="612.4" width="232.8" height="37.3" fill="none" stroke="#6a6a6a" stroke-width="1.2" />
<line x1="160.1" y1="620.8" x2="162.4" y2="620.8" stroke="#333" stroke-width="0.9" />
<line x1="160.1" y1="640" x2="162.4" y2="640" stroke="#333" stroke-width="0.9" />
<line x1="160.1" y1="630.4" x2="161.4" y2="630.4" stroke="#333" stroke-width="0.9" />
<text x="155.6" y="623.9" font-size="8.5" text-anchor="end" font-weight="normal" fill="#1a1a1a" stroke="#1a1a1a" stroke-width="0.1" >300</text>
<text x="155.6" y="643.1" font-size="8.5" text-anchor="end" font-weight="normal" fill="#1a1a1a" stroke="#1a1a1a" stroke-width="0.1" >0</text>
<line x1="198.4" y1="649.2" x2="198.4" y2="648.1" stroke="#333" stroke-width="0.9" />
<line x1="237.2" y1="649.2" x2="237.2" y2="647.1" stroke="#333" stroke-width="0.9" />
<line x1="276" y1="649.2" x2="276" y2="648.1" stroke="#333" stroke-width="0.9" />
<line x1="314.8" y1="649.2" x2="314.8" y2="647.1" stroke="#333" stroke-width="0.9" />
<line x1="353.6" y1="649.2" x2="353.6" y2="648.1" stroke="#333" stroke-width="0.9" />
<text x="159.6" y="659.9" font-size="8.6" text-anchor="middle" font-weight="normal" fill="#1a1a1a" stroke="#1a1a1a" stroke-width="0.1" >540</text>
<text x="237.2" y="659.9" font-size="8.6" text-anchor="middle" font-weight="normal" fill="#1a1a1a" stroke="#1a1a1a" stroke-width="0.1" >560</text>
<text x="314.8" y="659.9" font-size="8.6" text-anchor="middle" font-weight="normal" fill="#1a1a1a" stroke="#1a1a1a" stroke-width="0.1" >580</text>
<text x="392.4" y="659.9" font-size="8.6" text-anchor="middle" font-weight="normal" fill="#1a1a1a" stroke="#1a1a1a" stroke-width="0.1" >600</text>
<path d="M396.2,634.8 L396.5,634.8 L396.6,635.1 L396.7,635.5 L396.9,635.8 L397.1,636.2 L397.5,636.5 L398.0,636.9 L398.7,637.2 L399.7,637.5 L401.1,637.9 L402.7,638.2 L404.7,638.6 L406.8,638.9 L408.9,639.3 L410.6,639.6 L411.8,640.0 L412.2,640.3 L411.8,640.6 L410.6,641.0 L408.9,641.3 L406.8,641.7 L404.7,642.0 L402.7,642.4 L401.1,642.7 L399.7,643.0 L398.7,643.4 L398.0,643.7 L397.5,644.1 L397.1,644.4 L396.9,644.8 L396.7,645.1 L396.6,645.5 L396.5,645.8 L396.2,645.8 Z" fill="#b4b4b4"/>
<path d="M396.2,615.3 L396.5,615.3 L396.6,616.0 L396.7,616.8 L396.9,617.5 L397.1,618.3 L397.4,619.0 L397.8,619.8 L398.3,620.5 L399.1,621.3 L400.0,622.0 L401.3,622.8 L402.7,623.5 L404.2,624.3 L405.7,625.0 L407.0,625.8 L407.9,626.5 L408.2,627.3 L407.9,628.0 L407.0,628.8 L405.7,629.5 L404.2,630.3 L402.7,631.0 L401.3,631.8 L400.0,632.5 L399.1,633.3 L398.3,634.0 L397.8,634.8 L397.4,635.5 L397.1,636.3 L396.9,637.0 L396.7,637.8 L396.6,638.5 L396.5,639.3 L396.2,639.3 Z" fill="#cc3aa8"/>
<text x="276" y="673" font-size="9.6" text-anchor="middle" font-weight="normal" fill="#1a1a1a" stroke="#1a1a1a" stroke-width="0.1" >Time (s)</text>
<g transform="translate(133.8,581.0) rotate(-90)"><text x="0" y="0" font-size="8.8" text-anchor="middle" fill="#1a1a1a">Current (pA)</text></g>
<rect x="483.1" y="327.7" width="5.8" height="14.7" fill="#c8206e" stroke="none" stroke-width="1" />
<rect x="493.3" y="323.1" width="5.6" height="19.3" fill="#c8206e" stroke="none" stroke-width="1" />
<rect x="503.4" y="318" width="5.7" height="24.4" fill="#c8206e" stroke="none" stroke-width="1" />
<rect x="513.6" y="315.9" width="5.5" height="26.5" fill="#c8206e" stroke="none" stroke-width="1" />
<rect x="524" y="296.4" width="4.9" height="46" fill="#c8206e" stroke="none" stroke-width="1" />
<rect x="534" y="250.4" width="5.4" height="92" fill="#c8206e" stroke="none" stroke-width="1" />
<rect x="515" y="340.9" width="4.5" height="1.5" fill="#f39a1a" stroke="none" stroke-width="1" />
<rect x="527.2" y="340.3" width="4.3" height="2.1" fill="#f39a1a" stroke="none" stroke-width="1" />
<rect x="539.4" y="333.4" width="5.1" height="9" fill="#f39a1a" stroke="none" stroke-width="1" />
<rect x="551.1" y="338.2" width="5.6" height="4.2" fill="#f39a1a" stroke="none" stroke-width="1" />
<rect x="563.5" y="338.7" width="5.3" height="3.7" fill="#f39a1a" stroke="none" stroke-width="1" />
<rect x="575.6" y="340.3" width="5.4" height="2.1" fill="#f39a1a" stroke="none" stroke-width="1" />
<rect x="588" y="332" width="5.3" height="10.4" fill="#f39a1a" stroke="none" stroke-width="1" />
<rect x="478.6" y="224.5" width="121.2" height="117.9" fill="none" stroke="#6a6a6a" stroke-width="1.2" />
<line x1="478.6" y1="224.5" x2="599.8" y2="224.5" stroke="#333" stroke-width="1.2" />
<line x1="479.1" y1="342.4" x2="481.4" y2="342.4" stroke="#333" stroke-width="0.9" />
<text x="474.6" y="345.7" font-size="9.8" text-anchor="end" font-weight="normal" fill="#1a1a1a" stroke="#1a1a1a" stroke-width="0.1" >0</text>
<line x1="479.1" y1="330.6" x2="480.3" y2="330.6" stroke="#333" stroke-width="0.9" />
<line x1="479.1" y1="318.8" x2="481.4" y2="318.8" stroke="#333" stroke-width="0.9" />
<text x="474.6" y="322.1" font-size="9.8" text-anchor="end" font-weight="normal" fill="#1a1a1a" stroke="#1a1a1a" stroke-width="0.1" >20</text>
<line x1="479.1" y1="307" x2="480.3" y2="307" stroke="#333" stroke-width="0.9" />
<line x1="479.1" y1="295.2" x2="481.4" y2="295.2" stroke="#333" stroke-width="0.9" />
<text x="474.6" y="298.5" font-size="9.8" text-anchor="end" font-weight="normal" fill="#1a1a1a" stroke="#1a1a1a" stroke-width="0.1" >40</text>
<line x1="479.1" y1="283.4" x2="480.3" y2="283.4" stroke="#333" stroke-width="0.9" />
<line x1="479.1" y1="271.7" x2="481.4" y2="271.7" stroke="#333" stroke-width="0.9" />
<text x="474.6" y="275" font-size="9.8" text-anchor="end" font-weight="normal" fill="#1a1a1a" stroke="#1a1a1a" stroke-width="0.1" >60</text>
<line x1="479.1" y1="259.9" x2="480.3" y2="259.9" stroke="#333" stroke-width="0.9" />
<line x1="479.1" y1="248.1" x2="481.4" y2="248.1" stroke="#333" stroke-width="0.9" />
<text x="474.6" y="251.4" font-size="9.8" text-anchor="end" font-weight="normal" fill="#1a1a1a" stroke="#1a1a1a" stroke-width="0.1" >80</text>
<line x1="479.1" y1="236.3" x2="480.3" y2="236.3" stroke="#333" stroke-width="0.9" />
<line x1="479.1" y1="224.5" x2="481.4" y2="224.5" stroke="#333" stroke-width="0.9" />
<text x="474.6" y="227.8" font-size="9.8" text-anchor="end" font-weight="normal" fill="#1a1a1a" stroke="#1a1a1a" stroke-width="0.1" >100</text>
<line x1="498.8" y1="341.9" x2="498.8" y2="340.7" stroke="#333" stroke-width="0.9" />
<line x1="519" y1="341.9" x2="519" y2="339.6" stroke="#333" stroke-width="0.9" />
<line x1="539.2" y1="341.9" x2="539.2" y2="340.7" stroke="#333" stroke-width="0.9" />
<line x1="559.4" y1="341.9" x2="559.4" y2="339.6" stroke="#333" stroke-width="0.9" />
<line x1="579.6" y1="341.9" x2="579.6" y2="340.7" stroke="#333" stroke-width="0.9" />
<text x="519" y="354.2" font-size="9.8" text-anchor="middle" font-weight="normal" fill="#1a1a1a" stroke="#1a1a1a" stroke-width="0.1" >400</text>
<text x="559.4" y="354.2" font-size="9.8" text-anchor="middle" font-weight="normal" fill="#1a1a1a" stroke="#1a1a1a" stroke-width="0.1" >800</text>
<text x="599.8" y="354.2" font-size="9.8" text-anchor="middle" font-weight="normal" fill="#1a1a1a" stroke="#1a1a1a" stroke-width="0.1" >1200</text>
<text x="539.2" y="368.3" font-size="10.2" text-anchor="middle" font-weight="normal" fill="#1a1a1a" stroke="#1a1a1a" stroke-width="0.1" >Time (s)</text>
<g transform="translate(451.6,279.3) rotate(-90)"><text x="0" y="0" font-size="10.8" text-anchor="middle" fill="#1a1a1a">Closure (%)</text></g>
<text x="440.1" y="228" font-size="14" text-anchor="start" font-weight="bold" fill="#1a1a1a" stroke="#1a1a1a" stroke-width="0.1" >h</text>
<rect x="545.5" y="228.6" width="13.8" height="6" fill="#f39a1a" stroke="none" stroke-width="1" />
<rect x="545.5" y="238.4" width="13.8" height="6" fill="#c8206e" stroke="none" stroke-width="1" />
<text x="563.3" y="235" font-size="8.2" text-anchor="start" font-weight="normal" fill="#1a1a1a" stroke="#1a1a1a" stroke-width="0.1" >200 pM</text>
<text x="563.3" y="244.8" font-size="8.2" text-anchor="start" font-weight="normal" fill="#1a1a1a" stroke="#1a1a1a" stroke-width="0.1" >1 nM</text>
<polyline points="486.0,487.5 487.0,487.5 487.9,487.5 488.9,487.5 489.8,487.5 490.8,487.5 491.7,487.5 492.6,487.5 493.6,487.5 494.5,487.5 495.5,487.5 496.4,487.5 497.4,487.5 498.3,487.5 499.3,487.5 500.2,487.5 501.2,487.5 502.1,487.5 503.0,487.5 504.0,487.5 504.9,487.4 505.9,487.4 506.8,487.4 507.8,487.4 508.7,487.4 509.7,487.4 510.6,487.4 511.6,487.4 512.5,487.4 513.4,487.3 514.4,487.3 515.3,487.3 516.3,487.3 517.2,487.3 518.2,487.2 519.1,487.2 520.1,487.2 521.0,487.1 521.9,487.1 522.9,487.0 523.8,487.0 524.8,486.9 525.7,486.8 526.7,486.8 527.6,486.7 528.6,486.6 529.5,486.5 530.5,486.3 531.4,486.2 532.3,486.0 533.3,485.9 534.2,485.7 535.2,485.5 536.1,485.2 537.1,484.9 538.0,484.7 539.0,484.3 539.9,484.0 540.8,483.6 541.8,483.1 542.7,482.6 543.7,482.1 544.6,481.5 545.6,480.8 546.5,480.1 547.5,479.3 548.4,478.4 549.4,477.5 550.3,476.5 551.2,475.4 552.2,474.2 553.1,472.9 554.1,471.5 555.0,470.1 556.0,468.5 556.9,466.9 557.9,465.2 558.8,463.4 559.7,461.5 560.7,459.6 561.6,457.6 562.6,455.6 563.5,453.5 564.5,451.4 565.4,449.4 566.4,447.3 567.3,445.3 568.2,443.3 569.2,441.3 570.1,439.4 571.1,437.6 572.0,435.8 573.0,434.2 573.9,432.6 574.9,431.1 575.8,429.7 576.8,428.4 577.7,427.1 578.6,426.0 579.6,424.9 580.5,424.0 581.5,423.1 582.4,422.2 583.4,421.5 584.3,420.8 585.3,420.2 586.2,419.6 587.1,419.1" fill="none" stroke="#f0a020" stroke-width="1.4"/>
<path d="M482.6,488.5 C483.4,485.7 485.9,478.6 487.5,471.7 C489.1,464.8 491.0,454.9 492.2,447.1 C493.4,439.3 493.8,430.9 494.6,424.8 C495.4,418.7 496.1,413.8 497.0,410.6 C497.9,407.5 498.7,406.9 499.8,405.9 C500.9,404.9 499.2,404.8 503.6,404.6 C508.0,404.4 522.6,404.6 526.4,404.6" fill="none" stroke="#cc2a72" stroke-width="1.5"/>
<path d="M483.0,487.5 C483.7,485.8 485.8,480.0 487.0,477.0 C488.2,474.0 489.2,471.3 490.5,469.5 C491.8,467.7 492.5,466.7 494.5,466.0 C496.5,465.3 501.2,465.6 502.5,465.5" fill="none" stroke="#5a7d6a" stroke-width="1.3"/>
<circle cx="492.3" cy="487.0" r="2.0" fill="#f0a020"/>
<circle cx="502.1" cy="486.1" r="2.0" fill="#f0a020"/>
<circle cx="511.3" cy="486.8" r="2.0" fill="#f0a020"/>
<circle cx="521.0" cy="487.5" r="2.0" fill="#f0a020"/>
<circle cx="530.4" cy="484.7" r="2.0" fill="#f0a020"/>
<circle cx="540.0" cy="486.8" r="2.0" fill="#f0a020"/>
<circle cx="549.2" cy="485.6" r="2.0" fill="#f0a020"/>
<circle cx="558.8" cy="448.9" r="2.0" fill="#f0a020"/>
<circle cx="568.2" cy="453.7" r="2.0" fill="#f0a020"/>
<circle cx="577.4" cy="422.0" r="2.0" fill="#f0a020"/>
<circle cx="587.0" cy="420.2" r="2.0" fill="#f0a020"/>
<circle cx="486.5" cy="468.0" r="2.0" fill="#4f7a5e"/>
<circle cx="496.0" cy="463.2" r="2.0" fill="#4f7a5e"/>
<circle cx="498.0" cy="463.2" r="2.0" fill="#4f7a5e"/>
<circle cx="492.7" cy="468.4" r="2.0" fill="#4f7a5e"/>
<circle cx="501.2" cy="468.0" r="2.0" fill="#4f7a5e"/>
<circle cx="502.6" cy="468.6" r="2.0" fill="#4f7a5e"/>
<circle cx="490.3" cy="473.2" r="2.0" fill="#4f7a5e"/>
<circle cx="487.5" cy="476.5" r="2.0" fill="#4f7a5e"/>
<circle cx="483.7" cy="485.0" r="2.0" fill="#4f7a5e"/>
<circle cx="494.5" cy="468.2" r="2.0" fill="#4f7a5e"/>
<circle cx="497.9" cy="449.0" r="2.0" fill="#7a12b0"/>
<circle cx="493.7" cy="458.5" r="2.0" fill="#7a12b0"/>
<circle cx="499.8" cy="463.2" r="2.0" fill="#7a12b0"/>
<circle cx="496.5" cy="468.4" r="2.0" fill="#7a12b0"/>
<circle cx="490.3" cy="477.9" r="2.0" fill="#7a12b0"/>
<circle cx="484.6" cy="485.5" r="2.0" fill="#7a12b0"/>
<circle cx="502.0" cy="395.0" r="2.0" fill="#c02470"/>
<circle cx="506.7" cy="393.3" r="2.0" fill="#c02470"/>
<circle cx="521.0" cy="400.9" r="2.0" fill="#c02470"/>
<circle cx="516.1" cy="408.7" r="2.0" fill="#c02470"/>
<circle cx="525.7" cy="410.4" r="2.0" fill="#c02470"/>
<circle cx="511.4" cy="420.3" r="2.0" fill="#c02470"/>
<circle cx="497.0" cy="410.4" r="2.0" fill="#c02470"/>
<circle cx="492.2" cy="447.1" r="2.0" fill="#c02470"/>
<circle cx="487.5" cy="471.7" r="2.0" fill="#c02470"/>
<circle cx="482.3" cy="487.4" r="2.0" fill="#c02470"/>
<circle cx="488.4" cy="487.6" r="2.0" fill="#c02470"/>
<rect x="478.8" y="381.5" width="118.1" height="115.6" fill="none" stroke="#6a6a6a" stroke-width="1.2" />
<line x1="479.3" y1="487.5" x2="481.6" y2="487.5" stroke="#333" stroke-width="0.9" />
<text x="474.6" y="490.8" font-size="9.8" text-anchor="end" font-weight="normal" fill="#1a1a1a" stroke="#1a1a1a" stroke-width="0.1" >0.0</text>
<line x1="479.3" y1="463.5" x2="480.5" y2="463.5" stroke="#333" stroke-width="0.9" />
<line x1="479.3" y1="439.5" x2="481.6" y2="439.5" stroke="#333" stroke-width="0.9" />
<text x="474.6" y="442.8" font-size="9.8" text-anchor="end" font-weight="normal" fill="#1a1a1a" stroke="#1a1a1a" stroke-width="0.1" >0.5</text>
<line x1="479.3" y1="415.5" x2="480.5" y2="415.5" stroke="#333" stroke-width="0.9" />
<line x1="479.3" y1="391.5" x2="481.6" y2="391.5" stroke="#333" stroke-width="0.9" />
<text x="474.6" y="394.8" font-size="9.8" text-anchor="end" font-weight="normal" fill="#1a1a1a" stroke="#1a1a1a" stroke-width="0.1" >1.0</text>
<line x1="483.2" y1="496.6" x2="483.2" y2="494.3" stroke="#333" stroke-width="0.9" />
<line x1="502.1" y1="496.6" x2="502.1" y2="495.4" stroke="#333" stroke-width="0.9" />
<line x1="521" y1="496.6" x2="521" y2="494.3" stroke="#333" stroke-width="0.9" />
<line x1="539.9" y1="496.6" x2="539.9" y2="495.4" stroke="#333" stroke-width="0.9" />
<line x1="558.8" y1="496.6" x2="558.8" y2="494.3" stroke="#333" stroke-width="0.9" />
<line x1="577.7" y1="496.6" x2="577.7" y2="495.4" stroke="#333" stroke-width="0.9" />
<text x="483.2" y="508.8" font-size="9.8" text-anchor="middle" font-weight="normal" fill="#1a1a1a" stroke="#1a1a1a" stroke-width="0.1" >0</text>
<text x="521" y="508.8" font-size="9.8" text-anchor="middle" font-weight="normal" fill="#1a1a1a" stroke="#1a1a1a" stroke-width="0.1" >400</text>
<text x="558.8" y="508.8" font-size="9.8" text-anchor="middle" font-weight="normal" fill="#1a1a1a" stroke="#1a1a1a" stroke-width="0.1" >800</text>
<text x="596.6" y="508.8" font-size="9.8" text-anchor="middle" font-weight="normal" fill="#1a1a1a" stroke="#1a1a1a" stroke-width="0.1" >1200</text>
<text x="537.8" y="521.5" font-size="10.2" text-anchor="middle" font-weight="normal" fill="#1a1a1a" stroke="#1a1a1a" stroke-width="0.1" >Time (s)</text>
<g transform="translate(451.8,443.8) rotate(-90)"><text x="0" y="0" font-size="10.6" text-anchor="middle" fill="#1a1a1a">Frequency (events/s)</text></g>
<text x="441" y="384.4" font-size="14" text-anchor="start" font-weight="bold" fill="#1a1a1a" stroke="#1a1a1a" stroke-width="0.1" >i</text>
<path d="M478.6,568.6 L478.6,545.5 L479.6,545.5 L480.1,549.0 L481.1,549.0 L481.1,553.5 L482.1,553.5 L482.1,559.0 L483.1,559.0 L483.1,561.5 L484.1,561.5 L484.1,563.0 L485.1,563.0 L485.1,566.5 L486.1,566.5 L486.1,567.5 L487.1,567.5 L487.1,567.5 L488.1,567.5 L488.1,568.6 Z" fill="#9b62d2" stroke="#6a2a9a" stroke-width="0.5"/>
<line x1="478.6" y1="568.2" x2="597.8" y2="568.2" stroke="#7a6a8a" stroke-width="0.9" />
<path d="M478.6,598.4 L478.6,578.5 L479.6,578.5 L479.6,579.5 L480.6,579.5 L480.6,583.0 L481.6,583.0 L481.6,588.0 L482.6,588.0 L482.6,593.0 L483.6,593.0 L483.6,596.0 L484.6,596.0 L484.6,597.5 L485.6,597.5 L485.6,598.4 Z" fill="#3d8c86" stroke="#2a6a66" stroke-width="0.5"/>
<rect x="479.7" y="620.1" width="1.8" height="6.9" fill="#f08a22" stroke="none" stroke-width="1" />
<rect x="481.8" y="618" width="1.8" height="9" fill="#f08a22" stroke="none" stroke-width="1" />
<rect x="483.9" y="610.2" width="1.8" height="16.8" fill="#f08a22" stroke="none" stroke-width="1" />
<rect x="486" y="610.7" width="1.8" height="16.3" fill="#f08a22" stroke="none" stroke-width="1" />
<rect x="488.1" y="611.7" width="1.8" height="15.3" fill="#f08a22" stroke="none" stroke-width="1" />
<rect x="490.2" y="610.2" width="1.8" height="16.8" fill="#f08a22" stroke="none" stroke-width="1" />
<rect x="492.3" y="615.9" width="1.8" height="11.1" fill="#f08a22" stroke="none" stroke-width="1" />
<rect x="494.4" y="616.5" width="1.8" height="10.5" fill="#f08a22" stroke="none" stroke-width="1" />
<rect x="496.5" y="617" width="1.8" height="10" fill="#f08a22" stroke="none" stroke-width="1" />
<rect x="498.6" y="611.2" width="1.8" height="15.8" fill="#f08a22" stroke="none" stroke-width="1" />
<rect x="500.7" y="619.1" width="1.8" height="7.9" fill="#f08a22" stroke="none" stroke-width="1" />
<rect x="502.8" y="621.7" width="1.8" height="5.3" fill="#f08a22" stroke="none" stroke-width="1" />
<rect x="504.9" y="620.7" width="1.8" height="6.3" fill="#f08a22" stroke="none" stroke-width="1" />
<rect x="507" y="622.8" width="1.8" height="4.2" fill="#f08a22" stroke="none" stroke-width="1" />
<rect x="509.1" y="623.8" width="1.8" height="3.2" fill="#f08a22" stroke="none" stroke-width="1" />
<rect x="511.2" y="621.2" width="1.8" height="5.8" fill="#f08a22" stroke="none" stroke-width="1" />
<rect x="513.3" y="624.3" width="1.8" height="2.7" fill="#f08a22" stroke="none" stroke-width="1" />
<rect x="515.3" y="624.9" width="1.8" height="2.1" fill="#f08a22" stroke="none" stroke-width="1" />
<rect x="517.4" y="622.2" width="1.8" height="4.8" fill="#f08a22" stroke="none" stroke-width="1" />
<rect x="519.5" y="623.8" width="1.8" height="3.2" fill="#f08a22" stroke="none" stroke-width="1" />
<rect x="521.6" y="623.3" width="1.8" height="3.7" fill="#f08a22" stroke="none" stroke-width="1" />
<rect x="523.7" y="623.8" width="1.8" height="3.2" fill="#f08a22" stroke="none" stroke-width="1" />
<rect x="525.8" y="625.9" width="1.8" height="1.1" fill="#f08a22" stroke="none" stroke-width="1" />
<rect x="527.9" y="626.4" width="1.8" height="0.6" fill="#f08a22" stroke="none" stroke-width="1" />
<rect x="530" y="624.1" width="1.8" height="2.9" fill="#f08a22" stroke="none" stroke-width="1" />
<rect x="532.1" y="626.6" width="1.8" height="0.4" fill="#f08a22" stroke="none" stroke-width="1" />
<rect x="478.6" y="620" width="3.5" height="7" fill="#f08a22" stroke="none" stroke-width="1" />
<path d="M479.5,619.0 C480.2,618.1 482.4,614.8 484.0,613.5 C485.6,612.2 487.2,611.7 489.0,611.5 C490.8,611.3 492.8,611.8 495.0,612.5 C497.2,613.2 499.5,614.3 502.0,615.5 C504.5,616.7 507.0,618.3 510.0,619.5 C513.0,620.7 516.3,621.8 520.0,622.8 C523.7,623.8 527.0,624.6 532.0,625.2 C537.0,625.8 539.2,626.1 550.0,626.4 C560.8,626.7 589.2,626.9 597.0,627.0" fill="none" stroke="#f7b890" stroke-width="0.7"/>
<rect x="479.7" y="646.9" width="1.8" height="10.1" fill="#c23ab0" stroke="none" stroke-width="1" />
<rect x="481.8" y="642.7" width="1.8" height="14.3" fill="#c23ab0" stroke="none" stroke-width="1" />
<rect x="483.9" y="631.2" width="1.8" height="25.8" fill="#c23ab0" stroke="none" stroke-width="1" />
<rect x="486" y="632.2" width="1.8" height="24.8" fill="#c23ab0" stroke="none" stroke-width="1" />
<rect x="488.1" y="628" width="1.8" height="29" fill="#c23ab0" stroke="none" stroke-width="1" />
<rect x="490.2" y="636.4" width="1.8" height="20.6" fill="#c23ab0" stroke="none" stroke-width="1" />
<rect x="492.3" y="635.9" width="1.8" height="21.1" fill="#c23ab0" stroke="none" stroke-width="1" />
<rect x="494.4" y="635.3" width="1.8" height="21.7" fill="#c23ab0" stroke="none" stroke-width="1" />
<rect x="496.5" y="632.2" width="1.8" height="24.8" fill="#c23ab0" stroke="none" stroke-width="1" />
<rect x="498.6" y="640.6" width="1.8" height="16.4" fill="#c23ab0" stroke="none" stroke-width="1" />
<rect x="500.7" y="634.3" width="1.8" height="22.7" fill="#c23ab0" stroke="none" stroke-width="1" />
<rect x="502.8" y="641.6" width="1.8" height="15.4" fill="#c23ab0" stroke="none" stroke-width="1" />
<rect x="504.9" y="639.5" width="1.8" height="17.5" fill="#c23ab0" stroke="none" stroke-width="1" />
<rect x="507" y="643.2" width="1.8" height="13.8" fill="#c23ab0" stroke="none" stroke-width="1" />
<rect x="509.1" y="643.7" width="1.8" height="13.3" fill="#c23ab0" stroke="none" stroke-width="1" />
<rect x="511.2" y="644.3" width="1.8" height="12.7" fill="#c23ab0" stroke="none" stroke-width="1" />
<rect x="513.3" y="644.3" width="1.8" height="12.7" fill="#c23ab0" stroke="none" stroke-width="1" />
<rect x="515.3" y="647.4" width="1.8" height="9.6" fill="#c23ab0" stroke="none" stroke-width="1" />
<rect x="517.4" y="645.8" width="1.8" height="11.2" fill="#c23ab0" stroke="none" stroke-width="1" />
<rect x="519.5" y="639.5" width="1.8" height="17.5" fill="#c23ab0" stroke="none" stroke-width="1" />
<rect x="521.6" y="650.6" width="1.8" height="6.4" fill="#c23ab0" stroke="none" stroke-width="1" />
<rect x="523.7" y="645.8" width="1.8" height="11.2" fill="#c23ab0" stroke="none" stroke-width="1" />
<rect x="525.8" y="648.5" width="1.8" height="8.5" fill="#c23ab0" stroke="none" stroke-width="1" />
<rect x="527.9" y="649.5" width="1.8" height="7.5" fill="#c23ab0" stroke="none" stroke-width="1" />
<rect x="530" y="651.1" width="1.8" height="5.9" fill="#c23ab0" stroke="none" stroke-width="1" />
<rect x="532.1" y="651.6" width="1.8" height="5.4" fill="#c23ab0" stroke="none" stroke-width="1" />
<rect x="534.2" y="653.2" width="1.8" height="3.8" fill="#c23ab0" stroke="none" stroke-width="1" />
<rect x="536.3" y="649.5" width="1.8" height="7.5" fill="#c23ab0" stroke="none" stroke-width="1" />
<rect x="538.4" y="652.7" width="1.8" height="4.3" fill="#c23ab0" stroke="none" stroke-width="1" />
<rect x="540.5" y="653.2" width="1.8" height="3.8" fill="#c23ab0" stroke="none" stroke-width="1" />
<rect x="542.6" y="653.7" width="1.8" height="3.3" fill="#c23ab0" stroke="none" stroke-width="1" />
<rect x="544.7" y="652.7" width="1.8" height="4.3" fill="#c23ab0" stroke="none" stroke-width="1" />
<rect x="546.8" y="654.2" width="1.8" height="2.8" fill="#c23ab0" stroke="none" stroke-width="1" />
<rect x="548.9" y="654.8" width="1.8" height="2.2" fill="#c23ab0" stroke="none" stroke-width="1" />
<rect x="551" y="653.7" width="1.8" height="3.3" fill="#c23ab0" stroke="none" stroke-width="1" />
<rect x="553.1" y="653.2" width="1.8" height="3.8" fill="#c23ab0" stroke="none" stroke-width="1" />
<rect x="555.2" y="655.3" width="1.8" height="1.7" fill="#c23ab0" stroke="none" stroke-width="1" />
<rect x="557.3" y="654.8" width="1.8" height="2.2" fill="#c23ab0" stroke="none" stroke-width="1" />
<rect x="559.4" y="654.2" width="1.8" height="2.8" fill="#c23ab0" stroke="none" stroke-width="1" />
<rect x="561.5" y="654.8" width="1.8" height="2.2" fill="#c23ab0" stroke="none" stroke-width="1" />
<rect x="563.6" y="655.3" width="1.8" height="1.7" fill="#c23ab0" stroke="none" stroke-width="1" />
<rect x="565.7" y="655.8" width="1.8" height="1.2" fill="#c23ab0" stroke="none" stroke-width="1" />
<rect x="567.8" y="654.8" width="1.8" height="2.2" fill="#c23ab0" stroke="none" stroke-width="1" />
<rect x="569.9" y="655.3" width="1.8" height="1.7" fill="#c23ab0" stroke="none" stroke-width="1" />
<rect x="572" y="655.8" width="1.8" height="1.2" fill="#c23ab0" stroke="none" stroke-width="1" />
<rect x="574.1" y="655.3" width="1.8" height="1.7" fill="#c23ab0" stroke="none" stroke-width="1" />
<rect x="576.2" y="655.8" width="1.8" height="1.2" fill="#c23ab0" stroke="none" stroke-width="1" />
<rect x="578.3" y="656.3" width="1.8" height="0.7" fill="#c23ab0" stroke="none" stroke-width="1" />
<rect x="580.4" y="655.8" width="1.8" height="1.2" fill="#c23ab0" stroke="none" stroke-width="1" />
<rect x="582.5" y="656.3" width="1.8" height="0.7" fill="#c23ab0" stroke="none" stroke-width="1" />
<rect x="584.6" y="656" width="1.8" height="1" fill="#c23ab0" stroke="none" stroke-width="1" />
<rect x="586.7" y="656.3" width="1.8" height="0.7" fill="#c23ab0" stroke="none" stroke-width="1" />
<rect x="588.8" y="656.7" width="1.8" height="0.3" fill="#c23ab0" stroke="none" stroke-width="1" />
<rect x="590.9" y="656.3" width="1.8" height="0.7" fill="#c23ab0" stroke="none" stroke-width="1" />
<rect x="593" y="656.7" width="1.8" height="0.3" fill="#c23ab0" stroke="none" stroke-width="1" />
<rect x="595.1" y="656.3" width="1.8" height="0.7" fill="#c23ab0" stroke="none" stroke-width="1" />
<rect x="597.2" y="656.7" width="1.8" height="0.3" fill="#c23ab0" stroke="none" stroke-width="1" />
<rect x="478.6" y="645" width="3.5" height="12" fill="#c23ab0" stroke="none" stroke-width="1" />
<path d="M479.5,638.5 C480.2,638.1 482.2,636.6 484.0,636.0 C485.8,635.4 487.8,634.9 490.0,634.8 C492.2,634.7 494.5,635.0 497.0,635.5 C499.5,636.0 502.0,636.5 505.0,637.5 C508.0,638.5 511.7,640.2 515.0,641.5 C518.3,642.8 521.2,644.2 525.0,645.5 C528.8,646.8 533.0,648.2 538.0,649.5 C543.0,650.8 548.8,652.5 555.0,653.5 C561.2,654.5 568.0,655.3 575.0,655.8 C582.0,656.3 593.3,656.4 597.0,656.5" fill="none" stroke="#f7a070" stroke-width="0.7"/>
<rect x="478.6" y="539.3" width="119.2" height="118" fill="none" stroke="#6a6a6a" stroke-width="1.2" />
<line x1="478.6" y1="568.6" x2="597.8" y2="568.6" stroke="#777" stroke-width="1.0" />
<line x1="478.6" y1="598.4" x2="597.8" y2="598.4" stroke="#777" stroke-width="1.0" />
<line x1="478.6" y1="627.5" x2="597.8" y2="627.5" stroke="#2a1a10" stroke-width="1.4" />
<line x1="479.1" y1="549.7" x2="481.2" y2="549.7" stroke="#333" stroke-width="0.9" />
<text x="474.6" y="553" font-size="9.8" text-anchor="end" font-weight="normal" fill="#1a1a1a" stroke="#1a1a1a" stroke-width="0.1" >20</text>
<line x1="479.1" y1="578.3" x2="481.2" y2="578.3" stroke="#333" stroke-width="0.9" />
<text x="474.6" y="581.6" font-size="9.8" text-anchor="end" font-weight="normal" fill="#1a1a1a" stroke="#1a1a1a" stroke-width="0.1" >20</text>
<line x1="479.1" y1="603.9" x2="481.2" y2="603.9" stroke="#333" stroke-width="0.9" />
<text x="474.6" y="607.2" font-size="9.8" text-anchor="end" font-weight="normal" fill="#1a1a1a" stroke="#1a1a1a" stroke-width="0.1" >40</text>
<line x1="479.1" y1="634.1" x2="481.2" y2="634.1" stroke="#333" stroke-width="0.9" />
<text x="474.6" y="637.4" font-size="9.8" text-anchor="end" font-weight="normal" fill="#1a1a1a" stroke="#1a1a1a" stroke-width="0.1" >40</text>
<line x1="508.4" y1="656.8" x2="508.4" y2="655.6" stroke="#333" stroke-width="0.9" />
<line x1="538.2" y1="656.8" x2="538.2" y2="654.7" stroke="#333" stroke-width="0.9" />
<line x1="568" y1="656.8" x2="568" y2="655.6" stroke="#333" stroke-width="0.9" />
<text x="471.3" y="668.3" font-size="9.8" text-anchor="middle" font-weight="normal" fill="#1a1a1a" stroke="#1a1a1a" stroke-width="0.1" >0</text>
<text x="538" y="668.3" font-size="9.8" text-anchor="middle" font-weight="normal" fill="#1a1a1a" stroke="#1a1a1a" stroke-width="0.1" >50</text>
<text x="598" y="668.3" font-size="9.8" text-anchor="middle" font-weight="normal" fill="#1a1a1a" stroke="#1a1a1a" stroke-width="0.1" >100</text>
<text x="538.6" y="683.2" font-size="9.8" text-anchor="middle" font-weight="normal" fill="#1a1a1a" stroke="#1a1a1a" stroke-width="0.1" >Dwell time (ms)</text>
<g transform="translate(451.4,592.5) rotate(-90)"><text x="0" y="0" font-size="10.3" text-anchor="middle" fill="#1a1a1a">Counts</text></g>
<text x="442.3" y="542.8" font-size="14" text-anchor="start" font-weight="bold" fill="#1a1a1a" stroke="#1a1a1a" stroke-width="0.1" >j</text>
<text x="528.4" y="556.6" font-size="8.6" text-anchor="start" font-weight="normal" fill="#1a1a1a" stroke="#1a1a1a" stroke-width="0.1" ><tspan font-family="Liberation Serif" font-style="italic" font-size="9.4">τ</tspan><tspan font-size="6.2" dy="2.6">D</tspan><tspan dy="-2.6"> = 1.4 ± 0.3 ms</tspan></text>
<text x="528.4" y="587.4" font-size="8.6" text-anchor="start" font-weight="normal" fill="#1a1a1a" stroke="#1a1a1a" stroke-width="0.1" ><tspan font-family="Liberation Serif" font-style="italic" font-size="9.4">τ</tspan><tspan font-size="6.2" dy="2.6">D</tspan><tspan dy="-2.6"> = 1.6 ± 0.6 ms</tspan></text>
<text x="528.4" y="618.4" font-size="8.6" text-anchor="start" font-weight="normal" fill="#1a1a1a" stroke="#1a1a1a" stroke-width="0.1" ><tspan font-family="Liberation Serif" font-style="italic" font-size="9.4">τ</tspan><tspan font-size="6.2" dy="2.6">D</tspan><tspan dy="-2.6">= 9.6 ± 2.6 ms</tspan></text>
<text x="528.4" y="644.8" font-size="8.6" text-anchor="start" font-weight="normal" fill="#1a1a1a" stroke="#1a1a1a" stroke-width="0.1" ><tspan font-family="Liberation Serif" font-style="italic" font-size="9.4">τ</tspan><tspan font-size="6.2" dy="2.6">D</tspan><tspan dy="-2.6"> = 10.8 ± 1.7 ms</tspan></text>
<defs>
<linearGradient id="redH" x1="0" y1="0" x2="1" y2="0">
 <stop offset="0" stop-color="#8e1010"/><stop offset="0.2" stop-color="#780c0c"/><stop offset="0.38" stop-color="#981616"/>
 <stop offset="0.6" stop-color="#b01c1c"/><stop offset="0.8" stop-color="#a81a1a"/><stop offset="1" stop-color="#9a1414"/>
</linearGradient>
<linearGradient id="redV" x1="0" y1="0" x2="0" y2="1">
 <stop offset="0" stop-color="#4a0606" stop-opacity="0.45"/><stop offset="0.4" stop-color="#5a0808" stop-opacity="0"/><stop offset="1" stop-color="#5a0808" stop-opacity="0"/>
</linearGradient>
<linearGradient id="wallL" x1="0" y1="0" x2="1" y2="0">
 <stop offset="0" stop-color="#9e1818"/><stop offset="0.5" stop-color="#b42222"/><stop offset="1" stop-color="#a01a1a"/>
</linearGradient>
<linearGradient id="wallR" x1="0" y1="0" x2="1" y2="0">
 <stop offset="0" stop-color="#9a1414"/><stop offset="0.5" stop-color="#b52222"/><stop offset="1" stop-color="#b82626"/>
</linearGradient>
<linearGradient id="grayH" x1="0" y1="0" x2="1" y2="0">
 <stop offset="0" stop-color="#f0f0f0"/><stop offset="0.05" stop-color="#cacaca"/><stop offset="0.12" stop-color="#767676"/>
 <stop offset="0.2" stop-color="#a8a8a8"/><stop offset="0.3" stop-color="#e6e6e6"/><stop offset="0.4" stop-color="#fafafa"/><stop offset="0.64" stop-color="#fbfbfb"/>
 <stop offset="0.76" stop-color="#cccccc"/><stop offset="0.87" stop-color="#858585"/><stop offset="0.94" stop-color="#c8c8c8"/><stop offset="1" stop-color="#f0f0f0"/>
</linearGradient>
<linearGradient id="grayV" x1="0" y1="0" x2="0" y2="1">
 <stop offset="0" stop-color="#ffffff" stop-opacity="0.55"/><stop offset="0.5" stop-color="#ffffff" stop-opacity="0.1"/><stop offset="1" stop-color="#000" stop-opacity="0.05"/>
</linearGradient>
<linearGradient id="band" x1="0" y1="0" x2="1" y2="0">
 <stop offset="0" stop-color="#f6f6f6"/><stop offset="0.07" stop-color="#cbcbcb"/><stop offset="0.22" stop-color="#d2d2d2"/>
 <stop offset="0.36" stop-color="#fbfbfb"/><stop offset="0.64" stop-color="#fbfbfb"/><stop offset="0.78" stop-color="#d6d6d6"/><stop offset="0.91" stop-color="#c8c8c8"/><stop offset="1" stop-color="#f6f6f6"/>
</linearGradient>
<radialGradient id="ins" cx="0.45" cy="0.4" r="0.6">
 <stop offset="0" stop-color="#a8d690"/><stop offset="0.6" stop-color="#84bc6c"/><stop offset="1" stop-color="#5e9450"/>
</radialGradient>
</defs>
<path d="M20.6,291.9 L88.6,291.9 L95.1,320.2 L14.1,320.2 Z" fill="url(#grayH)"/>
<path d="M20.6,291.9 L88.6,291.9 L95.1,320.2 L14.1,320.2 Z" fill="url(#grayV)"/>
<rect x="11.2" y="320.2" width="86.8" height="5.0" fill="url(#band)"/>
<rect x="7.6" y="334.2" width="94.0" height="6.5" fill="url(#band)"/>
<path d="M33.6,256.0 L75.6,256.0 L88.6,291.9 L20.6,291.9 Z" fill="url(#redH)"/>
<path d="M33.6,256.0 L75.6,256.0 L88.6,291.9 L20.6,291.9 Z" fill="url(#redV)"/>
<path d="M33.6,256.0 L40.1,256.8 L28.6,291.9 L20.6,291.9 Z" fill="url(#wallL)"/>
<path d="M40.1,256.8 L28.6,291.9" stroke="#6a0808" stroke-width="0.8" opacity="0.5"/>
<path d="M69.8,256.5 L75.6,256.0 L88.6,291.9 L81.2,291.9 Z" fill="url(#wallR)"/>
<path d="M69.8,256.5 L81.2,291.9" stroke="#5e0606" stroke-width="0.9" opacity="0.8"/>
<path d="M33.6,256.0 L75.6,256.0 L88.6,291.9 L20.6,291.9 Z" fill="none" stroke="#6a0a0a" stroke-width="0.7"/>
<rect x="52.3" y="253.0" width="4.7" height="89.2" fill="#fff"/>
<path d="M44.5,256 L47,259.5 L49.5,256.4 Z" fill="#fff"/>
<path d="M59.5,256.6 L61.5,259.8 L64,257 Z" fill="#fff"/>
<path d="M41.9,244.7 C46,245.5 48,249 47.2,252 C46.8,254 46.8,256 46.8,258" fill="none" stroke="#9a9a9a" stroke-width="1.3"/>
<path d="M41.9,244.7 C46,245.5 48,249 47.2,252 C46.8,254 46.8,256 46.8,258" fill="none" stroke="#fff" stroke-width="0.6"/>
<path d="M64.2,244.7 C60,245.5 58.5,249 59,252 C59.3,254 60.5,256 61,258" fill="none" stroke="#9a9a9a" stroke-width="1.3"/>
<path d="M64.2,244.7 C60,245.5 58.5,249 59,252 C59.3,254 60.5,256 61,258" fill="none" stroke="#fff" stroke-width="0.6"/>
<line x1="54.6" y1="226" x2="54.6" y2="344" stroke="#d4d4d4" stroke-width="0.6" />
<g><line x1="26" y1="241.2" x2="33.4" y2="241.6" stroke="#6f9bc2" stroke-width="3" stroke-linecap="round"/><line x1="33.4" y1="241" x2="38.8" y2="234.8" stroke="#2a405c" stroke-width="3.0" stroke-linecap="round"/><line x1="34" y1="242.5" x2="38.3" y2="247.8" stroke="#2a405c" stroke-width="3.0" stroke-linecap="round"/><line x1="34" y1="241.2" x2="35.4" y2="239.5" stroke="#6f9bc2" stroke-width="1.6" stroke-linecap="round"/><line x1="34.4" y1="242.6" x2="35.6" y2="244.1" stroke="#6f9bc2" stroke-width="1.6" stroke-linecap="round"/></g>
<g><line x1="74.4" y1="233.2" x2="68.2" y2="238.6" stroke="#6f9bc2" stroke-width="3" stroke-linecap="round"/><line x1="67.2" y1="238.8" x2="60.6" y2="237.6" stroke="#2a405c" stroke-width="3.0" stroke-linecap="round"/><line x1="67.6" y1="240" x2="69.2" y2="247" stroke="#2a405c" stroke-width="3.0" stroke-linecap="round"/><line x1="66.8" y1="238.9" x2="65.0" y2="238.6" stroke="#6f9bc2" stroke-width="1.6" stroke-linecap="round"/><line x1="67.8" y1="240.4" x2="68.2" y2="242.2" stroke="#6f9bc2" stroke-width="1.6" stroke-linecap="round"/></g>
<circle cx="70.4" cy="253.4" r="4.0" fill="url(#ins)"/>
<circle cx="72.8" cy="256.1" r="1.7" fill="#76ae62"/>
<circle cx="72.9" cy="255.7" r="1.5" fill="#76ae62"/>
<circle cx="71.0" cy="251.1" r="1.2" fill="#76ae62"/>
<circle cx="67.3" cy="254.8" r="1.2" fill="#76ae62"/>
<circle cx="70.0" cy="256.9" r="1.6" fill="#94c87c"/>
<circle cx="72.2" cy="252.1" r="1.2" fill="#a4d28c"/>
<circle cx="74.0" cy="253.6" r="1.6" fill="#76ae62"/>
<circle cx="70.2" cy="252.0" r="0.8" fill="#5e9450"/>
<circle cx="70.6" cy="251.1" r="0.8" fill="#5e9450"/>
<circle cx="69.4" cy="253.0" r="0.8" fill="#5e9450"/>
<circle cx="87.3" cy="272.2" r="4.2" fill="url(#ins)"/>
<circle cx="91.1" cy="271.1" r="1.3" fill="#94c87c"/>
<circle cx="85.6" cy="274.2" r="1.8" fill="#76ae62"/>
<circle cx="87.3" cy="274.9" r="1.3" fill="#a4d28c"/>
<circle cx="89.0" cy="274.7" r="1.5" fill="#a4d28c"/>
<circle cx="89.3" cy="269.8" r="1.5" fill="#76ae62"/>
<circle cx="83.5" cy="272.2" r="1.8" fill="#76ae62"/>
<circle cx="84.5" cy="272.8" r="1.5" fill="#a4d28c"/>
<circle cx="87.7" cy="272.9" r="0.8" fill="#5e9450"/>
<circle cx="87.4" cy="273.0" r="0.8" fill="#5e9450"/>
<circle cx="88.0" cy="273.5" r="0.8" fill="#5e9450"/>
<circle cx="77.8" cy="285.5" r="4.4" fill="url(#ins)"/>
<circle cx="78.1" cy="288.9" r="1.6" fill="#a4d28c"/>
<circle cx="74.4" cy="286.1" r="1.7" fill="#76ae62"/>
<circle cx="77.6" cy="288.3" r="2.0" fill="#76ae62"/>
<circle cx="74.5" cy="284.6" r="1.6" fill="#94c87c"/>
<circle cx="78.1" cy="288.2" r="1.9" fill="#76ae62"/>
<circle cx="77.6" cy="281.9" r="1.4" fill="#a4d28c"/>
<circle cx="81.5" cy="286.5" r="1.9" fill="#76ae62"/>
<circle cx="75.8" cy="285.8" r="0.8" fill="#5e9450"/>
<circle cx="79.3" cy="284.1" r="0.8" fill="#5e9450"/>
<circle cx="79.0" cy="284.9" r="0.8" fill="#5e9450"/>
<circle cx="94.6" cy="295.0" r="4.3" fill="url(#ins)"/>
<circle cx="94.8" cy="297.5" r="1.5" fill="#94c87c"/>
<circle cx="96.6" cy="296.3" r="1.6" fill="#76ae62"/>
<circle cx="95.7" cy="291.5" r="1.4" fill="#a4d28c"/>
<circle cx="92.2" cy="297.9" r="1.8" fill="#76ae62"/>
<circle cx="95.5" cy="298.9" r="1.8" fill="#76ae62"/>
<circle cx="95.4" cy="292.4" r="1.5" fill="#a4d28c"/>
<circle cx="97.3" cy="292.0" r="1.8" fill="#76ae62"/>
<circle cx="96.1" cy="295.9" r="0.8" fill="#5e9450"/>
<circle cx="93.9" cy="293.7" r="0.8" fill="#5e9450"/>
<circle cx="95.2" cy="296.3" r="0.8" fill="#5e9450"/>
<text x="0.8" y="247.8" font-size="14" text-anchor="start" font-weight="bold" fill="#000" stroke="#000" stroke-width="0.1" >d</text>
<text x="78.8" y="247.5" font-size="14" text-anchor="start" font-weight="bold" fill="#000" stroke="#000" stroke-width="0.1" >e</text>
<path d="M22.3,430.7 L84.1,430.7 L92.2,461.0 L14.2,461.0 Z" fill="url(#grayH)"/>
<path d="M22.3,430.7 L84.1,430.7 L92.2,461.0 L14.2,461.0 Z" fill="url(#grayV)"/>
<rect x="11.3" y="460.8" width="83.8" height="4.5" fill="url(#band)"/>
<rect x="9.9" y="475.2" width="86.6" height="6.4" fill="url(#band)"/>
<path d="M36.6,391.8 L71.8,391.8 L84.1,430.7 L22.3,430.7 Z" fill="url(#redH)"/>
<path d="M36.6,391.8 L71.8,391.8 L84.1,430.7 L22.3,430.7 Z" fill="url(#redV)"/>
<path d="M36.6,391.8 L43.1,392.6 L30.3,430.7 L22.3,430.7 Z" fill="url(#wallL)"/>
<path d="M43.1,392.6 L30.3,430.7" stroke="#6a0808" stroke-width="0.8" opacity="0.5"/>
<path d="M66.0,392.3 L71.8,391.8 L84.1,430.7 L76.8,430.7 Z" fill="url(#wallR)"/>
<path d="M66.0,392.3 L76.8,430.7" stroke="#5e0606" stroke-width="0.9" opacity="0.8"/>
<path d="M36.6,391.8 L71.8,391.8 L84.1,430.7 L22.3,430.7 Z" fill="none" stroke="#6a0a0a" stroke-width="0.7"/>
<path d="M6.5,484.3 L99.5,494.8 L99.5,497.8 L6.5,497.6 Z" fill="url(#band)"/>
<path d="M54.2,384.8 Q53.7,392.0 50.0,395.0" fill="none" stroke="#fff" stroke-width="2.0" stroke-linecap="round"/>
<path d="M46.800000000000004,394.0 L52.6,394.8 L49.300000000000004,399.0 Z" fill="#fff"/>
<circle cx="30.5" cy="394.7" r="4.6" fill="url(#ins)"/>
<circle cx="27.5" cy="393.3" r="1.8" fill="#94c87c"/>
<circle cx="27.2" cy="395.5" r="1.6" fill="#94c87c"/>
<circle cx="33.9" cy="395.4" r="1.4" fill="#a4d28c"/>
<circle cx="33.1" cy="394.6" r="2.0" fill="#a4d28c"/>
<circle cx="28.5" cy="397.3" r="2.0" fill="#76ae62"/>
<circle cx="26.8" cy="395.7" r="1.8" fill="#94c87c"/>
<circle cx="26.5" cy="395.8" r="1.5" fill="#76ae62"/>
<circle cx="30.1" cy="394.3" r="0.8" fill="#5e9450"/>
<circle cx="31.3" cy="394.7" r="0.8" fill="#5e9450"/>
<circle cx="31.6" cy="394.3" r="0.8" fill="#5e9450"/>
<circle cx="24.2" cy="409.8" r="4.6" fill="url(#ins)"/>
<circle cx="20.8" cy="410.8" r="2.0" fill="#76ae62"/>
<circle cx="20.3" cy="411.0" r="1.5" fill="#a4d28c"/>
<circle cx="20.6" cy="410.4" r="1.5" fill="#76ae62"/>
<circle cx="23.3" cy="412.3" r="1.9" fill="#a4d28c"/>
<circle cx="21.8" cy="407.1" r="1.7" fill="#76ae62"/>
<circle cx="22.1" cy="406.8" r="1.5" fill="#94c87c"/>
<circle cx="25.5" cy="407.5" r="1.4" fill="#94c87c"/>
<circle cx="22.4" cy="408.5" r="0.8" fill="#5e9450"/>
<circle cx="23.4" cy="411.4" r="0.8" fill="#5e9450"/>
<circle cx="24.5" cy="410.7" r="0.8" fill="#5e9450"/>
<circle cx="18.0" cy="425.0" r="4.6" fill="url(#ins)"/>
<circle cx="14.3" cy="425.6" r="1.8" fill="#94c87c"/>
<circle cx="14.8" cy="428.0" r="1.7" fill="#a4d28c"/>
<circle cx="19.4" cy="421.5" r="1.8" fill="#a4d28c"/>
<circle cx="21.7" cy="425.0" r="2.1" fill="#76ae62"/>
<circle cx="20.2" cy="428.6" r="1.4" fill="#94c87c"/>
<circle cx="21.4" cy="426.7" r="1.6" fill="#76ae62"/>
<circle cx="18.8" cy="422.4" r="2.0" fill="#a4d28c"/>
<circle cx="17.3" cy="425.0" r="0.8" fill="#5e9450"/>
<circle cx="20.6" cy="424.8" r="0.8" fill="#5e9450"/>
<circle cx="19.1" cy="425.9" r="0.8" fill="#5e9450"/>
<circle cx="63.1" cy="389.2" r="4.6" fill="url(#ins)"/>
<circle cx="62.9" cy="393.0" r="1.9" fill="#94c87c"/>
<circle cx="60.9" cy="386.1" r="2.0" fill="#a4d28c"/>
<circle cx="62.8" cy="386.4" r="1.7" fill="#94c87c"/>
<circle cx="63.0" cy="386.6" r="1.5" fill="#a4d28c"/>
<circle cx="61.1" cy="387.6" r="1.6" fill="#94c87c"/>
<circle cx="66.5" cy="391.2" r="2.0" fill="#76ae62"/>
<circle cx="64.9" cy="385.7" r="2.0" fill="#76ae62"/>
<circle cx="62.5" cy="390.0" r="0.8" fill="#5e9450"/>
<circle cx="64.5" cy="388.2" r="0.8" fill="#5e9450"/>
<circle cx="65.1" cy="389.0" r="0.8" fill="#5e9450"/>
<circle cx="81.7" cy="405.1" r="4.6" fill="url(#ins)"/>
<circle cx="84.7" cy="407.5" r="1.8" fill="#94c87c"/>
<circle cx="81.3" cy="408.1" r="1.9" fill="#a4d28c"/>
<circle cx="78.5" cy="406.2" r="2.0" fill="#76ae62"/>
<circle cx="82.2" cy="402.4" r="1.5" fill="#76ae62"/>
<circle cx="79.8" cy="407.4" r="1.9" fill="#a4d28c"/>
<circle cx="78.9" cy="404.8" r="1.8" fill="#76ae62"/>
<circle cx="83.6" cy="408.3" r="1.5" fill="#76ae62"/>
<circle cx="82.8" cy="405.3" r="0.8" fill="#5e9450"/>
<circle cx="82.5" cy="404.0" r="0.8" fill="#5e9450"/>
<circle cx="79.4" cy="403.8" r="0.8" fill="#5e9450"/>
<circle cx="71.7" cy="419.3" r="4.6" fill="url(#ins)"/>
<circle cx="74.2" cy="418.7" r="1.9" fill="#94c87c"/>
<circle cx="74.2" cy="417.8" r="1.4" fill="#a4d28c"/>
<circle cx="74.0" cy="422.3" r="1.6" fill="#94c87c"/>
<circle cx="69.7" cy="422.6" r="1.6" fill="#76ae62"/>
<circle cx="69.3" cy="422.8" r="1.5" fill="#76ae62"/>
<circle cx="72.6" cy="416.5" r="2.0" fill="#a4d28c"/>
<circle cx="68.5" cy="421.0" r="2.0" fill="#76ae62"/>
<circle cx="73.2" cy="420.1" r="0.8" fill="#5e9450"/>
<circle cx="70.6" cy="420.7" r="0.8" fill="#5e9450"/>
<circle cx="73.5" cy="418.5" r="0.8" fill="#5e9450"/>
<circle cx="88.2" cy="426.9" r="4.6" fill="url(#ins)"/>
<circle cx="86.0" cy="429.5" r="1.7" fill="#76ae62"/>
<circle cx="92.3" cy="427.1" r="1.9" fill="#94c87c"/>
<circle cx="86.5" cy="425.0" r="1.6" fill="#76ae62"/>
<circle cx="86.1" cy="423.2" r="1.8" fill="#94c87c"/>
<circle cx="89.2" cy="422.7" r="1.6" fill="#94c87c"/>
<circle cx="89.5" cy="423.4" r="1.4" fill="#76ae62"/>
<circle cx="85.1" cy="424.7" r="2.1" fill="#76ae62"/>
<circle cx="87.3" cy="428.0" r="0.8" fill="#5e9450"/>
<circle cx="89.6" cy="427.7" r="0.8" fill="#5e9450"/>
<circle cx="87.3" cy="426.8" r="0.8" fill="#5e9450"/>
<g transform="translate(19.5,387.1) rotate(122) scale(1.0)" stroke-linecap="round"><line x1="-3.2" y1="-0.9" x2="-6.6" y2="-4.3" stroke="#363c88" stroke-width="2.9"/><line x1="3.2" y1="-0.9" x2="6.6" y2="-4.3" stroke="#363c88" stroke-width="2.9"/><line x1="0" y1="0.5" x2="0" y2="7.5" stroke="#a87430" stroke-width="3.6"/><line x1="0" y1="0" x2="-5.2" y2="-5.2" stroke="#a87430" stroke-width="3.2"/><line x1="0" y1="0" x2="5.2" y2="-5.2" stroke="#a87430" stroke-width="3.2"/><line x1="0" y1="0.5" x2="0" y2="7.5" stroke="#c8944a" stroke-width="2.7"/><line x1="0" y1="0" x2="-5.2" y2="-5.2" stroke="#c8944a" stroke-width="2.3"/><line x1="0" y1="0" x2="5.2" y2="-5.2" stroke="#c8944a" stroke-width="2.3"/><line x1="-3.2" y1="-0.9" x2="-6.6" y2="-4.3" stroke="#4a52a8" stroke-width="2.0"/><line x1="3.2" y1="-0.9" x2="6.6" y2="-4.3" stroke="#4a52a8" stroke-width="2.0"/></g>
<g transform="translate(61.2,381.4) rotate(163) scale(1.0)" stroke-linecap="round"><line x1="-3.2" y1="-0.9" x2="-6.6" y2="-4.3" stroke="#363c88" stroke-width="2.9"/><line x1="3.2" y1="-0.9" x2="6.6" y2="-4.3" stroke="#363c88" stroke-width="2.9"/><line x1="0" y1="0.5" x2="0" y2="7.5" stroke="#a87430" stroke-width="3.6"/><line x1="0" y1="0" x2="-5.2" y2="-5.2" stroke="#a87430" stroke-width="3.2"/><line x1="0" y1="0" x2="5.2" y2="-5.2" stroke="#a87430" stroke-width="3.2"/><line x1="0" y1="0.5" x2="0" y2="7.5" stroke="#c8944a" stroke-width="2.7"/><line x1="0" y1="0" x2="-5.2" y2="-5.2" stroke="#c8944a" stroke-width="2.3"/><line x1="0" y1="0" x2="5.2" y2="-5.2" stroke="#c8944a" stroke-width="2.3"/><line x1="-3.2" y1="-0.9" x2="-6.6" y2="-4.3" stroke="#4a52a8" stroke-width="2.0"/><line x1="3.2" y1="-0.9" x2="6.6" y2="-4.3" stroke="#4a52a8" stroke-width="2.0"/></g>
<text x="0.7" y="380.7" font-size="14" text-anchor="start" font-weight="bold" fill="#000" stroke="#000" stroke-width="0.1" >f</text>
<path d="M26.3,594.8 L87.7,594.8 L94.0,621.0 L20.0,621.0 Z" fill="url(#grayH)"/>
<path d="M26.3,594.8 L87.7,594.8 L94.0,621.0 L20.0,621.0 Z" fill="url(#grayV)"/>
<rect x="17.8" y="624.0" width="78.4" height="5.7" fill="url(#band)"/>
<rect x="16.8" y="639.1" width="80.4" height="6.6" fill="url(#band)"/>
<path d="M34.9,555.5 L75.5,556.0 L87.7,594.8 L26.3,594.8 Z" fill="url(#redH)"/>
<path d="M34.9,555.5 L75.5,556.0 L87.7,594.8 L26.3,594.8 Z" fill="url(#redV)"/>
<path d="M34.9,555.5 L41.9,556.3 L34.8,594.8 L26.3,594.8 Z" fill="url(#wallL)"/>
<path d="M41.9,556.3 L34.8,594.8" stroke="#6a0808" stroke-width="0.8" opacity="0.5"/>
<path d="M69.2,556.5 L75.5,556.0 L87.7,594.8 L79.9,594.8 Z" fill="url(#wallR)"/>
<path d="M69.2,556.5 L79.9,594.8" stroke="#5e0606" stroke-width="0.9" opacity="0.8"/>
<path d="M34.9,555.5 L75.5,556.0 L87.7,594.8 L26.3,594.8 Z" fill="none" stroke="#6a0a0a" stroke-width="0.7"/>
<path d="M54.7,556.8 Q54.2,562.5999999999999 51.4,564.1999999999999" fill="none" stroke="#fff" stroke-width="2.0" stroke-linecap="round"/>
<path d="M48.2,563.1999999999999 L54.0,564.0 L50.7,568.1999999999999 Z" fill="#fff"/>
<circle cx="34.0" cy="558.0" r="4.4" fill="url(#ins)"/>
<circle cx="37.0" cy="556.0" r="1.8" fill="#94c87c"/>
<circle cx="33.8" cy="561.5" r="1.9" fill="#76ae62"/>
<circle cx="31.6" cy="556.8" r="1.6" fill="#94c87c"/>
<circle cx="36.4" cy="559.8" r="1.9" fill="#76ae62"/>
<circle cx="31.6" cy="559.5" r="1.7" fill="#a4d28c"/>
<circle cx="32.4" cy="560.7" r="1.7" fill="#76ae62"/>
<circle cx="31.7" cy="559.6" r="1.5" fill="#94c87c"/>
<circle cx="34.7" cy="558.5" r="0.8" fill="#5e9450"/>
<circle cx="33.6" cy="557.0" r="0.8" fill="#5e9450"/>
<circle cx="33.7" cy="557.3" r="0.8" fill="#5e9450"/>
<circle cx="26.4" cy="573.0" r="4.4" fill="url(#ins)"/>
<circle cx="28.3" cy="576.1" r="1.7" fill="#76ae62"/>
<circle cx="28.7" cy="569.5" r="1.6" fill="#a4d28c"/>
<circle cx="27.8" cy="576.1" r="1.8" fill="#94c87c"/>
<circle cx="24.0" cy="575.5" r="1.4" fill="#94c87c"/>
<circle cx="29.6" cy="571.3" r="1.6" fill="#a4d28c"/>
<circle cx="26.8" cy="569.9" r="1.6" fill="#76ae62"/>
<circle cx="22.9" cy="572.1" r="1.7" fill="#76ae62"/>
<circle cx="28.4" cy="573.3" r="0.8" fill="#5e9450"/>
<circle cx="28.3" cy="574.2" r="0.8" fill="#5e9450"/>
<circle cx="27.2" cy="573.1" r="0.8" fill="#5e9450"/>
<circle cx="22.6" cy="589.0" r="4.4" fill="url(#ins)"/>
<circle cx="25.2" cy="588.3" r="1.3" fill="#76ae62"/>
<circle cx="23.7" cy="591.4" r="1.7" fill="#76ae62"/>
<circle cx="23.3" cy="586.5" r="1.5" fill="#94c87c"/>
<circle cx="21.1" cy="592.2" r="1.9" fill="#a4d28c"/>
<circle cx="22.3" cy="585.8" r="1.9" fill="#a4d28c"/>
<circle cx="25.1" cy="586.7" r="1.5" fill="#94c87c"/>
<circle cx="23.7" cy="591.4" r="1.7" fill="#a4d28c"/>
<circle cx="23.0" cy="586.5" r="0.8" fill="#5e9450"/>
<circle cx="20.8" cy="588.2" r="0.8" fill="#5e9450"/>
<circle cx="21.8" cy="588.3" r="0.8" fill="#5e9450"/>
<circle cx="67.0" cy="553.3" r="4.4" fill="url(#ins)"/>
<circle cx="70.6" cy="551.4" r="1.9" fill="#94c87c"/>
<circle cx="69.9" cy="553.6" r="1.6" fill="#76ae62"/>
<circle cx="68.9" cy="555.3" r="1.6" fill="#94c87c"/>
<circle cx="64.1" cy="550.6" r="1.4" fill="#a4d28c"/>
<circle cx="64.5" cy="553.3" r="1.7" fill="#76ae62"/>
<circle cx="65.4" cy="555.3" r="1.8" fill="#a4d28c"/>
<circle cx="65.1" cy="555.3" r="1.5" fill="#a4d28c"/>
<circle cx="65.6" cy="554.9" r="0.8" fill="#5e9450"/>
<circle cx="65.8" cy="554.5" r="0.8" fill="#5e9450"/>
<circle cx="66.4" cy="552.3" r="0.8" fill="#5e9450"/>
<circle cx="84.9" cy="569.3" r="4.4" fill="url(#ins)"/>
<circle cx="84.0" cy="565.5" r="1.4" fill="#94c87c"/>
<circle cx="86.1" cy="572.7" r="1.4" fill="#94c87c"/>
<circle cx="85.9" cy="566.6" r="1.9" fill="#94c87c"/>
<circle cx="81.2" cy="570.7" r="2.0" fill="#94c87c"/>
<circle cx="87.6" cy="569.8" r="1.6" fill="#76ae62"/>
<circle cx="83.5" cy="566.3" r="2.0" fill="#a4d28c"/>
<circle cx="85.2" cy="565.4" r="1.4" fill="#76ae62"/>
<circle cx="85.5" cy="569.2" r="0.8" fill="#5e9450"/>
<circle cx="83.8" cy="567.8" r="0.8" fill="#5e9450"/>
<circle cx="85.8" cy="569.5" r="0.8" fill="#5e9450"/>
<circle cx="75.5" cy="584.4" r="4.4" fill="url(#ins)"/>
<circle cx="72.6" cy="587.2" r="1.9" fill="#94c87c"/>
<circle cx="78.2" cy="583.2" r="1.6" fill="#76ae62"/>
<circle cx="78.8" cy="585.1" r="1.4" fill="#94c87c"/>
<circle cx="72.2" cy="582.7" r="1.5" fill="#a4d28c"/>
<circle cx="73.9" cy="588.1" r="1.7" fill="#a4d28c"/>
<circle cx="72.9" cy="584.9" r="2.0" fill="#a4d28c"/>
<circle cx="74.0" cy="581.3" r="1.6" fill="#76ae62"/>
<circle cx="75.8" cy="585.1" r="0.8" fill="#5e9450"/>
<circle cx="74.9" cy="584.5" r="0.8" fill="#5e9450"/>
<circle cx="74.0" cy="583.8" r="0.8" fill="#5e9450"/>
<circle cx="91.0" cy="590.0" r="4.4" fill="url(#ins)"/>
<circle cx="91.0" cy="587.2" r="1.5" fill="#a4d28c"/>
<circle cx="88.5" cy="589.3" r="1.9" fill="#76ae62"/>
<circle cx="94.5" cy="590.9" r="1.7" fill="#a4d28c"/>
<circle cx="88.4" cy="591.2" r="1.8" fill="#a4d28c"/>
<circle cx="93.1" cy="586.8" r="2.0" fill="#94c87c"/>
<circle cx="89.0" cy="586.6" r="1.4" fill="#94c87c"/>
<circle cx="87.8" cy="587.8" r="2.0" fill="#76ae62"/>
<circle cx="91.1" cy="591.7" r="0.8" fill="#5e9450"/>
<circle cx="93.0" cy="590.4" r="0.8" fill="#5e9450"/>
<circle cx="91.9" cy="588.7" r="0.8" fill="#5e9450"/>
<g transform="translate(44.3,542.0) rotate(25) scale(1.0)" stroke-linecap="round"><line x1="-3.2" y1="-0.9" x2="-6.6" y2="-4.3" stroke="#363c88" stroke-width="2.9"/><line x1="3.2" y1="-0.9" x2="6.6" y2="-4.3" stroke="#363c88" stroke-width="2.9"/><line x1="0" y1="0.5" x2="0" y2="7.5" stroke="#a87430" stroke-width="3.6"/><line x1="0" y1="0" x2="-5.2" y2="-5.2" stroke="#a87430" stroke-width="3.2"/><line x1="0" y1="0" x2="5.2" y2="-5.2" stroke="#a87430" stroke-width="3.2"/><line x1="0" y1="0.5" x2="0" y2="7.5" stroke="#c8944a" stroke-width="2.7"/><line x1="0" y1="0" x2="-5.2" y2="-5.2" stroke="#c8944a" stroke-width="2.3"/><line x1="0" y1="0" x2="5.2" y2="-5.2" stroke="#c8944a" stroke-width="2.3"/><line x1="-3.2" y1="-0.9" x2="-6.6" y2="-4.3" stroke="#4a52a8" stroke-width="2.0"/><line x1="3.2" y1="-0.9" x2="6.6" y2="-4.3" stroke="#4a52a8" stroke-width="2.0"/></g>
<g transform="translate(63.2,544.8) rotate(144) scale(1.0)" stroke-linecap="round"><line x1="-3.2" y1="-0.9" x2="-6.6" y2="-4.3" stroke="#363c88" stroke-width="2.9"/><line x1="3.2" y1="-0.9" x2="6.6" y2="-4.3" stroke="#363c88" stroke-width="2.9"/><line x1="0" y1="0.5" x2="0" y2="7.5" stroke="#a87430" stroke-width="3.6"/><line x1="0" y1="0" x2="-5.2" y2="-5.2" stroke="#a87430" stroke-width="3.2"/><line x1="0" y1="0" x2="5.2" y2="-5.2" stroke="#a87430" stroke-width="3.2"/><line x1="0" y1="0.5" x2="0" y2="7.5" stroke="#c8944a" stroke-width="2.7"/><line x1="0" y1="0" x2="-5.2" y2="-5.2" stroke="#c8944a" stroke-width="2.3"/><line x1="0" y1="0" x2="5.2" y2="-5.2" stroke="#c8944a" stroke-width="2.3"/><line x1="-3.2" y1="-0.9" x2="-6.6" y2="-4.3" stroke="#4a52a8" stroke-width="2.0"/><line x1="3.2" y1="-0.9" x2="6.6" y2="-4.3" stroke="#4a52a8" stroke-width="2.0"/></g>
<g transform="translate(25.6,551.5) rotate(9) scale(1.0)" stroke-linecap="round"><line x1="-3.2" y1="-0.9" x2="-6.6" y2="-4.3" stroke="#b0b0b0" stroke-width="2.9"/><line x1="3.2" y1="-0.9" x2="6.6" y2="-4.3" stroke="#b0b0b0" stroke-width="2.9"/><line x1="0" y1="0.5" x2="0" y2="7.5" stroke="#b4b4b4" stroke-width="3.6"/><line x1="0" y1="0" x2="-5.2" y2="-5.2" stroke="#b4b4b4" stroke-width="3.2"/><line x1="0" y1="0" x2="5.2" y2="-5.2" stroke="#b4b4b4" stroke-width="3.2"/><line x1="0" y1="0.5" x2="0" y2="7.5" stroke="#dcdcdc" stroke-width="2.7"/><line x1="0" y1="0" x2="-5.2" y2="-5.2" stroke="#dcdcdc" stroke-width="2.3"/><line x1="0" y1="0" x2="5.2" y2="-5.2" stroke="#dcdcdc" stroke-width="2.3"/><line x1="-3.2" y1="-0.9" x2="-6.6" y2="-4.3" stroke="#cdcdcd" stroke-width="2.0"/><line x1="3.2" y1="-0.9" x2="6.6" y2="-4.3" stroke="#cdcdcd" stroke-width="2.0"/></g>
<g transform="translate(20.4,571.0) rotate(122) scale(1.0)" stroke-linecap="round"><line x1="-3.2" y1="-0.9" x2="-6.6" y2="-4.3" stroke="#363c88" stroke-width="2.9"/><line x1="3.2" y1="-0.9" x2="6.6" y2="-4.3" stroke="#363c88" stroke-width="2.9"/><line x1="0" y1="0.5" x2="0" y2="7.5" stroke="#a87430" stroke-width="3.6"/><line x1="0" y1="0" x2="-5.2" y2="-5.2" stroke="#a87430" stroke-width="3.2"/><line x1="0" y1="0" x2="5.2" y2="-5.2" stroke="#a87430" stroke-width="3.2"/><line x1="0" y1="0.5" x2="0" y2="7.5" stroke="#c8944a" stroke-width="2.7"/><line x1="0" y1="0" x2="-5.2" y2="-5.2" stroke="#c8944a" stroke-width="2.3"/><line x1="0" y1="0" x2="5.2" y2="-5.2" stroke="#c8944a" stroke-width="2.3"/><line x1="-3.2" y1="-0.9" x2="-6.6" y2="-4.3" stroke="#4a52a8" stroke-width="2.0"/><line x1="3.2" y1="-0.9" x2="6.6" y2="-4.3" stroke="#4a52a8" stroke-width="2.0"/></g>
<g transform="translate(13.3,586.3) rotate(-90) scale(1.0)" stroke-linecap="round"><line x1="-3.2" y1="-0.9" x2="-6.6" y2="-4.3" stroke="#b0b0b0" stroke-width="2.9"/><line x1="3.2" y1="-0.9" x2="6.6" y2="-4.3" stroke="#b0b0b0" stroke-width="2.9"/><line x1="0" y1="0.5" x2="0" y2="7.5" stroke="#b4b4b4" stroke-width="3.6"/><line x1="0" y1="0" x2="-5.2" y2="-5.2" stroke="#b4b4b4" stroke-width="3.2"/><line x1="0" y1="0" x2="5.2" y2="-5.2" stroke="#b4b4b4" stroke-width="3.2"/><line x1="0" y1="0.5" x2="0" y2="7.5" stroke="#dcdcdc" stroke-width="2.7"/><line x1="0" y1="0" x2="-5.2" y2="-5.2" stroke="#dcdcdc" stroke-width="2.3"/><line x1="0" y1="0" x2="5.2" y2="-5.2" stroke="#dcdcdc" stroke-width="2.3"/><line x1="-3.2" y1="-0.9" x2="-6.6" y2="-4.3" stroke="#cdcdcd" stroke-width="2.0"/><line x1="3.2" y1="-0.9" x2="6.6" y2="-4.3" stroke="#cdcdcd" stroke-width="2.0"/></g>
<g transform="translate(93.4,569.3) rotate(90) scale(1.0)" stroke-linecap="round"><line x1="-3.2" y1="-0.9" x2="-6.6" y2="-4.3" stroke="#b0b0b0" stroke-width="2.9"/><line x1="3.2" y1="-0.9" x2="6.6" y2="-4.3" stroke="#b0b0b0" stroke-width="2.9"/><line x1="0" y1="0.5" x2="0" y2="7.5" stroke="#b4b4b4" stroke-width="3.6"/><line x1="0" y1="0" x2="-5.2" y2="-5.2" stroke="#b4b4b4" stroke-width="3.2"/><line x1="0" y1="0" x2="5.2" y2="-5.2" stroke="#b4b4b4" stroke-width="3.2"/><line x1="0" y1="0.5" x2="0" y2="7.5" stroke="#dcdcdc" stroke-width="2.7"/><line x1="0" y1="0" x2="-5.2" y2="-5.2" stroke="#dcdcdc" stroke-width="2.3"/><line x1="0" y1="0" x2="5.2" y2="-5.2" stroke="#dcdcdc" stroke-width="2.3"/><line x1="-3.2" y1="-0.9" x2="-6.6" y2="-4.3" stroke="#cdcdcd" stroke-width="2.0"/><line x1="3.2" y1="-0.9" x2="6.6" y2="-4.3" stroke="#cdcdcd" stroke-width="2.0"/></g>
<g transform="translate(68.0,580.8) rotate(-6) scale(1.0)" stroke-linecap="round"><line x1="-3.2" y1="-0.9" x2="-6.6" y2="-4.3" stroke="#b0b0b0" stroke-width="2.9"/><line x1="3.2" y1="-0.9" x2="6.6" y2="-4.3" stroke="#b0b0b0" stroke-width="2.9"/><line x1="0" y1="0.5" x2="0" y2="7.5" stroke="#b4b4b4" stroke-width="3.6"/><line x1="0" y1="0" x2="-5.2" y2="-5.2" stroke="#b4b4b4" stroke-width="3.2"/><line x1="0" y1="0" x2="5.2" y2="-5.2" stroke="#b4b4b4" stroke-width="3.2"/><line x1="0" y1="0.5" x2="0" y2="7.5" stroke="#dcdcdc" stroke-width="2.7"/><line x1="0" y1="0" x2="-5.2" y2="-5.2" stroke="#dcdcdc" stroke-width="2.3"/><line x1="0" y1="0" x2="5.2" y2="-5.2" stroke="#dcdcdc" stroke-width="2.3"/><line x1="-3.2" y1="-0.9" x2="-6.6" y2="-4.3" stroke="#cdcdcd" stroke-width="2.0"/><line x1="3.2" y1="-0.9" x2="6.6" y2="-4.3" stroke="#cdcdcd" stroke-width="2.0"/></g>
<g transform="translate(99.0,590.0) rotate(-96) scale(1.0)" stroke-linecap="round"><line x1="-3.2" y1="-0.9" x2="-6.6" y2="-4.3" stroke="#363c88" stroke-width="2.9"/><line x1="3.2" y1="-0.9" x2="6.6" y2="-4.3" stroke="#363c88" stroke-width="2.9"/><line x1="0" y1="0.5" x2="0" y2="7.5" stroke="#a87430" stroke-width="3.6"/><line x1="0" y1="0" x2="-5.2" y2="-5.2" stroke="#a87430" stroke-width="3.2"/><line x1="0" y1="0" x2="5.2" y2="-5.2" stroke="#a87430" stroke-width="3.2"/><line x1="0" y1="0.5" x2="0" y2="7.5" stroke="#c8944a" stroke-width="2.7"/><line x1="0" y1="0" x2="-5.2" y2="-5.2" stroke="#c8944a" stroke-width="2.3"/><line x1="0" y1="0" x2="5.2" y2="-5.2" stroke="#c8944a" stroke-width="2.3"/><line x1="-3.2" y1="-0.9" x2="-6.6" y2="-4.3" stroke="#4a52a8" stroke-width="2.0"/><line x1="3.2" y1="-0.9" x2="6.6" y2="-4.3" stroke="#4a52a8" stroke-width="2.0"/></g>
<path d="M14.5,548.5 C8.5,550.5 7,557 10.5,561.5" fill="none" stroke="#bcbcbc" stroke-width="0.8"/>
<path d="M-1.8,-1.4 L0,0 L-1.8,1.4" transform="translate(14.5,548.5) rotate(-20)" fill="none" stroke="#bcbcbc" stroke-width="0.8"/>
<path d="M8,567.5 C2,569.5 0.5,576 4,581.5" fill="none" stroke="#bcbcbc" stroke-width="0.8"/>
<path d="M-1.8,-1.4 L0,0 L-1.8,1.4" transform="translate(4,581.5) rotate(60)" fill="none" stroke="#bcbcbc" stroke-width="0.8"/>
<path d="M106.5,570.5 C112,572.5 113.5,578 110,582.5" fill="none" stroke="#bcbcbc" stroke-width="0.8"/>
<path d="M-1.8,-1.4 L0,0 L-1.8,1.4" transform="translate(106.5,570.5) rotate(200)" fill="none" stroke="#bcbcbc" stroke-width="0.8"/>
<text x="0.2" y="532.6" font-size="14" text-anchor="start" font-weight="bold" fill="#000" stroke="#000" stroke-width="0.1" >g</text>
</svg></body></html>
